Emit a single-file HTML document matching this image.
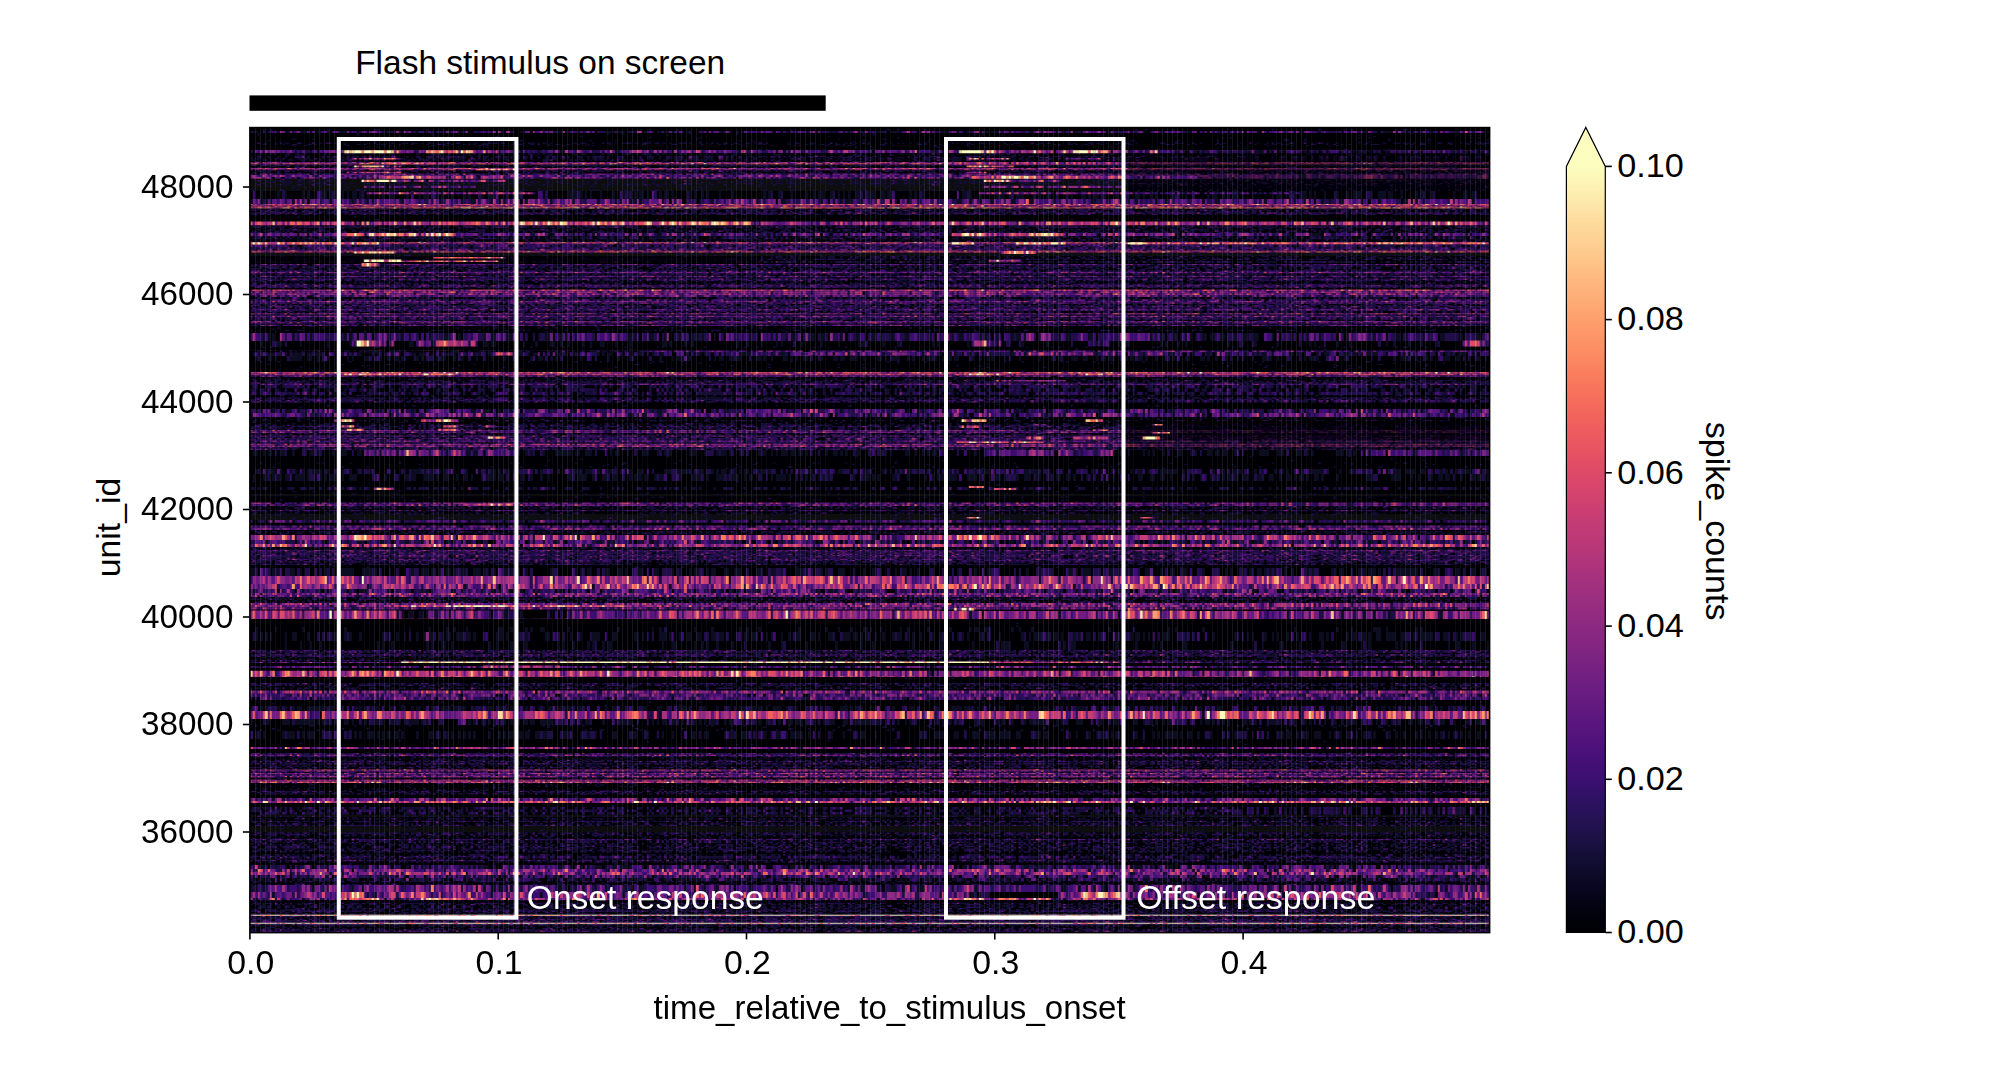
<!DOCTYPE html>
<html lang="en"><head><meta charset="utf-8"><title>Flash stimulus spike counts</title>
<style>html,body{margin:0;padding:0;background:#fff}body{width:1999px;height:1066px;overflow:hidden}svg{display:block}text{font-family:'Liberation Sans', sans-serif;font-size:33px;fill:#000}</style></head><body>
<svg width="1999" height="1066" viewBox="0 0 1999 1066">
<rect width="1999" height="1066" fill="#fff"/>
<text x="355.2" y="74.4" textLength="370" lengthAdjust="spacingAndGlyphs">Flash stimulus on screen</text>
<rect x="249.5" y="95.4" width="576.2" height="15.4" fill="#000"/>
<style>.q0{stroke:#000004}.q2{stroke:#0b0924}.q3{stroke:#140e36}.q4{stroke:#20114b}.q5{stroke:#2c115f}.q6{stroke:#3b0f70}.q7{stroke:#491078}.q8{stroke:#57157e}.q10{stroke:#721f81}.q11{stroke:#7e2482}.q12{stroke:#8c2981}.q14{stroke:#a8327d}.q15{stroke:#b73779}.q16{stroke:#c43c75}.q17{stroke:#d2426f}.q18{stroke:#de4968}.q19{stroke:#e95462}.q20{stroke:#f1605d}.q21{stroke:#f7705c}.q22{stroke:#fa7f5e}.q23{stroke:#fc9065}.q24{stroke:#fe9f6d}.q25{stroke:#feb078}.q26{stroke:#febf84}.q27{stroke:#fecf92}.q28{stroke:#fddea0}.q29{stroke:#fceeb0}.q30{stroke:#fcfdbf}</style>
<defs><g fill="none"><g id="r0_0"></g><g id="r0_1"></g><g id="r0_2"><path class="q3" d="M9 0h1"/></g><g id="r0_3"></g><g id="r0_4"></g><g id="r0_5"></g><g id="r1_0"><path class="q3" d="M20 0h1"/></g><g id="r1_1"></g><g id="r1_2"><path class="q3" d="M79 0h1"/></g><g id="r1_3"></g><g id="r1_4"><path class="q3" d="M20 0h1m52 0h1"/></g><g id="r1_5"></g><g id="r2_0"><path class="q3" d="M2 0h1m93 0h1"/></g><g id="r2_1"><path class="q3" d="M1 0h1"/></g><g id="r2_2"></g><g id="r2_3"></g><g id="r2_4"><path class="q3" d="M19 0h1m22 0h1"/></g><g id="r2_5"></g><g id="r3_0"><path class="q3" d="M53 0h1"/></g><g id="r3_1"></g><g id="r3_2"><path class="q3" d="M33 0h1"/></g><g id="r3_3"></g><g id="r3_4"><path class="q3" d="M60 0h1"/></g><g id="r3_5"><path class="q3" d="M60 0h1m38 0h1"/></g><g id="r4_0"><path class="q3" d="M44 0h1m5 0h1m26 0h1m18 0h1"/></g><g id="r4_1"><path class="q3" d="M9 0h1m30 0h1m57 0h1"/></g><g id="r4_2"><path class="q3" d="M3 0h1m39 0h1m29 0h1"/></g><g id="r4_3"><path class="q3" d="M68 0h1"/></g><g id="r4_4"><path class="q3" d="M61 0h1m19 0h1"/></g><g id="r4_5"><path class="q3" d="M47 0h1m3 0h1m40 0h1m2 0h1"/></g><g id="r5_0"><path class="q3" d="M17 0h2m6 0h1m33 0h1m15 0h1m23 0h1"/></g><g id="r5_1"><path class="q3" d="M80 0h1"/></g><g id="r5_2"><path class="q3" d="M20 0h1"/></g><g id="r5_3"><path class="q3" d="M7 0h1m29 0h1m17 0h2m17 0h1m15 0h1"/></g><g id="r5_4"><path class="q3" d="M37 0h1m9 0h1m49 0h1"/><path class="q4" d="M9 0h1"/></g><g id="r5_5"><path class="q3" d="M2 0h1m44 0h1"/></g><g id="r6_0"><path class="q3" d="M18 0h1m38 0h1m3 0h1m10 0h1"/></g><g id="r6_1"><path class="q3" d="M5 0h1m2 0h1m22 0h1m18 0h2m19 0h1"/></g><g id="r6_2"><path class="q3" d="M12 0h1m22 0h1m5 0h2m14 0h1m1 0h1m28 0h1"/><path class="q4" d="M94 0h1"/></g><g id="r6_3"><path class="q3" d="M4 0h1m6 0h1m15 0h1m1 0h1m10 0h1m19 0h1"/></g><g id="r6_4"><path class="q3" d="M12 0h1m28 0h1m2 0h1m17 0h1m2 0h2m7 0h1"/><path class="q4" d="M31 0h1"/></g><g id="r6_5"><path class="q3" d="M13 0h1m9 0h1m2 0h1m10 0h1m13 0h1m12 0h1m1 0h1m16 0h1m12 0h1m2 0h1"/></g><g id="r7_0"><path class="q3" d="M45 0h1m1 0h1m36 0h1"/></g><g id="r7_1"><path class="q3" d="M51 0h1m9 0h1m5 0h1m15 0h1m6 0h1"/><path class="q4" d="M1 0h1"/></g><g id="r7_2"><path class="q3" d="M1 0h1m17 0h1m16 0h1m6 0h1m16 0h1m6 0h1m6 0h1m11 0h1m8 0h1"/></g><g id="r7_3"><path class="q3" d="M10 0h1m61 0h1"/><path class="q4" d="M46 0h1"/></g><g id="r7_4"><path class="q3" d="M85 0h1"/><path class="q4" d="M94 0h1"/></g><g id="r7_5"><path class="q3" d="M10 0h1m27 0h1m4 0h1m30 0h1m17 0h2"/><path class="q4" d="M16 0h1"/></g><g id="r8_0"><path class="q3" d="M22 0h1m33 0h1m16 0h2m4 0h1m12 0h2m1 0h1"/><path class="q4" d="M17 0h1m21 0h1"/></g><g id="r8_1"><path class="q3" d="M1 0h1m16 0h1m1 0h1m8 0h1m4 0h1m49 0h1m1 0h1m7 0h1m4 0h1"/><path class="q4" d="M54 0h1"/></g><g id="r8_2"><path class="q3" d="M2 0h1m7 0h1m9 0h1m5 0h1m8 0h1m2 0h1m59 0h1"/></g><g id="r8_3"><path class="q3" d="M2 0h1m21 0h2m16 0h1m21 0h1m29 0h1"/><path class="q4" d="M98 0h1"/></g><g id="r8_4"><path class="q3" d="M0 0h1m32 0h1m19 0h1m6 0h1m12 0h2m3 0h1m5 0h1m11 0h1"/><path class="q4" d="M2 0h1m78 0h1"/></g><g id="r8_5"><path class="q3" d="M0 0h1m9 0h1m8 0h1m12 0h1m3 0h1m2 0h1m1 0h2m12 0h1m3 0h1m19 0h1"/><path class="q4" d="M21 0h1m67 0h1"/><path class="q5" d="M76 0h1"/></g><g id="r9_0"><path class="q3" d="M21 0h1m7 0h1m23 0h1m17 0h1m11 0h1m14 0h2"/><path class="q4" d="M11 0h1m48 0h1"/></g><g id="r9_1"><path class="q3" d="M2 0h1m2 0h1m10 0h1m23 0h1m8 0h1m1 0h1m1 0h2m36 0h1m3 0h1m2 0h1"/><path class="q4" d="M6 0h1m16 0h1m42 0h1m3 0h1"/><path class="q5" d="M19 0h1"/></g><g id="r9_2"><path class="q3" d="M7 0h1m12 0h2m10 0h1m4 0h2m4 0h1m2 0h1m7 0h1m9 0h2m6 0h1m10 0h1"/></g><g id="r9_3"><path class="q3" d="M6 0h1m7 0h1m2 0h1m10 0h1m13 0h1m20 0h1m13 0h1m8 0h1m11 0h1"/><path class="q4" d="M8 0h1m27 0h1"/></g><g id="r9_4"><path class="q3" d="M7 0h1m3 0h1m5 0h2m24 0h1m3 0h1m4 0h1m2 0h1m4 0h1m4 0h1m4 0h1m4 0h1m8 0h2m1 0h1"/><path class="q4" d="M5 0h1m51 0h1"/></g><g id="r9_5"><path class="q3" d="M0 0h1m7 0h1m19 0h1m30 0h1m2 0h1m30 0h1"/><path class="q4" d="M5 0h1m60 0h1m16 0h1"/></g><g id="r10_0"><path class="q3" d="M2 0h1m5 0h1m1 0h1m2 0h1m2 0h1m1 0h1m2 0h1m15 0h1m1 0h2m10 0h1m2 0h1m1 0h1m5 0h1m5 0h1m10 0h2m1 0h1m1 0h1m5 0h1"/><path class="q4" d="M30 0h1m32 0h2"/></g><g id="r10_1"><path class="q3" d="M0 0h1m4 0h1m11 0h1m10 0h1m2 0h1m6 0h1m5 0h2m2 0h1m5 0h1m4 0h1m7 0h1m1 0h3m1 0h1m24 0h2"/><path class="q4" d="M12 0h2m32 0h1m36 0h1m11 0h1"/><path class="q5" d="M43 0h1m14 0h1m21 0h1"/></g><g id="r10_2"><path class="q3" d="M2 0h2m3 0h1m4 0h1m8 0h1m5 0h1m10 0h1m5 0h1m1 0h1m12 0h1m1 0h1m3 0h1m4 0h1m1 0h2m9 0h1m2 0h2m1 0h1"/><path class="q4" d="M8 0h1m1 0h1m29 0h1m22 0h1m24 0h1"/></g><g id="r10_3"><path class="q3" d="M13 0h1m4 0h2m7 0h1m4 0h1m12 0h1m2 0h1m9 0h1m2 0h2m1 0h1m1 0h1m12 0h1m3 0h1m6 0h1"/><path class="q4" d="M7 0h1m64 0h1m2 0h1m11 0h1m9 0h1"/></g><g id="r10_4"><path class="q3" d="M3 0h1m10 0h2m4 0h2m18 0h1m16 0h1m15 0h2m1 0h2m8 0h1"/><path class="q4" d="M0 0h1m18 0h1m68 0h1m3 0h1"/></g><g id="r10_5"><path class="q3" d="M0 0h1m14 0h1m4 0h1m10 0h1m9 0h1m17 0h1m4 0h1m16 0h1m1 0h1m1 0h1m3 0h2m3 0h2"/><path class="q4" d="M8 0h1m12 0h1m39 0h1"/><path class="q7" d="M13 0h1"/></g><g id="r11_0"><path class="q3" d="M4 0h1m4 0h4m2 0h1m9 0h1m6 0h1m2 0h1m5 0h2m14 0h1m7 0h1m1 0h1m5 0h1m17 0h1m3 0h1m3 0h1"/><path class="q4" d="M7 0h1m16 0h1m11 0h1m6 0h1m20 0h1m1 0h1m17 0h1m4 0h1"/><path class="q5" d="M1 0h1m67 0h1"/></g><g id="r11_1"><path class="q3" d="M5 0h1m3 0h1m2 0h2m4 0h1m10 0h1m4 0h1m5 0h1m2 0h1m5 0h1m2 0h4m10 0h1m1 0h1m3 0h1m18 0h1m3 0h1m1 0h1"/><path class="q4" d="M16 0h1m56 0h1m10 0h1"/><path class="q5" d="M28 0h1m8 0h1"/></g><g id="r11_2"><path class="q3" d="M5 0h2m3 0h1m2 0h1m3 0h1m5 0h2m1 0h1m11 0h1m4 0h2m6 0h1m1 0h2m16 0h1m3 0h1m1 0h1m8 0h1m3 0h1m2 0h3"/><path class="q4" d="M18 0h1m27 0h1m13 0h1m4 0h1m15 0h1m6 0h1"/><path class="q5" d="M78 0h1"/><path class="q7" d="M76 0h1"/></g><g id="r11_3"><path class="q3" d="M5 0h1m11 0h1m6 0h1m1 0h1m3 0h2m4 0h2m1 0h1m3 0h1m5 0h1m4 0h1m14 0h1m2 0h1m5 0h1m2 0h1m7 0h1m1 0h1"/><path class="q4" d="M7 0h1m25 0h1m21 0h1"/><path class="q5" d="M70 0h1"/></g><g id="r11_4"><path class="q3" d="M6 0h3m5 0h1m5 0h1m2 0h2m3 0h1m3 0h1m3 0h1m8 0h1m12 0h2m10 0h1m14 0h1m11 0h1"/><path class="q4" d="M9 0h1m3 0h1m2 0h1m65 0h1m6 0h1m1 0h1m2 0h1"/><path class="q5" d="M71 0h1"/></g><g id="r11_5"><path class="q3" d="M2 0h1m10 0h2m8 0h1m1 0h1m7 0h1m3 0h1m6 0h1m2 0h1m3 0h1m14 0h1m1 0h1m2 0h1m5 0h1m2 0h1m2 0h1m7 0h1"/><path class="q4" d="M7 0h1m3 0h1m8 0h1m3 0h1m10 0h1m5 0h1"/><path class="q7" d="M45 0h1"/></g><g id="r12_0"><path class="q3" d="M6 0h1m3 0h1m2 0h2m1 0h1m2 0h1m1 0h1m8 0h2m1 0h3m2 0h1m6 0h1m1 0h1m2 0h2m3 0h2m1 0h1m1 0h2m1 0h1m2 0h2m1 0h1m4 0h1m6 0h1m2 0h1m3 0h1m3 0h1m2 0h2"/><path class="q4" d="M1 0h2m9 0h1m5 0h1m23 0h1m1 0h1m8 0h1m19 0h1m3 0h1m8 0h1"/><path class="q5" d="M52 0h1m11 0h1m10 0h1m15 0h1"/><path class="q7" d="M59 0h1"/></g><g id="r12_1"><path class="q3" d="M1 0h2m4 0h1m6 0h1m4 0h2m5 0h1m9 0h1m7 0h1m3 0h1m2 0h1m1 0h1m1 0h1m2 0h1m3 0h2m3 0h1m17 0h1"/><path class="q4" d="M5 0h1m19 0h1m8 0h1m11 0h1m24 0h1m8 0h1m15 0h1"/><path class="q5" d="M11 0h1m27 0h1m37 0h1m21 0h1"/><path class="q10" d="M75 0h1"/></g><g id="r12_2"><path class="q3" d="M2 0h1m10 0h1m1 0h1m3 0h1m1 0h1m3 0h2m8 0h1m2 0h1m1 0h2m4 0h1m1 0h1m4 0h2m4 0h1m14 0h1m1 0h1m2 0h1m3 0h1m6 0h1"/><path class="q4" d="M5 0h1m21 0h1m1 0h1m17 0h1m2 0h1m1 0h1m7 0h1m10 0h1m1 0h1m1 0h1m10 0h1"/><path class="q5" d="M30 0h1m5 0h1m51 0h1"/></g><g id="r12_3"><path class="q3" d="M6 0h1m3 0h1m3 0h2m12 0h1m1 0h1m3 0h1m3 0h1m8 0h1m13 0h2m3 0h2m1 0h1m3 0h1m1 0h1m4 0h1m7 0h1m1 0h2m2 0h2m1 0h1"/><path class="q4" d="M32 0h1m17 0h1m6 0h1m5 0h1m1 0h1m6 0h1m11 0h1m11 0h1m1 0h1"/><path class="q5" d="M12 0h1m6 0h2m58 0h1m3 0h1m15 0h1"/><path class="q7" d="M3 0h1m27 0h1"/><path class="q8" d="M25 0h1"/></g><g id="r12_4"><path class="q3" d="M1 0h1m1 0h1m13 0h1m3 0h1m5 0h1m8 0h1m3 0h1m3 0h1m13 0h1m2 0h1m1 0h1m2 0h1m2 0h1m15 0h1m1 0h1m2 0h1m3 0h1m3 0h2"/><path class="q4" d="M0 0h1m5 0h1m1 0h1m11 0h1m5 0h1m15 0h1m6 0h1m6 0h1m15 0h1m10 0h1m5 0h1m5 0h1"/><path class="q7" d="M5 0h1m28 0h1m12 0h1"/></g><g id="r12_5"><path class="q3" d="M8 0h1m1 0h1m7 0h2m1 0h1m10 0h1m5 0h1m2 0h2m2 0h1m3 0h2m1 0h1m1 0h1m2 0h1m16 0h3m6 0h1m8 0h2m5 0h1"/><path class="q4" d="M4 0h1m4 0h1m12 0h1m7 0h1m22 0h1m14 0h1m4 0h1m6 0h1"/><path class="q5" d="M39 0h1m27 0h1m22 0h1"/><path class="q7" d="M15 0h1"/></g><g id="r13_0"><path class="q3" d="M0 0h2m1 0h1m1 0h1m6 0h1m2 0h3m2 0h1m1 0h1m2 0h1m5 0h1m10 0h1m1 0h1m5 0h1m12 0h1m5 0h2m3 0h2m1 0h3m5 0h1m3 0h2m4 0h2"/><path class="q4" d="M6 0h1m17 0h1m3 0h1m8 0h1m1 0h1m1 0h1m5 0h1m6 0h1m9 0h1m1 0h1m1 0h1m13 0h1m8 0h1m2 0h1"/><path class="q5" d="M21 0h1m10 0h1m13 0h1m4 0h1m1 0h1m3 0h1m13 0h1"/><path class="q7" d="M34 0h1"/><path class="q8" d="M40 0h1"/><path class="q11" d="M88 0h1"/></g><g id="r13_1"><path class="q3" d="M1 0h2m2 0h2m10 0h1m1 0h1m1 0h2m3 0h2m1 0h2m3 0h2m1 0h2m2 0h1m2 0h1m2 0h2m2 0h3m11 0h1m4 0h1m3 0h1m1 0h1m3 0h1m3 0h1m3 0h1m10 0h1"/><path class="q4" d="M7 0h1m2 0h2m1 0h1m11 0h1m16 0h1m25 0h1m3 0h1m18 0h4"/><path class="q5" d="M15 0h1m15 0h1m13 0h1m29 0h1m1 0h1m11 0h2m6 0h1"/><path class="q10" d="M28 0h1"/></g><g id="r13_2"><path class="q3" d="M3 0h2m3 0h1m2 0h1m10 0h1m1 0h2m2 0h2m2 0h1m3 0h1m2 0h1m1 0h1m24 0h2m2 0h1m4 0h1m3 0h1m5 0h1m1 0h1m1 0h1m3 0h1m1 0h1m3 0h1"/><path class="q4" d="M5 0h1m1 0h1m7 0h1m1 0h1m16 0h1m8 0h2m9 0h1m10 0h1m22 0h1"/><path class="q5" d="M14 0h1m22 0h1m2 0h1m10 0h1m7 0h1m16 0h1"/><path class="q7" d="M55 0h1m4 0h1m12 0h1m12 0h1m11 0h1"/><path class="q8" d="M26 0h1m55 0h1"/></g><g id="r13_3"><path class="q3" d="M0 0h1m3 0h1m2 0h1m3 0h1m2 0h1m5 0h1m2 0h1m9 0h1m3 0h1m3 0h3m1 0h1m4 0h2m1 0h3m7 0h1m4 0h1m2 0h1m4 0h2m3 0h2m1 0h3m7 0h2"/><path class="q4" d="M3 0h1m27 0h1m35 0h1m5 0h1m1 0h1m3 0h1m3 0h1m5 0h1m2 0h1m6 0h1"/><path class="q5" d="M18 0h2m9 0h1m4 0h1m4 0h1m6 0h1m25 0h1m7 0h1"/><path class="q7" d="M57 0h2"/><path class="q8" d="M48 0h1"/><path class="q10" d="M21 0h1"/></g><g id="r13_4"><path class="q3" d="M7 0h3m4 0h2m4 0h1m6 0h2m6 0h2m4 0h1m4 0h1m3 0h1m10 0h1m1 0h1m1 0h1m3 0h1m5 0h1m2 0h2m1 0h1m5 0h1m4 0h2m5 0h1"/><path class="q4" d="M12 0h1m6 0h1m9 0h1m4 0h1m13 0h1m7 0h2m4 0h1m8 0h2m21 0h1"/><path class="q5" d="M3 0h1m18 0h1m37 0h1m6 0h1m23 0h1"/><path class="q7" d="M17 0h1"/><path class="q8" d="M18 0h1"/></g><g id="r13_5"><path class="q3" d="M2 0h2m1 0h1m2 0h1m2 0h1m4 0h1m2 0h2m2 0h1m4 0h1m3 0h2m2 0h1m1 0h1m1 0h1m1 0h1m1 0h1m4 0h1m4 0h1m5 0h3m2 0h1m3 0h1m1 0h2m1 0h1m3 0h2m3 0h4"/><path class="q4" d="M0 0h1m38 0h1m1 0h1m6 0h1m1 0h1m6 0h1m15 0h1m6 0h1m11 0h1m1 0h1"/><path class="q5" d="M10 0h1m2 0h1m8 0h1m45 0h1m28 0h1"/><path class="q7" d="M26 0h1m63 0h1"/><path class="q10" d="M77 0h1m11 0h1"/></g><g id="r14_0"><path class="q3" d="M8 0h1m2 0h1m5 0h1m4 0h2m5 0h1m1 0h1m2 0h1m6 0h1m8 0h1m2 0h1m8 0h3m7 0h1m9 0h1m1 0h2m9 0h1"/><path class="q4" d="M10 0h1m3 0h1m1 0h1m1 0h1m5 0h2m11 0h3m3 0h1m10 0h1m1 0h1m11 0h1m19 0h1m1 0h1m7 0h1"/><path class="q5" d="M4 0h1m1 0h2m1 0h1m18 0h1m4 0h1m10 0h1m21 0h1m2 0h2m3 0h1m2 0h1m3 0h1m7 0h1"/><path class="q7" d="M13 0h1m7 0h1m26 0h1m16 0h1m25 0h1m7 0h1"/><path class="q8" d="M94 0h1"/></g><g id="r14_1"><path class="q3" d="M2 0h1m2 0h3m4 0h1m6 0h1m1 0h2m2 0h1m5 0h1m1 0h4m3 0h1m5 0h1m11 0h1m3 0h7m1 0h1m3 0h1m1 0h1m2 0h1m5 0h1m4 0h1m1 0h1"/><path class="q4" d="M1 0h1m6 0h1m5 0h1m8 0h1m4 0h2m11 0h3m1 0h1m2 0h1m7 0h1m4 0h1m11 0h1m6 0h1m6 0h1m7 0h5"/><path class="q5" d="M3 0h1m12 0h1m32 0h2m2 0h2m14 0h1m2 0h1m5 0h1m12 0h1"/><path class="q7" d="M24 0h1m12 0h1m17 0h1m37 0h2"/><path class="q8" d="M10 0h1"/></g><g id="r14_2"><path class="q3" d="M2 0h1m1 0h1m2 0h1m1 0h1m2 0h1m4 0h1m2 0h1m2 0h1m4 0h1m3 0h1m4 0h1m14 0h1m2 0h2m3 0h2m1 0h1m8 0h1m3 0h1m6 0h1m1 0h1m3 0h1m2 0h3m3 0h1"/><path class="q4" d="M0 0h2m1 0h1m7 0h1m2 0h1m10 0h1m5 0h1m2 0h1m1 0h1m8 0h2m2 0h2m3 0h1m13 0h1m1 0h1m3 0h1m5 0h1m3 0h1m2 0h1"/><path class="q5" d="M10 0h1m36 0h2m4 0h1m11 0h1"/><path class="q7" d="M8 0h1m7 0h1m9 0h1m8 0h1m8 0h1m19 0h1m8 0h1"/><path class="q8" d="M38 0h1"/></g><g id="r14_3"><path class="q3" d="M10 0h1m2 0h1m3 0h1m1 0h1m7 0h1m2 0h1m6 0h1m1 0h1m8 0h1m23 0h1m13 0h3m9 0h1"/><path class="q4" d="M3 0h2m16 0h1m2 0h1m4 0h1m4 0h3m1 0h1m11 0h1m1 0h1m2 0h1m5 0h1m6 0h1m1 0h1m4 0h2m2 0h1m4 0h1m4 0h1m3 0h1"/><path class="q5" d="M2 0h1m3 0h1m2 0h1m18 0h1m2 0h1m1 0h1m9 0h1m5 0h1m4 0h1m11 0h1m16 0h1m12 0h1"/><path class="q7" d="M15 0h1m25 0h1m31 0h1m7 0h1"/><path class="q8" d="M64 0h1m27 0h1"/><path class="q10" d="M85 0h1"/></g><g id="r14_4"><path class="q3" d="M0 0h1m1 0h1m7 0h2m9 0h1m1 0h1m1 0h1m5 0h1m6 0h1m5 0h2m2 0h2m6 0h2m7 0h2m8 0h2m1 0h1m3 0h2m9 0h2m2 0h1"/><path class="q4" d="M1 0h1m2 0h2m8 0h1m27 0h1m17 0h1m1 0h1m4 0h1m11 0h1m8 0h1m9 0h1"/><path class="q5" d="M22 0h1m3 0h1m7 0h1m5 0h2m8 0h1m19 0h1m15 0h1m5 0h1"/><path class="q7" d="M7 0h1m10 0h1m27 0h1"/></g><g id="r14_5"><path class="q3" d="M6 0h1m1 0h1m4 0h1m4 0h1m1 0h1m6 0h1m3 0h4m4 0h1m1 0h2m6 0h1m1 0h1m10 0h1m6 0h1m1 0h1m1 0h1m11 0h2m7 0h1m3 0h1"/><path class="q4" d="M1 0h1m7 0h1m4 0h4m11 0h2m14 0h1m6 0h2m2 0h1m4 0h1m1 0h1m1 0h1m2 0h1m8 0h1m4 0h1m14 0h1"/><path class="q5" d="M2 0h1m4 0h1m2 0h1m10 0h1m1 0h1m4 0h1m38 0h1m6 0h1m3 0h2m12 0h1m3 0h1m2 0h1"/><path class="q7" d="M19 0h1m30 0h1m29 0h1m8 0h1"/><path class="q8" d="M72 0h1"/></g><g id="r15_0"><path class="q3" d="M0 0h2m4 0h3m1 0h3m8 0h1m16 0h3m6 0h1m4 0h2m2 0h1m4 0h1m4 0h1m5 0h2m1 0h1m2 0h3m2 0h2m5 0h1m1 0h1m4 0h1"/><path class="q4" d="M13 0h1m8 0h2m2 0h1m2 0h2m6 0h1m3 0h3m2 0h1m1 0h2m15 0h1m2 0h1m1 0h1m3 0h1m11 0h1m1 0h1m2 0h1m1 0h1m1 0h1"/><path class="q5" d="M2 0h1m6 0h1m9 0h2m3 0h2m2 0h1m2 0h2m3 0h1m7 0h1m13 0h2m16 0h1m21 0h1"/><path class="q7" d="M17 0h1m15 0h1m1 0h1m53 0h1m4 0h1m4 0h1"/><path class="q8" d="M3 0h1m23 0h1m59 0h1"/></g><g id="r15_1"><path class="q3" d="M2 0h1m1 0h1m3 0h1m6 0h1m1 0h2m4 0h1m12 0h3m6 0h1m1 0h1m1 0h1m1 0h1m1 0h1m1 0h1m2 0h1m3 0h1m1 0h1m10 0h1m1 0h2m2 0h1m4 0h1m2 0h1m1 0h2m1 0h1"/><path class="q4" d="M0 0h1m11 0h1m1 0h1m1 0h1m9 0h1m8 0h1m12 0h1m1 0h1m3 0h1m2 0h1m1 0h1m6 0h1m12 0h2m3 0h1"/><path class="q5" d="M7 0h1m2 0h1m2 0h1m14 0h2m22 0h1m14 0h1m2 0h1m12 0h1m15 0h1"/><path class="q7" d="M1 0h1m3 0h2m4 0h1m9 0h1m3 0h1m14 0h1m20 0h1m7 0h1m1 0h1m10 0h1m7 0h1"/><path class="q8" d="M19 0h1m12 0h1"/><path class="q11" d="M22 0h1"/></g><g id="r15_2"><path class="q3" d="M3 0h1m5 0h2m2 0h1m7 0h3m1 0h1m5 0h1m6 0h1m1 0h1m1 0h1m1 0h1m2 0h1m2 0h1m1 0h1m2 0h1m7 0h3m7 0h2m4 0h1m3 0h1m3 0h1m4 0h1m2 0h1m3 0h1"/><path class="q4" d="M0 0h3m1 0h2m10 0h4m6 0h2m5 0h1m9 0h1m1 0h1m8 0h1m6 0h1m16 0h1m3 0h1m2 0h1m5 0h1m2 0h1m3 0h1"/><path class="q5" d="M7 0h1m3 0h1m16 0h1m19 0h1m17 0h1m2 0h2m10 0h1m6 0h1"/><path class="q7" d="M36 0h1m2 0h1m6 0h1m10 0h1m2 0h1m10 0h2m2 0h1m8 0h1m5 0h1m2 0h1"/><path class="q8" d="M8 0h1m5 0h1m14 0h1m37 0h1m18 0h1"/></g><g id="r15_3"><path class="q3" d="M1 0h2m5 0h1m4 0h1m1 0h1m4 0h1m1 0h1m2 0h1m2 0h1m5 0h1m5 0h1m2 0h1m3 0h2m1 0h2m4 0h2m6 0h1m7 0h1m2 0h2m6 0h1m1 0h1m1 0h1m3 0h1"/><path class="q4" d="M4 0h1m5 0h1m5 0h1m1 0h2m6 0h1m4 0h1m5 0h1m4 0h1m1 0h2m7 0h1m6 0h1m2 0h1m1 0h1m1 0h2m9 0h1m1 0h3m6 0h1m3 0h1m1 0h2m1 0h2"/><path class="q5" d="M0 0h1m6 0h1m6 0h1m21 0h1m1 0h1m2 0h1m10 0h1m1 0h1m14 0h2m19 0h1m3 0h1"/><path class="q7" d="M39 0h1m33 0h1"/><path class="q8" d="M17 0h1m5 0h1"/><path class="q10" d="M5 0h1m6 0h1m49 0h1"/></g><g id="r15_4"><path class="q3" d="M6 0h1m1 0h1m3 0h1m2 0h1m11 0h1m1 0h1m2 0h2m2 0h2m6 0h1m11 0h1m1 0h1m5 0h1m5 0h1m2 0h1m2 0h1m4 0h10m1 0h1m1 0h1m4 0h1"/><path class="q4" d="M7 0h1m2 0h2m4 0h2m1 0h1m2 0h1m3 0h1m8 0h1m2 0h2m3 0h1m1 0h1m3 0h1m1 0h1m3 0h1m5 0h1m3 0h1m3 0h1m7 0h1m15 0h1"/><path class="q5" d="M2 0h1m18 0h1m2 0h1m21 0h1m5 0h1m27 0h1m17 0h1"/><path class="q7" d="M0 0h2m1 0h1m10 0h1m3 0h1m6 0h1m15 0h2m5 0h1m11 0h1m6 0h1m4 0h1m18 0h1m5 0h1"/><path class="q8" d="M28 0h1m24 0h1m20 0h1m21 0h1"/><path class="q10" d="M9 0h1"/><path class="q11" d="M47 0h1"/></g><g id="r15_5"><path class="q3" d="M11 0h1m11 0h1m3 0h1m3 0h1m7 0h1m2 0h1m7 0h1m1 0h1m1 0h1m5 0h1m1 0h1m3 0h1m8 0h1m1 0h1m3 0h2m5 0h1m2 0h1m1 0h2m2 0h1"/><path class="q4" d="M4 0h1m3 0h2m6 0h1m2 0h1m1 0h1m3 0h1m7 0h1m1 0h3m5 0h3m1 0h1m1 0h1m6 0h2m1 0h1m3 0h1m1 0h1m1 0h1m2 0h2m2 0h1m5 0h1m3 0h1m11 0h1m1 0h1"/><path class="q5" d="M2 0h1m4 0h1m2 0h1m1 0h1m2 0h1m2 0h1m9 0h1m3 0h1m5 0h1m1 0h2m4 0h1m1 0h1m2 0h1m1 0h1m31 0h1m13 0h1"/><path class="q7" d="M3 0h1m9 0h1m8 0h1m11 0h1m43 0h2"/><path class="q8" d="M58 0h1m9 0h1m14 0h1m8 0h1"/></g><g id="r16_0"><path class="q3" d="M5 0h1m1 0h2m21 0h3m3 0h2m7 0h1m2 0h2m7 0h2m1 0h1m19 0h2m3 0h1m2 0h1m9 0h1"/><path class="q4" d="M1 0h1m8 0h1m4 0h1m1 0h2m2 0h2m2 0h1m9 0h1m2 0h1m5 0h1m2 0h1m2 0h2m1 0h1m5 0h1m2 0h1m1 0h2m3 0h1m2 0h3m7 0h1m4 0h1m2 0h1m4 0h1"/><path class="q5" d="M12 0h2m13 0h2m4 0h1m8 0h1m3 0h1m9 0h1m6 0h1m2 0h1m10 0h1m1 0h1m3 0h1m2 0h1m4 0h2m6 0h1"/><path class="q7" d="M3 0h2m4 0h1m1 0h1m2 0h1m8 0h2m1 0h1m12 0h2m11 0h1m1 0h2m14 0h1m23 0h1"/><path class="q8" d="M2 0h1m26 0h1m37 0h1m7 0h1m20 0h1"/><path class="q10" d="M34 0h1"/><path class="q11" d="M0 0h1"/><path class="q12" d="M6 0h1"/><path class="q14" d="M93 0h1"/></g><g id="r16_1"><path class="q3" d="M2 0h1m3 0h1m3 0h1m2 0h1m1 0h1m1 0h1m21 0h2m5 0h1m5 0h1m1 0h1m4 0h1m1 0h2m1 0h1m7 0h1m3 0h1m1 0h2m1 0h1m4 0h1m7 0h1m3 0h1"/><path class="q4" d="M4 0h1m6 0h1m2 0h1m4 0h1m1 0h1m5 0h1m4 0h2m2 0h1m5 0h1m6 0h1m27 0h1m2 0h1m1 0h1m7 0h1m5 0h1m2 0h1"/><path class="q5" d="M0 0h1m2 0h1m1 0h1m2 0h1m9 0h1m5 0h2m4 0h1m3 0h1m8 0h2m2 0h1m5 0h1m3 0h1m13 0h1m13 0h1m11 0h1"/><path class="q7" d="M22 0h2m11 0h1m5 0h1m9 0h1m11 0h1m1 0h1m8 0h1m12 0h1m1 0h1m3 0h1"/><path class="q8" d="M16 0h1m9 0h1m10 0h1m12 0h1m5 0h1m1 0h1m14 0h1m9 0h1"/><path class="q10" d="M1 0h1m10 0h1m47 0h1m30 0h1"/><path class="q11" d="M68 0h1m23 0h1"/></g><g id="r16_2"><path class="q3" d="M6 0h2m16 0h1m1 0h1m1 0h1m7 0h1m12 0h1m2 0h1m2 0h1m7 0h1m11 0h1m2 0h1m1 0h2m10 0h1"/><path class="q4" d="M2 0h1m7 0h1m3 0h3m6 0h1m1 0h1m3 0h1m15 0h1m1 0h2m1 0h1m2 0h1m2 0h1m3 0h1m1 0h1m1 0h1m6 0h1m1 0h1m9 0h1m6 0h2m4 0h4"/><path class="q5" d="M8 0h1m3 0h1m8 0h2m14 0h1m1 0h1m17 0h1m10 0h1m3 0h1m9 0h1m3 0h1m1 0h2"/><path class="q7" d="M0 0h1m4 0h1m14 0h1m11 0h1m8 0h1m9 0h1m9 0h1m3 0h1m4 0h1m5 0h2m1 0h1m4 0h1"/><path class="q8" d="M3 0h1m14 0h1m12 0h1m6 0h1m5 0h1m13 0h1m7 0h1m26 0h1"/><path class="q10" d="M9 0h1m7 0h1m16 0h1m5 0h1m1 0h1m31 0h1"/><path class="q12" d="M85 0h1"/></g><g id="r16_3"><path class="q3" d="M2 0h1m1 0h1m1 0h1m14 0h1m7 0h1m3 0h1m4 0h1m3 0h1m1 0h2m9 0h2m2 0h1m8 0h1m9 0h1m1 0h1m5 0h1m3 0h1"/><path class="q4" d="M7 0h2m1 0h1m16 0h1m4 0h1m2 0h1m4 0h2m6 0h2m4 0h1m6 0h1m4 0h2m3 0h1m4 0h2m1 0h1m1 0h2m6 0h1m3 0h1m4 0h1"/><path class="q5" d="M3 0h1m1 0h1m6 0h1m5 0h1m7 0h1m4 0h1m4 0h1m13 0h1m1 0h2m6 0h1m4 0h1m3 0h1m3 0h2m9 0h1"/><path class="q7" d="M11 0h1m2 0h1m5 0h1m3 0h1m14 0h1m30 0h1m12 0h1m8 0h1"/><path class="q8" d="M1 0h1m45 0h1m14 0h2m8 0h1m2 0h1m11 0h2m5 0h2"/><path class="q10" d="M57 0h1"/></g><g id="r16_4"><path class="q3" d="M11 0h1m13 0h1m9 0h1m2 0h2m16 0h1m1 0h1m2 0h1m5 0h1m10 0h1m4 0h1m2 0h1m2 0h1m4 0h1"/><path class="q4" d="M5 0h1m7 0h1m3 0h1m4 0h1m6 0h1m2 0h2m3 0h1m2 0h1m7 0h1m2 0h2m6 0h1m12 0h1m1 0h1m2 0h1m9 0h1m2 0h3m5 0h1"/><path class="q5" d="M7 0h2m1 0h1m1 0h1m1 0h2m3 0h2m2 0h1m3 0h1m2 0h1m10 0h1m3 0h1m7 0h1m3 0h1m5 0h2m4 0h2m2 0h1m1 0h1m3 0h1m1 0h1m11 0h1m2 0h1m2 0h1"/><path class="q7" d="M0 0h1m1 0h1m23 0h1m1 0h1m7 0h1m5 0h1m12 0h1m4 0h1m7 0h1m11 0h1m7 0h1m8 0h1"/><path class="q8" d="M1 0h1m14 0h1m49 0h1"/><path class="q10" d="M3 0h1m14 0h1m31 0h1"/><path class="q11" d="M43 0h1"/><path class="q12" d="M82 0h1"/></g><g id="r16_5"><path class="q3" d="M2 0h1m7 0h1m3 0h1m1 0h1m4 0h1m4 0h1m2 0h1m7 0h3m1 0h1m13 0h3m2 0h1m3 0h1m1 0h1m9 0h1m10 0h2m3 0h1m5 0h1"/><path class="q4" d="M0 0h2m5 0h2m14 0h2m9 0h2m11 0h1m6 0h1m4 0h1m1 0h1m6 0h1m1 0h2m8 0h1m3 0h1m1 0h1m3 0h1m2 0h1m2 0h2"/><path class="q5" d="M6 0h1m2 0h1m2 0h1m6 0h1m12 0h1m7 0h1m3 0h2m3 0h1m2 0h1m5 0h1m8 0h1m6 0h2m1 0h1m1 0h1m2 0h1m16 0h1"/><path class="q7" d="M11 0h1m5 0h1m7 0h1m2 0h1m1 0h1m11 0h2m29 0h1m11 0h1"/><path class="q8" d="M4 0h1m31 0h1m11 0h1m45 0h1"/><path class="q10" d="M33 0h1m44 0h1"/><path class="q11" d="M15 0h1"/><path class="q12" d="M27 0h1"/></g><g id="r17_0"><path class="q3" d="M9 0h1m2 0h3m10 0h1m19 0h1m6 0h1m4 0h3m6 0h1m1 0h1m3 0h1m4 0h1m1 0h1m4 0h1m9 0h1"/><path class="q4" d="M3 0h1m3 0h2m1 0h1m5 0h1m6 0h2m2 0h1m5 0h1m4 0h2m2 0h1m3 0h1m2 0h1m1 0h1m4 0h1m5 0h2m1 0h1m3 0h1m1 0h1m3 0h1m17 0h1m4 0h1"/><path class="q5" d="M0 0h2m2 0h1m14 0h1m1 0h1m6 0h4m11 0h1m3 0h1m22 0h1m5 0h1m4 0h2m3 0h1m8 0h3"/><path class="q7" d="M6 0h1m13 0h1m1 0h1m17 0h1m3 0h1m5 0h1m27 0h1m4 0h1m3 0h2m3 0h1m6 0h1"/><path class="q8" d="M5 0h1m9 0h1m10 0h1m5 0h1m2 0h2m16 0h1m26 0h1m8 0h1"/><path class="q10" d="M61 0h1m5 0h1m6 0h1"/><path class="q11" d="M18 0h1m15 0h1m25 0h1m3 0h1m8 0h1"/><path class="q12" d="M54 0h1m35 0h1"/><path class="q15" d="M17 0h1"/></g><g id="r17_1"><path class="q3" d="M2 0h1m6 0h1m24 0h2m3 0h1m2 0h2m5 0h1m7 0h2m4 0h1m18 0h1m8 0h1m2 0h1m2 0h1"/><path class="q4" d="M4 0h1m15 0h2m5 0h1m4 0h1m19 0h2m7 0h1m2 0h2m3 0h1m2 0h2m2 0h1m4 0h1m1 0h1m2 0h1"/><path class="q5" d="M3 0h1m2 0h1m4 0h2m3 0h2m20 0h1m8 0h1m8 0h1m2 0h1m2 0h1m3 0h1m12 0h1m10 0h1m5 0h1m1 0h1"/><path class="q7" d="M0 0h2m5 0h2m1 0h1m14 0h2m10 0h1m12 0h1m9 0h1m13 0h1m9 0h2m7 0h1m5 0h1"/><path class="q8" d="M5 0h1m18 0h1m19 0h1m6 0h1m23 0h1m1 0h2m8 0h1m7 0h1"/><path class="q10" d="M14 0h1m4 0h1m3 0h1m16 0h1m5 0h1m21 0h1"/><path class="q11" d="M33 0h1m21 0h1m32 0h1m3 0h1"/><path class="q12" d="M41 0h1"/><path class="q15" d="M45 0h1m21 0h1"/></g><g id="r17_2"><path class="q3" d="M16 0h3m3 0h1m2 0h1m1 0h2m7 0h1m5 0h1m34 0h1m3 0h1m2 0h1m4 0h2m6 0h1m1 0h1"/><path class="q4" d="M2 0h1m1 0h1m8 0h2m6 0h1m8 0h1m2 0h1m4 0h1m5 0h2m3 0h1m7 0h1m1 0h1m2 0h2m7 0h2m12 0h1m1 0h2m3 0h1"/><path class="q5" d="M0 0h2m7 0h1m1 0h2m2 0h1m4 0h1m2 0h1m8 0h1m1 0h1m5 0h1m2 0h1m3 0h1m5 0h1m14 0h1m5 0h1m19 0h1m1 0h1m1 0h1"/><path class="q7" d="M6 0h1m3 0h1m30 0h1m4 0h1m11 0h1m2 0h1m3 0h1m1 0h1m2 0h1m8 0h1m6 0h1m6 0h1"/><path class="q8" d="M7 0h2m17 0h1m2 0h1m20 0h1m1 0h1m1 0h2m17 0h1m1 0h2m18 0h1"/><path class="q10" d="M5 0h1m29 0h1m30 0h1"/><path class="q11" d="M39 0h1m38 0h1"/><path class="q12" d="M37 0h1m22 0h1m3 0h1m4 0h1"/><path class="q14" d="M83 0h1m7 0h1"/></g><g id="r17_3"><path class="q3" d="M1 0h1m12 0h1m1 0h1m2 0h4m2 0h1m1 0h1m14 0h1m5 0h1m12 0h1m1 0h1m1 0h1m1 0h2m2 0h2m8 0h2m8 0h1"/><path class="q4" d="M3 0h2m1 0h1m6 0h1m18 0h1m1 0h1m4 0h1m7 0h1m3 0h1m6 0h1m1 0h1m1 0h1m7 0h1m3 0h1m3 0h1m5 0h1m3 0h1m1 0h1m1 0h2m1 0h1m1 0h1"/><path class="q5" d="M0 0h1m7 0h2m16 0h1m4 0h1m1 0h1m1 0h2m1 0h1m5 0h3m3 0h1m1 0h1m2 0h1m1 0h1m11 0h1m3 0h1m5 0h1m5 0h3m10 0h1"/><path class="q7" d="M2 0h1m7 0h1m17 0h1m14 0h1m9 0h1m2 0h1m9 0h1m9 0h1m6 0h1m5 0h1m6 0h1"/><path class="q8" d="M11 0h2m2 0h1m2 0h1m4 0h1m25 0h1"/><path class="q10" d="M5 0h1m18 0h1m29 0h1m4 0h1"/><path class="q11" d="M17 0h1m46 0h1m10 0h1m18 0h1"/><path class="q12" d="M41 0h1"/></g><g id="r17_4"><path class="q3" d="M3 0h1m18 0h3m3 0h1m8 0h1m12 0h1m2 0h1m10 0h2m18 0h1m6 0h1m4 0h1"/><path class="q4" d="M4 0h1m10 0h1m2 0h1m2 0h1m8 0h2m1 0h1m13 0h1m6 0h1m5 0h1m1 0h1m3 0h1m3 0h1m6 0h1m2 0h2m1 0h1m6 0h1m1 0h1m2 0h1m1 0h3"/><path class="q5" d="M5 0h1m1 0h1m6 0h1m11 0h1m8 0h2m5 0h1m3 0h1m1 0h1m3 0h1m4 0h1m5 0h1m5 0h1m17 0h1m1 0h1"/><path class="q7" d="M0 0h1m18 0h2m4 0h1m3 0h1m4 0h1m10 0h1m5 0h1m7 0h1m7 0h2m6 0h2m1 0h1m6 0h2m6 0h2"/><path class="q8" d="M12 0h1m26 0h1m4 0h1m4 0h1m5 0h1m15 0h4m4 0h1"/><path class="q10" d="M11 0h1m26 0h1m1 0h1m15 0h1m1 0h1"/><path class="q11" d="M10 0h1m2 0h1m2 0h1m10 0h1m4 0h1"/><path class="q12" d="M8 0h1"/><path class="q14" d="M82 0h1"/></g><g id="r17_5"><path class="q3" d="M5 0h1m14 0h1m1 0h1m2 0h1m5 0h2m6 0h1m13 0h1m4 0h1m6 0h1m10 0h1m11 0h1"/><path class="q4" d="M0 0h2m2 0h1m1 0h2m4 0h2m2 0h1m2 0h1m3 0h2m2 0h1m7 0h2m6 0h1m1 0h2m1 0h1m8 0h1m1 0h1m7 0h1m12 0h2m7 0h1m3 0h3m1 0h1"/><path class="q5" d="M14 0h2m1 0h2m2 0h1m15 0h1m3 0h1m14 0h1m7 0h1m5 0h3m17 0h1m1 0h1m3 0h1m1 0h2"/><path class="q7" d="M3 0h1m22 0h1m6 0h2m5 0h1m3 0h1m2 0h1m1 0h1m19 0h1m4 0h1m7 0h2m1 0h2"/><path class="q8" d="M28 0h1m1 0h1m7 0h1"/><path class="q10" d="M11 0h1m30 0h1m8 0h2m1 0h1m5 0h2m11 0h1m5 0h1m7 0h1m3 0h1"/><path class="q11" d="M8 0h1m20 0h1m45 0h1"/><path class="q12" d="M84 0h1"/></g><g id="r18_0"><path class="q3" d="M0 0h1m10 0h1m13 0h1m27 0h1m15 0h2m9 0h1"/><path class="q4" d="M14 0h1m5 0h1m11 0h1m7 0h2m5 0h1m6 0h1m6 0h1m11 0h1m7 0h1m2 0h1m6 0h1m3 0h1m1 0h1"/><path class="q5" d="M15 0h1m2 0h1m9 0h2m3 0h1m2 0h3m5 0h1m6 0h2m3 0h1m14 0h1m6 0h1m3 0h1m16 0h1"/><path class="q7" d="M2 0h1m1 0h1m3 0h1m8 0h1m12 0h1m35 0h1m1 0h1m3 0h1m1 0h2m9 0h1m1 0h3m6 0h1m1 0h1"/><path class="q8" d="M12 0h2m12 0h1m4 0h1m2 0h2m3 0h1m6 0h1m8 0h1m7 0h1m1 0h1m17 0h1m2 0h1m3 0h1m2 0h1"/><path class="q10" d="M10 0h1m10 0h1m21 0h1m5 0h2m9 0h1m16 0h1m14 0h1m1 0h1"/><path class="q11" d="M5 0h2m2 0h1m6 0h1m5 0h1m19 0h1m2 0h1m2 0h1m8 0h2m5 0h1m2 0h1m8 0h1m2 0h1"/><path class="q12" d="M59 0h1"/><path class="q14" d="M19 0h1m7 0h1m34 0h1"/></g><g id="r18_1"><path class="q3" d="M16 0h1m2 0h1m28 0h1m13 0h1m5 0h1m2 0h1m12 0h1"/><path class="q4" d="M3 0h1m11 0h1m5 0h1m3 0h1m4 0h1m1 0h1m12 0h1m5 0h1m1 0h1m18 0h1m2 0h1m4 0h1"/><path class="q5" d="M1 0h1m5 0h1m1 0h3m2 0h1m8 0h1m14 0h1m2 0h1m7 0h1m7 0h1m6 0h1m11 0h1m6 0h1m3 0h1m9 0h1"/><path class="q7" d="M5 0h1m2 0h1m13 0h1m4 0h2m4 0h1m10 0h1m9 0h1m1 0h1m6 0h1m13 0h1m8 0h1m5 0h1"/><path class="q8" d="M2 0h1m1 0h1m7 0h2m4 0h1m7 0h1m9 0h1m5 0h1m3 0h1m12 0h1m1 0h1m3 0h1m1 0h1m2 0h1m2 0h1m5 0h1m8 0h1m1 0h2"/><path class="q10" d="M17 0h1m11 0h1m5 0h1m1 0h1m2 0h1m6 0h1m4 0h1m2 0h1m2 0h1m1 0h1m5 0h1m11 0h1m2 0h1m11 0h1m1 0h1m2 0h1"/><path class="q11" d="M0 0h1m5 0h1m24 0h1m7 0h1m3 0h1m25 0h1m4 0h1m19 0h1m1 0h1"/><path class="q12" d="M20 0h1m29 0h1m31 0h1m6 0h1"/><path class="q15" d="M24 0h1"/></g><g id="r18_2"><path class="q3" d="M13 0h1m13 0h2m24 0h1m16 0h1m14 0h1m9 0h1"/><path class="q4" d="M2 0h1m4 0h1m2 0h1m7 0h1m6 0h1m7 0h2m14 0h1m13 0h1m2 0h1m7 0h1m3 0h1m5 0h1m2 0h1m5 0h2m2 0h1"/><path class="q5" d="M0 0h1m8 0h1m1 0h2m1 0h2m5 0h2m7 0h3m14 0h1m3 0h2m2 0h1m11 0h1m4 0h1m7 0h1m9 0h3m3 0h1"/><path class="q7" d="M16 0h2m11 0h1m9 0h1m4 0h1m1 0h1m1 0h1m7 0h2m6 0h1m4 0h1m1 0h1m10 0h1m5 0h1m10 0h1"/><path class="q8" d="M4 0h1m14 0h2m14 0h2m1 0h1m4 0h1m1 0h1m22 0h1m8 0h1"/><path class="q10" d="M5 0h1m2 0h1m14 0h1m2 0h1m13 0h1m1 0h1m11 0h1m4 0h3m3 0h1m7 0h1m2 0h1m4 0h1m7 0h1"/><path class="q11" d="M41 0h1m8 0h1m28 0h1"/><path class="q12" d="M6 0h1m30 0h1m45 0h1"/><path class="q14" d="M58 0h1"/><path class="q15" d="M62 0h1m23 0h1"/></g><g id="r18_3"><path class="q3" d="M11 0h1m1 0h1m4 0h1m24 0h1m11 0h1m2 0h1m21 0h1m5 0h1"/><path class="q4" d="M6 0h1m12 0h1m1 0h2m7 0h1m8 0h2m6 0h1m5 0h1m2 0h1m17 0h1m6 0h1m5 0h1m1 0h1"/><path class="q5" d="M12 0h1m1 0h2m1 0h1m13 0h1m5 0h1m11 0h1m7 0h1m6 0h1m8 0h1m8 0h1m8 0h1m4 0h1m2 0h1"/><path class="q7" d="M0 0h1m1 0h2m1 0h1m3 0h1m15 0h1m3 0h1m8 0h1m5 0h1m14 0h3m1 0h1m3 0h2m21 0h1m4 0h1"/><path class="q8" d="M1 0h1m2 0h1m15 0h1m3 0h1m3 0h1m4 0h3m10 0h1m7 0h1m11 0h1m8 0h1m9 0h1m2 0h1m5 0h1m3 0h1"/><path class="q10" d="M32 0h1m12 0h1m4 0h2m13 0h1m3 0h2m5 0h2m15 0h1"/><path class="q11" d="M23 0h1m3 0h1m14 0h1m19 0h1m16 0h1m3 0h1"/><path class="q12" d="M10 0h1m15 0h1m9 0h1m11 0h1m22 0h1m6 0h1m5 0h1m12 0h1"/><path class="q14" d="M8 0h1m7 0h1m35 0h1"/><path class="q16" d="M72 0h1"/></g><g id="r18_4"><path class="q3" d="M16 0h1m6 0h3m16 0h1m3 0h1m16 0h2m8 0h1m3 0h1m14 0h1m2 0h1"/><path class="q4" d="M6 0h1m4 0h1m5 0h1m11 0h2m4 0h1m9 0h1m3 0h1m6 0h2m3 0h1m5 0h1"/><path class="q5" d="M0 0h3m5 0h1m4 0h1m4 0h2m2 0h1m20 0h1m3 0h1m11 0h1m14 0h2m6 0h1m2 0h1m2 0h1m10 0h1"/><path class="q7" d="M3 0h1m3 0h1m4 0h1m2 0h1m4 0h2m6 0h1m4 0h1m2 0h1m2 0h1m4 0h1m3 0h1m2 0h1m8 0h1m5 0h1m4 0h2m3 0h1m2 0h1m3 0h1"/><path class="q8" d="M4 0h2m25 0h1m6 0h1m2 0h1m12 0h1m3 0h1m3 0h1m5 0h2m8 0h1m7 0h1m4 0h1m2 0h1"/><path class="q10" d="M9 0h2m21 0h1m1 0h1m2 0h1m14 0h2m27 0h1m7 0h1m7 0h1"/><path class="q11" d="M27 0h1m52 0h1m6 0h1m5 0h1"/><path class="q12" d="M40 0h1m9 0h1m33 0h1m5 0h1"/><path class="q14" d="M26 0h1m28 0h1m42 0h1"/><path class="q15" d="M14 0h1m55 0h1"/></g><g id="r18_5"><path class="q3" d="M6 0h1m18 0h1m1 0h1m23 0h1m26 0h1m17 0h1"/><path class="q4" d="M1 0h1m28 0h2m3 0h1m4 0h1m2 0h1m1 0h1m4 0h1m1 0h1m1 0h1m2 0h4m14 0h1m1 0h1m15 0h1"/><path class="q5" d="M0 0h1m1 0h1m7 0h1m2 0h1m1 0h1m18 0h1m20 0h1m6 0h1m5 0h1m10 0h1m2 0h2m7 0h1m2 0h1"/><path class="q7" d="M4 0h1m6 0h1m4 0h2m1 0h1m2 0h1m1 0h1m1 0h1m2 0h1m2 0h1m3 0h1m1 0h1m2 0h2m13 0h1m6 0h1m1 0h1m3 0h1m14 0h1m2 0h1m4 0h1m2 0h1m1 0h3"/><path class="q8" d="M9 0h1m4 0h1m8 0h1m15 0h1m8 0h2m11 0h1m5 0h1m3 0h1m1 0h2m6 0h1m3 0h1m4 0h1"/><path class="q10" d="M7 0h1m45 0h1m10 0h1m7 0h1m15 0h2"/><path class="q11" d="M18 0h1m18 0h1m38 0h1m9 0h1"/><path class="q12" d="M5 0h1m2 0h1m19 0h1m17 0h1m19 0h1m13 0h1"/><path class="q14" d="M20 0h1"/></g><g id="r19_0"><path class="q3" d="M26 0h1m7 0h1m6 0h1m26 0h1m16 0h1m9 0h1"/><path class="q4" d="M27 0h1m18 0h1m1 0h1m11 0h1m3 0h1m12 0h1m14 0h1"/><path class="q5" d="M3 0h2m10 0h1m7 0h1m1 0h1m11 0h1m4 0h2m1 0h1m8 0h1m6 0h1m8 0h1m2 0h1m2 0h1m4 0h1m1 0h1m2 0h1"/><path class="q7" d="M8 0h1m2 0h1m2 0h1m1 0h1m5 0h1m6 0h1m6 0h1m12 0h1m1 0h1m3 0h1m2 0h1m8 0h1m1 0h1m2 0h1m1 0h2m2 0h1m5 0h1m9 0h1m1 0h1"/><path class="q8" d="M7 0h1m10 0h2m1 0h1m8 0h4m1 0h1m3 0h2m15 0h1m5 0h1m8 0h1m8 0h1m12 0h1"/><path class="q10" d="M0 0h1m1 0h1m6 0h1m10 0h1m23 0h1m7 0h1m6 0h1m3 0h1m15 0h1m10 0h1m6 0h2"/><path class="q11" d="M38 0h1m8 0h1m18 0h1m20 0h2m10 0h1"/><path class="q12" d="M6 0h1m6 0h1m14 0h1m24 0h1m3 0h1"/><path class="q14" d="M1 0h1m8 0h1m13 0h1m57 0h1"/><path class="q15" d="M17 0h1m71 0h1"/><path class="q16" d="M5 0h1m6 0h1m37 0h1m14 0h1"/></g><g id="r19_1"><path class="q3" d="M30 0h1m14 0h1m37 0h1"/><path class="q4" d="M10 0h1m4 0h3m8 0h1m16 0h1m13 0h1m9 0h1m2 0h1m5 0h1m1 0h2m1 0h1m6 0h1"/><path class="q5" d="M0 0h1m1 0h1m9 0h1m5 0h1m25 0h1m3 0h1m5 0h1m7 0h1m9 0h1m16 0h1m3 0h2m4 0h1"/><path class="q7" d="M3 0h2m9 0h1m5 0h1m3 0h1m9 0h1m2 0h1m2 0h1m1 0h1m23 0h1m2 0h1m21 0h2"/><path class="q8" d="M5 0h2m4 0h1m7 0h1m5 0h1m7 0h1m15 0h1m1 0h3m5 0h1m1 0h1m2 0h1m20 0h1m12 0h1"/><path class="q10" d="M1 0h1m7 0h1m3 0h1m7 0h1m14 0h1m2 0h1m1 0h1m5 0h1m2 0h1m4 0h2m1 0h1m12 0h1m1 0h1m8 0h1m7 0h1m4 0h1"/><path class="q11" d="M8 0h1m19 0h1m2 0h1m3 0h1m38 0h2m8 0h1m12 0h1"/><path class="q12" d="M38 0h1m7 0h1m30 0h1m8 0h2"/><path class="q14" d="M22 0h2m5 0h1m2 0h1m27 0h1"/><path class="q15" d="M63 0h1m16 0h1"/><path class="q16" d="M27 0h1"/><path class="q18" d="M65 0h1"/><path class="q20" d="M68 0h1"/></g><g id="r19_2"><path class="q3" d="M28 0h1m10 0h1m3 0h1m33 0h1m3 0h1"/><path class="q4" d="M12 0h1m4 0h1m15 0h1m11 0h1m6 0h1m2 0h1m17 0h1"/><path class="q5" d="M15 0h1m4 0h1m5 0h1m5 0h1m1 0h1m11 0h1m2 0h1m1 0h1m17 0h1m20 0h1m2 0h1m1 0h1m2 0h1"/><path class="q7" d="M8 0h1m1 0h1m3 0h1m1 0h1m6 0h1m7 0h1m9 0h1m19 0h3m2 0h1m5 0h1m2 0h1m11 0h2m2 0h2"/><path class="q8" d="M5 0h1m5 0h1m6 0h1m2 0h1m5 0h1m9 0h2m5 0h1m8 0h2m4 0h1m4 0h2m31 0h1"/><path class="q10" d="M0 0h1m5 0h1m15 0h1m13 0h1m11 0h1m7 0h2m9 0h2m1 0h2m4 0h1m22 0h1"/><path class="q11" d="M4 0h1m24 0h2m4 0h1m4 0h1m1 0h1m4 0h1m31 0h1m3 0h2m1 0h1m2 0h1"/><path class="q12" d="M1 0h2m21 0h2m34 0h1m17 0h1m1 0h1m1 0h1"/><path class="q14" d="M7 0h1m77 0h1m8 0h1m1 0h1"/><path class="q15" d="M3 0h1m46 0h1"/><path class="q16" d="M74 0h1"/><path class="q19" d="M58 0h1"/></g><g id="r19_3"><path class="q3" d="M1 0h1m1 0h1m38 0h1m36 0h1m7 0h1"/><path class="q4" d="M18 0h1m6 0h1m19 0h1m14 0h1m4 0h1m2 0h1"/><path class="q5" d="M7 0h2m1 0h1m28 0h1m8 0h1m21 0h1m4 0h1m4 0h1m7 0h1"/><path class="q7" d="M4 0h1m1 0h1m7 0h1m2 0h1m9 0h1m33 0h2m11 0h1m7 0h2m7 0h1m6 0h1"/><path class="q8" d="M2 0h1m9 0h2m2 0h1m5 0h1m7 0h1m5 0h1m4 0h1m1 0h1m2 0h1m9 0h1m14 0h2m16 0h1m4 0h2m1 0h1m1 0h1"/><path class="q10" d="M5 0h1m15 0h1m2 0h1m3 0h1m5 0h2m2 0h1m5 0h1m8 0h3m2 0h2m3 0h1m2 0h1m6 0h1m2 0h1m1 0h1m7 0h1m6 0h1"/><path class="q11" d="M11 0h1m8 0h1m2 0h1m2 0h1m2 0h1m2 0h2m3 0h1m9 0h1m1 0h1m1 0h2m4 0h1m6 0h1m2 0h1m13 0h1m2 0h1m5 0h1"/><path class="q12" d="M0 0h1m18 0h1m20 0h1m28 0h1m7 0h1m18 0h1"/><path class="q14" d="M50 0h1m41 0h1"/><path class="q16" d="M15 0h1"/><path class="q18" d="M9 0h1"/><path class="q19" d="M31 0h1"/></g><g id="r19_4"><path class="q3" d="M43 0h2"/><path class="q4" d="M10 0h1m13 0h2m9 0h1m6 0h1m23 0h1"/><path class="q5" d="M3 0h1m2 0h1m8 0h1m1 0h2m2 0h3m5 0h2m18 0h1m2 0h1m2 0h1m3 0h1m8 0h1m1 0h1m4 0h2"/><path class="q7" d="M5 0h1m8 0h1m13 0h1m7 0h1m2 0h1m5 0h2m3 0h1m14 0h1m1 0h1m6 0h1m4 0h2m7 0h2m4 0h1m2 0h1m1 0h1"/><path class="q8" d="M1 0h1m5 0h3m10 0h1m6 0h1m12 0h1m6 0h1m3 0h1m4 0h1m7 0h1m6 0h1m10 0h1m4 0h1m2 0h1m1 0h2m2 0h1"/><path class="q10" d="M12 0h1m20 0h1m3 0h1m3 0h1m16 0h1m4 0h1m9 0h1m9 0h1m11 0h1"/><path class="q11" d="M11 0h1m1 0h1m17 0h2m5 0h1m38 0h2m6 0h1m5 0h1"/><path class="q12" d="M0 0h1m3 0h1m29 0h1m13 0h1m4 0h2m5 0h1m1 0h1m21 0h1m1 0h1m11 0h1"/><path class="q14" d="M69 0h1m2 0h1"/><path class="q15" d="M2 0h1m23 0h1"/><path class="q16" d="M16 0h1"/><path class="q18" d="M19 0h1m41 0h1m19 0h1"/></g><g id="r19_5"><path class="q3" d="M23 0h1m1 0h1m6 0h1m11 0h1m18 0h1m3 0h1"/><path class="q4" d="M9 0h1m14 0h1m5 0h1m8 0h1m30 0h1m4 0h1m2 0h1m13 0h1m1 0h1"/><path class="q5" d="M12 0h1m7 0h1m7 0h1m4 0h1m4 0h1m16 0h1m3 0h1m13 0h1m8 0h1m3 0h1m1 0h1m1 0h2m4 0h1"/><path class="q7" d="M0 0h1m15 0h3m2 0h1m7 0h1m13 0h1m2 0h1m1 0h1m9 0h1m1 0h1m5 0h1m26 0h1m5 0h1"/><path class="q8" d="M1 0h1m8 0h1m26 0h1m3 0h1m15 0h1m11 0h1m2 0h1m1 0h1m2 0h1m2 0h2m1 0h1m1 0h1m1 0h1"/><path class="q10" d="M2 0h1m1 0h1m2 0h2m6 0h1m6 0h1m3 0h1m4 0h1m3 0h2m3 0h1m1 0h1m10 0h2m6 0h1m9 0h1m4 0h1m7 0h1m4 0h1"/><path class="q11" d="M3 0h1m7 0h1m1 0h2m4 0h1m14 0h1m12 0h1m20 0h1m10 0h1"/><path class="q12" d="M5 0h2m20 0h1m17 0h1m18 0h1m30 0h1"/><path class="q14" d="M49 0h1m12 0h1m35 0h1"/><path class="q15" d="M50 0h2"/><path class="q16" d="M56 0h1m40 0h1"/><path class="q18" d="M52 0h1"/></g><g id="r20_0"><path class="q3" d="M26 0h1m14 0h1m12 0h1m11 0h1m9 0h1"/><path class="q4" d="M10 0h1m37 0h1m28 0h1"/><path class="q5" d="M3 0h1m79 0h1m1 0h1"/><path class="q7" d="M14 0h1m7 0h1m2 0h1m11 0h1m11 0h1m25 0h1m2 0h1m8 0h1m4 0h1m3 0h1"/><path class="q8" d="M0 0h1m1 0h1m3 0h1m5 0h1m11 0h1m2 0h1m6 0h1m8 0h1m7 0h1m6 0h1m11 0h1m11 0h1"/><path class="q10" d="M4 0h1m3 0h1m2 0h1m7 0h2m7 0h2m23 0h1m3 0h1m4 0h1m2 0h1m13 0h1m6 0h1m3 0h1"/><path class="q11" d="M1 0h1m15 0h1m13 0h1m7 0h1m12 0h1m3 0h1m2 0h3m1 0h1m5 0h1m10 0h2m9 0h1m3 0h1"/><path class="q12" d="M5 0h1m1 0h1m5 0h1m7 0h1m8 0h1m1 0h1m2 0h2m1 0h1m1 0h1m9 0h1m13 0h1m3 0h1m2 0h1m2 0h1m9 0h1m13 0h1"/><path class="q14" d="M15 0h2m1 0h1m4 0h1m9 0h1m8 0h1m2 0h1m21 0h1m4 0h2m19 0h2m4 0h1"/><path class="q15" d="M89 0h1"/><path class="q16" d="M9 0h1m34 0h1m1 0h1"/><path class="q18" d="M88 0h1m8 0h1"/><path class="q19" d="M55 0h1"/></g><g id="r20_1"><path class="q3" d="M41 0h1"/><path class="q4" d="M11 0h1m28 0h1m10 0h1"/><path class="q5" d="M10 0h1m33 0h1m27 0h1m15 0h2m6 0h1"/><path class="q7" d="M2 0h1m9 0h2m4 0h1m1 0h1m1 0h1m8 0h1m22 0h1m4 0h1m1 0h1m4 0h1m8 0h1m10 0h1m6 0h1"/><path class="q8" d="M4 0h1m12 0h1m8 0h1m21 0h1m11 0h1m4 0h1m3 0h1m1 0h1"/><path class="q10" d="M5 0h1m2 0h2m15 0h1m12 0h2m2 0h1m2 0h1m3 0h1m7 0h2m8 0h2m7 0h2m7 0h1m8 0h1"/><path class="q11" d="M1 0h1m4 0h1m14 0h1m1 0h1m3 0h2m5 0h2m17 0h1m8 0h1m10 0h2m4 0h1m1 0h3m6 0h1m4 0h1m1 0h2"/><path class="q12" d="M7 0h1m21 0h2m2 0h1m12 0h1m3 0h1m5 0h1m7 0h1m19 0h1m6 0h1"/><path class="q14" d="M0 0h1m15 0h1m2 0h1m16 0h1m6 0h1m48 0h1"/><path class="q15" d="M3 0h1m20 0h1m12 0h1m17 0h1m7 0h1m14 0h1m8 0h1m11 0h1"/><path class="q16" d="M32 0h1m14 0h1m4 0h1m27 0h1"/><path class="q18" d="M14 0h1m55 0h1"/></g><g id="r20_2"><path class="q3" d="M0 0h1m45 0h1"/><path class="q4" d="M6 0h1m3 0h1m14 0h1m21 0h1m26 0h1"/><path class="q5" d="M1 0h1m15 0h1m12 0h1m35 0h1m17 0h1"/><path class="q7" d="M8 0h1m20 0h1m4 0h1m1 0h2m3 0h1m17 0h1m2 0h1m5 0h1m4 0h1m3 0h1m16 0h1m2 0h1"/><path class="q8" d="M27 0h1m3 0h1m11 0h1m1 0h1m4 0h1m10 0h1m10 0h1m5 0h1m1 0h1"/><path class="q10" d="M2 0h1m18 0h1m2 0h1m1 0h1m55 0h1m3 0h1m2 0h1m2 0h1m2 0h2"/><path class="q11" d="M3 0h2m4 0h1m3 0h2m24 0h2m1 0h1m5 0h1m16 0h1m9 0h2m11 0h1m1 0h1m7 0h1"/><path class="q12" d="M11 0h2m5 0h2m29 0h1m1 0h1m1 0h1m1 0h1m1 0h1m2 0h1m6 0h1m2 0h2m7 0h1m3 0h1m1 0h1"/><path class="q14" d="M5 0h1m9 0h2m3 0h1m14 0h1m16 0h1m5 0h1m5 0h1m4 0h1m11 0h1"/><path class="q15" d="M23 0h1m4 0h1m3 0h2m53 0h1m3 0h1m7 0h1"/><path class="q16" d="M38 0h1m5 0h1"/><path class="q18" d="M54 0h1m1 0h1m6 0h1m29 0h1"/><path class="q19" d="M22 0h1"/><path class="q20" d="M7 0h1"/></g><g id="r20_3"><path class="q3" d="M83 0h1m12 0h1"/><path class="q4" d="M1 0h1m15 0h1m22 0h1m2 0h1m22 0h1"/><path class="q5" d="M47 0h1"/><path class="q7" d="M15 0h1m4 0h1m3 0h1m3 0h1m1 0h1m5 0h1m9 0h1m6 0h1m13 0h1m3 0h1m1 0h1"/><path class="q8" d="M6 0h1m1 0h1m2 0h4m3 0h1m3 0h1m8 0h2m35 0h1m6 0h1m8 0h1m1 0h1m1 0h1m1 0h1m2 0h2"/><path class="q10" d="M37 0h1m1 0h1m12 0h1m4 0h1m3 0h1m12 0h1m23 0h1"/><path class="q11" d="M0 0h1m6 0h1m13 0h1m23 0h1m5 0h1m10 0h1m13 0h1m2 0h1m5 0h1m1 0h1m4 0h1"/><path class="q12" d="M2 0h2m12 0h1m2 0h1m3 0h1m1 0h2m2 0h1m3 0h1m1 0h1m8 0h1m13 0h2m3 0h1m1 0h1m3 0h1m21 0h1"/><path class="q14" d="M5 0h1m4 0h1m16 0h1m6 0h1m3 0h1m2 0h2m7 0h1m3 0h2m22 0h1m20 0h1"/><path class="q15" d="M77 0h1m11 0h1m5 0h1m1 0h1"/><path class="q16" d="M9 0h1m54 0h1m5 0h1m1 0h1m7 0h1"/><path class="q18" d="M48 0h1m7 0h1m25 0h1"/><path class="q19" d="M60 0h1"/><path class="q22" d="M49 0h1m31 0h1"/></g><g id="r20_4"><path class="q3" d="M32 0h1"/><path class="q4" d="M33 0h1m6 0h1m1 0h1m8 0h1m15 0h1m17 0h1"/><path class="q5" d="M6 0h1m17 0h2m11 0h1m3 0h1m20 0h1m7 0h1m8 0h1m3 0h1"/><path class="q7" d="M13 0h2m4 0h1m6 0h2m1 0h1m1 0h1m25 0h1m23 0h1m8 0h1m5 0h1m1 0h1"/><path class="q8" d="M1 0h1m14 0h2m18 0h1m10 0h1m5 0h1m20 0h1m2 0h1m2 0h1m7 0h1m5 0h2m3 0h1"/><path class="q10" d="M0 0h1m3 0h2m5 0h1m3 0h1m12 0h1m1 0h1m8 0h1m20 0h1m4 0h1m6 0h1m2 0h1m2 0h1m14 0h1"/><path class="q11" d="M7 0h2m1 0h1m9 0h1m1 0h2m22 0h1m1 0h1m3 0h1m13 0h1m6 0h1m10 0h1m4 0h1"/><path class="q12" d="M3 0h1m5 0h1m8 0h1m15 0h1m8 0h1m5 0h1m4 0h1m9 0h1m3 0h1m7 0h1m5 0h1m4 0h1m3 0h2m4 0h1"/><path class="q14" d="M21 0h1m22 0h1m10 0h1m7 0h1"/><path class="q15" d="M12 0h1m22 0h1m2 0h1m11 0h1m5 0h1m4 0h1m9 0h1"/><path class="q16" d="M58 0h1m10 0h1"/><path class="q18" d="M2 0h1m42 0h1m13 0h1m26 0h1"/></g><g id="r20_5"><path class="q3" d="M11 0h1m32 0h1m15 0h1"/><path class="q4" d="M29 0h1m1 0h1m22 0h1"/><path class="q5" d="M8 0h1m71 0h1m4 0h1"/><path class="q7" d="M2 0h1m9 0h1m8 0h1m34 0h1m7 0h1m10 0h1m15 0h1m4 0h1"/><path class="q8" d="M7 0h1m17 0h1m1 0h1m9 0h1m2 0h1m6 0h1m3 0h1m9 0h2m5 0h1m12 0h1m12 0h2"/><path class="q10" d="M1 0h1m4 0h1m2 0h1m13 0h1m15 0h1m5 0h1m19 0h1m4 0h1m6 0h1m5 0h1m4 0h2m2 0h1m4 0h1"/><path class="q11" d="M3 0h1m29 0h1m9 0h1m4 0h1m3 0h2m5 0h1m3 0h1m3 0h1m18 0h1m6 0h1m4 0h1"/><path class="q12" d="M5 0h1m7 0h1m4 0h2m2 0h1m7 0h1m3 0h1m6 0h1m4 0h1m8 0h1m2 0h1m14 0h1m2 0h1m1 0h1m8 0h1m2 0h1"/><path class="q14" d="M14 0h2m19 0h1m13 0h1m16 0h1"/><path class="q15" d="M10 0h1m6 0h1m14 0h1m3 0h1m13 0h1m6 0h1m14 0h1m9 0h1"/><path class="q16" d="M0 0h1m15 0h1m9 0h1m15 0h1m56 0h1"/><path class="q18" d="M4 0h1m19 0h1m3 0h1m9 0h1m30 0h1m4 0h1m9 0h1"/><path class="q19" d="M20 0h1m50 0h1"/><path class="q20" d="M79 0h1"/></g><g id="r21_0"><path class="q4" d="M84 0h1"/><path class="q5" d="M8 0h1m24 0h1m52 0h1"/><path class="q7" d="M0 0h1m5 0h1m36 0h1m33 0h1m3 0h1"/><path class="q8" d="M20 0h1m21 0h1m10 0h1"/><path class="q10" d="M16 0h1m1 0h2m3 0h1m6 0h1m28 0h1m14 0h2m3 0h1m7 0h1"/><path class="q11" d="M21 0h1m2 0h2m1 0h3m14 0h1m4 0h1m2 0h1m2 0h2m14 0h1m11 0h1m4 0h1m10 0h1"/><path class="q12" d="M5 0h1m4 0h1m11 0h1m3 0h1m12 0h2m17 0h1m2 0h1m2 0h1m4 0h1m8 0h1m1 0h1m1 0h1m2 0h1"/><path class="q14" d="M3 0h1m9 0h2m19 0h1m3 0h1m6 0h1m8 0h1m10 0h2m3 0h1m1 0h1m18 0h1m2 0h2"/><path class="q15" d="M4 0h1m2 0h1m24 0h1m3 0h1m14 0h1m11 0h1m4 0h1m4 0h1m19 0h1m2 0h1"/><path class="q16" d="M2 0h1m8 0h1m3 0h1m15 0h1m9 0h1m6 0h1m11 0h1m6 0h1m8 0h1m15 0h1m4 0h1"/><path class="q18" d="M1 0h1m7 0h1m2 0h1m4 0h1m29 0h1m9 0h1m31 0h2m7 0h1"/><path class="q19" d="M35 0h1m26 0h1"/><path class="q22" d="M50 0h1"/><path class="q23" d="M37 0h1m8 0h1"/></g><g id="r21_1"><path class="q4" d="M30 0h1m46 0h1"/><path class="q5" d="M34 0h1m46 0h1"/><path class="q7" d="M7 0h1m1 0h1m16 0h2m3 0h1m17 0h1m34 0h1m9 0h1"/><path class="q8" d="M4 0h2m6 0h1m5 0h1m14 0h1m8 0h1m7 0h1m3 0h1m4 0h1m30 0h1"/><path class="q10" d="M6 0h1m28 0h2m32 0h1"/><path class="q11" d="M0 0h2m1 0h1m15 0h1m2 0h1m2 0h1m6 0h1m6 0h1m13 0h1m2 0h1m4 0h1m14 0h1m1 0h1m8 0h1"/><path class="q12" d="M8 0h1m2 0h1m2 0h1m6 0h1m6 0h1m8 0h1m3 0h1m30 0h1m6 0h2m4 0h1m2 0h1m3 0h1"/><path class="q14" d="M2 0h1m12 0h2m27 0h1m1 0h1m4 0h1m10 0h1m1 0h1m18 0h1"/><path class="q15" d="M20 0h1m2 0h1m14 0h1m6 0h1m25 0h1m2 0h1m11 0h1m2 0h1m3 0h1m1 0h1m1 0h1"/><path class="q16" d="M13 0h1m3 0h1m40 0h1m1 0h1m4 0h1m2 0h1m6 0h1m6 0h1m13 0h1m1 0h1"/><path class="q18" d="M10 0h1m18 0h1m17 0h1m7 0h1m1 0h1"/><path class="q19" d="M24 0h1m23 0h1m17 0h1m24 0h1"/><path class="q20" d="M52 0h1m10 0h1m3 0h1m2 0h1"/><path class="q22" d="M43 0h1m55 0h1"/><path class="q23" d="M40 0h1m32 0h1"/></g><g id="r21_2"><path class="q5" d="M66 0h1"/><path class="q7" d="M16 0h1m19 0h1m10 0h1m13 0h1"/><path class="q8" d="M2 0h2m9 0h1m11 0h1m26 0h1m6 0h1m7 0h1m1 0h1m2 0h1m7 0h1m5 0h1m2 0h1"/><path class="q10" d="M5 0h1m1 0h1m6 0h2m11 0h1m7 0h1m3 0h1m35 0h1m6 0h1m1 0h1"/><path class="q11" d="M11 0h2m9 0h1m5 0h1m4 0h1m9 0h2m33 0h1m2 0h1"/><path class="q12" d="M0 0h2m7 0h2m8 0h1m1 0h1m16 0h1m15 0h2m4 0h1m9 0h2m2 0h1m1 0h2m7 0h1m1 0h2"/><path class="q14" d="M17 0h1m2 0h1m11 0h1m4 0h1m4 0h1m5 0h1m1 0h1m2 0h1m19 0h1m5 0h1m11 0h1m7 0h1"/><path class="q15" d="M4 0h1m18 0h1m16 0h1m8 0h1m6 0h1m1 0h1m9 0h1m24 0h1m1 0h1"/><path class="q16" d="M26 0h1m36 0h2m25 0h1m1 0h1m5 0h1"/><path class="q18" d="M8 0h1m20 0h1m1 0h1m51 0h1m10 0h1m2 0h1"/><path class="q19" d="M6 0h1m11 0h1m5 0h1m5 0h1m3 0h1m11 0h1m18 0h1m30 0h1"/><path class="q20" d="M45 0h1m11 0h1"/><path class="q22" d="M41 0h1"/><path class="q23" d="M51 0h1"/><path class="q25" d="M62 0h1"/></g><g id="r21_3"><path class="q4" d="M80 0h1"/><path class="q5" d="M52 0h1m37 0h1m7 0h1"/><path class="q7" d="M2 0h1m19 0h1m60 0h1m5 0h1m4 0h1m4 0h1"/><path class="q8" d="M20 0h1m11 0h1m30 0h1m17 0h1m10 0h1"/><path class="q10" d="M19 0h1m1 0h1m3 0h1m1 0h1m6 0h1m2 0h1m5 0h1m2 0h1m3 0h1m9 0h1m4 0h1m6 0h1m3 0h2m4 0h1"/><path class="q11" d="M5 0h1m1 0h1m1 0h1m19 0h1m6 0h1m18 0h1m14 0h1m4 0h1m11 0h1"/><path class="q12" d="M0 0h1m3 0h1m6 0h1m1 0h1m9 0h1m18 0h1m5 0h1m15 0h1m2 0h2m22 0h1"/><path class="q14" d="M1 0h1m4 0h1m3 0h1m7 0h1m12 0h1m7 0h1m1 0h1m2 0h2m5 0h1m6 0h1m3 0h1m3 0h1m11 0h1m14 0h1"/><path class="q15" d="M8 0h1m5 0h2m14 0h1m2 0h1m15 0h1m6 0h1m2 0h1m9 0h1m16 0h1"/><path class="q16" d="M12 0h1m11 0h1m1 0h1m8 0h1m17 0h1m7 0h1m17 0h1m4 0h1"/><path class="q18" d="M38 0h1m1 0h1m6 0h1m6 0h1m18 0h1m22 0h2"/><path class="q19" d="M74 0h1m10 0h1m9 0h1"/><path class="q20" d="M3 0h1m12 0h1m11 0h1m28 0h1"/><path class="q22" d="M71 0h1m16 0h1"/><path class="q23" d="M17 0h1"/></g><g id="r21_4"><path class="q4" d="M19 0h1m37 0h1"/><path class="q7" d="M26 0h1m13 0h1m14 0h1m36 0h1m3 0h1"/><path class="q8" d="M34 0h1m3 0h1m2 0h1m2 0h1m23 0h2m11 0h1"/><path class="q10" d="M8 0h1m5 0h1m14 0h1m2 0h1m23 0h1m40 0h1"/><path class="q11" d="M1 0h1m3 0h1m3 0h1m7 0h1m27 0h1m8 0h1m6 0h1m16 0h1m11 0h2"/><path class="q12" d="M2 0h1m8 0h3m7 0h1m2 0h1m2 0h1m3 0h1m1 0h1m3 0h1m15 0h1m6 0h1m1 0h2m7 0h1m3 0h1m4 0h1m18 0h1"/><path class="q14" d="M0 0h1m6 0h1m10 0h1m16 0h2m2 0h1m6 0h1m2 0h2m7 0h1m5 0h1m2 0h1m4 0h2m3 0h1m1 0h1m9 0h1m8 0h1"/><path class="q15" d="M3 0h1m18 0h1m2 0h1m2 0h1m1 0h1m11 0h2m3 0h2m2 0h2m13 0h1m7 0h1m19 0h1"/><path class="q16" d="M4 0h1m15 0h1m2 0h1m52 0h1m7 0h1m1 0h2m5 0h1"/><path class="q18" d="M6 0h1m9 0h1m42 0h1m25 0h1"/><path class="q19" d="M10 0h1m54 0h1m16 0h2"/><path class="q22" d="M15 0h1m54 0h1"/><path class="q23" d="M88 0h1"/><path class="q26" d="M95 0h1"/></g><g id="r21_5"><path class="q4" d="M12 0h1m16 0h1m30 0h1"/><path class="q5" d="M87 0h1"/><path class="q7" d="M3 0h2m12 0h1m8 0h1m19 0h1m14 0h1m30 0h1"/><path class="q8" d="M1 0h2m2 0h1m4 0h1m25 0h1m31 0h1m26 0h2"/><path class="q10" d="M27 0h1m7 0h1m2 0h1m19 0h1m4 0h1m11 0h1"/><path class="q11" d="M16 0h1m15 0h1m1 0h1m5 0h1m4 0h1m8 0h2m23 0h1m6 0h1"/><path class="q12" d="M7 0h2m6 0h1m15 0h1m1 0h1m3 0h1m4 0h1m9 0h1m24 0h1m7 0h1m3 0h1m7 0h1"/><path class="q14" d="M0 0h1m5 0h1m2 0h1m12 0h1m7 0h1m10 0h1m29 0h1m1 0h1m2 0h1m14 0h1m7 0h1"/><path class="q15" d="M13 0h1m9 0h1m1 0h1m13 0h1m16 0h1m12 0h1m2 0h1m1 0h1m15 0h1m2 0h2m3 0h1"/><path class="q16" d="M11 0h1m7 0h2m22 0h1m4 0h1m1 0h1m8 0h1m2 0h1m3 0h2m10 0h1m1 0h1m1 0h2"/><path class="q18" d="M14 0h1m3 0h1m5 0h1m19 0h1m12 0h1m7 0h1m4 0h1m10 0h1"/><path class="q19" d="M21 0h1m27 0h1m1 0h1m32 0h1"/><path class="q20" d="M47 0h1m5 0h1m10 0h1"/><path class="q22" d="M28 0h1"/><path class="q25" d="M88 0h1"/></g><g id="r22_0"><path class="q4" d="M64 0h1"/><path class="q5" d="M6 0h1"/><path class="q7" d="M38 0h1m31 0h1"/><path class="q8" d="M7 0h1m18 0h1m30 0h1m1 0h2m31 0h1"/><path class="q10" d="M9 0h1m71 0h1"/><path class="q11" d="M20 0h1m27 0h1m16 0h1m31 0h1m1 0h1"/><path class="q12" d="M0 0h1m3 0h1m16 0h1m3 0h1m16 0h1m33 0h1m10 0h1m2 0h2m3 0h1"/><path class="q14" d="M19 0h1m7 0h1m2 0h1m2 0h1m1 0h1m4 0h1m15 0h1m15 0h1m9 0h1"/><path class="q15" d="M8 0h1m19 0h1m3 0h1m4 0h1m6 0h1m16 0h2m5 0h1m4 0h1m4 0h1m17 0h1"/><path class="q16" d="M2 0h1m2 0h1m9 0h2m1 0h1m3 0h2m21 0h1m4 0h1m1 0h4m11 0h1m7 0h1m4 0h1m3 0h3m1 0h1"/><path class="q18" d="M17 0h1m6 0h1m4 0h1m21 0h1m41 0h1m4 0h1"/><path class="q19" d="M3 0h1m6 0h1m1 0h2m17 0h1m9 0h1m1 0h1m3 0h1m21 0h1m1 0h1m7 0h1"/><path class="q20" d="M11 0h1m37 0h1m13 0h1"/><path class="q22" d="M1 0h1m32 0h1m23 0h1m24 0h1m10 0h1"/><path class="q23" d="M36 0h1m2 0h1m6 0h1m30 0h1m11 0h1"/><path class="q25" d="M14 0h1m51 0h1"/><path class="q27" d="M74 0h1"/></g><g id="r22_1"><path class="q7" d="M50 0h1"/><path class="q8" d="M12 0h1m56 0h1"/><path class="q10" d="M28 0h2m14 0h1m3 0h1m22 0h1"/><path class="q11" d="M2 0h1m59 0h1m16 0h1m10 0h1"/><path class="q12" d="M11 0h1m28 0h1m23 0h1m12 0h1m4 0h1m1 0h1m2 0h1m6 0h2"/><path class="q14" d="M0 0h2m11 0h1m1 0h1m4 0h1m2 0h1m8 0h1m10 0h1m5 0h1m1 0h1m1 0h1m16 0h1m2 0h1m2 0h1m3 0h1m10 0h1"/><path class="q15" d="M14 0h1m1 0h1m1 0h1m20 0h1m14 0h1m26 0h1m3 0h1m7 0h1m5 0h1"/><path class="q16" d="M3 0h1m15 0h1m13 0h1m3 0h1m18 0h1m9 0h2m4 0h1"/><path class="q18" d="M8 0h1m1 0h1m10 0h1m2 0h1m2 0h1m7 0h1m22 0h2m3 0h1m22 0h1m5 0h1m3 0h3"/><path class="q19" d="M4 0h2m30 0h1m1 0h1m3 0h1m3 0h1m13 0h1m4 0h1m23 0h1"/><path class="q20" d="M7 0h1m1 0h1m7 0h1m7 0h1m4 0h1m10 0h1m10 0h1m22 0h1"/><path class="q22" d="M31 0h1m29 0h1m26 0h1"/><path class="q23" d="M22 0h1m32 0h1m12 0h1"/><path class="q25" d="M26 0h1m18 0h1m11 0h1m16 0h1"/><path class="q26" d="M34 0h1m12 0h1"/><path class="q29" d="M6 0h1m71 0h1"/><path class="q30" d="M83 0h1"/></g><g id="r22_2"><path class="q5" d="M63 0h1"/><path class="q7" d="M3 0h1m77 0h1"/><path class="q8" d="M4 0h1"/><path class="q10" d="M1 0h1m48 0h1m22 0h1m6 0h1m11 0h1m5 0h1"/><path class="q11" d="M5 0h1m4 0h1m6 0h1m12 0h1m3 0h1m5 0h1m6 0h3m2 0h2m35 0h1m4 0h1"/><path class="q12" d="M2 0h1m25 0h1m6 0h1m2 0h2m6 0h1m15 0h1m9 0h1m6 0h1m2 0h1"/><path class="q14" d="M6 0h1m6 0h1m1 0h1m4 0h1m12 0h1m11 0h1m23 0h1m1 0h1m3 0h2m6 0h1"/><path class="q15" d="M11 0h1m25 0h1m3 0h1m12 0h1m3 0h1m2 0h1m16 0h1m11 0h2m1 0h1"/><path class="q16" d="M7 0h2m5 0h1m4 0h1m2 0h2m3 0h1m27 0h1m9 0h2m7 0h1m9 0h2m9 0h2m2 0h1"/><path class="q18" d="M0 0h1m11 0h1m18 0h1m10 0h2m12 0h1m2 0h2m3 0h1m12 0h1m8 0h1m10 0h1"/><path class="q19" d="M9 0h1m6 0h1m15 0h1m24 0h1m29 0h2"/><path class="q20" d="M44 0h1m22 0h1"/><path class="q22" d="M24 0h1m4 0h1m6 0h1m14 0h1"/><path class="q23" d="M18 0h1m7 0h1"/><path class="q26" d="M21 0h1m3 0h1m44 0h1"/><path class="q29" d="M68 0h1"/></g><g id="r22_3"><path class="q7" d="M4 0h1m7 0h1"/><path class="q8" d="M43 0h1m53 0h1"/><path class="q10" d="M3 0h1m30 0h1m6 0h1m11 0h1m10 0h1m9 0h1m9 0h1m10 0h1"/><path class="q11" d="M5 0h1m33 0h1"/><path class="q12" d="M7 0h1m1 0h1m26 0h1m3 0h1m1 0h1m18 0h1m28 0h1m7 0h1"/><path class="q14" d="M20 0h2m2 0h2m3 0h2m6 0h1m31 0h1m13 0h1m3 0h1"/><path class="q15" d="M6 0h1m4 0h1m6 0h1m8 0h1m4 0h1m17 0h1m11 0h2m4 0h1m1 0h1m18 0h1m9 0h1"/><path class="q16" d="M14 0h2m12 0h1m4 0h1m4 0h1m10 0h1m2 0h1m24 0h1m7 0h2m4 0h1"/><path class="q18" d="M1 0h1m6 0h1m10 0h1m2 0h2m7 0h1m14 0h1m8 0h1m4 0h1m6 0h1m8 0h1m1 0h2m13 0h1m2 0h1"/><path class="q19" d="M0 0h1m12 0h1m21 0h1m20 0h1m8 0h1m6 0h2m7 0h2"/><path class="q20" d="M10 0h1m37 0h1m5 0h1m16 0h1m3 0h1m12 0h1"/><path class="q22" d="M16 0h2m26 0h1m6 0h1m6 0h1m33 0h1m1 0h1"/><path class="q23" d="M2 0h1m54 0h1m22 0h1"/><path class="q25" d="M66 0h1"/><path class="q26" d="M26 0h1m18 0h1m1 0h1m11 0h1"/></g><g id="r22_4"><path class="q4" d="M45 0h1m8 0h1"/><path class="q5" d="M16 0h1m55 0h1m25 0h1"/><path class="q7" d="M2 0h1"/><path class="q8" d="M18 0h1m34 0h1m30 0h1m3 0h1"/><path class="q10" d="M36 0h1"/><path class="q11" d="M1 0h1m10 0h1m35 0h1m1 0h1m6 0h1m3 0h1m3 0h1m12 0h1m3 0h1m13 0h1"/><path class="q12" d="M3 0h1m3 0h1m3 0h1m12 0h1m30 0h1m19 0h1m1 0h1m7 0h1"/><path class="q14" d="M15 0h1m27 0h1m2 0h1m11 0h1m3 0h2m3 0h1m19 0h1"/><path class="q15" d="M14 0h1m7 0h1m5 0h1m3 0h1m4 0h2m17 0h1m11 0h2m3 0h1m2 0h1m4 0h1m1 0h1"/><path class="q16" d="M0 0h1m16 0h1m3 0h1m4 0h1m2 0h1m1 0h1m3 0h1m28 0h1m5 0h1m3 0h1m11 0h1m4 0h1m2 0h1m4 0h1"/><path class="q18" d="M13 0h1m9 0h1m1 0h1m8 0h1m24 0h1m6 0h1m4 0h1m17 0h2"/><path class="q19" d="M5 0h1m2 0h1m10 0h2m9 0h1m8 0h1m39 0h2m12 0h1"/><path class="q20" d="M6 0h1m3 0h1m29 0h2m5 0h1m12 0h1m31 0h1m2 0h1"/><path class="q22" d="M27 0h1m5 0h1m8 0h1m54 0h1"/><path class="q23" d="M4 0h1m4 0h1m34 0h1m7 0h1"/><path class="q25" d="M51 0h1"/><path class="q29" d="M49 0h1"/></g><g id="r22_5"><path class="q5" d="M23 0h1"/><path class="q7" d="M31 0h1m25 0h1"/><path class="q8" d="M17 0h2m66 0h1m11 0h1"/><path class="q10" d="M27 0h1m10 0h1m10 0h1m6 0h1m2 0h1m15 0h1"/><path class="q11" d="M33 0h1m21 0h1m9 0h1m13 0h1"/><path class="q12" d="M19 0h1m17 0h1m16 0h1m6 0h1m2 0h1m15 0h1m6 0h1m11 0h1"/><path class="q14" d="M15 0h1m35 0h1m8 0h1m10 0h1m5 0h1m12 0h1m7 0h1"/><path class="q15" d="M1 0h1m6 0h1m11 0h1m4 0h2m8 0h1m8 0h1m21 0h1m3 0h1m12 0h1m7 0h1"/><path class="q16" d="M5 0h2m2 0h1m4 0h1m13 0h1m7 0h1m15 0h1m5 0h1m15 0h1m9 0h1m8 0h1"/><path class="q18" d="M0 0h1m2 0h1m3 0h1m3 0h1m18 0h1m11 0h1m2 0h1m1 0h1m5 0h1m14 0h1m3 0h1m3 0h1m5 0h1m3 0h1"/><path class="q19" d="M2 0h1m10 0h1m8 0h1m9 0h1m6 0h2m5 0h1m26 0h1m15 0h1"/><path class="q20" d="M10 0h1m5 0h1m24 0h1m1 0h1m6 0h1m11 0h1m25 0h1m6 0h1"/><path class="q22" d="M29 0h1m33 0h1m3 0h1m13 0h1m10 0h1"/><path class="q23" d="M21 0h1m26 0h1m47 0h1"/><path class="q25" d="M4 0h1m19 0h1m9 0h1m34 0h1"/><path class="q26" d="M12 0h1"/><path class="q27" d="M78 0h1"/><path class="q30" d="M94 0h1"/></g><g id="r23_0"><path class="q10" d="M26 0h1m7 0h1m19 0h1"/><path class="q11" d="M63 0h1"/><path class="q12" d="M10 0h2m5 0h1m34 0h1m6 0h1m1 0h1"/><path class="q14" d="M16 0h1m22 0h1m11 0h1m12 0h1m19 0h1"/><path class="q15" d="M41 0h2m32 0h1m19 0h1"/><path class="q16" d="M1 0h1m3 0h2m2 0h1m10 0h2m43 0h1m3 0h1m12 0h1"/><path class="q18" d="M2 0h1m9 0h1m11 0h1m18 0h1m11 0h1m14 0h1m5 0h2"/><path class="q19" d="M19 0h1m7 0h1m3 0h1m8 0h1m6 0h1m2 0h1m9 0h1m12 0h1m4 0h1m11 0h1"/><path class="q20" d="M0 0h1m7 0h1m20 0h1m3 0h1m2 0h1m7 0h1m11 0h2m13 0h2m24 0h1"/><path class="q22" d="M23 0h1m24 0h1m17 0h1m1 0h1m12 0h1m1 0h1m12 0h1m1 0h2"/><path class="q23" d="M13 0h1m4 0h1m3 0h1m9 0h1m20 0h1m8 0h1m4 0h1m21 0h1m1 0h1"/><path class="q25" d="M3 0h2m10 0h1m9 0h1m2 0h1m16 0h2m27 0h1m5 0h1m5 0h1"/><path class="q26" d="M37 0h1m11 0h1m44 0h1"/><path class="q27" d="M7 0h1m6 0h1m15 0h1m4 0h1"/><path class="q29" d="M38 0h1m19 0h1m20 0h1m5 0h1m2 0h1m3 0h1"/><path class="q30" d="M87 0h1m5 0h1"/></g><g id="r23_1"><path class="q8" d="M57 0h1"/><path class="q12" d="M51 0h1"/><path class="q14" d="M18 0h1m1 0h1m15 0h1m23 0h1m28 0h1m6 0h1"/><path class="q15" d="M2 0h1m2 0h1m8 0h1m24 0h2m7 0h1m23 0h1m12 0h2m1 0h1"/><path class="q16" d="M1 0h1m8 0h1m44 0h1m7 0h1m9 0h1m10 0h1"/><path class="q18" d="M21 0h1m7 0h1m1 0h1m1 0h1m3 0h1m6 0h1m8 0h1m11 0h1"/><path class="q19" d="M0 0h1m8 0h1m15 0h1m15 0h2m2 0h1m1 0h1m16 0h1m10 0h1m5 0h1"/><path class="q20" d="M8 0h1m40 0h2m1 0h1m8 0h1m5 0h1m1 0h1m1 0h1m2 0h1m1 0h3"/><path class="q22" d="M11 0h1m1 0h1m1 0h1m8 0h1m1 0h1m1 0h1m37 0h1m13 0h1m6 0h1m2 0h5"/><path class="q23" d="M27 0h1m10 0h1m15 0h1m4 0h1"/><path class="q25" d="M6 0h1m9 0h1m17 0h1m44 0h1m18 0h1"/><path class="q26" d="M12 0h1m33 0h1m11 0h1m9 0h1m1 0h1m24 0h1"/><path class="q27" d="M3 0h1m18 0h2m11 0h1m20 0h1m5 0h1m19 0h1m16 0h1"/><path class="q29" d="M4 0h1m2 0h1m11 0h1m10 0h1m12 0h1"/><path class="q30" d="M17 0h1m14 0h1m50 0h1m13 0h1"/></g><g id="r23_2"><path class="q8" d="M35 0h1m38 0h1"/><path class="q10" d="M39 0h1"/><path class="q12" d="M33 0h1m28 0h2m35 0h1"/><path class="q14" d="M12 0h1m32 0h1m52 0h1"/><path class="q15" d="M34 0h1m6 0h1m4 0h2m1 0h1m7 0h2m5 0h1m1 0h1m18 0h1m1 0h1m2 0h1m6 0h1"/><path class="q16" d="M6 0h1m15 0h1m13 0h1m13 0h1m10 0h1m21 0h1"/><path class="q18" d="M17 0h1m3 0h1m2 0h1m44 0h1m8 0h1m1 0h1m7 0h2"/><path class="q19" d="M0 0h2m6 0h1m2 0h1m6 0h1m1 0h1m8 0h1m18 0h1m3 0h1m28 0h1m9 0h1"/><path class="q20" d="M7 0h1m1 0h1m4 0h1m11 0h1m24 0h1m4 0h1m8 0h1m16 0h1"/><path class="q22" d="M23 0h1m6 0h1m11 0h1m16 0h2m10 0h1m5 0h1"/><path class="q23" d="M3 0h1m12 0h1m8 0h1m12 0h1m15 0h2m17 0h1m1 0h1m10 0h1"/><path class="q25" d="M4 0h1m22 0h1m16 0h1m8 0h1m16 0h1m13 0h1m8 0h1m2 0h1"/><path class="q26" d="M2 0h1m34 0h1m2 0h1m2 0h1m28 0h1m19 0h1m2 0h1"/><path class="q27" d="M15 0h1m12 0h1m65 0h1"/><path class="q29" d="M10 0h1m21 0h1m34 0h2"/><path class="q30" d="M5 0h1m7 0h1m5 0h1m11 0h1m44 0h1m2 0h1"/></g><g id="r23_3"><path class="q5" d="M56 0h1"/><path class="q10" d="M8 0h1m2 0h1"/><path class="q12" d="M12 0h1m63 0h1"/><path class="q14" d="M9 0h1m29 0h1m54 0h1"/><path class="q15" d="M3 0h1m15 0h1m21 0h1m4 0h1m18 0h1m12 0h1m7 0h1"/><path class="q16" d="M13 0h1m4 0h1m12 0h1m10 0h2m8 0h1"/><path class="q18" d="M10 0h1m13 0h1m7 0h1m15 0h1m9 0h1m3 0h1m3 0h1m4 0h1m10 0h1m10 0h1"/><path class="q19" d="M1 0h1m5 0h1m18 0h1m2 0h2m4 0h2m27 0h1m18 0h1m4 0h1"/><path class="q20" d="M2 0h1m13 0h2m7 0h1m1 0h1m9 0h1m13 0h1m11 0h1m5 0h1m2 0h1m12 0h1m9 0h1m2 0h1"/><path class="q22" d="M0 0h1m3 0h2m9 0h1m12 0h1m4 0h1m6 0h1m3 0h2m7 0h2m19 0h1m5 0h2m7 0h1"/><path class="q23" d="M22 0h1m15 0h1m8 0h1m19 0h1m9 0h1m9 0h1m2 0h1m1 0h1m6 0h1"/><path class="q25" d="M68 0h1m1 0h1m4 0h1m21 0h1"/><path class="q26" d="M20 0h1m2 0h1m10 0h1m22 0h1m1 0h1m36 0h1"/><path class="q27" d="M6 0h1m14 0h1m33 0h1"/><path class="q29" d="M49 0h1m10 0h1m12 0h1m5 0h1"/><path class="q30" d="M14 0h1m35 0h1m10 0h1m22 0h1m6 0h1"/></g><g id="r23_4"><path class="q10" d="M53 0h1"/><path class="q11" d="M68 0h1m24 0h1"/><path class="q12" d="M24 0h1m6 0h1m66 0h1"/><path class="q14" d="M29 0h1m8 0h1m2 0h2m3 0h1"/><path class="q15" d="M27 0h1m7 0h1m24 0h1m4 0h1"/><path class="q16" d="M0 0h1m3 0h1m16 0h1m42 0h1m19 0h1m12 0h1m1 0h1"/><path class="q18" d="M1 0h1m16 0h1m15 0h1m5 0h1m4 0h1m6 0h1m13 0h1m9 0h2m7 0h1"/><path class="q19" d="M17 0h1m10 0h1m3 0h2m21 0h1m14 0h1m8 0h1"/><path class="q20" d="M5 0h2m4 0h2m36 0h1m12 0h1m4 0h1m1 0h1m12 0h1m3 0h1m4 0h1"/><path class="q22" d="M9 0h2m2 0h2m1 0h1m8 0h2m20 0h1m9 0h1m14 0h1m2 0h1m4 0h1m6 0h1m2 0h1m1 0h1m1 0h1m1 0h1"/><path class="q23" d="M3 0h1m3 0h1m14 0h1m25 0h1m1 0h1m5 0h1m21 0h1m16 0h1"/><path class="q25" d="M2 0h1m5 0h1m6 0h1m20 0h1m2 0h1m19 0h1m29 0h1"/><path class="q26" d="M37 0h1m5 0h1m10 0h1m3 0h1m14 0h2"/><path class="q27" d="M20 0h1m2 0h1m20 0h1m26 0h1"/><path class="q29" d="M61 0h1m1 0h1m17 0h1m6 0h1"/><path class="q30" d="M19 0h1m10 0h1m20 0h1m31 0h1"/></g><g id="r23_5"><path class="q10" d="M58 0h1m28 0h1"/><path class="q12" d="M8 0h1"/><path class="q14" d="M15 0h1"/><path class="q15" d="M11 0h1m26 0h1m3 0h1m24 0h1m14 0h1m6 0h1m6 0h1m1 0h1"/><path class="q16" d="M5 0h1m1 0h1m10 0h1m1 0h1m14 0h1m11 0h1"/><path class="q18" d="M9 0h1m2 0h1m14 0h1m6 0h1m22 0h1m16 0h1m24 0h1"/><path class="q19" d="M2 0h1m11 0h1m1 0h2m15 0h1m2 0h2m3 0h1m1 0h1m1 0h1m3 0h1m13 0h1m5 0h1m7 0h2m1 0h1m14 0h1m1 0h1"/><path class="q20" d="M0 0h1m22 0h1m1 0h1m6 0h1m20 0h1m2 0h1m4 0h1m11 0h1m7 0h1"/><path class="q22" d="M1 0h1m1 0h2m35 0h1m11 0h1m1 0h1m7 0h1m5 0h1m1 0h1m12 0h1m6 0h2m2 0h1"/><path class="q23" d="M6 0h1m3 0h1m20 0h1m19 0h1m7 0h2m3 0h2m5 0h1m4 0h1m8 0h1m2 0h1m4 0h1"/><path class="q25" d="M22 0h1m69 0h1"/><path class="q26" d="M13 0h1m14 0h2m9 0h1m4 0h1m1 0h1m28 0h1m3 0h1"/><path class="q27" d="M21 0h1m2 0h1m30 0h1m10 0h1"/><path class="q29" d="M19 0h1m30 0h1m21 0h1m13 0h1"/><path class="q30" d="M26 0h1m3 0h1m17 0h1m35 0h1"/></g></g>
<filter id="vb" filterUnits="userSpaceOnUse" x="247.9" y="123.6" width="1243.7" height="813.0"><feGaussianBlur stdDeviation="0 0.45"/></filter>
<clipPath id="pc"><rect x="249.9" y="127.6" width="1239.7" height="805.0"/></clipPath></defs>
<rect x="249.9" y="127.6" width="1239.7" height="805.0" fill="#000004"/>
<g clip-path="url(#pc)"><g filter="url(#vb)">
<rect x="249.9" y="178.8" width="1239.7" height="12.2" fill="#0a0910"/>
<rect x="249.9" y="252.5" width="1239.7" height="3.5" fill="#0a0910"/>
<rect x="249.9" y="440.6" width="1239.7" height="3.2" fill="#0a0910"/>
<rect x="249.9" y="493.5" width="1239.7" height="3.0" fill="#0a0910"/>
<rect x="249.9" y="513.8" width="1239.7" height="6.2" fill="#0a0910"/>
<rect x="249.9" y="814.4" width="1239.7" height="2.6" fill="#0a0910"/>
<rect x="249.9" y="826.0" width="1239.7" height="6.5" fill="#0a0910"/>
<g fill="none" transform="translate(249.90,0) scale(2.47940,1)">
<g stroke-width="2.25"><use href="#r6_1" x="0" y="129.5"/><use href="#r6_0" x="100" y="129.5"/><use href="#r6_0" x="200" y="129.5"/><use href="#r6_0" x="300" y="129.5"/><use href="#r6_4" x="400" y="129.5"/></g>
<g stroke-width="1.39"><use href="#r4_2" x="0" y="133.77"/><use href="#r4_0" x="100" y="133.77"/><use href="#r4_5" x="200" y="133.77"/><use href="#r4_5" x="300" y="133.77"/><use href="#r4_3" x="400" y="133.77"/><use href="#r4_2" x="0" y="135.11"/><use href="#r4_3" x="100" y="135.11"/><use href="#r4_5" x="200" y="135.11"/><use href="#r4_2" x="300" y="135.11"/><use href="#r4_5" x="400" y="135.11"/><use href="#r3_5" x="0" y="136.46"/><use href="#r3_2" x="100" y="136.46"/><use href="#r3_2" x="200" y="136.46"/><use href="#r3_3" x="300" y="136.46"/><use href="#r3_0" x="400" y="136.46"/><use href="#r4_5" x="0" y="137.8"/><use href="#r4_4" x="100" y="137.8"/><use href="#r4_4" x="200" y="137.8"/><use href="#r4_5" x="300" y="137.8"/><use href="#r4_5" x="400" y="137.8"/><use href="#r5_0" x="0" y="139.14"/><use href="#r5_1" x="100" y="139.14"/><use href="#r5_3" x="200" y="139.14"/><use href="#r5_2" x="300" y="139.14"/><use href="#r5_0" x="400" y="139.14"/><use href="#r5_3" x="0" y="140.49"/><use href="#r5_4" x="100" y="140.49"/><use href="#r5_5" x="200" y="140.49"/><use href="#r5_3" x="300" y="140.49"/><use href="#r5_0" x="400" y="140.49"/><use href="#r4_0" x="0" y="141.83"/><use href="#r4_4" x="100" y="141.83"/><use href="#r4_2" x="200" y="141.83"/><use href="#r4_2" x="300" y="141.83"/><use href="#r4_5" x="400" y="141.83"/></g>
<g stroke-width="1.3"><use href="#r12_3" x="0" y="143.12"/><use href="#r12_0" x="100" y="143.12"/><use href="#r12_4" x="200" y="143.12"/><use href="#r12_5" x="300" y="143.12"/><use href="#r12_3" x="400" y="143.12"/><use href="#r11_2" x="0" y="144.38"/><use href="#r11_4" x="100" y="144.38"/><use href="#r11_3" x="200" y="144.38"/><use href="#r11_3" x="300" y="144.38"/><use href="#r11_1" x="400" y="144.38"/></g>
<g stroke-width="1.38"><use href="#r8_0" x="0" y="145.66"/><use href="#r8_2" x="100" y="145.66"/><use href="#r8_5" x="200" y="145.66"/><use href="#r8_2" x="300" y="145.66"/><use href="#r8_2" x="400" y="145.66"/><use href="#r4_5" x="0" y="146.99"/><use href="#r4_3" x="100" y="146.99"/><use href="#r4_0" x="200" y="146.99"/><use href="#r4_5" x="300" y="146.99"/><use href="#r4_3" x="400" y="146.99"/><use href="#r2_3" x="0" y="148.31"/><use href="#r2_2" x="100" y="148.31"/><use href="#r2_2" x="200" y="148.31"/><use href="#r2_5" x="300" y="148.31"/><use href="#r2_1" x="400" y="148.31"/><use href="#r6_0" x="0" y="149.64"/><use href="#r6_0" x="100" y="149.64"/><use href="#r6_1" x="200" y="149.64"/><use href="#r6_4" x="300" y="149.64"/><use href="#r6_2" x="400" y="149.64"/></g>
<g stroke-width="1.31"><use href="#r12_5" x="0" y="153.83"/><use href="#r12_0" x="100" y="153.83"/><use href="#r12_1" x="200" y="153.83"/><use href="#r12_4" x="300" y="153.83"/><use href="#r12_4" x="400" y="153.83"/><use href="#r10_4" x="0" y="155.09"/><use href="#r10_5" x="100" y="155.09"/><use href="#r10_1" x="200" y="155.09"/><use href="#r10_2" x="300" y="155.09"/><use href="#r10_1" x="400" y="155.09"/><use href="#r13_3" x="0" y="156.34"/><use href="#r13_5" x="100" y="156.34"/><use href="#r13_1" x="200" y="156.34"/><use href="#r13_2" x="300" y="156.34"/><use href="#r13_0" x="400" y="156.34"/><use href="#r13_3" x="0" y="157.6"/><use href="#r13_5" x="100" y="157.6"/><use href="#r13_5" x="200" y="157.6"/><use href="#r13_3" x="300" y="157.6"/><use href="#r13_0" x="400" y="157.6"/><use href="#r13_5" x="0" y="158.86"/><use href="#r13_5" x="100" y="158.86"/><use href="#r13_3" x="200" y="158.86"/><use href="#r13_5" x="300" y="158.86"/><use href="#r13_0" x="400" y="158.86"/><use href="#r13_0" x="0" y="160.11"/><use href="#r13_3" x="100" y="160.11"/><use href="#r13_5" x="200" y="160.11"/><use href="#r13_3" x="300" y="160.11"/><use href="#r13_0" x="400" y="160.11"/><use href="#r10_2" x="0" y="161.37"/><use href="#r10_3" x="100" y="161.37"/><use href="#r10_1" x="200" y="161.37"/><use href="#r10_5" x="300" y="161.37"/><use href="#r10_3" x="400" y="161.37"/></g>
<g stroke-width="1.25"><use href="#r20_3" x="0" y="162.6"/><use href="#r20_3" x="100" y="162.6"/><use href="#r20_2" x="200" y="162.6"/><use href="#r20_4" x="300" y="162.6"/><use href="#r20_5" x="400" y="162.6"/><use href="#r22_3" x="0" y="163.8"/><use href="#r22_1" x="100" y="163.8"/><use href="#r22_5" x="200" y="163.8"/><use href="#r22_4" x="300" y="163.8"/><use href="#r22_4" x="400" y="163.8"/></g>
<g stroke-width="1.25"><use href="#r15_1" x="0" y="165"/><use href="#r15_0" x="100" y="165"/><use href="#r15_2" x="200" y="165"/><use href="#r15_5" x="300" y="165"/><use href="#r15_5" x="400" y="165"/><use href="#r12_5" x="0" y="166.2"/><use href="#r12_5" x="100" y="166.2"/><use href="#r12_4" x="200" y="166.2"/><use href="#r12_2" x="300" y="166.2"/><use href="#r12_0" x="400" y="166.2"/><use href="#r13_3" x="0" y="167.4"/><use href="#r13_2" x="100" y="167.4"/><use href="#r13_4" x="200" y="167.4"/><use href="#r13_3" x="300" y="167.4"/><use href="#r13_3" x="400" y="167.4"/></g>
<g stroke-width="1.2"><use href="#r21_4" x="0" y="168.57"/><use href="#r21_4" x="100" y="168.57"/><use href="#r21_1" x="200" y="168.57"/><use href="#r21_5" x="300" y="168.57"/><use href="#r21_0" x="400" y="168.57"/><use href="#r20_3" x="0" y="169.73"/><use href="#r20_4" x="100" y="169.73"/><use href="#r20_0" x="200" y="169.73"/><use href="#r20_2" x="300" y="169.73"/><use href="#r20_3" x="400" y="169.73"/></g>
<g stroke-width="1.62"><use href="#r13_2" x="0" y="171.08"/><use href="#r13_5" x="100" y="171.08"/><use href="#r13_4" x="200" y="171.08"/><use href="#r13_4" x="300" y="171.08"/><use href="#r13_2" x="400" y="171.08"/><use href="#r12_1" x="0" y="172.65"/><use href="#r12_3" x="100" y="172.65"/><use href="#r12_2" x="200" y="172.65"/><use href="#r12_0" x="300" y="172.65"/><use href="#r12_3" x="400" y="172.65"/><use href="#r18_2" x="0" y="174.22"/><use href="#r18_2" x="100" y="174.22"/><use href="#r18_1" x="200" y="174.22"/><use href="#r18_1" x="300" y="174.22"/><use href="#r18_4" x="400" y="174.22"/></g>
<g stroke-width="1.95"><use href="#r19_0" x="0" y="175.95"/><use href="#r19_0" x="100" y="175.95"/><use href="#r19_0" x="200" y="175.95"/><use href="#r19_2" x="300" y="175.95"/><use href="#r19_5" x="400" y="175.95"/><use href="#r19_2" x="0" y="177.85"/><use href="#r19_1" x="100" y="177.85"/><use href="#r19_1" x="200" y="177.85"/><use href="#r19_1" x="300" y="177.85"/><use href="#r19_5" x="400" y="177.85"/></g>
<g stroke-width="1.41"><use href="#r10_5" x="0" y="179.48"/><use href="#r10_2" x="100" y="179.48"/><use href="#r10_0" x="200" y="179.48"/><use href="#r10_1" x="300" y="179.48"/><use href="#r10_2" x="400" y="179.48"/><use href="#r12_3" x="0" y="180.83"/><use href="#r12_1" x="100" y="180.83"/><use href="#r12_0" x="200" y="180.83"/><use href="#r12_4" x="300" y="180.83"/><use href="#r12_0" x="400" y="180.83"/><use href="#r11_4" x="0" y="182.19"/><use href="#r11_4" x="100" y="182.19"/><use href="#r11_2" x="200" y="182.19"/><use href="#r11_5" x="300" y="182.19"/><use href="#r11_4" x="400" y="182.19"/><use href="#r12_2" x="0" y="183.54"/><use href="#r12_1" x="100" y="183.54"/><use href="#r12_0" x="200" y="183.54"/><use href="#r12_0" x="300" y="183.54"/><use href="#r12_5" x="400" y="183.54"/><use href="#r12_3" x="0" y="184.9"/><use href="#r12_0" x="100" y="184.9"/><use href="#r12_1" x="200" y="184.9"/><use href="#r12_1" x="300" y="184.9"/><use href="#r12_2" x="400" y="184.9"/><use href="#r9_3" x="0" y="186.26"/><use href="#r9_2" x="100" y="186.26"/><use href="#r9_4" x="200" y="186.26"/><use href="#r9_5" x="300" y="186.26"/><use href="#r9_0" x="400" y="186.26"/><use href="#r8_0" x="0" y="187.61"/><use href="#r8_4" x="100" y="187.61"/><use href="#r8_0" x="200" y="187.61"/><use href="#r8_2" x="300" y="187.61"/><use href="#r8_2" x="400" y="187.61"/><use href="#r7_2" x="0" y="188.97"/><use href="#r7_5" x="100" y="188.97"/><use href="#r7_0" x="200" y="188.97"/><use href="#r7_4" x="300" y="188.97"/><use href="#r7_2" x="400" y="188.97"/><use href="#r10_1" x="0" y="190.32"/><use href="#r10_0" x="100" y="190.32"/><use href="#r10_3" x="200" y="190.32"/><use href="#r10_3" x="300" y="190.32"/><use href="#r10_3" x="400" y="190.32"/></g>
<g stroke-width="1.2"><use href="#r22_2" x="0" y="204.57"/><use href="#r22_0" x="100" y="204.57"/><use href="#r22_1" x="200" y="204.57"/><use href="#r22_5" x="300" y="204.57"/><use href="#r22_1" x="400" y="204.57"/><use href="#r21_0" x="0" y="205.73"/><use href="#r21_3" x="100" y="205.73"/><use href="#r21_4" x="200" y="205.73"/><use href="#r21_2" x="300" y="205.73"/><use href="#r21_1" x="400" y="205.73"/></g>
<g stroke-width="1.15"><use href="#r21_4" x="0" y="206.85"/><use href="#r21_2" x="100" y="206.85"/><use href="#r21_4" x="200" y="206.85"/><use href="#r21_1" x="300" y="206.85"/><use href="#r21_5" x="400" y="206.85"/><use href="#r23_0" x="0" y="207.95"/><use href="#r23_2" x="100" y="207.95"/><use href="#r23_3" x="200" y="207.95"/><use href="#r23_3" x="300" y="207.95"/><use href="#r23_4" x="400" y="207.95"/></g>
<g stroke-width="1.35"><use href="#r14_2" x="0" y="209.15"/><use href="#r14_5" x="100" y="209.15"/><use href="#r14_4" x="200" y="209.15"/><use href="#r14_2" x="300" y="209.15"/><use href="#r14_3" x="400" y="209.15"/><use href="#r14_4" x="0" y="210.45"/><use href="#r14_4" x="100" y="210.45"/><use href="#r14_2" x="200" y="210.45"/><use href="#r14_3" x="300" y="210.45"/><use href="#r14_4" x="400" y="210.45"/><use href="#r14_0" x="0" y="211.75"/><use href="#r14_4" x="100" y="211.75"/><use href="#r14_4" x="200" y="211.75"/><use href="#r14_1" x="300" y="211.75"/><use href="#r14_4" x="400" y="211.75"/><use href="#r17_3" x="0" y="213.05"/><use href="#r17_3" x="100" y="213.05"/><use href="#r17_1" x="200" y="213.05"/><use href="#r17_4" x="300" y="213.05"/><use href="#r17_4" x="400" y="213.05"/><use href="#r14_4" x="0" y="214.35"/><use href="#r14_0" x="100" y="214.35"/><use href="#r14_0" x="200" y="214.35"/><use href="#r14_2" x="300" y="214.35"/><use href="#r14_5" x="400" y="214.35"/></g>
<g stroke-width="1.35"><use href="#r2_0" x="0" y="215.65"/><use href="#r2_5" x="100" y="215.65"/><use href="#r2_5" x="200" y="215.65"/><use href="#r2_2" x="300" y="215.65"/><use href="#r2_4" x="400" y="215.65"/><use href="#r2_4" x="0" y="216.95"/><use href="#r2_2" x="100" y="216.95"/><use href="#r2_4" x="200" y="216.95"/><use href="#r2_2" x="300" y="216.95"/><use href="#r2_4" x="400" y="216.95"/><use href="#r3_0" x="0" y="218.25"/><use href="#r3_2" x="100" y="218.25"/><use href="#r3_3" x="200" y="218.25"/><use href="#r3_1" x="300" y="218.25"/><use href="#r3_5" x="400" y="218.25"/><use href="#r6_1" x="0" y="219.55"/><use href="#r6_5" x="100" y="219.55"/><use href="#r6_4" x="200" y="219.55"/><use href="#r6_4" x="300" y="219.55"/><use href="#r6_0" x="400" y="219.55"/><use href="#r1_0" x="0" y="220.85"/><use href="#r1_0" x="100" y="220.85"/><use href="#r1_5" x="200" y="220.85"/><use href="#r1_0" x="300" y="220.85"/><use href="#r1_0" x="400" y="220.85"/></g>
<g stroke-width="1.35"><use href="#r14_4" x="0" y="225.85"/><use href="#r14_2" x="100" y="225.85"/><use href="#r14_0" x="200" y="225.85"/><use href="#r14_5" x="300" y="225.85"/><use href="#r14_4" x="400" y="225.85"/><use href="#r15_0" x="0" y="227.15"/><use href="#r15_4" x="100" y="227.15"/><use href="#r15_3" x="200" y="227.15"/><use href="#r15_0" x="300" y="227.15"/><use href="#r15_0" x="400" y="227.15"/><use href="#r11_1" x="0" y="228.45"/><use href="#r11_3" x="100" y="228.45"/><use href="#r11_4" x="200" y="228.45"/><use href="#r11_2" x="300" y="228.45"/><use href="#r11_0" x="400" y="228.45"/><use href="#r13_4" x="0" y="229.75"/><use href="#r13_4" x="100" y="229.75"/><use href="#r13_0" x="200" y="229.75"/><use href="#r13_3" x="300" y="229.75"/><use href="#r13_2" x="400" y="229.75"/><use href="#r13_1" x="0" y="231.05"/><use href="#r13_5" x="100" y="231.05"/><use href="#r13_2" x="200" y="231.05"/><use href="#r13_5" x="300" y="231.05"/><use href="#r13_3" x="400" y="231.05"/><use href="#r14_2" x="0" y="232.35"/><use href="#r14_4" x="100" y="232.35"/><use href="#r14_5" x="200" y="232.35"/><use href="#r14_1" x="300" y="232.35"/><use href="#r14_4" x="400" y="232.35"/></g>
<g stroke-width="1.55"><use href="#r14_3" x="0" y="237.05"/><use href="#r14_1" x="100" y="237.05"/><use href="#r14_1" x="200" y="237.05"/><use href="#r14_0" x="300" y="237.05"/><use href="#r14_3" x="400" y="237.05"/><use href="#r14_1" x="0" y="238.55"/><use href="#r14_1" x="100" y="238.55"/><use href="#r14_2" x="200" y="238.55"/><use href="#r14_4" x="300" y="238.55"/><use href="#r14_3" x="400" y="238.55"/><use href="#r12_2" x="0" y="240.05"/><use href="#r12_1" x="100" y="240.05"/><use href="#r12_1" x="200" y="240.05"/><use href="#r12_2" x="300" y="240.05"/><use href="#r12_4" x="400" y="240.05"/><use href="#r13_5" x="0" y="241.55"/><use href="#r13_0" x="100" y="241.55"/><use href="#r13_5" x="200" y="241.55"/><use href="#r13_1" x="300" y="241.55"/><use href="#r13_5" x="400" y="241.55"/></g>
<g stroke-width="1.1"><use href="#r22_2" x="0" y="242.83"/><use href="#r22_1" x="100" y="242.83"/><use href="#r22_2" x="200" y="242.83"/><use href="#r22_4" x="300" y="242.83"/><use href="#r22_3" x="400" y="242.83"/><use href="#r20_4" x="0" y="243.88"/><use href="#r20_0" x="100" y="243.88"/><use href="#r20_3" x="200" y="243.88"/><use href="#r20_0" x="300" y="243.88"/><use href="#r20_1" x="400" y="243.88"/></g>
<g stroke-width="1.55"><use href="#r16_0" x="0" y="245.15"/><use href="#r16_4" x="100" y="245.15"/><use href="#r16_3" x="200" y="245.15"/><use href="#r16_2" x="300" y="245.15"/><use href="#r16_5" x="400" y="245.15"/><use href="#r16_0" x="0" y="246.65"/><use href="#r16_4" x="100" y="246.65"/><use href="#r16_2" x="200" y="246.65"/><use href="#r16_4" x="300" y="246.65"/><use href="#r16_5" x="400" y="246.65"/><use href="#r16_5" x="0" y="248.15"/><use href="#r16_0" x="100" y="248.15"/><use href="#r16_4" x="200" y="248.15"/><use href="#r16_1" x="300" y="248.15"/><use href="#r16_4" x="400" y="248.15"/><use href="#r17_5" x="0" y="249.65"/><use href="#r17_0" x="100" y="249.65"/><use href="#r17_4" x="200" y="249.65"/><use href="#r17_3" x="300" y="249.65"/><use href="#r17_0" x="400" y="249.65"/></g>
<g stroke-width="1.1"><use href="#r21_3" x="0" y="250.93"/><use href="#r21_2" x="100" y="250.93"/><use href="#r21_5" x="200" y="250.93"/><use href="#r21_5" x="300" y="250.93"/><use href="#r21_1" x="400" y="250.93"/><use href="#r22_0" x="0" y="251.97"/><use href="#r22_5" x="100" y="251.97"/><use href="#r22_3" x="200" y="251.97"/><use href="#r22_2" x="300" y="251.97"/><use href="#r22_1" x="400" y="251.97"/></g>
<g stroke-width="1.22"><use href="#r11_1" x="0" y="253.08"/><use href="#r11_1" x="100" y="253.08"/><use href="#r11_5" x="200" y="253.08"/><use href="#r11_4" x="300" y="253.08"/><use href="#r11_1" x="400" y="253.08"/><use href="#r8_4" x="0" y="254.25"/><use href="#r8_4" x="100" y="254.25"/><use href="#r8_2" x="200" y="254.25"/><use href="#r8_1" x="300" y="254.25"/><use href="#r8_5" x="400" y="254.25"/><use href="#r10_0" x="0" y="255.42"/><use href="#r10_3" x="100" y="255.42"/><use href="#r10_0" x="200" y="255.42"/><use href="#r10_1" x="300" y="255.42"/><use href="#r10_2" x="400" y="255.42"/></g>
<g stroke-width="1.38"><use href="#r12_0" x="0" y="256.67"/><use href="#r12_1" x="100" y="256.67"/><use href="#r12_0" x="200" y="256.67"/><use href="#r12_1" x="300" y="256.67"/><use href="#r12_5" x="400" y="256.67"/><use href="#r12_1" x="0" y="258"/><use href="#r12_4" x="100" y="258"/><use href="#r12_0" x="200" y="258"/><use href="#r12_2" x="300" y="258"/><use href="#r12_0" x="400" y="258"/><use href="#r14_4" x="0" y="259.33"/><use href="#r14_1" x="100" y="259.33"/><use href="#r14_3" x="200" y="259.33"/><use href="#r14_0" x="300" y="259.33"/><use href="#r14_5" x="400" y="259.33"/><use href="#r9_3" x="0" y="260.67"/><use href="#r9_4" x="100" y="260.67"/><use href="#r9_1" x="200" y="260.67"/><use href="#r9_5" x="300" y="260.67"/><use href="#r9_3" x="400" y="260.67"/><use href="#r15_5" x="0" y="262"/><use href="#r15_4" x="100" y="262"/><use href="#r15_3" x="200" y="262"/><use href="#r15_2" x="300" y="262"/><use href="#r15_0" x="400" y="262"/><use href="#r7_2" x="0" y="263.33"/><use href="#r7_4" x="100" y="263.33"/><use href="#r7_0" x="200" y="263.33"/><use href="#r7_0" x="300" y="263.33"/><use href="#r7_3" x="400" y="263.33"/></g>
<g stroke-width="1.37"><use href="#r18_0" x="0" y="264.66"/><use href="#r18_4" x="100" y="264.66"/><use href="#r18_1" x="200" y="264.66"/><use href="#r18_4" x="300" y="264.66"/><use href="#r18_2" x="400" y="264.66"/><use href="#r15_2" x="0" y="265.98"/><use href="#r15_2" x="100" y="265.98"/><use href="#r15_0" x="200" y="265.98"/><use href="#r15_0" x="300" y="265.98"/><use href="#r15_0" x="400" y="265.98"/><use href="#r14_0" x="0" y="267.3"/><use href="#r14_0" x="100" y="267.3"/><use href="#r14_3" x="200" y="267.3"/><use href="#r14_0" x="300" y="267.3"/><use href="#r14_3" x="400" y="267.3"/><use href="#r14_2" x="0" y="268.62"/><use href="#r14_3" x="100" y="268.62"/><use href="#r14_4" x="200" y="268.62"/><use href="#r14_5" x="300" y="268.62"/><use href="#r14_3" x="400" y="268.62"/><use href="#r13_0" x="0" y="269.95"/><use href="#r13_0" x="100" y="269.95"/><use href="#r13_2" x="200" y="269.95"/><use href="#r13_2" x="300" y="269.95"/><use href="#r13_1" x="400" y="269.95"/><use href="#r16_4" x="0" y="271.27"/><use href="#r16_0" x="100" y="271.27"/><use href="#r16_0" x="200" y="271.27"/><use href="#r16_0" x="300" y="271.27"/><use href="#r16_0" x="400" y="271.27"/><use href="#r19_4" x="0" y="272.59"/><use href="#r19_3" x="100" y="272.59"/><use href="#r19_3" x="200" y="272.59"/><use href="#r19_1" x="300" y="272.59"/><use href="#r19_3" x="400" y="272.59"/><use href="#r16_1" x="0" y="273.91"/><use href="#r16_3" x="100" y="273.91"/><use href="#r16_5" x="200" y="273.91"/><use href="#r16_1" x="300" y="273.91"/><use href="#r16_3" x="400" y="273.91"/><use href="#r12_1" x="0" y="275.23"/><use href="#r12_0" x="100" y="275.23"/><use href="#r12_4" x="200" y="275.23"/><use href="#r12_3" x="300" y="275.23"/><use href="#r12_2" x="400" y="275.23"/><use href="#r18_2" x="0" y="276.55"/><use href="#r18_2" x="100" y="276.55"/><use href="#r18_5" x="200" y="276.55"/><use href="#r18_4" x="300" y="276.55"/><use href="#r18_5" x="400" y="276.55"/><use href="#r14_1" x="0" y="277.88"/><use href="#r14_3" x="100" y="277.88"/><use href="#r14_5" x="200" y="277.88"/><use href="#r14_1" x="300" y="277.88"/><use href="#r14_0" x="400" y="277.88"/><use href="#r17_0" x="0" y="279.2"/><use href="#r17_0" x="100" y="279.2"/><use href="#r17_4" x="200" y="279.2"/><use href="#r17_5" x="300" y="279.2"/><use href="#r17_0" x="400" y="279.2"/><use href="#r15_2" x="0" y="280.52"/><use href="#r15_2" x="100" y="280.52"/><use href="#r15_1" x="200" y="280.52"/><use href="#r15_2" x="300" y="280.52"/><use href="#r15_5" x="400" y="280.52"/><use href="#r12_4" x="0" y="281.84"/><use href="#r12_5" x="100" y="281.84"/><use href="#r12_3" x="200" y="281.84"/><use href="#r12_3" x="300" y="281.84"/><use href="#r12_4" x="400" y="281.84"/></g>
<g stroke-width="1.43"><use href="#r12_0" x="0" y="283.19"/><use href="#r12_4" x="100" y="283.19"/><use href="#r12_0" x="200" y="283.19"/><use href="#r12_2" x="300" y="283.19"/><use href="#r12_1" x="400" y="283.19"/><use href="#r15_1" x="0" y="284.56"/><use href="#r15_0" x="100" y="284.56"/><use href="#r15_2" x="200" y="284.56"/><use href="#r15_5" x="300" y="284.56"/><use href="#r15_0" x="400" y="284.56"/><use href="#r18_4" x="0" y="285.94"/><use href="#r18_1" x="100" y="285.94"/><use href="#r18_4" x="200" y="285.94"/><use href="#r18_1" x="300" y="285.94"/><use href="#r18_4" x="400" y="285.94"/><use href="#r15_5" x="0" y="287.31"/><use href="#r15_3" x="100" y="287.31"/><use href="#r15_0" x="200" y="287.31"/><use href="#r15_3" x="300" y="287.31"/><use href="#r15_1" x="400" y="287.31"/></g>
<g stroke-width="1.45"><use href="#r6_5" x="0" y="288.7"/><use href="#r6_1" x="100" y="288.7"/><use href="#r6_1" x="200" y="288.7"/><use href="#r6_2" x="300" y="288.7"/><use href="#r6_5" x="400" y="288.7"/></g>
<g stroke-width="1.95"><use href="#r21_0" x="0" y="290.35"/><use href="#r21_2" x="100" y="290.35"/><use href="#r21_4" x="200" y="290.35"/><use href="#r21_3" x="300" y="290.35"/><use href="#r21_1" x="400" y="290.35"/><use href="#r20_3" x="0" y="292.25"/><use href="#r20_1" x="100" y="292.25"/><use href="#r20_0" x="200" y="292.25"/><use href="#r20_4" x="300" y="292.25"/><use href="#r20_1" x="400" y="292.25"/><use href="#r20_0" x="0" y="294.15"/><use href="#r20_2" x="100" y="294.15"/><use href="#r20_0" x="200" y="294.15"/><use href="#r20_3" x="300" y="294.15"/><use href="#r20_4" x="400" y="294.15"/><use href="#r18_0" x="0" y="296.05"/><use href="#r18_3" x="100" y="296.05"/><use href="#r18_1" x="200" y="296.05"/><use href="#r18_2" x="300" y="296.05"/><use href="#r18_5" x="400" y="296.05"/></g>
<g stroke-width="2.45"><use href="#r13_4" x="0" y="298.2"/><use href="#r13_1" x="100" y="298.2"/><use href="#r13_1" x="200" y="298.2"/><use href="#r13_0" x="300" y="298.2"/><use href="#r13_3" x="400" y="298.2"/></g>
<g stroke-width="1.6"><use href="#r17_3" x="0" y="300.17"/><use href="#r17_0" x="100" y="300.17"/><use href="#r17_5" x="200" y="300.17"/><use href="#r17_0" x="300" y="300.17"/><use href="#r17_5" x="400" y="300.17"/><use href="#r19_3" x="0" y="301.73"/><use href="#r19_3" x="100" y="301.73"/><use href="#r19_2" x="200" y="301.73"/><use href="#r19_0" x="300" y="301.73"/><use href="#r19_2" x="400" y="301.73"/></g>
<g stroke-width="1.3"><use href="#r18_1" x="0" y="303.12"/><use href="#r18_0" x="100" y="303.12"/><use href="#r18_0" x="200" y="303.12"/><use href="#r18_3" x="300" y="303.12"/><use href="#r18_1" x="400" y="303.12"/><use href="#r14_1" x="0" y="304.38"/><use href="#r14_0" x="100" y="304.38"/><use href="#r14_2" x="200" y="304.38"/><use href="#r14_4" x="300" y="304.38"/><use href="#r14_5" x="400" y="304.38"/><use href="#r15_4" x="0" y="305.62"/><use href="#r15_2" x="100" y="305.62"/><use href="#r15_0" x="200" y="305.62"/><use href="#r15_2" x="300" y="305.62"/><use href="#r15_1" x="400" y="305.62"/><use href="#r17_4" x="0" y="306.88"/><use href="#r17_5" x="100" y="306.88"/><use href="#r17_5" x="200" y="306.88"/><use href="#r17_2" x="300" y="306.88"/><use href="#r17_1" x="400" y="306.88"/></g>
<g stroke-width="1.6"><use href="#r16_3" x="0" y="308.27"/><use href="#r16_5" x="100" y="308.27"/><use href="#r16_1" x="200" y="308.27"/><use href="#r16_4" x="300" y="308.27"/><use href="#r16_4" x="400" y="308.27"/><use href="#r18_4" x="0" y="309.83"/><use href="#r18_5" x="100" y="309.83"/><use href="#r18_5" x="200" y="309.83"/><use href="#r18_1" x="300" y="309.83"/><use href="#r18_3" x="400" y="309.83"/></g>
<g stroke-width="1.35"><use href="#r14_2" x="0" y="311.25"/><use href="#r14_0" x="100" y="311.25"/><use href="#r14_2" x="200" y="311.25"/><use href="#r14_4" x="300" y="311.25"/><use href="#r14_0" x="400" y="311.25"/><use href="#r14_3" x="0" y="312.55"/><use href="#r14_3" x="100" y="312.55"/><use href="#r14_1" x="200" y="312.55"/><use href="#r14_4" x="300" y="312.55"/><use href="#r14_0" x="400" y="312.55"/><use href="#r20_1" x="0" y="313.85"/><use href="#r20_1" x="100" y="313.85"/><use href="#r20_0" x="200" y="313.85"/><use href="#r20_3" x="300" y="313.85"/><use href="#r20_2" x="400" y="313.85"/><use href="#r15_5" x="0" y="315.15"/><use href="#r15_4" x="100" y="315.15"/><use href="#r15_5" x="200" y="315.15"/><use href="#r15_4" x="300" y="315.15"/><use href="#r15_4" x="400" y="315.15"/><use href="#r19_3" x="0" y="316.45"/><use href="#r19_4" x="100" y="316.45"/><use href="#r19_1" x="200" y="316.45"/><use href="#r19_1" x="300" y="316.45"/><use href="#r19_0" x="400" y="316.45"/><use href="#r16_2" x="0" y="317.75"/><use href="#r16_4" x="100" y="317.75"/><use href="#r16_0" x="200" y="317.75"/><use href="#r16_3" x="300" y="317.75"/><use href="#r16_1" x="400" y="317.75"/><use href="#r16_2" x="0" y="319.05"/><use href="#r16_5" x="100" y="319.05"/><use href="#r16_3" x="200" y="319.05"/><use href="#r16_2" x="300" y="319.05"/><use href="#r16_1" x="400" y="319.05"/><use href="#r14_1" x="0" y="320.35"/><use href="#r14_0" x="100" y="320.35"/><use href="#r14_2" x="200" y="320.35"/><use href="#r14_2" x="300" y="320.35"/><use href="#r14_5" x="400" y="320.35"/></g>
<g stroke-width="1.3"><use href="#r19_2" x="0" y="321.62"/><use href="#r19_3" x="100" y="321.62"/><use href="#r19_3" x="200" y="321.62"/><use href="#r19_1" x="300" y="321.62"/><use href="#r19_3" x="400" y="321.62"/><use href="#r19_4" x="0" y="322.88"/><use href="#r19_4" x="100" y="322.88"/><use href="#r19_5" x="200" y="322.88"/><use href="#r19_0" x="300" y="322.88"/><use href="#r19_4" x="400" y="322.88"/><use href="#r14_3" x="0" y="324.12"/><use href="#r14_0" x="100" y="324.12"/><use href="#r14_1" x="200" y="324.12"/><use href="#r14_4" x="300" y="324.12"/><use href="#r14_3" x="400" y="324.12"/><use href="#r18_5" x="0" y="325.38"/><use href="#r18_0" x="100" y="325.38"/><use href="#r18_2" x="200" y="325.38"/><use href="#r18_5" x="300" y="325.38"/><use href="#r18_2" x="400" y="325.38"/></g>
<g stroke-width="1.35"><use href="#r8_3" x="0" y="326.65"/><use href="#r8_0" x="100" y="326.65"/><use href="#r8_3" x="200" y="326.65"/><use href="#r8_3" x="300" y="326.65"/><use href="#r8_5" x="400" y="326.65"/><use href="#r9_0" x="0" y="327.95"/><use href="#r9_1" x="100" y="327.95"/><use href="#r9_1" x="200" y="327.95"/><use href="#r9_5" x="300" y="327.95"/><use href="#r9_0" x="400" y="327.95"/><use href="#r4_1" x="0" y="329.25"/><use href="#r4_1" x="100" y="329.25"/><use href="#r4_4" x="200" y="329.25"/><use href="#r4_4" x="300" y="329.25"/><use href="#r4_0" x="400" y="329.25"/><use href="#r10_4" x="0" y="330.55"/><use href="#r10_2" x="100" y="330.55"/><use href="#r10_4" x="200" y="330.55"/><use href="#r10_1" x="300" y="330.55"/><use href="#r10_4" x="400" y="330.55"/><use href="#r7_3" x="0" y="331.85"/><use href="#r7_2" x="100" y="331.85"/><use href="#r7_5" x="200" y="331.85"/><use href="#r7_3" x="300" y="331.85"/><use href="#r7_0" x="400" y="331.85"/></g>
<g stroke-width="1.42"><use href="#r6_1" x="0" y="347.18"/><use href="#r6_5" x="100" y="347.18"/><use href="#r6_3" x="200" y="347.18"/><use href="#r6_5" x="300" y="347.18"/><use href="#r6_4" x="400" y="347.18"/><use href="#r3_1" x="0" y="348.55"/><use href="#r3_0" x="100" y="348.55"/><use href="#r3_2" x="200" y="348.55"/><use href="#r3_2" x="300" y="348.55"/><use href="#r3_2" x="400" y="348.55"/><use href="#r3_1" x="0" y="349.92"/><use href="#r3_0" x="100" y="349.92"/><use href="#r3_5" x="200" y="349.92"/><use href="#r3_2" x="300" y="349.92"/><use href="#r3_2" x="400" y="349.92"/></g>
<g stroke-width="1.65"><use href="#r18_3" x="0" y="351.4"/><use href="#r18_5" x="100" y="351.4"/><use href="#r18_0" x="200" y="351.4"/><use href="#r18_3" x="300" y="351.4"/><use href="#r18_5" x="400" y="351.4"/></g>
<g stroke-width="1.43"><use href="#r6_3" x="0" y="361.69"/><use href="#r6_4" x="100" y="361.69"/><use href="#r6_0" x="200" y="361.69"/><use href="#r6_3" x="300" y="361.69"/><use href="#r6_1" x="400" y="361.69"/><use href="#r4_3" x="0" y="363.06"/><use href="#r4_4" x="100" y="363.06"/><use href="#r4_4" x="200" y="363.06"/><use href="#r4_5" x="300" y="363.06"/><use href="#r4_4" x="400" y="363.06"/><use href="#r5_3" x="0" y="364.44"/><use href="#r5_3" x="100" y="364.44"/><use href="#r5_4" x="200" y="364.44"/><use href="#r5_1" x="300" y="364.44"/><use href="#r5_3" x="400" y="364.44"/><use href="#r7_0" x="0" y="365.81"/><use href="#r7_4" x="100" y="365.81"/><use href="#r7_4" x="200" y="365.81"/><use href="#r7_4" x="300" y="365.81"/><use href="#r7_5" x="400" y="365.81"/><use href="#r5_2" x="0" y="367.19"/><use href="#r5_5" x="100" y="367.19"/><use href="#r5_4" x="200" y="367.19"/><use href="#r5_2" x="300" y="367.19"/><use href="#r5_4" x="400" y="367.19"/><use href="#r4_4" x="0" y="368.56"/><use href="#r4_3" x="100" y="368.56"/><use href="#r4_5" x="200" y="368.56"/><use href="#r4_4" x="300" y="368.56"/><use href="#r4_2" x="400" y="368.56"/><use href="#r2_4" x="0" y="369.94"/><use href="#r2_1" x="100" y="369.94"/><use href="#r2_5" x="200" y="369.94"/><use href="#r2_1" x="300" y="369.94"/><use href="#r2_4" x="400" y="369.94"/><use href="#r6_3" x="0" y="371.31"/><use href="#r6_2" x="100" y="371.31"/><use href="#r6_3" x="200" y="371.31"/><use href="#r6_3" x="300" y="371.31"/><use href="#r6_2" x="400" y="371.31"/></g>
<g stroke-width="1.85"><use href="#r22_1" x="0" y="372.9"/><use href="#r22_2" x="100" y="372.9"/><use href="#r22_5" x="200" y="372.9"/><use href="#r22_1" x="300" y="372.9"/><use href="#r22_1" x="400" y="372.9"/></g>
<g stroke-width="1.65"><use href="#r21_1" x="0" y="374.6"/><use href="#r21_3" x="100" y="374.6"/><use href="#r21_3" x="200" y="374.6"/><use href="#r21_0" x="300" y="374.6"/><use href="#r21_5" x="400" y="374.6"/><use href="#r18_5" x="0" y="376.2"/><use href="#r18_0" x="100" y="376.2"/><use href="#r18_1" x="200" y="376.2"/><use href="#r18_0" x="300" y="376.2"/><use href="#r18_0" x="400" y="376.2"/></g>
<g stroke-width="1.55"><use href="#r9_0" x="0" y="377.75"/><use href="#r9_1" x="100" y="377.75"/><use href="#r9_4" x="200" y="377.75"/><use href="#r9_0" x="300" y="377.75"/><use href="#r9_1" x="400" y="377.75"/><use href="#r11_0" x="0" y="379.25"/><use href="#r11_5" x="100" y="379.25"/><use href="#r11_0" x="200" y="379.25"/><use href="#r11_0" x="300" y="379.25"/><use href="#r11_1" x="400" y="379.25"/></g>
<g stroke-width="1.3"><use href="#r13_1" x="0" y="380.62"/><use href="#r13_5" x="100" y="380.62"/><use href="#r13_0" x="200" y="380.62"/><use href="#r13_5" x="300" y="380.62"/><use href="#r13_3" x="400" y="380.62"/><use href="#r14_5" x="0" y="381.88"/><use href="#r14_3" x="100" y="381.88"/><use href="#r14_5" x="200" y="381.88"/><use href="#r14_4" x="300" y="381.88"/><use href="#r14_1" x="400" y="381.88"/><use href="#r16_4" x="0" y="383.12"/><use href="#r16_4" x="100" y="383.12"/><use href="#r16_4" x="200" y="383.12"/><use href="#r16_0" x="300" y="383.12"/><use href="#r16_5" x="400" y="383.12"/><use href="#r18_5" x="0" y="384.38"/><use href="#r18_0" x="100" y="384.38"/><use href="#r18_3" x="200" y="384.38"/><use href="#r18_1" x="300" y="384.38"/><use href="#r18_2" x="400" y="384.38"/></g>
<g stroke-width="3.38"><use href="#r14_5" x="0" y="386.67"/><use href="#r14_5" x="100" y="386.67"/><use href="#r14_3" x="200" y="386.67"/><use href="#r14_5" x="300" y="386.67"/><use href="#r14_2" x="400" y="386.67"/><use href="#r14_4" x="0" y="390"/><use href="#r14_3" x="100" y="390"/><use href="#r14_4" x="200" y="390"/><use href="#r14_0" x="300" y="390"/><use href="#r14_4" x="400" y="390"/><use href="#r15_1" x="0" y="393.33"/><use href="#r15_4" x="100" y="393.33"/><use href="#r15_3" x="200" y="393.33"/><use href="#r15_0" x="300" y="393.33"/><use href="#r15_5" x="400" y="393.33"/></g>
<g stroke-width="1.3"><use href="#r10_1" x="0" y="395.62"/><use href="#r10_3" x="100" y="395.62"/><use href="#r10_3" x="200" y="395.62"/><use href="#r10_0" x="300" y="395.62"/><use href="#r10_0" x="400" y="395.62"/><use href="#r8_0" x="0" y="396.88"/><use href="#r8_1" x="100" y="396.88"/><use href="#r8_2" x="200" y="396.88"/><use href="#r8_5" x="300" y="396.88"/><use href="#r8_4" x="400" y="396.88"/></g>
<g stroke-width="1.3"><use href="#r15_5" x="0" y="398.12"/><use href="#r15_4" x="100" y="398.12"/><use href="#r15_5" x="200" y="398.12"/><use href="#r15_3" x="300" y="398.12"/><use href="#r15_5" x="400" y="398.12"/><use href="#r15_0" x="0" y="399.38"/><use href="#r15_4" x="100" y="399.38"/><use href="#r15_0" x="200" y="399.38"/><use href="#r15_0" x="300" y="399.38"/><use href="#r15_2" x="400" y="399.38"/><use href="#r16_5" x="0" y="400.62"/><use href="#r16_4" x="100" y="400.62"/><use href="#r16_3" x="200" y="400.62"/><use href="#r16_5" x="300" y="400.62"/><use href="#r16_2" x="400" y="400.62"/><use href="#r16_4" x="0" y="401.88"/><use href="#r16_5" x="100" y="401.88"/><use href="#r16_1" x="200" y="401.88"/><use href="#r16_5" x="300" y="401.88"/><use href="#r16_2" x="400" y="401.88"/></g>
<g stroke-width="1.39"><use href="#r3_3" x="0" y="403.17"/><use href="#r3_0" x="100" y="403.17"/><use href="#r3_3" x="200" y="403.17"/><use href="#r3_1" x="300" y="403.17"/><use href="#r3_2" x="400" y="403.17"/><use href="#r2_3" x="0" y="404.51"/><use href="#r2_2" x="100" y="404.51"/><use href="#r2_0" x="200" y="404.51"/><use href="#r2_1" x="300" y="404.51"/><use href="#r2_5" x="400" y="404.51"/><use href="#r6_4" x="0" y="405.85"/><use href="#r6_1" x="100" y="405.85"/><use href="#r6_2" x="200" y="405.85"/><use href="#r6_4" x="300" y="405.85"/><use href="#r6_2" x="400" y="405.85"/><use href="#r1_4" x="0" y="407.19"/><use href="#r1_1" x="100" y="407.19"/><use href="#r1_2" x="200" y="407.19"/><use href="#r1_4" x="300" y="407.19"/><use href="#r1_3" x="400" y="407.19"/><use href="#r0_2" x="0" y="408.53"/><use href="#r0_2" x="100" y="408.53"/><use href="#r0_1" x="200" y="408.53"/><use href="#r0_2" x="300" y="408.53"/><use href="#r0_3" x="400" y="408.53"/></g>
<g stroke-width="1.55"><use href="#r10_4" x="0" y="417.75"/><use href="#r10_2" x="100" y="417.75"/><use href="#r10_3" x="200" y="417.75"/><use href="#r10_5" x="300" y="417.75"/><use href="#r10_2" x="400" y="417.75"/><use href="#r9_1" x="0" y="419.25"/><use href="#r9_4" x="100" y="419.25"/><use href="#r9_0" x="200" y="419.25"/><use href="#r9_5" x="300" y="419.25"/><use href="#r9_0" x="400" y="419.25"/><use href="#r12_1" x="0" y="420.75"/><use href="#r12_3" x="100" y="420.75"/><use href="#r12_1" x="200" y="420.75"/><use href="#r12_5" x="300" y="420.75"/><use href="#r12_5" x="400" y="420.75"/><use href="#r7_1" x="0" y="422.25"/><use href="#r7_4" x="100" y="422.25"/><use href="#r7_5" x="200" y="422.25"/><use href="#r7_3" x="300" y="422.25"/><use href="#r7_2" x="400" y="422.25"/></g>
<g stroke-width="1.55"><use href="#r11_3" x="0" y="423.75"/><use href="#r11_2" x="100" y="423.75"/><use href="#r11_4" x="200" y="423.75"/><use href="#r11_1" x="300" y="423.75"/><use href="#r11_0" x="400" y="423.75"/><use href="#r14_3" x="0" y="425.25"/><use href="#r14_0" x="100" y="425.25"/><use href="#r14_5" x="200" y="425.25"/><use href="#r14_5" x="300" y="425.25"/><use href="#r14_4" x="400" y="425.25"/></g>
<g stroke-width="1.38"><use href="#r15_0" x="0" y="426.67"/><use href="#r15_2" x="100" y="426.67"/><use href="#r15_4" x="200" y="426.67"/><use href="#r15_1" x="300" y="426.67"/><use href="#r15_3" x="400" y="426.67"/><use href="#r14_2" x="0" y="428"/><use href="#r14_3" x="100" y="428"/><use href="#r14_0" x="200" y="428"/><use href="#r14_2" x="300" y="428"/><use href="#r14_0" x="400" y="428"/><use href="#r14_3" x="0" y="429.33"/><use href="#r14_0" x="100" y="429.33"/><use href="#r14_0" x="200" y="429.33"/><use href="#r14_1" x="300" y="429.33"/><use href="#r14_0" x="400" y="429.33"/></g>
<g stroke-width="1.55"><use href="#r19_3" x="0" y="430.75"/><use href="#r19_1" x="100" y="430.75"/><use href="#r19_4" x="200" y="430.75"/><use href="#r19_2" x="300" y="430.75"/><use href="#r19_2" x="400" y="430.75"/><use href="#r19_0" x="0" y="432.25"/><use href="#r19_1" x="100" y="432.25"/><use href="#r19_3" x="200" y="432.25"/><use href="#r19_1" x="300" y="432.25"/><use href="#r19_4" x="400" y="432.25"/></g>
<g stroke-width="1.32"><use href="#r13_5" x="0" y="433.63"/><use href="#r13_4" x="100" y="433.63"/><use href="#r13_5" x="200" y="433.63"/><use href="#r13_4" x="300" y="433.63"/><use href="#r13_0" x="400" y="433.63"/><use href="#r14_2" x="0" y="434.9"/><use href="#r14_3" x="100" y="434.9"/><use href="#r14_2" x="200" y="434.9"/><use href="#r14_2" x="300" y="434.9"/><use href="#r14_4" x="400" y="434.9"/><use href="#r18_1" x="0" y="436.17"/><use href="#r18_4" x="100" y="436.17"/><use href="#r18_1" x="200" y="436.17"/><use href="#r18_2" x="300" y="436.17"/><use href="#r18_0" x="400" y="436.17"/><use href="#r15_0" x="0" y="437.43"/><use href="#r15_5" x="100" y="437.43"/><use href="#r15_4" x="200" y="437.43"/><use href="#r15_0" x="300" y="437.43"/><use href="#r15_0" x="400" y="437.43"/><use href="#r17_5" x="0" y="438.7"/><use href="#r17_3" x="100" y="438.7"/><use href="#r17_1" x="200" y="438.7"/><use href="#r17_1" x="300" y="438.7"/><use href="#r17_3" x="400" y="438.7"/><use href="#r17_1" x="0" y="439.97"/><use href="#r17_3" x="100" y="439.97"/><use href="#r17_1" x="200" y="439.97"/><use href="#r17_3" x="300" y="439.97"/><use href="#r17_4" x="400" y="439.97"/></g>
<g stroke-width="1.65"><use href="#r18_0" x="0" y="441.4"/><use href="#r18_1" x="100" y="441.4"/><use href="#r18_5" x="200" y="441.4"/><use href="#r18_3" x="300" y="441.4"/><use href="#r18_0" x="400" y="441.4"/><use href="#r15_1" x="0" y="443"/><use href="#r15_4" x="100" y="443"/><use href="#r15_1" x="200" y="443"/><use href="#r15_4" x="300" y="443"/><use href="#r15_5" x="400" y="443"/></g>
<g stroke-width="1.65"><use href="#r20_1" x="0" y="444.6"/><use href="#r20_5" x="100" y="444.6"/><use href="#r20_0" x="200" y="444.6"/><use href="#r20_2" x="300" y="444.6"/><use href="#r20_5" x="400" y="444.6"/><use href="#r20_0" x="0" y="446.2"/><use href="#r20_3" x="100" y="446.2"/><use href="#r20_2" x="200" y="446.2"/><use href="#r20_2" x="300" y="446.2"/><use href="#r20_2" x="400" y="446.2"/></g>
<g stroke-width="1.55"><use href="#r15_2" x="0" y="447.75"/><use href="#r15_2" x="100" y="447.75"/><use href="#r15_4" x="200" y="447.75"/><use href="#r15_0" x="300" y="447.75"/><use href="#r15_3" x="400" y="447.75"/><use href="#r16_0" x="0" y="449.25"/><use href="#r16_4" x="100" y="449.25"/><use href="#r16_1" x="200" y="449.25"/><use href="#r16_5" x="300" y="449.25"/><use href="#r16_1" x="400" y="449.25"/></g>
<g stroke-width="1.35"><use href="#r4_3" x="0" y="456.65"/><use href="#r4_3" x="100" y="456.65"/><use href="#r4_0" x="200" y="456.65"/><use href="#r4_2" x="300" y="456.65"/><use href="#r4_2" x="400" y="456.65"/><use href="#r2_3" x="0" y="457.95"/><use href="#r2_2" x="100" y="457.95"/><use href="#r2_2" x="200" y="457.95"/><use href="#r2_5" x="300" y="457.95"/><use href="#r2_2" x="400" y="457.95"/><use href="#r3_1" x="0" y="459.25"/><use href="#r3_2" x="100" y="459.25"/><use href="#r3_1" x="200" y="459.25"/><use href="#r3_2" x="300" y="459.25"/><use href="#r3_5" x="400" y="459.25"/><use href="#r1_3" x="0" y="460.55"/><use href="#r1_4" x="100" y="460.55"/><use href="#r1_2" x="200" y="460.55"/><use href="#r1_3" x="300" y="460.55"/><use href="#r1_4" x="400" y="460.55"/><use href="#r3_4" x="0" y="461.85"/><use href="#r3_1" x="100" y="461.85"/><use href="#r3_4" x="200" y="461.85"/><use href="#r3_3" x="300" y="461.85"/><use href="#r3_1" x="400" y="461.85"/><use href="#r6_3" x="0" y="463.15"/><use href="#r6_1" x="100" y="463.15"/><use href="#r6_3" x="200" y="463.15"/><use href="#r6_1" x="300" y="463.15"/><use href="#r6_4" x="400" y="463.15"/><use href="#r4_3" x="0" y="464.45"/><use href="#r4_0" x="100" y="464.45"/><use href="#r4_2" x="200" y="464.45"/><use href="#r4_0" x="300" y="464.45"/><use href="#r4_0" x="400" y="464.45"/><use href="#r2_3" x="0" y="465.75"/><use href="#r2_4" x="100" y="465.75"/><use href="#r2_3" x="200" y="465.75"/><use href="#r2_3" x="300" y="465.75"/><use href="#r2_5" x="400" y="465.75"/><use href="#r5_4" x="0" y="467.05"/><use href="#r5_4" x="100" y="467.05"/><use href="#r5_0" x="200" y="467.05"/><use href="#r5_4" x="300" y="467.05"/><use href="#r5_3" x="400" y="467.05"/><use href="#r4_3" x="0" y="468.35"/><use href="#r4_5" x="100" y="468.35"/><use href="#r4_5" x="200" y="468.35"/><use href="#r4_3" x="300" y="468.35"/><use href="#r4_4" x="400" y="468.35"/></g>
<g stroke-width="1.55"><use href="#r2_1" x="0" y="481.75"/><use href="#r2_0" x="100" y="481.75"/><use href="#r2_3" x="200" y="481.75"/><use href="#r2_2" x="300" y="481.75"/><use href="#r2_5" x="400" y="481.75"/><use href="#r0_1" x="0" y="483.25"/><use href="#r0_2" x="100" y="483.25"/><use href="#r0_5" x="200" y="483.25"/><use href="#r0_4" x="300" y="483.25"/><use href="#r0_3" x="400" y="483.25"/><use href="#r2_3" x="0" y="484.75"/><use href="#r2_3" x="100" y="484.75"/><use href="#r2_5" x="200" y="484.75"/><use href="#r2_1" x="300" y="484.75"/><use href="#r2_2" x="400" y="484.75"/><use href="#r3_2" x="0" y="486.25"/><use href="#r3_3" x="100" y="486.25"/><use href="#r3_4" x="200" y="486.25"/><use href="#r3_2" x="300" y="486.25"/><use href="#r3_2" x="400" y="486.25"/></g>
<g stroke-width="3.05"><use href="#r13_0" x="0" y="488.5"/><use href="#r13_4" x="100" y="488.5"/><use href="#r13_2" x="200" y="488.5"/><use href="#r13_4" x="300" y="488.5"/><use href="#r13_3" x="400" y="488.5"/></g>
<g stroke-width="1.22"><use href="#r3_5" x="0" y="490.58"/><use href="#r3_2" x="100" y="490.58"/><use href="#r3_2" x="200" y="490.58"/><use href="#r3_2" x="300" y="490.58"/><use href="#r3_2" x="400" y="490.58"/><use href="#r5_0" x="0" y="491.75"/><use href="#r5_5" x="100" y="491.75"/><use href="#r5_5" x="200" y="491.75"/><use href="#r5_0" x="300" y="491.75"/><use href="#r5_1" x="400" y="491.75"/><use href="#r3_2" x="0" y="492.92"/><use href="#r3_5" x="100" y="492.92"/><use href="#r3_2" x="200" y="492.92"/><use href="#r3_5" x="300" y="492.92"/><use href="#r3_2" x="400" y="492.92"/></g>
<g stroke-width="1.55"><use href="#r6_2" x="0" y="494.25"/><use href="#r6_2" x="100" y="494.25"/><use href="#r6_5" x="200" y="494.25"/><use href="#r6_1" x="300" y="494.25"/><use href="#r6_3" x="400" y="494.25"/><use href="#r5_5" x="0" y="495.75"/><use href="#r5_5" x="100" y="495.75"/><use href="#r5_2" x="200" y="495.75"/><use href="#r5_2" x="300" y="495.75"/><use href="#r5_2" x="400" y="495.75"/></g>
<g stroke-width="1.55"><use href="#r6_0" x="0" y="497.25"/><use href="#r6_4" x="100" y="497.25"/><use href="#r6_0" x="200" y="497.25"/><use href="#r6_3" x="300" y="497.25"/><use href="#r6_5" x="400" y="497.25"/><use href="#r5_5" x="0" y="498.75"/><use href="#r5_3" x="100" y="498.75"/><use href="#r5_4" x="200" y="498.75"/><use href="#r5_2" x="300" y="498.75"/><use href="#r5_4" x="400" y="498.75"/><use href="#r6_4" x="0" y="500.25"/><use href="#r6_3" x="100" y="500.25"/><use href="#r6_3" x="200" y="500.25"/><use href="#r6_3" x="300" y="500.25"/><use href="#r6_0" x="400" y="500.25"/><use href="#r3_3" x="0" y="501.75"/><use href="#r3_0" x="100" y="501.75"/><use href="#r3_0" x="200" y="501.75"/><use href="#r3_2" x="300" y="501.75"/><use href="#r3_0" x="400" y="501.75"/></g>
<g stroke-width="1.8"><use href="#r19_2" x="0" y="503.38"/><use href="#r19_5" x="100" y="503.38"/><use href="#r19_0" x="200" y="503.38"/><use href="#r19_3" x="300" y="503.38"/><use href="#r19_4" x="400" y="503.38"/><use href="#r19_1" x="0" y="505.12"/><use href="#r19_3" x="100" y="505.12"/><use href="#r19_1" x="200" y="505.12"/><use href="#r19_0" x="300" y="505.12"/><use href="#r19_4" x="400" y="505.12"/></g>
<g stroke-width="1.38"><use href="#r13_0" x="0" y="506.67"/><use href="#r13_5" x="100" y="506.67"/><use href="#r13_3" x="200" y="506.67"/><use href="#r13_3" x="300" y="506.67"/><use href="#r13_3" x="400" y="506.67"/><use href="#r13_3" x="0" y="508"/><use href="#r13_4" x="100" y="508"/><use href="#r13_2" x="200" y="508"/><use href="#r13_1" x="300" y="508"/><use href="#r13_5" x="400" y="508"/><use href="#r10_4" x="0" y="509.33"/><use href="#r10_3" x="100" y="509.33"/><use href="#r10_4" x="200" y="509.33"/><use href="#r10_2" x="300" y="509.33"/><use href="#r10_3" x="400" y="509.33"/></g>
<g stroke-width="1.32"><use href="#r16_1" x="0" y="510.63"/><use href="#r16_0" x="100" y="510.63"/><use href="#r16_0" x="200" y="510.63"/><use href="#r16_1" x="300" y="510.63"/><use href="#r16_2" x="400" y="510.63"/><use href="#r9_1" x="0" y="511.9"/><use href="#r9_5" x="100" y="511.9"/><use href="#r9_0" x="200" y="511.9"/><use href="#r9_3" x="300" y="511.9"/><use href="#r9_0" x="400" y="511.9"/><use href="#r12_0" x="0" y="513.17"/><use href="#r12_3" x="100" y="513.17"/><use href="#r12_3" x="200" y="513.17"/><use href="#r12_3" x="300" y="513.17"/><use href="#r12_5" x="400" y="513.17"/></g>
<g stroke-width="1.29"><use href="#r11_0" x="0" y="514.42"/><use href="#r11_4" x="100" y="514.42"/><use href="#r11_2" x="200" y="514.42"/><use href="#r11_1" x="300" y="514.42"/><use href="#r11_1" x="400" y="514.42"/><use href="#r9_0" x="0" y="515.66"/><use href="#r9_5" x="100" y="515.66"/><use href="#r9_0" x="200" y="515.66"/><use href="#r9_2" x="300" y="515.66"/><use href="#r9_3" x="400" y="515.66"/><use href="#r9_3" x="0" y="516.9"/><use href="#r9_4" x="100" y="516.9"/><use href="#r9_5" x="200" y="516.9"/><use href="#r9_5" x="300" y="516.9"/><use href="#r9_1" x="400" y="516.9"/><use href="#r11_2" x="0" y="518.14"/><use href="#r11_5" x="100" y="518.14"/><use href="#r11_2" x="200" y="518.14"/><use href="#r11_2" x="300" y="518.14"/><use href="#r11_4" x="400" y="518.14"/><use href="#r8_0" x="0" y="519.38"/><use href="#r8_1" x="100" y="519.38"/><use href="#r8_5" x="200" y="519.38"/><use href="#r8_3" x="300" y="519.38"/><use href="#r8_4" x="400" y="519.38"/></g>
<g stroke-width="2.85"><use href="#r17_4" x="0" y="521.4"/><use href="#r17_0" x="100" y="521.4"/><use href="#r17_4" x="200" y="521.4"/><use href="#r17_0" x="300" y="521.4"/><use href="#r17_3" x="400" y="521.4"/></g>
<g stroke-width="1.45"><use href="#r1_3" x="0" y="523.5"/><use href="#r1_0" x="100" y="523.5"/><use href="#r1_4" x="200" y="523.5"/><use href="#r1_0" x="300" y="523.5"/><use href="#r1_3" x="400" y="523.5"/><use href="#r5_3" x="0" y="524.9"/><use href="#r5_4" x="100" y="524.9"/><use href="#r5_3" x="200" y="524.9"/><use href="#r5_5" x="300" y="524.9"/><use href="#r5_1" x="400" y="524.9"/></g>
<g stroke-width="2.25"><use href="#r18_1" x="0" y="526.7"/><use href="#r18_5" x="100" y="526.7"/><use href="#r18_2" x="200" y="526.7"/><use href="#r18_2" x="300" y="526.7"/><use href="#r18_0" x="400" y="526.7"/><use href="#r19_5" x="0" y="528.9"/><use href="#r19_1" x="100" y="528.9"/><use href="#r19_2" x="200" y="528.9"/><use href="#r19_0" x="300" y="528.9"/><use href="#r19_1" x="400" y="528.9"/></g>
<g stroke-width="1.3"><use href="#r8_4" x="0" y="530.62"/><use href="#r8_2" x="100" y="530.62"/><use href="#r8_4" x="200" y="530.62"/><use href="#r8_1" x="300" y="530.62"/><use href="#r8_3" x="400" y="530.62"/><use href="#r14_3" x="0" y="531.88"/><use href="#r14_0" x="100" y="531.88"/><use href="#r14_5" x="200" y="531.88"/><use href="#r14_0" x="300" y="531.88"/><use href="#r14_1" x="400" y="531.88"/><use href="#r12_3" x="0" y="533.12"/><use href="#r12_0" x="100" y="533.12"/><use href="#r12_0" x="200" y="533.12"/><use href="#r12_3" x="300" y="533.12"/><use href="#r12_0" x="400" y="533.12"/><use href="#r10_1" x="0" y="534.38"/><use href="#r10_5" x="100" y="534.38"/><use href="#r10_5" x="200" y="534.38"/><use href="#r10_4" x="300" y="534.38"/><use href="#r10_1" x="400" y="534.38"/></g>
<g stroke-width="1.55"><use href="#r12_4" x="0" y="547.75"/><use href="#r12_0" x="100" y="547.75"/><use href="#r12_1" x="200" y="547.75"/><use href="#r12_2" x="300" y="547.75"/><use href="#r12_1" x="400" y="547.75"/><use href="#r12_0" x="0" y="549.25"/><use href="#r12_5" x="100" y="549.25"/><use href="#r12_4" x="200" y="549.25"/><use href="#r12_2" x="300" y="549.25"/><use href="#r12_3" x="400" y="549.25"/></g>
<g stroke-width="1.31"><use href="#r18_4" x="0" y="550.63"/><use href="#r18_5" x="100" y="550.63"/><use href="#r18_5" x="200" y="550.63"/><use href="#r18_0" x="300" y="550.63"/><use href="#r18_3" x="400" y="550.63"/><use href="#r17_1" x="0" y="551.89"/><use href="#r17_3" x="100" y="551.89"/><use href="#r17_4" x="200" y="551.89"/><use href="#r17_2" x="300" y="551.89"/><use href="#r17_5" x="400" y="551.89"/><use href="#r17_0" x="0" y="553.14"/><use href="#r17_5" x="100" y="553.14"/><use href="#r17_2" x="200" y="553.14"/><use href="#r17_0" x="300" y="553.14"/><use href="#r17_0" x="400" y="553.14"/><use href="#r16_2" x="0" y="554.4"/><use href="#r16_4" x="100" y="554.4"/><use href="#r16_2" x="200" y="554.4"/><use href="#r16_5" x="300" y="554.4"/><use href="#r16_4" x="400" y="554.4"/><use href="#r17_2" x="0" y="555.66"/><use href="#r17_3" x="100" y="555.66"/><use href="#r17_2" x="200" y="555.66"/><use href="#r17_1" x="300" y="555.66"/><use href="#r17_1" x="400" y="555.66"/><use href="#r17_2" x="0" y="556.91"/><use href="#r17_2" x="100" y="556.91"/><use href="#r17_5" x="200" y="556.91"/><use href="#r17_1" x="300" y="556.91"/><use href="#r17_3" x="400" y="556.91"/><use href="#r16_5" x="0" y="558.17"/><use href="#r16_1" x="100" y="558.17"/><use href="#r16_1" x="200" y="558.17"/><use href="#r16_1" x="300" y="558.17"/><use href="#r16_0" x="400" y="558.17"/></g>
<g stroke-width="1.29"><use href="#r17_0" x="0" y="559.42"/><use href="#r17_3" x="100" y="559.42"/><use href="#r17_4" x="200" y="559.42"/><use href="#r17_0" x="300" y="559.42"/><use href="#r17_1" x="400" y="559.42"/><use href="#r16_3" x="0" y="560.66"/><use href="#r16_5" x="100" y="560.66"/><use href="#r16_4" x="200" y="560.66"/><use href="#r16_0" x="300" y="560.66"/><use href="#r16_3" x="400" y="560.66"/><use href="#r16_1" x="0" y="561.9"/><use href="#r16_5" x="100" y="561.9"/><use href="#r16_3" x="200" y="561.9"/><use href="#r16_5" x="300" y="561.9"/><use href="#r16_4" x="400" y="561.9"/><use href="#r13_5" x="0" y="563.14"/><use href="#r13_1" x="100" y="563.14"/><use href="#r13_2" x="200" y="563.14"/><use href="#r13_2" x="300" y="563.14"/><use href="#r13_2" x="400" y="563.14"/><use href="#r15_1" x="0" y="564.38"/><use href="#r15_0" x="100" y="564.38"/><use href="#r15_3" x="200" y="564.38"/><use href="#r15_0" x="300" y="564.38"/><use href="#r15_1" x="400" y="564.38"/></g>
<g stroke-width="1.55"><use href="#r3_2" x="0" y="565.75"/><use href="#r3_1" x="100" y="565.75"/><use href="#r3_0" x="200" y="565.75"/><use href="#r3_0" x="300" y="565.75"/><use href="#r3_0" x="400" y="565.75"/><use href="#r5_5" x="0" y="567.25"/><use href="#r5_3" x="100" y="567.25"/><use href="#r5_2" x="200" y="567.25"/><use href="#r5_0" x="300" y="567.25"/><use href="#r5_0" x="400" y="567.25"/></g>
<g stroke-width="2.05"><use href="#r20_3" x="0" y="594"/><use href="#r20_1" x="100" y="594"/><use href="#r20_5" x="200" y="594"/><use href="#r20_0" x="300" y="594"/><use href="#r20_3" x="400" y="594"/><use href="#r19_4" x="0" y="596"/><use href="#r19_1" x="100" y="596"/><use href="#r19_5" x="200" y="596"/><use href="#r19_0" x="300" y="596"/><use href="#r19_1" x="400" y="596"/></g>
<g stroke-width="1.55"><use href="#r13_1" x="0" y="597.75"/><use href="#r13_3" x="100" y="597.75"/><use href="#r13_0" x="200" y="597.75"/><use href="#r13_0" x="300" y="597.75"/><use href="#r13_4" x="400" y="597.75"/><use href="#r14_2" x="0" y="599.25"/><use href="#r14_2" x="100" y="599.25"/><use href="#r14_3" x="200" y="599.25"/><use href="#r14_5" x="300" y="599.25"/><use href="#r14_4" x="400" y="599.25"/></g>
<g stroke-width="1.55"><use href="#r11_2" x="0" y="600.75"/><use href="#r11_5" x="100" y="600.75"/><use href="#r11_1" x="200" y="600.75"/><use href="#r11_3" x="300" y="600.75"/><use href="#r11_5" x="400" y="600.75"/><use href="#r14_3" x="0" y="602.25"/><use href="#r14_0" x="100" y="602.25"/><use href="#r14_2" x="200" y="602.25"/><use href="#r14_2" x="300" y="602.25"/><use href="#r14_5" x="400" y="602.25"/></g>
<g stroke-width="2.18"><use href="#r20_5" x="0" y="604.07"/><use href="#r20_4" x="100" y="604.07"/><use href="#r20_3" x="200" y="604.07"/><use href="#r20_2" x="300" y="604.07"/><use href="#r20_5" x="400" y="604.07"/><use href="#r20_4" x="0" y="606.2"/><use href="#r20_1" x="100" y="606.2"/><use href="#r20_0" x="200" y="606.2"/><use href="#r20_0" x="300" y="606.2"/><use href="#r20_5" x="400" y="606.2"/><use href="#r19_0" x="0" y="608.33"/><use href="#r19_0" x="100" y="608.33"/><use href="#r19_3" x="200" y="608.33"/><use href="#r19_1" x="300" y="608.33"/><use href="#r19_0" x="400" y="608.33"/></g>
<g stroke-width="1.25"><use href="#r5_0" x="0" y="610"/><use href="#r5_5" x="100" y="610"/><use href="#r5_2" x="200" y="610"/><use href="#r5_2" x="300" y="610"/><use href="#r5_4" x="400" y="610"/></g>
<g stroke-width="1.42"><use href="#r0_3" x="0" y="619.48"/><use href="#r0_1" x="100" y="619.48"/><use href="#r0_3" x="200" y="619.48"/><use href="#r0_4" x="300" y="619.48"/><use href="#r0_0" x="400" y="619.48"/><use href="#r1_3" x="0" y="620.85"/><use href="#r1_1" x="100" y="620.85"/><use href="#r1_4" x="200" y="620.85"/><use href="#r1_5" x="300" y="620.85"/><use href="#r1_1" x="400" y="620.85"/><use href="#r0_5" x="0" y="622.22"/><use href="#r0_2" x="100" y="622.22"/><use href="#r0_2" x="200" y="622.22"/><use href="#r0_5" x="300" y="622.22"/><use href="#r0_4" x="400" y="622.22"/><use href="#r0_3" x="0" y="623.58"/><use href="#r0_5" x="100" y="623.58"/><use href="#r0_3" x="200" y="623.58"/><use href="#r0_2" x="300" y="623.58"/><use href="#r0_4" x="400" y="623.58"/><use href="#r0_3" x="0" y="624.95"/><use href="#r0_0" x="100" y="624.95"/><use href="#r0_5" x="200" y="624.95"/><use href="#r0_1" x="300" y="624.95"/><use href="#r0_5" x="400" y="624.95"/><use href="#r0_1" x="0" y="626.32"/><use href="#r0_5" x="100" y="626.32"/><use href="#r0_1" x="200" y="626.32"/><use href="#r0_2" x="300" y="626.32"/><use href="#r0_0" x="400" y="626.32"/></g>
<g stroke-width="1.45"><use href="#r16_1" x="0" y="650.7"/><use href="#r16_3" x="100" y="650.7"/><use href="#r16_2" x="200" y="650.7"/><use href="#r16_1" x="300" y="650.7"/><use href="#r16_2" x="400" y="650.7"/><use href="#r16_2" x="0" y="652.1"/><use href="#r16_1" x="100" y="652.1"/><use href="#r16_3" x="200" y="652.1"/><use href="#r16_3" x="300" y="652.1"/><use href="#r16_3" x="400" y="652.1"/><use href="#r13_2" x="0" y="653.5"/><use href="#r13_3" x="100" y="653.5"/><use href="#r13_2" x="200" y="653.5"/><use href="#r13_5" x="300" y="653.5"/><use href="#r13_1" x="400" y="653.5"/><use href="#r17_3" x="0" y="654.9"/><use href="#r17_4" x="100" y="654.9"/><use href="#r17_4" x="200" y="654.9"/><use href="#r17_1" x="300" y="654.9"/><use href="#r17_0" x="400" y="654.9"/><use href="#r15_0" x="0" y="656.3"/><use href="#r15_5" x="100" y="656.3"/><use href="#r15_2" x="200" y="656.3"/><use href="#r15_0" x="300" y="656.3"/><use href="#r15_0" x="400" y="656.3"/></g>
<g stroke-width="1.55"><use href="#r11_1" x="0" y="657.75"/><use href="#r11_1" x="100" y="657.75"/><use href="#r11_2" x="200" y="657.75"/><use href="#r11_3" x="300" y="657.75"/><use href="#r11_4" x="400" y="657.75"/><use href="#r11_5" x="0" y="659.25"/><use href="#r11_5" x="100" y="659.25"/><use href="#r11_5" x="200" y="659.25"/><use href="#r11_1" x="300" y="659.25"/><use href="#r11_1" x="400" y="659.25"/><use href="#r15_3" x="0" y="660.75"/><use href="#r15_1" x="100" y="660.75"/><use href="#r15_1" x="200" y="660.75"/><use href="#r15_3" x="300" y="660.75"/><use href="#r15_2" x="400" y="660.75"/></g>
<g stroke-width="2.55"><use href="#r4_0" x="0" y="664.35"/><use href="#r4_2" x="100" y="664.35"/><use href="#r4_2" x="200" y="664.35"/><use href="#r4_5" x="300" y="664.35"/><use href="#r4_2" x="400" y="664.35"/></g>
<g stroke-width="1.45"><use href="#r5_1" x="0" y="668.7"/><use href="#r5_1" x="100" y="668.7"/><use href="#r5_1" x="200" y="668.7"/><use href="#r5_1" x="300" y="668.7"/><use href="#r5_1" x="400" y="668.7"/><use href="#r2_4" x="0" y="670.1"/><use href="#r2_1" x="100" y="670.1"/><use href="#r2_5" x="200" y="670.1"/><use href="#r2_3" x="300" y="670.1"/><use href="#r2_2" x="400" y="670.1"/></g>
<g stroke-width="1.35"><use href="#r2_5" x="0" y="677.15"/><use href="#r2_3" x="100" y="677.15"/><use href="#r2_1" x="200" y="677.15"/><use href="#r2_3" x="300" y="677.15"/><use href="#r2_1" x="400" y="677.15"/><use href="#r6_1" x="0" y="678.45"/><use href="#r6_3" x="100" y="678.45"/><use href="#r6_5" x="200" y="678.45"/><use href="#r6_2" x="300" y="678.45"/><use href="#r6_3" x="400" y="678.45"/><use href="#r1_5" x="0" y="679.75"/><use href="#r1_5" x="100" y="679.75"/><use href="#r1_1" x="200" y="679.75"/><use href="#r1_3" x="300" y="679.75"/><use href="#r1_4" x="400" y="679.75"/><use href="#r2_3" x="0" y="681.05"/><use href="#r2_0" x="100" y="681.05"/><use href="#r2_5" x="200" y="681.05"/><use href="#r2_2" x="300" y="681.05"/><use href="#r2_1" x="400" y="681.05"/><use href="#r0_5" x="0" y="682.35"/><use href="#r0_2" x="100" y="682.35"/><use href="#r0_1" x="200" y="682.35"/><use href="#r0_1" x="300" y="682.35"/><use href="#r0_2" x="400" y="682.35"/></g>
<g stroke-width="1.55"><use href="#r15_1" x="0" y="683.75"/><use href="#r15_2" x="100" y="683.75"/><use href="#r15_4" x="200" y="683.75"/><use href="#r15_2" x="300" y="683.75"/><use href="#r15_3" x="400" y="683.75"/><use href="#r14_2" x="0" y="685.25"/><use href="#r14_2" x="100" y="685.25"/><use href="#r14_5" x="200" y="685.25"/><use href="#r14_5" x="300" y="685.25"/><use href="#r14_0" x="400" y="685.25"/><use href="#r11_3" x="0" y="686.75"/><use href="#r11_1" x="100" y="686.75"/><use href="#r11_1" x="200" y="686.75"/><use href="#r11_5" x="300" y="686.75"/><use href="#r11_2" x="400" y="686.75"/></g>
<g stroke-width="1.6"><use href="#r13_5" x="0" y="688.27"/><use href="#r13_1" x="100" y="688.27"/><use href="#r13_0" x="200" y="688.27"/><use href="#r13_4" x="300" y="688.27"/><use href="#r13_5" x="400" y="688.27"/><use href="#r8_5" x="0" y="689.83"/><use href="#r8_4" x="100" y="689.83"/><use href="#r8_2" x="200" y="689.83"/><use href="#r8_3" x="300" y="689.83"/><use href="#r8_4" x="400" y="689.83"/></g>
<g stroke-width="3.18"><use href="#r20_5" x="0" y="692.17"/><use href="#r20_1" x="100" y="692.17"/><use href="#r20_1" x="200" y="692.17"/><use href="#r20_0" x="300" y="692.17"/><use href="#r20_0" x="400" y="692.17"/><use href="#r18_1" x="0" y="695.3"/><use href="#r18_0" x="100" y="695.3"/><use href="#r18_0" x="200" y="695.3"/><use href="#r18_1" x="300" y="695.3"/><use href="#r18_4" x="400" y="695.3"/><use href="#r18_2" x="0" y="698.43"/><use href="#r18_5" x="100" y="698.43"/><use href="#r18_4" x="200" y="698.43"/><use href="#r18_2" x="300" y="698.43"/><use href="#r18_5" x="400" y="698.43"/></g>
<g stroke-width="1.55"><use href="#r1_5" x="0" y="700.75"/><use href="#r1_4" x="100" y="700.75"/><use href="#r1_4" x="200" y="700.75"/><use href="#r1_4" x="300" y="700.75"/><use href="#r1_3" x="400" y="700.75"/><use href="#r4_0" x="0" y="702.25"/><use href="#r4_4" x="100" y="702.25"/><use href="#r4_5" x="200" y="702.25"/><use href="#r4_2" x="300" y="702.25"/><use href="#r4_0" x="400" y="702.25"/><use href="#r0_2" x="0" y="703.75"/><use href="#r0_4" x="100" y="703.75"/><use href="#r0_1" x="200" y="703.75"/><use href="#r0_0" x="300" y="703.75"/><use href="#r0_5" x="400" y="703.75"/><use href="#r4_4" x="0" y="705.25"/><use href="#r4_2" x="100" y="705.25"/><use href="#r4_1" x="200" y="705.25"/><use href="#r4_1" x="300" y="705.25"/><use href="#r4_0" x="400" y="705.25"/></g>
<g stroke-width="1.55"><use href="#r8_3" x="0" y="725.75"/><use href="#r8_1" x="100" y="725.75"/><use href="#r8_0" x="200" y="725.75"/><use href="#r8_3" x="300" y="725.75"/><use href="#r8_5" x="400" y="725.75"/><use href="#r5_2" x="0" y="727.25"/><use href="#r5_2" x="100" y="727.25"/><use href="#r5_3" x="200" y="727.25"/><use href="#r5_2" x="300" y="727.25"/><use href="#r5_3" x="400" y="727.25"/><use href="#r5_4" x="0" y="728.75"/><use href="#r5_3" x="100" y="728.75"/><use href="#r5_0" x="200" y="728.75"/><use href="#r5_2" x="300" y="728.75"/><use href="#r5_5" x="400" y="728.75"/><use href="#r6_3" x="0" y="730.25"/><use href="#r6_2" x="100" y="730.25"/><use href="#r6_2" x="200" y="730.25"/><use href="#r6_3" x="300" y="730.25"/><use href="#r6_0" x="400" y="730.25"/></g>
<g stroke-width="1.33"><use href="#r3_0" x="0" y="739.44"/><use href="#r3_3" x="100" y="739.44"/><use href="#r3_5" x="200" y="739.44"/><use href="#r3_4" x="300" y="739.44"/><use href="#r3_1" x="400" y="739.44"/><use href="#r3_4" x="0" y="740.72"/><use href="#r3_3" x="100" y="740.72"/><use href="#r3_2" x="200" y="740.72"/><use href="#r3_1" x="300" y="740.72"/><use href="#r3_3" x="400" y="740.72"/><use href="#r3_2" x="0" y="742.01"/><use href="#r3_4" x="100" y="742.01"/><use href="#r3_4" x="200" y="742.01"/><use href="#r3_5" x="300" y="742.01"/><use href="#r3_2" x="400" y="742.01"/><use href="#r1_4" x="0" y="743.29"/><use href="#r1_5" x="100" y="743.29"/><use href="#r1_1" x="200" y="743.29"/><use href="#r1_3" x="300" y="743.29"/><use href="#r1_2" x="400" y="743.29"/><use href="#r2_5" x="0" y="744.58"/><use href="#r2_0" x="100" y="744.58"/><use href="#r2_0" x="200" y="744.58"/><use href="#r2_1" x="300" y="744.58"/><use href="#r2_1" x="400" y="744.58"/><use href="#r3_0" x="0" y="745.86"/><use href="#r3_2" x="100" y="745.86"/><use href="#r3_0" x="200" y="745.86"/><use href="#r3_1" x="300" y="745.86"/><use href="#r3_0" x="400" y="745.86"/></g>
<g stroke-width="1.25"><use href="#r0_5" x="0" y="750"/><use href="#r0_5" x="100" y="750"/><use href="#r0_2" x="200" y="750"/><use href="#r0_1" x="300" y="750"/><use href="#r0_5" x="400" y="750"/><use href="#r0_4" x="0" y="751.2"/><use href="#r0_3" x="100" y="751.2"/><use href="#r0_1" x="200" y="751.2"/><use href="#r0_0" x="300" y="751.2"/><use href="#r0_0" x="400" y="751.2"/><use href="#r4_5" x="0" y="752.4"/><use href="#r4_4" x="100" y="752.4"/><use href="#r4_5" x="200" y="752.4"/><use href="#r4_3" x="300" y="752.4"/><use href="#r4_2" x="400" y="752.4"/></g>
<g stroke-width="1.55"><use href="#r16_4" x="0" y="753.75"/><use href="#r16_2" x="100" y="753.75"/><use href="#r16_4" x="200" y="753.75"/><use href="#r16_1" x="300" y="753.75"/><use href="#r16_4" x="400" y="753.75"/><use href="#r19_4" x="0" y="755.25"/><use href="#r19_1" x="100" y="755.25"/><use href="#r19_1" x="200" y="755.25"/><use href="#r19_3" x="300" y="755.25"/><use href="#r19_0" x="400" y="755.25"/></g>
<g stroke-width="1.3"><use href="#r15_0" x="0" y="756.62"/><use href="#r15_3" x="100" y="756.62"/><use href="#r15_4" x="200" y="756.62"/><use href="#r15_2" x="300" y="756.62"/><use href="#r15_0" x="400" y="756.62"/><use href="#r9_1" x="0" y="757.88"/><use href="#r9_1" x="100" y="757.88"/><use href="#r9_2" x="200" y="757.88"/><use href="#r9_4" x="300" y="757.88"/><use href="#r9_3" x="400" y="757.88"/><use href="#r11_2" x="0" y="759.12"/><use href="#r11_3" x="100" y="759.12"/><use href="#r11_1" x="200" y="759.12"/><use href="#r11_4" x="300" y="759.12"/><use href="#r11_5" x="400" y="759.12"/><use href="#r13_1" x="0" y="760.38"/><use href="#r13_1" x="100" y="760.38"/><use href="#r13_0" x="200" y="760.38"/><use href="#r13_5" x="300" y="760.38"/><use href="#r13_4" x="400" y="760.38"/></g>
<g stroke-width="1.18"><use href="#r16_5" x="0" y="761.57"/><use href="#r16_3" x="100" y="761.57"/><use href="#r16_2" x="200" y="761.57"/><use href="#r16_4" x="300" y="761.57"/><use href="#r16_5" x="400" y="761.57"/><use href="#r12_0" x="0" y="762.7"/><use href="#r12_3" x="100" y="762.7"/><use href="#r12_2" x="200" y="762.7"/><use href="#r12_0" x="300" y="762.7"/><use href="#r12_0" x="400" y="762.7"/><use href="#r16_2" x="0" y="763.83"/><use href="#r16_4" x="100" y="763.83"/><use href="#r16_5" x="200" y="763.83"/><use href="#r16_4" x="300" y="763.83"/><use href="#r16_2" x="400" y="763.83"/></g>
<g stroke-width="1.3"><use href="#r11_4" x="0" y="765.02"/><use href="#r11_3" x="100" y="765.02"/><use href="#r11_5" x="200" y="765.02"/><use href="#r11_4" x="300" y="765.02"/><use href="#r11_4" x="400" y="765.02"/><use href="#r12_5" x="0" y="766.27"/><use href="#r12_2" x="100" y="766.27"/><use href="#r12_3" x="200" y="766.27"/><use href="#r12_5" x="300" y="766.27"/><use href="#r12_1" x="400" y="766.27"/><use href="#r14_2" x="0" y="767.52"/><use href="#r14_0" x="100" y="767.52"/><use href="#r14_5" x="200" y="767.52"/><use href="#r14_5" x="300" y="767.52"/><use href="#r14_4" x="400" y="767.52"/><use href="#r11_2" x="0" y="768.77"/><use href="#r11_1" x="100" y="768.77"/><use href="#r11_4" x="200" y="768.77"/><use href="#r11_3" x="300" y="768.77"/><use href="#r11_5" x="400" y="768.77"/></g>
<g stroke-width="1.25"><use href="#r21_2" x="0" y="770"/><use href="#r21_4" x="100" y="770"/><use href="#r21_5" x="200" y="770"/><use href="#r21_3" x="300" y="770"/><use href="#r21_3" x="400" y="770"/><use href="#r19_1" x="0" y="771.2"/><use href="#r19_2" x="100" y="771.2"/><use href="#r19_3" x="200" y="771.2"/><use href="#r19_4" x="300" y="771.2"/><use href="#r19_2" x="400" y="771.2"/><use href="#r16_3" x="0" y="772.4"/><use href="#r16_0" x="100" y="772.4"/><use href="#r16_4" x="200" y="772.4"/><use href="#r16_2" x="300" y="772.4"/><use href="#r16_5" x="400" y="772.4"/></g>
<g stroke-width="1.55"><use href="#r20_4" x="0" y="773.75"/><use href="#r20_5" x="100" y="773.75"/><use href="#r20_5" x="200" y="773.75"/><use href="#r20_2" x="300" y="773.75"/><use href="#r20_3" x="400" y="773.75"/><use href="#r18_1" x="0" y="775.25"/><use href="#r18_3" x="100" y="775.25"/><use href="#r18_1" x="200" y="775.25"/><use href="#r18_1" x="300" y="775.25"/><use href="#r18_4" x="400" y="775.25"/><use href="#r20_1" x="0" y="776.75"/><use href="#r20_4" x="100" y="776.75"/><use href="#r20_2" x="200" y="776.75"/><use href="#r20_0" x="300" y="776.75"/><use href="#r20_1" x="400" y="776.75"/></g>
<g stroke-width="1.95"><use href="#r11_5" x="0" y="778.45"/><use href="#r11_3" x="100" y="778.45"/><use href="#r11_1" x="200" y="778.45"/><use href="#r11_5" x="300" y="778.45"/><use href="#r11_4" x="400" y="778.45"/></g>
<g stroke-width="1.25"><use href="#r20_1" x="0" y="780"/><use href="#r20_0" x="100" y="780"/><use href="#r20_5" x="200" y="780"/><use href="#r20_2" x="300" y="780"/><use href="#r20_4" x="400" y="780"/><use href="#r21_4" x="0" y="781.2"/><use href="#r21_4" x="100" y="781.2"/><use href="#r21_5" x="200" y="781.2"/><use href="#r21_0" x="300" y="781.2"/><use href="#r21_1" x="400" y="781.2"/><use href="#r22_4" x="0" y="782.4"/><use href="#r22_2" x="100" y="782.4"/><use href="#r22_0" x="200" y="782.4"/><use href="#r22_2" x="300" y="782.4"/><use href="#r22_2" x="400" y="782.4"/></g>
<g stroke-width="1.38"><use href="#r11_2" x="0" y="783.67"/><use href="#r11_1" x="100" y="783.67"/><use href="#r11_3" x="200" y="783.67"/><use href="#r11_3" x="300" y="783.67"/><use href="#r11_0" x="400" y="783.67"/><use href="#r8_3" x="0" y="785"/><use href="#r8_5" x="100" y="785"/><use href="#r8_3" x="200" y="785"/><use href="#r8_0" x="300" y="785"/><use href="#r8_4" x="400" y="785"/><use href="#r9_3" x="0" y="786.33"/><use href="#r9_1" x="100" y="786.33"/><use href="#r9_0" x="200" y="786.33"/><use href="#r9_3" x="300" y="786.33"/><use href="#r9_1" x="400" y="786.33"/><use href="#r8_3" x="0" y="787.67"/><use href="#r8_4" x="100" y="787.67"/><use href="#r8_0" x="200" y="787.67"/><use href="#r8_3" x="300" y="787.67"/><use href="#r8_0" x="400" y="787.67"/><use href="#r9_1" x="0" y="789"/><use href="#r9_5" x="100" y="789"/><use href="#r9_2" x="200" y="789"/><use href="#r9_5" x="300" y="789"/><use href="#r9_0" x="400" y="789"/><use href="#r11_2" x="0" y="790.33"/><use href="#r11_2" x="100" y="790.33"/><use href="#r11_2" x="200" y="790.33"/><use href="#r11_5" x="300" y="790.33"/><use href="#r11_5" x="400" y="790.33"/></g>
<g stroke-width="1.18"><use href="#r15_1" x="0" y="791.57"/><use href="#r15_4" x="100" y="791.57"/><use href="#r15_5" x="200" y="791.57"/><use href="#r15_3" x="300" y="791.57"/><use href="#r15_2" x="400" y="791.57"/><use href="#r13_4" x="0" y="792.7"/><use href="#r13_0" x="100" y="792.7"/><use href="#r13_4" x="200" y="792.7"/><use href="#r13_3" x="300" y="792.7"/><use href="#r13_5" x="400" y="792.7"/><use href="#r14_0" x="0" y="793.83"/><use href="#r14_3" x="100" y="793.83"/><use href="#r14_1" x="200" y="793.83"/><use href="#r14_2" x="300" y="793.83"/><use href="#r14_1" x="400" y="793.83"/></g>
<g stroke-width="1.18"><use href="#r0_0" x="0" y="794.97"/><use href="#r0_0" x="100" y="794.97"/><use href="#r0_5" x="200" y="794.97"/><use href="#r0_0" x="300" y="794.97"/><use href="#r0_4" x="400" y="794.97"/><use href="#r0_5" x="0" y="796.1"/><use href="#r0_5" x="100" y="796.1"/><use href="#r0_4" x="200" y="796.1"/><use href="#r0_0" x="300" y="796.1"/><use href="#r0_1" x="400" y="796.1"/><use href="#r6_1" x="0" y="797.23"/><use href="#r6_4" x="100" y="797.23"/><use href="#r6_0" x="200" y="797.23"/><use href="#r6_2" x="300" y="797.23"/><use href="#r6_0" x="400" y="797.23"/></g>
<g stroke-width="1.38"><use href="#r2_1" x="0" y="803.67"/><use href="#r2_0" x="100" y="803.67"/><use href="#r2_5" x="200" y="803.67"/><use href="#r2_3" x="300" y="803.67"/><use href="#r2_0" x="400" y="803.67"/><use href="#r1_1" x="0" y="805"/><use href="#r1_5" x="100" y="805"/><use href="#r1_2" x="200" y="805"/><use href="#r1_2" x="300" y="805"/><use href="#r1_2" x="400" y="805"/><use href="#r7_3" x="0" y="806.33"/><use href="#r7_3" x="100" y="806.33"/><use href="#r7_3" x="200" y="806.33"/><use href="#r7_2" x="300" y="806.33"/><use href="#r7_0" x="400" y="806.33"/></g>
<g stroke-width="2.52"><use href="#r14_1" x="0" y="808.23"/><use href="#r14_4" x="100" y="808.23"/><use href="#r14_2" x="200" y="808.23"/><use href="#r14_3" x="300" y="808.23"/><use href="#r14_3" x="400" y="808.23"/><use href="#r14_2" x="0" y="810.7"/><use href="#r14_3" x="100" y="810.7"/><use href="#r14_4" x="200" y="810.7"/><use href="#r14_1" x="300" y="810.7"/><use href="#r14_3" x="400" y="810.7"/><use href="#r14_0" x="0" y="813.17"/><use href="#r14_4" x="100" y="813.17"/><use href="#r14_2" x="200" y="813.17"/><use href="#r14_5" x="300" y="813.17"/><use href="#r14_3" x="400" y="813.17"/></g>
<g stroke-width="1.35"><use href="#r9_5" x="0" y="815.05"/><use href="#r9_4" x="100" y="815.05"/><use href="#r9_4" x="200" y="815.05"/><use href="#r9_4" x="300" y="815.05"/><use href="#r9_3" x="400" y="815.05"/><use href="#r12_3" x="0" y="816.35"/><use href="#r12_4" x="100" y="816.35"/><use href="#r12_3" x="200" y="816.35"/><use href="#r12_3" x="300" y="816.35"/><use href="#r12_3" x="400" y="816.35"/></g>
<g stroke-width="1.3"><use href="#r8_5" x="0" y="817.62"/><use href="#r8_1" x="100" y="817.62"/><use href="#r8_5" x="200" y="817.62"/><use href="#r8_5" x="300" y="817.62"/><use href="#r8_1" x="400" y="817.62"/><use href="#r13_3" x="0" y="818.88"/><use href="#r13_5" x="100" y="818.88"/><use href="#r13_1" x="200" y="818.88"/><use href="#r13_4" x="300" y="818.88"/><use href="#r13_0" x="400" y="818.88"/><use href="#r9_5" x="0" y="820.12"/><use href="#r9_0" x="100" y="820.12"/><use href="#r9_4" x="200" y="820.12"/><use href="#r9_2" x="300" y="820.12"/><use href="#r9_1" x="400" y="820.12"/><use href="#r15_2" x="0" y="821.38"/><use href="#r15_5" x="100" y="821.38"/><use href="#r15_4" x="200" y="821.38"/><use href="#r15_5" x="300" y="821.38"/><use href="#r15_3" x="400" y="821.38"/></g>
<g stroke-width="1.38"><use href="#r12_1" x="0" y="822.67"/><use href="#r12_2" x="100" y="822.67"/><use href="#r12_4" x="200" y="822.67"/><use href="#r12_0" x="300" y="822.67"/><use href="#r12_1" x="400" y="822.67"/><use href="#r13_4" x="0" y="824"/><use href="#r13_2" x="100" y="824"/><use href="#r13_5" x="200" y="824"/><use href="#r13_0" x="300" y="824"/><use href="#r13_0" x="400" y="824"/><use href="#r15_5" x="0" y="825.33"/><use href="#r15_1" x="100" y="825.33"/><use href="#r15_2" x="200" y="825.33"/><use href="#r15_2" x="300" y="825.33"/><use href="#r15_4" x="400" y="825.33"/></g>
<g stroke-width="1.35"><use href="#r7_3" x="0" y="826.65"/><use href="#r7_4" x="100" y="826.65"/><use href="#r7_3" x="200" y="826.65"/><use href="#r7_0" x="300" y="826.65"/><use href="#r7_1" x="400" y="826.65"/><use href="#r6_5" x="0" y="827.95"/><use href="#r6_1" x="100" y="827.95"/><use href="#r6_5" x="200" y="827.95"/><use href="#r6_0" x="300" y="827.95"/><use href="#r6_4" x="400" y="827.95"/><use href="#r6_4" x="0" y="829.25"/><use href="#r6_0" x="100" y="829.25"/><use href="#r6_1" x="200" y="829.25"/><use href="#r6_4" x="300" y="829.25"/><use href="#r6_5" x="400" y="829.25"/><use href="#r8_3" x="0" y="830.55"/><use href="#r8_0" x="100" y="830.55"/><use href="#r8_5" x="200" y="830.55"/><use href="#r8_4" x="300" y="830.55"/><use href="#r8_5" x="400" y="830.55"/><use href="#r7_4" x="0" y="831.85"/><use href="#r7_2" x="100" y="831.85"/><use href="#r7_0" x="200" y="831.85"/><use href="#r7_1" x="300" y="831.85"/><use href="#r7_2" x="400" y="831.85"/></g>
<g stroke-width="1.35"><use href="#r15_5" x="0" y="833.15"/><use href="#r15_2" x="100" y="833.15"/><use href="#r15_2" x="200" y="833.15"/><use href="#r15_1" x="300" y="833.15"/><use href="#r15_5" x="400" y="833.15"/><use href="#r14_5" x="0" y="834.45"/><use href="#r14_4" x="100" y="834.45"/><use href="#r14_5" x="200" y="834.45"/><use href="#r14_0" x="300" y="834.45"/><use href="#r14_4" x="400" y="834.45"/><use href="#r12_5" x="0" y="835.75"/><use href="#r12_5" x="100" y="835.75"/><use href="#r12_1" x="200" y="835.75"/><use href="#r12_1" x="300" y="835.75"/><use href="#r12_1" x="400" y="835.75"/><use href="#r10_3" x="0" y="837.05"/><use href="#r10_5" x="100" y="837.05"/><use href="#r10_4" x="200" y="837.05"/><use href="#r10_5" x="300" y="837.05"/><use href="#r10_3" x="400" y="837.05"/><use href="#r11_0" x="0" y="838.35"/><use href="#r11_4" x="100" y="838.35"/><use href="#r11_2" x="200" y="838.35"/><use href="#r11_2" x="300" y="838.35"/><use href="#r11_4" x="400" y="838.35"/></g>
<g stroke-width="1.38"><use href="#r17_3" x="0" y="839.67"/><use href="#r17_5" x="100" y="839.67"/><use href="#r17_3" x="200" y="839.67"/><use href="#r17_0" x="300" y="839.67"/><use href="#r17_4" x="400" y="839.67"/><use href="#r14_2" x="0" y="841"/><use href="#r14_3" x="100" y="841"/><use href="#r14_4" x="200" y="841"/><use href="#r14_4" x="300" y="841"/><use href="#r14_3" x="400" y="841"/><use href="#r14_3" x="0" y="842.33"/><use href="#r14_3" x="100" y="842.33"/><use href="#r14_3" x="200" y="842.33"/><use href="#r14_2" x="300" y="842.33"/><use href="#r14_0" x="400" y="842.33"/></g>
<g stroke-width="1.41"><use href="#r12_4" x="0" y="843.68"/><use href="#r12_1" x="100" y="843.68"/><use href="#r12_3" x="200" y="843.68"/><use href="#r12_3" x="300" y="843.68"/><use href="#r12_4" x="400" y="843.68"/><use href="#r13_4" x="0" y="845.04"/><use href="#r13_1" x="100" y="845.04"/><use href="#r13_2" x="200" y="845.04"/><use href="#r13_1" x="300" y="845.04"/><use href="#r13_5" x="400" y="845.04"/><use href="#r14_5" x="0" y="846.39"/><use href="#r14_2" x="100" y="846.39"/><use href="#r14_0" x="200" y="846.39"/><use href="#r14_4" x="300" y="846.39"/><use href="#r14_4" x="400" y="846.39"/><use href="#r14_5" x="0" y="847.75"/><use href="#r14_5" x="100" y="847.75"/><use href="#r14_2" x="200" y="847.75"/><use href="#r14_1" x="300" y="847.75"/><use href="#r14_0" x="400" y="847.75"/><use href="#r13_2" x="0" y="849.11"/><use href="#r13_1" x="100" y="849.11"/><use href="#r13_1" x="200" y="849.11"/><use href="#r13_2" x="300" y="849.11"/><use href="#r13_3" x="400" y="849.11"/><use href="#r14_1" x="0" y="850.46"/><use href="#r14_1" x="100" y="850.46"/><use href="#r14_0" x="200" y="850.46"/><use href="#r14_4" x="300" y="850.46"/><use href="#r14_4" x="400" y="850.46"/><use href="#r12_0" x="0" y="851.82"/><use href="#r12_0" x="100" y="851.82"/><use href="#r12_5" x="200" y="851.82"/><use href="#r12_0" x="300" y="851.82"/><use href="#r12_4" x="400" y="851.82"/></g>
<g stroke-width="1.95"><use href="#r4_5" x="0" y="853.45"/><use href="#r4_3" x="100" y="853.45"/><use href="#r4_3" x="200" y="853.45"/><use href="#r4_0" x="300" y="853.45"/><use href="#r4_3" x="400" y="853.45"/></g>
<g stroke-width="1.4"><use href="#r13_1" x="0" y="855.07"/><use href="#r13_4" x="100" y="855.07"/><use href="#r13_1" x="200" y="855.07"/><use href="#r13_3" x="300" y="855.07"/><use href="#r13_2" x="400" y="855.07"/><use href="#r15_2" x="0" y="856.42"/><use href="#r15_4" x="100" y="856.42"/><use href="#r15_0" x="200" y="856.42"/><use href="#r15_1" x="300" y="856.42"/><use href="#r15_0" x="400" y="856.42"/><use href="#r15_3" x="0" y="857.77"/><use href="#r15_4" x="100" y="857.77"/><use href="#r15_0" x="200" y="857.77"/><use href="#r15_1" x="300" y="857.77"/><use href="#r15_5" x="400" y="857.77"/><use href="#r12_1" x="0" y="859.12"/><use href="#r12_1" x="100" y="859.12"/><use href="#r12_0" x="200" y="859.12"/><use href="#r12_3" x="300" y="859.12"/><use href="#r12_0" x="400" y="859.12"/><use href="#r16_2" x="0" y="860.48"/><use href="#r16_1" x="100" y="860.48"/><use href="#r16_3" x="200" y="860.48"/><use href="#r16_4" x="300" y="860.48"/><use href="#r16_3" x="400" y="860.48"/><use href="#r13_4" x="0" y="861.83"/><use href="#r13_0" x="100" y="861.83"/><use href="#r13_4" x="200" y="861.83"/><use href="#r13_1" x="300" y="861.83"/><use href="#r13_3" x="400" y="861.83"/></g>
<g stroke-width="2.55"><use href="#r4_1" x="0" y="863.75"/><use href="#r4_5" x="100" y="863.75"/><use href="#r4_3" x="200" y="863.75"/><use href="#r4_2" x="300" y="863.75"/><use href="#r4_1" x="400" y="863.75"/></g>
<g stroke-width="1.38"><use href="#r14_1" x="0" y="881.67"/><use href="#r14_2" x="100" y="881.67"/><use href="#r14_5" x="200" y="881.67"/><use href="#r14_4" x="300" y="881.67"/><use href="#r14_0" x="400" y="881.67"/><use href="#r8_1" x="0" y="883"/><use href="#r8_3" x="100" y="883"/><use href="#r8_5" x="200" y="883"/><use href="#r8_4" x="300" y="883"/><use href="#r8_3" x="400" y="883"/><use href="#r13_3" x="0" y="884.33"/><use href="#r13_2" x="100" y="884.33"/><use href="#r13_4" x="200" y="884.33"/><use href="#r13_0" x="300" y="884.33"/><use href="#r13_3" x="400" y="884.33"/></g>
<g stroke-width="1.38"><use href="#r11_0" x="0" y="900.66"/><use href="#r11_0" x="100" y="900.66"/><use href="#r11_1" x="200" y="900.66"/><use href="#r11_3" x="300" y="900.66"/><use href="#r11_2" x="400" y="900.66"/><use href="#r5_5" x="0" y="901.99"/><use href="#r5_1" x="100" y="901.99"/><use href="#r5_4" x="200" y="901.99"/><use href="#r5_0" x="300" y="901.99"/><use href="#r5_1" x="400" y="901.99"/><use href="#r14_1" x="0" y="903.32"/><use href="#r14_5" x="100" y="903.32"/><use href="#r14_3" x="200" y="903.32"/><use href="#r14_4" x="300" y="903.32"/><use href="#r14_0" x="400" y="903.32"/><use href="#r13_5" x="0" y="904.65"/><use href="#r13_1" x="100" y="904.65"/><use href="#r13_1" x="200" y="904.65"/><use href="#r13_1" x="300" y="904.65"/><use href="#r13_5" x="400" y="904.65"/><use href="#r13_2" x="0" y="905.97"/><use href="#r13_3" x="100" y="905.97"/><use href="#r13_3" x="200" y="905.97"/><use href="#r13_2" x="300" y="905.97"/><use href="#r13_1" x="400" y="905.97"/><use href="#r13_2" x="0" y="907.3"/><use href="#r13_0" x="100" y="907.3"/><use href="#r13_1" x="200" y="907.3"/><use href="#r13_1" x="300" y="907.3"/><use href="#r13_2" x="400" y="907.3"/><use href="#r13_3" x="0" y="908.63"/><use href="#r13_1" x="100" y="908.63"/><use href="#r13_2" x="200" y="908.63"/><use href="#r13_0" x="300" y="908.63"/><use href="#r13_2" x="400" y="908.63"/><use href="#r14_5" x="0" y="909.95"/><use href="#r14_2" x="100" y="909.95"/><use href="#r14_5" x="200" y="909.95"/><use href="#r14_3" x="300" y="909.95"/><use href="#r14_5" x="400" y="909.95"/><use href="#r15_0" x="0" y="911.28"/><use href="#r15_5" x="100" y="911.28"/><use href="#r15_3" x="200" y="911.28"/><use href="#r15_0" x="300" y="911.28"/><use href="#r15_1" x="400" y="911.28"/><use href="#r12_3" x="0" y="912.61"/><use href="#r12_3" x="100" y="912.61"/><use href="#r12_2" x="200" y="912.61"/><use href="#r12_0" x="300" y="912.61"/><use href="#r12_2" x="400" y="912.61"/><use href="#r14_4" x="0" y="913.94"/><use href="#r14_3" x="100" y="913.94"/><use href="#r14_5" x="200" y="913.94"/><use href="#r14_1" x="300" y="913.94"/><use href="#r14_1" x="400" y="913.94"/></g>
<g stroke-width="1.39"><use href="#r15_3" x="0" y="916.67"/><use href="#r15_0" x="100" y="916.67"/><use href="#r15_5" x="200" y="916.67"/><use href="#r15_3" x="300" y="916.67"/><use href="#r15_1" x="400" y="916.67"/><use href="#r14_2" x="0" y="918.01"/><use href="#r14_2" x="100" y="918.01"/><use href="#r14_2" x="200" y="918.01"/><use href="#r14_3" x="300" y="918.01"/><use href="#r14_0" x="400" y="918.01"/><use href="#r16_3" x="0" y="919.35"/><use href="#r16_2" x="100" y="919.35"/><use href="#r16_5" x="200" y="919.35"/><use href="#r16_0" x="300" y="919.35"/><use href="#r16_5" x="400" y="919.35"/><use href="#r15_1" x="0" y="920.69"/><use href="#r15_2" x="100" y="920.69"/><use href="#r15_5" x="200" y="920.69"/><use href="#r15_0" x="300" y="920.69"/><use href="#r15_0" x="400" y="920.69"/><use href="#r17_2" x="0" y="922.03"/><use href="#r17_4" x="100" y="922.03"/><use href="#r17_3" x="200" y="922.03"/><use href="#r17_1" x="300" y="922.03"/><use href="#r17_1" x="400" y="922.03"/></g>
<g stroke-width="1.37"><use href="#r15_0" x="0" y="924.76"/><use href="#r15_3" x="100" y="924.76"/><use href="#r15_5" x="200" y="924.76"/><use href="#r15_0" x="300" y="924.76"/><use href="#r15_2" x="400" y="924.76"/><use href="#r13_5" x="0" y="926.08"/><use href="#r13_5" x="100" y="926.08"/><use href="#r13_5" x="200" y="926.08"/><use href="#r13_3" x="300" y="926.08"/><use href="#r13_2" x="400" y="926.08"/><use href="#r11_4" x="0" y="927.39"/><use href="#r11_5" x="100" y="927.39"/><use href="#r11_0" x="200" y="927.39"/><use href="#r11_5" x="300" y="927.39"/><use href="#r11_2" x="400" y="927.39"/><use href="#r13_1" x="0" y="928.71"/><use href="#r13_3" x="100" y="928.71"/><use href="#r13_2" x="200" y="928.71"/><use href="#r13_1" x="300" y="928.71"/><use href="#r13_3" x="400" y="928.71"/><use href="#r15_3" x="0" y="930.02"/><use href="#r15_1" x="100" y="930.02"/><use href="#r15_3" x="200" y="930.02"/><use href="#r15_3" x="300" y="930.02"/><use href="#r15_4" x="400" y="930.02"/><use href="#r17_2" x="0" y="931.34"/><use href="#r17_0" x="100" y="931.34"/><use href="#r17_1" x="200" y="931.34"/><use href="#r17_1" x="300" y="931.34"/><use href="#r17_1" x="400" y="931.34"/></g>
<rect x="0" y="256" width="206" height="8" fill="#000004" fill-opacity="0.65"/>
<rect x="353" y="421" width="147" height="19.6" fill="#000004" fill-opacity="0.65"/>
<rect x="354" y="153.2" width="146" height="38.8" fill="#000004" fill-opacity="0.4"/>
<rect x="353" y="440.6" width="147" height="9.4" fill="#000004" fill-opacity="0.4"/>
<rect x="0" y="914.6" width="500" height="1.4" fill="#b3aba2"/>
<rect x="0" y="922.7" width="500" height="1.4" fill="#b3aba2"/>
<g shape-rendering="crispEdges">
<g stroke-width="1.4">
<path class="q14" d="M22 915.3h1m76 0h1m54 0h1m36 0h1m7 0h2m28 0h1m15 0h1m93 0h1m23 0h1m19 0h1m20 0h1m8 0h1m47 0h1M24 923.4h1m18 0h1m8 0h2m29 0h1m21 0h1m7 0h1m18 0h1m22 0h1m85 0h1m14 0h1m10 0h1m22 0h1m6 0h1m50 0h1m49 0h1m47 0h1m8 0h1m22 0h1"/>
<path class="q15" d="M0 915.3h1m46 0h1m41 0h1m47 0h1m23 0h1m4 0h1m23 0h1m66 0h1m11 0h1m51 0h1m6 0h1m53 0h1m7 0h1m5 0h1m40 0h1m15 0h1m36 0h1M18 923.4h1m2 0h1m48 0h2m29 0h1m7 0h1m29 0h1m28 0h1m6 0h1m57 0h1m5 0h1m82 0h1m9 0h2m106 0h1m2 0h1m13 0h1m3 0h1m2 0h1m24 0h1"/>
<path class="q16" d="M74 915.3h1m9 0h1m26 0h1m28 0h1m12 0h1m15 0h1m27 0h1m19 0h1m10 0h1m27 0h1m8 0h1m24 0h1m36 0h1m30 0h1m19 0h1m44 0h1m6 0h1m67 0h1M11 923.4h1m23 0h1m10 0h1m52 0h1m77 0h1m10 0h1m35 0h1m48 0h1m30 0h1m35 0h1m8 0h1m13 0h1m4 0h1m8 0h1m35 0h1m63 0h1"/>
<path class="q17" d="M44 915.3h1m68 0h1m11 0h1m30 0h1m6 0h1m22 0h1m29 0h1m27 0h1m23 0h1m57 0h1m20 0h1m18 0h1m52 0h1m36 0h1m6 0h2M13 923.4h1m68 0h1m12 0h1m64 0h1m52 0h1m29 0h1m121 0h1m21 0h1m4 0h1m6 0h1m2 0h1m13 0h1m3 0h1m9 0h1m2 0h1m29 0h1"/>
<path class="q18" d="M12 915.3h1m11 0h1m65 0h1m14 0h1m38 0h1m130 0h1m10 0h1m18 0h1m28 0h1m5 0h1m51 0h1m10 0h1m31 0h1m19 0h1M123 923.4h1m1 0h1m47 0h1m15 0h1m11 0h1m46 0h1m2 0h1m7 0h1m14 0h1m8 0h1m1 0h1m31 0h1m18 0h2m31 0h1m53 0h1m5 0h1m54 0h1"/>
<path class="q19" d="M28 915.3h1m1 0h1m5 0h1m27 0h1m10 0h1m25 0h1m80 0h1m81 0h1m174 0h1m35 0h1m19 0h1M2 923.4h1m60 0h1m38 0h1m17 0h1m26 0h1m1 0h1m44 0h1m9 0h1m25 0h1m31 0h2m28 0h1m9 0h1m9 0h1m22 0h1m15 0h1m37 0h1m24 0h1m11 0h1m5 0h1m18 0h1m10 0h1m2 0h1m33 0h1"/>
<path class="q20" d="M16 915.3h1m3 0h1m13 0h1m37 0h1m13 0h1m54 0h1m15 0h1m27 0h1m2 0h1m5 0h1m29 0h1m78 0h1m51 0h1m30 0h1m25 0h1m15 0h1m22 0h1M41 923.4h1m14 0h1m21 0h1m8 0h1m47 0h1m16 0h1m14 0h1m34 0h1m76 0h1m96 0h1m17 0h1m14 0h1m1 0h1m33 0h1m29 0h1"/>
<path class="q21" d="M4 915.3h1m2 0h1m30 0h1m14 0h1m17 0h1m126 0h1m43 0h1m23 0h1m32 0h1m32 0h1m81 0h1m18 0h1m4 0h1m7 0h1m21 0h1M7 923.4h1m17 0h1m39 0h1m32 0h1m52 0h1m40 0h1m12 0h1m58 0h1m130 0h1m60 0h1m2 0h1m13 0h1"/>
<path class="q22" d="M6 915.3h1m19 0h1m29 0h1m10 0h1m2 0h1m9 0h1m4 0h1m23 0h1m4 0h1m3 0h1m2 0h1m10 0h1m71 0h1m14 0h1m18 0h1m45 0h1m4 0h1m27 0h1m23 0h1m15 0h1m82 0h1m39 0h1m2 0h1M51 923.4h1m12 0h1m1 0h1m6 0h1m17 0h1m22 0h1m23 0h1m2 0h1m68 0h1m7 0h1m2 0h1m24 0h1m13 0h1m77 0h1m6 0h1m1 0h1m4 0h1m2 0h1m26 0h1m24 0h1m71 0h1m6 0h1"/>
<path class="q23" d="M42 915.3h1m57 0h1m14 0h1m8 0h1m1 0h2m92 0h1m10 0h1m42 0h1m17 0h1m23 0h1m14 0h1m21 0h1m17 0h1m30 0h1m18 0h1m19 0h1m18 0h1M28 923.4h1m15 0h2m4 0h1m130 0h1m17 0h1m14 0h1m72 0h1m51 0h1m88 0h1m18 0h1m5 0h1m14 0h1m13 0h1m5 0h1"/>
<path class="q24" d="M13 915.3h1m13 0h1m3 0h1m47 0h1m28 0h1m11 0h1m149 0h1m140 0h1m13 0h1m22 0h1m17 0h1m5 0h1m14 0h1M31 923.4h1m54 0h1m5 0h1m38 0h1m24 0h1m127 0h1m88 0h1m63 0h1"/>
</g>
<g stroke-width="1.6">
<path class="q2" d="M5 662.3h1m2 0h1m1 0h1m28 0h1m12 0h1m16 0h1m13 0h1m11 0h1m9 0h1m4 0h1m3 0h2m8 0h1m16 0h1m1 0h1m5 0h3m1 0h1m4 0h1m28 0h1m2 0h1m34 0h1m4 0h1m20 0h1m14 0h1m27 0h1m12 0h1m4 0h1m16 0h1m1 0h1m31 0h1m4 0h1m11 0h2m11 0h1m10 0h1m4 0h1m9 0h3m33 0h1m33 0h1m9 0h1"/>
<path class="q4" d="M1 662.3h1m16 0h1m1 0h1m14 0h2m8 0h1m4 0h1m22 0h1m2 0h1m1 0h1m27 0h1m1 0h2m8 0h3m1 0h1m3 0h1m2 0h1m1 0h5m1 0h1m6 0h3m1 0h1m3 0h1m9 0h1m4 0h1m8 0h1m2 0h1m3 0h1m8 0h2m5 0h1m2 0h1m4 0h2m1 0h1m1 0h1m1 0h1m2 0h1m6 0h1m7 0h2m15 0h2m1 0h1m3 0h1m21 0h1m4 0h1m3 0h1m5 0h1m2 0h2m21 0h1m3 0h2m11 0h1m11 0h1m12 0h1m4 0h1m2 0h1m3 0h1m1 0h1m3 0h1m3 0h1m13 0h1m13 0h1m16 0h1m10 0h1m3 0h1m8 0h2m9 0h1m3 0h1m7 0h1m2 0h1m5 0h2"/>
<path class="q6" d="M0 662.3h1m1 0h2m3 0h1m3 0h1m3 0h1m1 0h1m8 0h3m1 0h1m6 0h1m4 0h1m12 0h1m1 0h1m2 0h1m5 0h1m10 0h1m1 0h2m1 0h1m1 0h1m2 0h1m15 0h2m2 0h1m3 0h1m5 0h1m5 0h1m6 0h1m7 0h1m1 0h1m6 0h1m9 0h1m1 0h1m3 0h1m2 0h1m1 0h1m1 0h1m1 0h1m2 0h1m1 0h1m10 0h1m2 0h1m3 0h2m3 0h1m5 0h1m6 0h1m2 0h1m5 0h2m2 0h1m2 0h1m5 0h2m2 0h2m12 0h2m2 0h1m1 0h1m4 0h1m2 0h1m2 0h1m5 0h1m4 0h1m6 0h2m1 0h2m2 0h1m2 0h1m2 0h1m20 0h1m4 0h1m9 0h2m1 0h1m9 0h1m1 0h1m4 0h2m1 0h1m6 0h1m2 0h1m15 0h2m4 0h1m2 0h2m5 0h2m3 0h1m4 0h2m1 0h1m15 0h1m5 0h2m1 0h1m5 0h1m1 0h2m4 0h1m1 0h1m2 0h1m10 0h1m6 0h1m9 0h2m1 0h1m2 0h2m1 0h1"/>
<path class="q8" d="M21 662.3h2m2 0h1m6 0h2m14 0h2m3 0h1m2 0h1m1 0h1m2 0h1m1 0h1m7 0h1m20 0h1m1 0h1m1 0h1m1 0h3m12 0h1m2 0h1m10 0h2m25 0h1m6 0h1m2 0h1m4 0h1m12 0h1m2 0h2m14 0h1m2 0h1m4 0h1m5 0h1m3 0h1m1 0h1m5 0h1m3 0h1m2 0h1m11 0h2m10 0h1m6 0h1m6 0h1m2 0h1m3 0h1m19 0h1m4 0h2m3 0h1m20 0h1m1 0h1m8 0h1m1 0h1m1 0h1m1 0h1m3 0h1m1 0h2m1 0h1m2 0h1m16 0h1m1 0h1m6 0h1m2 0h3m7 0h1m1 0h2m4 0h1m11 0h1m4 0h1m2 0h2m2 0h1m1 0h2m7 0h2m2 0h1m11 0h1m3 0h2m6 0h1m1 0h3m5 0h2m1 0h1m8 0h1"/>
<path class="q10" d="M9 662.3h1m2 0h2m5 0h1m3 0h1m7 0h1m6 0h1m2 0h1m1 0h1m2 0h2m6 0h1m7 0h1m1 0h1m3 0h1m1 0h1m3 0h1m6 0h1m3 0h1m3 0h2m2 0h1m3 0h1m3 0h2m18 0h1m3 0h1m10 0h1m2 0h1m16 0h1m3 0h1m4 0h1m5 0h1m1 0h1m10 0h1m9 0h1m3 0h1m4 0h1m1 0h1m5 0h1m6 0h1m9 0h1m8 0h1m3 0h1m3 0h1m2 0h1m6 0h1m6 0h1m6 0h1m7 0h1m8 0h1m3 0h1m9 0h1m1 0h2m4 0h1m6 0h1m1 0h1m2 0h2m3 0h1m7 0h3m3 0h1m2 0h1m1 0h1m10 0h1m6 0h1m21 0h1m14 0h1m5 0h1m10 0h2m4 0h1m6 0h1m5 0h1m8 0h1m2 0h1m10 0h1m1 0h1m4 0h1m2 0h1m7 0h1m6 0h1m2 0h1m5 0h1"/>
<path class="q12" d="M4 662.3h1m35 0h1m3 0h1m14 0h1m5 0h1m1 0h1m20 0h1m2 0h1m50 0h1m31 0h1m3 0h1m1 0h2m15 0h1m65 0h1m4 0h1m2 0h1m2 0h1m5 0h1m3 0h1m25 0h2m1 0h2m1 0h1m1 0h1m7 0h1m19 0h1m30 0h1m16 0h1m13 0h1m16 0h1m24 0h2m29 0h1m13 0h1m1 0h1"/>
<path class="q14" d="M14 662.3h1m36 0h1m20 0h1m2 0h1m36 0h1m76 0h1m30 0h1m17 0h1m3 0h2m16 0h2m23 0h1m78 0h1m17 0h1m8 0h1m18 0h1m3 0h1m19 0h1m1 0h1"/>
<path class="q16" d="M29 662.3h1m4 0h1m51 0h1m157 0h1m28 0h1m54 0h1m145 0h1m23 0h1"/>
<path class="q18" d="M155 662.3h1"/>
<path class="q20" d="M24 662.3h1m346 0h1"/>
<path class="q22" d="M282 662.3h1"/>
</g>
<g stroke-width="2">
<path class="q2" d="M2 899h1m7 0h1m2 0h1m40 0h1m4 0h2m67 0h1m32 0h1m37 0h1m33 0h1m12 0h1m23 0h1m11 0h1m18 0h1m22 0h1m3 0h1m37 0h1m31 0h1m10 0h1m17 0h1m28 0h1m15 0h2m7 0h1m11 0h1"/>
<path class="q4" d="M1 899h1m3 0h2m9 0h1m11 0h2m1 0h1m10 0h1m20 0h1m11 0h1m45 0h1m1 0h1m11 0h1m1 0h1m20 0h1m48 0h1m19 0h1m11 0h1m3 0h1m5 0h1m11 0h1m6 0h2m37 0h2m8 0h1m4 0h1m3 0h1m18 0h1m10 0h2m2 0h1m6 0h1m47 0h1m19 0h1m6 0h2m23 0h1m27 0h1"/>
<path class="q6" d="M4 899h1m9 0h1m2 0h3m2 0h2m8 0h1m1 0h1m3 0h1m10 0h1m8 0h1m2 0h1m3 0h1m7 0h1m9 0h1m36 0h1m1 0h1m10 0h2m4 0h1m6 0h1m26 0h1m2 0h1m8 0h1m5 0h1m4 0h1m5 0h2m1 0h1m5 0h1m12 0h2m4 0h2m12 0h1m11 0h1m5 0h1m1 0h1m1 0h1m9 0h1m10 0h1m6 0h1m4 0h1m4 0h1m5 0h1m1 0h3m8 0h1m1 0h1m3 0h1m5 0h1m34 0h1m30 0h1m16 0h1m6 0h1m4 0h1m1 0h1m3 0h1m7 0h1m4 0h1m11 0h1m1 0h1m20 0h2m3 0h1"/>
<path class="q8" d="M3 899h1m3 0h1m4 0h1m13 0h1m13 0h1m2 0h1m1 0h1m10 0h1m5 0h1m4 0h1m8 0h1m15 0h1m1 0h2m2 0h1m1 0h1m5 0h1m2 0h1m4 0h1m4 0h1m4 0h1m2 0h1m1 0h1m2 0h1m3 0h1m3 0h1m3 0h1m3 0h1m1 0h1m17 0h1m11 0h1m3 0h1m4 0h1m7 0h1m11 0h2m7 0h1m10 0h1m4 0h1m1 0h1m1 0h1m6 0h1m4 0h1m1 0h1m1 0h1m10 0h1m11 0h1m8 0h1m2 0h1m2 0h2m4 0h1m3 0h1m2 0h2m9 0h1m1 0h1m1 0h1m9 0h1m22 0h1m1 0h1m2 0h1m5 0h2m3 0h1m2 0h1m3 0h2m1 0h1m1 0h1m3 0h1m9 0h1m7 0h1m1 0h1m1 0h2m5 0h1m5 0h1m7 0h1m2 0h1m2 0h1m5 0h1m4 0h1m4 0h1m3 0h2m8 0h2m3 0h1m4 0h2m3 0h1m7 0h1m4 0h1m1 0h1"/>
<path class="q10" d="M15 899h1m4 0h1m9 0h1m2 0h1m1 0h1m1 0h1m3 0h1m6 0h1m3 0h1m11 0h1m3 0h2m2 0h1m1 0h1m5 0h1m12 0h1m11 0h1m1 0h2m2 0h1m1 0h1m11 0h1m21 0h1m1 0h1m2 0h1m11 0h1m5 0h3m8 0h2m4 0h2m3 0h2m6 0h2m4 0h1m1 0h1m4 0h2m1 0h2m1 0h1m21 0h1m9 0h1m6 0h1m4 0h1m3 0h1m4 0h1m1 0h1m3 0h1m1 0h2m8 0h1m4 0h3m13 0h1m7 0h1m11 0h1m9 0h1m1 0h2m1 0h1m1 0h1m10 0h1m8 0h1m2 0h1m8 0h1m18 0h1m2 0h1m3 0h1m5 0h1m4 0h1m1 0h1m3 0h1m27 0h3m14 0h1m2 0h1m11 0h1m7 0h1m4 0h1"/>
<path class="q12" d="M25 899h1m13 0h1m6 0h1m4 0h1m1 0h1m1 0h1m10 0h1m11 0h1m3 0h1m8 0h1m5 0h1m1 0h1m10 0h1m15 0h1m11 0h1m6 0h1m16 0h2m2 0h1m7 0h1m3 0h1m15 0h1m17 0h1m10 0h1m2 0h1m1 0h1m3 0h1m2 0h1m4 0h1m1 0h1m5 0h1m8 0h1m1 0h2m12 0h1m11 0h1m2 0h1m2 0h1m8 0h1m26 0h1m5 0h1m8 0h1m4 0h1m1 0h1m12 0h1m10 0h1m1 0h1m11 0h1m2 0h1m31 0h1m18 0h1m6 0h1m9 0h2m26 0h1m1 0h1m8 0h2"/>
<path class="q14" d="M0 899h1m23 0h1m2 0h1m19 0h1m2 0h1m19 0h1m6 0h1m23 0h1m14 0h3m12 0h1m19 0h1m8 0h1m14 0h1m1 0h1m5 0h1m36 0h1m16 0h1m17 0h1m23 0h1m41 0h1m12 0h1m3 0h2m14 0h1m6 0h1m16 0h1m4 0h1m4 0h2m1 0h1m1 0h2m1 0h1m3 0h1m23 0h1m4 0h1m8 0h2m17 0h1m2 0h1m1 0h1m3 0h1m9 0h1m5 0h1"/>
<path class="q16" d="M11 899h1m45 0h1m13 0h1m14 0h1m3 0h1m5 0h1m46 0h1m12 0h1m8 0h1m1 0h1m36 0h1m10 0h1m5 0h2m24 0h1m23 0h1m11 0h1m19 0h1m5 0h1m22 0h1m18 0h1m30 0h1m3 0h1m5 0h1m4 0h1m15 0h1m56 0h1m19 0h1m8 0h1"/>
<path class="q18" d="M8 899h1m35 0h1m39 0h2m18 0h1m10 0h1m25 0h1m11 0h1m5 0h1m9 0h1m25 0h1m2 0h1m85 0h1m30 0h1m36 0h1m10 0h1m10 0h1m9 0h1m25 0h1m5 0h1m4 0h1m15 0h1m8 0h1m30 0h2m1 0h1"/>
<path class="q20" d="M36 899h1m50 0h2m23 0h1m41 0h1m24 0h1m6 0h1m3 0h1m84 0h1m64 0h1m9 0h1m75 0h1m20 0h1"/>
<path class="q22" d="M9 899h1m69 0h1m22 0h1m27 0h1m26 0h1m178 0h2m73 0h1m21 0h1"/>
<path class="q24" d="M89 899h1m52 0h1m12 0h1"/>
</g>
<g stroke-width="2.4">
<path class="q2" d="M4 666.8h1m29 0h1m2 0h1m7 0h1m30 0h1m3 0h1m4 0h1m5 0h1m10 0h1m1 0h1m2 0h1m6 0h1m3 0h1m4 0h1m8 0h1m1 0h1m5 0h1m2 0h1m12 0h1m5 0h1m7 0h1m5 0h1m3 0h1m4 0h1m7 0h1m3 0h1m4 0h1m1 0h1m5 0h1m4 0h1m5 0h1m3 0h1m4 0h2m6 0h2m2 0h2m5 0h1m5 0h1m2 0h1m13 0h1m2 0h1m6 0h1m2 0h1m12 0h1m1 0h1m21 0h2m2 0h2m1 0h1m4 0h1m8 0h1m8 0h1m17 0h2m3 0h1m2 0h1m5 0h1m5 0h1m1 0h1m10 0h1m3 0h3m8 0h1m7 0h1m5 0h2m11 0h1m1 0h1m7 0h1m5 0h2m6 0h1m3 0h2m2 0h1m19 0h1m1 0h1M137 801.8h1"/>
<path class="q4" d="M1 666.8h3m2 0h3m4 0h1m24 0h2m10 0h3m1 0h1m2 0h4m2 0h1m1 0h1m23 0h1m2 0h1m8 0h1m8 0h1m6 0h1m1 0h3m15 0h1m6 0h2m5 0h1m5 0h1m5 0h2m4 0h1m3 0h1m1 0h1m11 0h1m10 0h1m1 0h2m1 0h1m4 0h1m9 0h1m7 0h3m3 0h1m13 0h2m3 0h1m2 0h1m1 0h1m6 0h1m12 0h1m2 0h1m1 0h1m1 0h1m3 0h3m1 0h1m2 0h3m2 0h1m7 0h1m4 0h2m2 0h2m2 0h1m4 0h1m7 0h1m2 0h1m4 0h2m13 0h2m2 0h1m32 0h2m7 0h1m3 0h1m5 0h1m6 0h1m1 0h1m2 0h1m6 0h1m2 0h1m2 0h2m3 0h1m1 0h1m4 0h1m21 0h1m6 0h2m11 0h1m1 0h2M151 801.8h1m90 0h1m66 0h1m47 0h1m118 0h1"/>
<path class="q6" d="M0 666.8h1m4 0h1m3 0h2m3 0h1m3 0h2m5 0h1m5 0h1m1 0h1m10 0h1m8 0h1m12 0h2m5 0h1m4 0h1m2 0h2m3 0h1m9 0h1m6 0h1m1 0h1m6 0h1m9 0h1m6 0h2m5 0h1m17 0h1m3 0h2m5 0h3m4 0h1m10 0h2m1 0h1m1 0h3m3 0h1m1 0h1m8 0h1m5 0h1m1 0h2m4 0h2m8 0h1m5 0h2m3 0h1m3 0h1m3 0h1m15 0h1m6 0h1m6 0h1m5 0h1m17 0h1m7 0h1m4 0h1m2 0h2m1 0h1m6 0h1m6 0h1m2 0h3m3 0h2m17 0h1m2 0h1m16 0h1m3 0h3m1 0h1m3 0h1m2 0h4m2 0h1m9 0h1m5 0h1m2 0h1m6 0h1m4 0h2m2 0h1m3 0h1m4 0h1m2 0h1m4 0h1m2 0h2m2 0h2m10 0h2m3 0h1m1 0h1m1 0h2m4 0h1m7 0h1M89 801.8h1m57 0h1m14 0h1m85 0h1m67 0h1m14 0h1m43 0h1m10 0h1m27 0h1"/>
<path class="q8" d="M15 666.8h1m4 0h1m1 0h3m3 0h3m1 0h1m13 0h1m2 0h1m11 0h1m10 0h1m2 0h1m1 0h1m1 0h1m3 0h2m2 0h1m5 0h1m1 0h1m4 0h1m5 0h1m2 0h1m3 0h1m1 0h1m8 0h5m6 0h1m6 0h1m3 0h1m2 0h2m9 0h1m7 0h1m9 0h1m2 0h1m10 0h1m2 0h1m11 0h1m1 0h1m2 0h1m9 0h1m18 0h1m8 0h1m1 0h1m8 0h2m3 0h1m6 0h1m3 0h1m8 0h1m5 0h2m10 0h1m1 0h1m7 0h1m15 0h1m1 0h1m15 0h2m1 0h1m1 0h1m1 0h1m2 0h2m2 0h1m2 0h1m1 0h3m3 0h1m2 0h1m5 0h1m13 0h1m13 0h1m2 0h1m3 0h1m4 0h1m2 0h1m1 0h1m13 0h1m4 0h1m5 0h3m3 0h1m6 0h1m1 0h1m19 0h1m1 0h1m5 0h2M10 801.8h1m48 0h1m9 0h1m25 0h2m63 0h1m6 0h1m7 0h1m9 0h1m16 0h1m16 0h1m7 0h1m65 0h1m6 0h1m51 0h1m12 0h2m3 0h2m30 0h1m72 0h1m4 0h1"/>
<path class="q10" d="M11 666.8h1m5 0h1m3 0h1m4 0h2m8 0h1m5 0h1m12 0h1m15 0h1m25 0h3m16 0h1m16 0h1m5 0h1m37 0h1m1 0h1m2 0h1m8 0h1m24 0h1m6 0h1m10 0h1m25 0h1m6 0h4m26 0h1m49 0h1m13 0h1m2 0h1m7 0h1m1 0h1m2 0h1m2 0h1m4 0h1m11 0h1m7 0h1m5 0h1m3 0h1m13 0h1m36 0h1m5 0h1M4 801.8h1m3 0h2m16 0h1m2 0h1m12 0h1m21 0h2m18 0h1m5 0h1m44 0h1m2 0h3m4 0h1m3 0h1m3 0h1m16 0h1m11 0h2m32 0h1m5 0h2m2 0h1m2 0h1m13 0h1m6 0h1m14 0h1m12 0h1m26 0h1m1 0h1m26 0h1m14 0h1m6 0h1m5 0h1m4 0h1m4 0h1m1 0h1m2 0h2m4 0h2m13 0h1m39 0h1m4 0h1m1 0h1m4 0h1m9 0h1m3 0h1m2 0h1m9 0h1m4 0h2m3 0h1"/>
<path class="q12" d="M35 666.8h1m5 0h1m5 0h1m14 0h1m1 0h1m23 0h1m1 0h1m40 0h1m6 0h1m8 0h1m97 0h1m7 0h1m11 0h1m14 0h1m24 0h1m2 0h1m2 0h1m38 0h1m3 0h1m26 0h1m34 0h1m23 0h1m16 0h1m10 0h1m12 0h1m4 0h1m5 0h1M0 801.8h1m2 0h1m17 0h1m12 0h1m4 0h1m6 0h1m6 0h1m7 0h1m8 0h1m21 0h1m14 0h1m2 0h1m7 0h1m1 0h1m7 0h1m52 0h1m6 0h1m4 0h1m9 0h1m1 0h1m1 0h1m4 0h1m22 0h1m1 0h1m3 0h1m4 0h1m14 0h1m1 0h1m10 0h1m11 0h1m2 0h1m45 0h1m10 0h1m3 0h1m3 0h1m3 0h1m2 0h1m7 0h1m6 0h1m2 0h1m7 0h1m4 0h1m28 0h1m31 0h1m4 0h1m2 0h2m16 0h1"/>
<path class="q14" d="M12 666.8h1m43 0h1m13 0h1m77 0h1m6 0h1m43 0h1m6 0h1m50 0h1m1 0h1m30 0h1m10 0h1m7 0h1m69 0h1m70 0h1M7 801.8h1m5 0h1m3 0h1m1 0h1m13 0h1m10 0h2m3 0h2m23 0h1m1 0h1m2 0h1m8 0h1m4 0h1m4 0h2m4 0h1m3 0h1m5 0h1m16 0h1m4 0h1m4 0h1m4 0h1m1 0h1m1 0h1m3 0h1m9 0h1m1 0h1m1 0h2m3 0h1m15 0h1m1 0h1m23 0h1m16 0h1m7 0h1m3 0h2m7 0h2m9 0h1m1 0h1m1 0h2m9 0h1m5 0h1m6 0h1m1 0h1m2 0h2m2 0h1m10 0h1m13 0h2m5 0h1m4 0h1m4 0h2m6 0h1m21 0h1m6 0h1m4 0h1m4 0h1m3 0h1m22 0h1m5 0h1m6 0h1m20 0h1m2 0h1m2 0h1m14 0h1m19 0h1"/>
<path class="q16" d="M331 666.8h1m14 0h1M2 801.8h1m9 0h1m2 0h2m7 0h2m2 0h1m9 0h1m1 0h1m10 0h1m3 0h1m1 0h2m1 0h1m2 0h1m8 0h1m7 0h1m4 0h1m11 0h1m2 0h1m8 0h1m5 0h1m1 0h1m3 0h1m2 0h1m4 0h1m4 0h1m22 0h2m2 0h1m10 0h1m3 0h1m1 0h1m1 0h1m3 0h1m2 0h1m2 0h1m4 0h1m2 0h2m1 0h1m2 0h1m3 0h2m8 0h1m12 0h1m4 0h1m1 0h1m10 0h1m10 0h1m6 0h1m5 0h1m7 0h1m1 0h1m6 0h1m4 0h1m6 0h1m10 0h1m4 0h1m28 0h2m15 0h1m24 0h1m3 0h1m1 0h1m7 0h2m3 0h1m1 0h1m4 0h1m3 0h1m4 0h1m1 0h2m5 0h2m21 0h1m2 0h1m3 0h1m1 0h1m5 0h1m6 0h1m2 0h1m8 0h1"/>
<path class="q18" d="M324 666.8h1M11 801.8h1m20 0h1m8 0h1m5 0h1m14 0h1m18 0h1m19 0h1m9 0h2m14 0h1m24 0h1m6 0h1m5 0h1m5 0h1m7 0h1m16 0h1m3 0h1m12 0h1m16 0h1m2 0h1m5 0h1m30 0h1m4 0h1m15 0h1m18 0h1m3 0h1m21 0h1m3 0h1m4 0h1m13 0h1m3 0h1m32 0h1m2 0h1m1 0h1m4 0h1m6 0h1m8 0h1m2 0h1m5 0h1m3 0h1m4 0h1m7 0h2m5 0h1m10 0h1m2 0h1m3 0h1m12 0h1m1 0h2m4 0h1"/>
<path class="q20" d="M303 666.8h1M1 801.8h1m16 0h1m4 0h1m44 0h1m4 0h1m1 0h1m7 0h1m2 0h2m14 0h2m2 0h1m6 0h1m18 0h2m8 0h1m1 0h1m47 0h1m1 0h1m2 0h1m13 0h1m22 0h1m16 0h1m4 0h1m1 0h2m11 0h1m8 0h1m1 0h1m1 0h1m14 0h1m3 0h1m2 0h1m4 0h1m11 0h1m1 0h1m2 0h1m3 0h1m6 0h1m13 0h1m14 0h1m19 0h1m11 0h1m17 0h1m22 0h1m4 0h2m4 0h1m21 0h1m10 0h1"/>
<path class="q22" d="M20 801.8h1m10 0h1m4 0h2m16 0h1m16 0h1m5 0h2m3 0h1m22 0h1m10 0h1m2 0h1m5 0h2m16 0h1m30 0h1m11 0h1m27 0h1m2 0h1m6 0h1m22 0h1m4 0h1m2 0h1m6 0h1m25 0h1m26 0h1m3 0h1m1 0h1m15 0h1m4 0h1m39 0h1m8 0h1m5 0h1m7 0h1m5 0h1m8 0h1m63 0h1m6 0h1m4 0h1m1 0h1"/>
<path class="q24" d="M48 801.8h1m7 0h1m9 0h2m23 0h1m2 0h1m35 0h1m46 0h1m28 0h1m3 0h1m85 0h1m7 0h1m3 0h1m20 0h1m79 0h1m18 0h1m8 0h1m1 0h1m30 0h1"/>
<path class="q26" d="M14 801.8h1m15 0h1m4 0h1m86 0h1m97 0h2m3 0h1m50 0h1m40 0h1m4 0h1m106 0h1m38 0h1m28 0h1m1 0h1"/>
<path class="q28" d="M6 801.8h1m45 0h1m103 0h1m100 0h1m14 0h1m4 0h1m9 0h1m32 0h1m95 0h1m19 0h1m7 0h1m48 0h1m1 0h1"/>
<path class="q30" d="M5 801.8h1m16 0h1m4 0h1m15 0h1m79 0h1m31 0h1m7 0h1m64 0h1m95 0h1m5 0h1m10 0h1m13 0h1m4 0h1m20 0h1m25 0h1m4 0h1m19 0h1m9 0h1"/>
</g>
<g stroke-width="2.5">
<path class="q2" d="M1 131.85h2m8 0h1m2 0h2m5 0h2m4 0h1m8 0h3m8 0h1m6 0h1m1 0h1m1 0h1m2 0h1m5 0h1m2 0h1m7 0h1m1 0h1m3 0h2m20 0h1m2 0h2m13 0h2m1 0h2m3 0h1m10 0h4m1 0h3m1 0h1m2 0h1m3 0h1m4 0h2m1 0h2m1 0h1m1 0h1m3 0h1m7 0h1m5 0h1m5 0h1m1 0h1m17 0h2m6 0h1m3 0h1m5 0h1m1 0h1m2 0h1m1 0h1m3 0h1m1 0h1m2 0h1m1 0h3m3 0h2m1 0h2m16 0h3m7 0h1m4 0h1m1 0h2m1 0h3m4 0h1m7 0h2m9 0h1m2 0h1m3 0h2m1 0h1m10 0h1m8 0h1m4 0h1m7 0h1m9 0h2m11 0h1m2 0h1m11 0h1m14 0h1m1 0h2m6 0h1m8 0h1m8 0h1m4 0h1m2 0h4m1 0h1m8 0h1m4 0h1m9 0h1m12 0h1"/>
<path class="q4" d="M0 131.85h1m6 0h2m8 0h1m2 0h1m7 0h1m2 0h1m8 0h1m3 0h1m8 0h1m1 0h1m1 0h1m2 0h1m4 0h2m4 0h1m1 0h1m1 0h3m8 0h1m3 0h3m2 0h1m1 0h1m3 0h1m3 0h1m12 0h1m3 0h2m10 0h1m2 0h1m2 0h3m10 0h2m5 0h1m1 0h1m11 0h1m2 0h1m4 0h1m3 0h1m2 0h1m1 0h1m1 0h1m7 0h1m2 0h2m13 0h2m4 0h1m4 0h4m1 0h1m6 0h1m3 0h1m2 0h1m5 0h2m3 0h1m5 0h1m3 0h1m3 0h1m1 0h3m8 0h1m2 0h2m11 0h1m4 0h1m2 0h2m6 0h1m7 0h1m2 0h1m3 0h1m13 0h5m4 0h1m5 0h1m3 0h1m8 0h2m6 0h1m3 0h1m1 0h1m6 0h1m1 0h1m17 0h1m12 0h1m3 0h5m4 0h1m3 0h1m5 0h1m11 0h1m1 0h1m1 0h1m2 0h1m4 0h1m3 0h1m2 0h2m1 0h1m1 0h1m3 0h1m3 0h1"/>
<path class="q6" d="M5 131.85h1m3 0h2m7 0h1m10 0h1m3 0h1m7 0h2m8 0h2m10 0h1m4 0h2m2 0h1m8 0h1m11 0h2m1 0h1m18 0h2m3 0h1m8 0h3m3 0h1m11 0h1m18 0h1m4 0h1m9 0h1m18 0h1m1 0h2m3 0h1m2 0h1m2 0h1m1 0h1m6 0h2m13 0h1m2 0h1m10 0h1m11 0h1m3 0h2m13 0h1m3 0h1m22 0h2m2 0h1m10 0h1m4 0h1m9 0h2m2 0h1m9 0h1m2 0h1m9 0h1m3 0h2m1 0h1m1 0h1m7 0h1m8 0h1m2 0h1m7 0h2m4 0h1m1 0h2m1 0h1m3 0h1m9 0h2m2 0h1m6 0h1m2 0h1m3 0h1m5 0h1m3 0h1m7 0h1m5 0h1m3 0h2m2 0h1m4 0h1m7 0h1m2 0h1"/>
<path class="q8" d="M23 131.85h1m1 0h1m4 0h1m3 0h2m9 0h2m1 0h1m33 0h1m28 0h1m7 0h1m13 0h1m4 0h1m22 0h1m7 0h1m3 0h1m9 0h1m3 0h2m10 0h1m8 0h2m2 0h1m5 0h1m2 0h1m4 0h1m11 0h1m4 0h1m20 0h1m7 0h1m2 0h1m8 0h1m10 0h1m6 0h1m1 0h2m1 0h1m8 0h1m1 0h1m2 0h1m4 0h1m9 0h1m1 0h1m2 0h1m2 0h1m13 0h1m5 0h1m4 0h1m2 0h1m1 0h1m5 0h1m4 0h1m3 0h1m3 0h1m2 0h1m1 0h1m6 0h1m7 0h1m2 0h1m3 0h1m4 0h1m1 0h1m5 0h1m7 0h1m2 0h1m3 0h1m33 0h1m5 0h1m3 0h1"/>
<path class="q10" d="M13 131.85h1m2 0h1m2 0h1m19 0h1m10 0h1m13 0h1m14 0h1m3 0h1m28 0h1m8 0h1m14 0h1m48 0h1m6 0h1m13 0h1m22 0h1m18 0h1m34 0h1m8 0h1m29 0h2m23 0h1m6 0h1m4 0h1m5 0h1m15 0h1m5 0h1m14 0h1m12 0h1m3 0h1m2 0h1m3 0h1m18 0h1m5 0h1m21 0h1m6 0h1m14 0h2"/>
<path class="q12" d="M12 131.85h1m36 0h1m9 0h1m2 0h1m24 0h1m10 0h1m1 0h1m2 0h1m10 0h1m2 0h1m38 0h1m70 0h1m16 0h1m28 0h1m43 0h1m19 0h1m4 0h1m57 0h1m60 0h1m1 0h1"/>
<path class="q14" d="M104 131.85h1m21 0h1m30 0h1m107 0h1m5 0h1m21 0h1m26 0h1m10 0h1m76 0h1"/>
<path class="q16" d="M490 131.85h1"/>
</g>
<g stroke-width="2.6">
<path class="q2" d="M45 545.7h1m88 0h1m2 0h1m6 0h1m19 0h1m3 0h1"/>
<path class="q4" d="M25 545.7h1m14 0h1m89 0h1m5 0h1m9 0h1m4 0h1m8 0h1m9 0h1m56 0h1m15 0h1m56 0h1m12 0h2m14 0h1m71 0h1m36 0h1m12 0h1m29 0h1"/>
<path class="q6" d="M1 545.7h1m6 0h1m20 0h1m48 0h1m2 0h1m2 0h1m10 0h1m25 0h1m4 0h1m1 0h1m2 0h1m6 0h1m24 0h1m21 0h1m43 0h1m3 0h1m67 0h1m7 0h1m9 0h1m28 0h1m26 0h1m8 0h1m3 0h1m14 0h1m7 0h1m4 0h1m14 0h1m4 0h1m21 0h1m27 0h2m2 0h1"/>
<path class="q8" d="M0 545.7h1m16 0h1m5 0h1m3 0h1m3 0h1m16 0h1m2 0h1m5 0h1m1 0h2m21 0h1m19 0h1m9 0h1m41 0h2m13 0h1m14 0h1m12 0h1m16 0h1m13 0h1m6 0h1m10 0h1m16 0h1m3 0h1m6 0h1m7 0h1m4 0h2m2 0h1m2 0h1m10 0h2m9 0h1m24 0h1m1 0h1m2 0h1m5 0h1m18 0h1m5 0h1m22 0h1m29 0h1m12 0h1m5 0h1m39 0h1"/>
<path class="q10" d="M6 545.7h1m3 0h1m9 0h1m3 0h1m19 0h1m17 0h1m4 0h1m26 0h1m2 0h1m2 0h1m5 0h1m1 0h1m2 0h1m7 0h1m7 0h1m11 0h2m4 0h1m6 0h1m3 0h1m4 0h1m5 0h1m4 0h1m5 0h1m4 0h1m2 0h1m1 0h1m5 0h3m1 0h1m3 0h1m1 0h1m4 0h2m2 0h1m8 0h1m1 0h1m23 0h1m8 0h1m6 0h1m8 0h1m7 0h1m3 0h1m9 0h1m21 0h2m7 0h2m10 0h1m8 0h1m6 0h1m4 0h1m3 0h1m3 0h4m3 0h1m4 0h1m1 0h1m13 0h1m3 0h1m9 0h1m3 0h1m4 0h1m7 0h2m7 0h1m8 0h1m1 0h1m6 0h1m9 0h1m3 0h1m27 0h1m2 0h1"/>
<path class="q12" d="M16 545.7h1m9 0h1m1 0h1m1 0h1m4 0h1m19 0h1m10 0h1m1 0h1m8 0h1m2 0h1m5 0h2m10 0h1m2 0h1m12 0h1m10 0h1m3 0h1m5 0h1m17 0h1m3 0h2m6 0h1m5 0h1m2 0h1m1 0h2m1 0h1m9 0h1m1 0h1m9 0h1m23 0h2m3 0h1m7 0h1m5 0h1m2 0h1m3 0h1m1 0h2m5 0h1m5 0h1m3 0h1m1 0h1m11 0h1m1 0h1m10 0h1m1 0h1m3 0h1m3 0h1m7 0h1m12 0h1m1 0h1m24 0h2m9 0h1m11 0h1m8 0h1m1 0h2m3 0h1m1 0h1m5 0h1m2 0h1m4 0h1m1 0h1m1 0h1m6 0h2m5 0h1m5 0h1m2 0h1m1 0h1m1 0h1m3 0h1m11 0h1m2 0h1m1 0h1m33 0h1"/>
<path class="q14" d="M3 545.7h2m6 0h1m3 0h1m3 0h1m14 0h1m4 0h1m2 0h1m6 0h1m6 0h1m12 0h2m2 0h1m9 0h1m1 0h1m3 0h1m1 0h2m6 0h1m10 0h1m7 0h1m5 0h1m7 0h2m8 0h2m15 0h1m15 0h1m16 0h2m24 0h1m4 0h1m7 0h1m4 0h1m13 0h1m4 0h1m2 0h1m2 0h1m18 0h1m8 0h2m7 0h1m3 0h1m1 0h1m15 0h1m3 0h1m9 0h2m6 0h1m8 0h1m1 0h1m4 0h1m3 0h1m2 0h1m16 0h1m9 0h1m4 0h1m6 0h1m3 0h1m6 0h1m7 0h3m6 0h1m19 0h1m1 0h1m6 0h1m3 0h1m6 0h1m1 0h1m9 0h1m3 0h1"/>
<path class="q16" d="M41 545.7h1m4 0h1m5 0h1m8 0h1m1 0h3m5 0h1m3 0h1m3 0h1m24 0h2m9 0h1m4 0h1m2 0h1m17 0h1m6 0h2m12 0h1m3 0h1m15 0h1m4 0h1m2 0h1m8 0h1m5 0h1m11 0h1m3 0h1m18 0h3m26 0h1m9 0h1m3 0h1m8 0h1m15 0h1m1 0h1m10 0h1m10 0h2m2 0h1m3 0h1m3 0h1m19 0h1m15 0h1m2 0h1m22 0h1m43 0h1m5 0h1m11 0h1m2 0h1m8 0h1m4 0h1m5 0h1m7 0h1"/>
<path class="q18" d="M7 545.7h1m10 0h1m2 0h1m10 0h1m3 0h1m10 0h1m2 0h1m21 0h1m30 0h1m9 0h1m2 0h1m56 0h1m6 0h2m21 0h1m2 0h3m6 0h1m3 0h2m35 0h1m14 0h1m3 0h1m1 0h2m43 0h1m8 0h1m13 0h1m15 0h1m29 0h1m1 0h1m13 0h1m32 0h1m7 0h1m26 0h1m1 0h1m1 0h1m12 0h1"/>
<path class="q20" d="M2 545.7h1m10 0h1m24 0h1m4 0h1m44 0h1m18 0h1m14 0h1m93 0h1m15 0h1m4 0h1m1 0h1m5 0h1m16 0h1m13 0h1m48 0h1m23 0h1m10 0h1m12 0h1m12 0h1m11 0h1m20 0h1m22 0h1m4 0h1m7 0h1m3 0h1m6 0h1m11 0h1m3 0h2m13 0h1"/>
<path class="q22" d="M14 545.7h1m38 0h1m39 0h1m23 0h1m32 0h1m60 0h2m21 0h1m17 0h1m12 0h1m2 0h1m24 0h1m2 0h1m14 0h1m11 0h1m15 0h1m17 0h1m14 0h1m3 0h1m8 0h1m31 0h1m46 0h1m4 0h2m2 0h1"/>
<path class="q24" d="M5 545.7h1m3 0h1m27 0h1m16 0h1m21 0h1m13 0h1m109 0h1m111 0h1m37 0h1m78 0h1m46 0h1m16 0h1"/>
<path class="q26" d="M12 545.7h1m83 0h1m50 0h1m101 0h1m9 0h1m77 0h1m95 0h1"/>
<path class="q28" d="M33 545.7h1m24 0h1m435 0h1"/>
<path class="q30" d="M22 545.7h1m51 0h1"/>
</g>
<g stroke-width="2.8">
<path class="q2" d="M9 799.2h1m3 0h1m8 0h1m30 0h1m52 0h1m11 0h1m13 0h1m12 0h1m10 0h1m3 0h1m1 0h1m3 0h1m29 0h1m61 0h1m38 0h1m2 0h1m5 0h1m1 0h1m5 0h1m21 0h1m1 0h1m34 0h1m10 0h1m3 0h2m10 0h1m14 0h1m42 0h1m1 0h1m15 0h1m19 0h1"/>
<path class="q4" d="M2 799.2h1m1 0h1m1 0h1m8 0h1m2 0h1m4 0h1m10 0h1m2 0h1m5 0h1m7 0h1m8 0h2m5 0h1m5 0h1m12 0h1m18 0h1m3 0h1m4 0h1m1 0h1m2 0h1m4 0h1m14 0h1m30 0h1m3 0h1m4 0h1m3 0h2m18 0h1m7 0h2m1 0h1m9 0h1m1 0h1m3 0h1m1 0h2m5 0h1m5 0h1m4 0h2m9 0h1m7 0h1m42 0h1m10 0h1m5 0h1m7 0h1m1 0h1m4 0h1m1 0h1m6 0h1m9 0h1m7 0h1m3 0h1m2 0h1m2 0h1m14 0h1m7 0h1m2 0h1m12 0h3m21 0h1m1 0h2m11 0h1m17 0h1m5 0h1m14 0h1"/>
<path class="q6" d="M17 799.2h1m3 0h1m3 0h2m13 0h2m7 0h1m2 0h1m1 0h2m6 0h2m8 0h1m6 0h4m1 0h2m7 0h1m5 0h1m3 0h1m8 0h1m13 0h1m1 0h3m2 0h2m6 0h1m6 0h1m2 0h1m9 0h1m2 0h2m1 0h1m12 0h1m4 0h1m3 0h1m14 0h1m8 0h1m3 0h2m2 0h2m2 0h1m2 0h2m7 0h1m6 0h1m19 0h1m6 0h1m1 0h1m6 0h3m1 0h1m2 0h1m1 0h1m4 0h1m6 0h1m8 0h1m9 0h1m4 0h2m7 0h1m7 0h1m2 0h1m4 0h1m10 0h1m4 0h2m4 0h1m7 0h1m2 0h1m3 0h1m3 0h1m1 0h1m16 0h1m3 0h1m2 0h1m1 0h1m6 0h5m7 0h1m2 0h2m5 0h1m14 0h1m1 0h1m5 0h2m1 0h2m3 0h1m1 0h1m4 0h1m5 0h1m4 0h1"/>
<path class="q8" d="M0 799.2h1m2 0h1m1 0h1m2 0h1m1 0h1m3 0h1m1 0h1m2 0h1m7 0h2m1 0h1m1 0h1m2 0h2m5 0h1m1 0h3m1 0h1m7 0h1m1 0h1m5 0h2m4 0h1m5 0h1m15 0h1m1 0h1m3 0h1m2 0h1m5 0h1m2 0h2m3 0h1m1 0h1m4 0h1m8 0h1m8 0h1m2 0h1m2 0h1m2 0h1m19 0h1m1 0h1m4 0h1m4 0h1m6 0h1m1 0h2m7 0h2m14 0h1m7 0h1m7 0h1m16 0h1m3 0h1m2 0h3m8 0h1m5 0h1m2 0h1m1 0h2m11 0h1m2 0h1m1 0h2m5 0h2m13 0h1m1 0h1m4 0h1m3 0h1m2 0h1m3 0h1m4 0h2m1 0h1m4 0h1m2 0h2m1 0h1m2 0h4m1 0h1m7 0h1m3 0h1m1 0h1m2 0h1m5 0h2m3 0h1m15 0h1m1 0h2m1 0h1m22 0h1m5 0h1m8 0h1m4 0h3m4 0h1m4 0h1m3 0h1m11 0h1m2 0h1m13 0h1"/>
<path class="q10" d="M7 799.2h1m30 0h2m7 0h1m40 0h3m11 0h1m20 0h1m3 0h1m7 0h1m2 0h1m3 0h1m1 0h1m2 0h1m10 0h1m4 0h1m22 0h2m13 0h1m3 0h1m2 0h1m10 0h1m7 0h1m6 0h1m6 0h3m2 0h1m2 0h1m29 0h1m5 0h1m5 0h1m7 0h1m4 0h1m4 0h1m3 0h1m2 0h1m1 0h1m3 0h1m4 0h1m2 0h1m24 0h1m8 0h2m2 0h1m13 0h1m11 0h1m7 0h2m1 0h1m7 0h1m2 0h1m6 0h1m1 0h1m5 0h1m3 0h1m3 0h1m17 0h1m9 0h2m4 0h1m17 0h1m1 0h1"/>
<path class="q12" d="M1 799.2h1m10 0h1m7 0h1m8 0h1m1 0h1m34 0h1m4 0h1m3 0h1m7 0h1m3 0h1m16 0h1m15 0h1m4 0h1m24 0h1m2 0h1m1 0h1m3 0h1m32 0h2m1 0h1m6 0h1m17 0h1m15 0h1m1 0h1m14 0h2m13 0h1m7 0h1m6 0h1m23 0h1m3 0h1m3 0h1m16 0h1m16 0h1m42 0h1m4 0h3m1 0h1m10 0h1m11 0h1m7 0h1m3 0h2m14 0h2m8 0h1m1 0h1m4 0h1m8 0h1m1 0h1m6 0h3m4 0h2"/>
<path class="q14" d="M11 799.2h1m21 0h1m25 0h1m8 0h1m8 0h1m13 0h1m16 0h1m4 0h1m40 0h1m20 0h1m6 0h1m14 0h1m9 0h1m2 0h1m5 0h1m18 0h1m11 0h1m12 0h1m9 0h1m3 0h1m17 0h1m28 0h1m11 0h1m13 0h1m8 0h1m20 0h1m17 0h1m47 0h1m1 0h1m4 0h2m32 0h1"/>
<path class="q16" d="M69 799.2h1m8 0h1m21 0h1m36 0h1m34 0h2m4 0h1m30 0h1m30 0h1m21 0h2m22 0h1m1 0h1m9 0h1m6 0h1m63 0h1m63 0h1"/>
<path class="q18" d="M24 799.2h1m25 0h1m46 0h1m38 0h1m15 0h1m41 0h1m3 0h1m7 0h1m58 0h1"/>
<path class="q20" d="M57 799.2h1m110 0h1m98 0h1m222 0h1"/>
<path class="q22" d="M95 799.2h1m25 0h1m55 0h1"/>
</g>
<g stroke-width="2.9">
<path class="q2" d="M18 151.75h1m5 0h1m2 0h1m27 0h1m3 0h1m27 0h1m3 0h1m5 0h2m7 0h1m2 0h1m6 0h1m8 0h2m20 0h2m21 0h1m26 0h1m14 0h1m2 0h1m60 0h1m2 0h1m6 0h1m5 0h1m3 0h1m5 0h1m14 0h1m6 0h1m39 0h1m19 0h2m13 0h1m11 0h1m30 0h2m7 0h1m21 0h1m5 0h1m7 0h1m5 0h1M13 747.95h1m42 0h1m74 0h1m15 0h1m74 0h1m44 0h1m9 0h1m42 0h1m60 0h1m7 0h1m4 0h1m2 0h1m21 0h1m16 0h2m25 0h1m4 0h1m11 0h1"/>
<path class="q4" d="M0 151.75h1m4 0h1m14 0h1m1 0h2m11 0h1m10 0h2m4 0h3m2 0h1m5 0h1m2 0h2m4 0h1m4 0h1m2 0h2m1 0h1m11 0h1m11 0h1m3 0h1m1 0h1m1 0h1m1 0h1m1 0h1m2 0h1m8 0h1m3 0h1m2 0h3m1 0h1m9 0h1m8 0h1m4 0h1m5 0h1m9 0h1m13 0h1m3 0h2m2 0h1m1 0h3m8 0h1m4 0h2m6 0h3m11 0h1m4 0h1m6 0h1m7 0h1m4 0h1m4 0h2m1 0h1m2 0h2m3 0h1m1 0h1m13 0h1m4 0h1m5 0h2m2 0h1m1 0h1m4 0h1m3 0h1m9 0h1m16 0h2m3 0h1m1 0h1m4 0h1m4 0h1m2 0h1m1 0h1m2 0h2m8 0h1m15 0h1m3 0h1m9 0h2m1 0h1m3 0h1m3 0h1m2 0h2m2 0h1m3 0h1m3 0h1m6 0h1m3 0h1m6 0h1m3 0h1m2 0h1m11 0h1m1 0h1m3 0h1m5 0h1m3 0h2M11 747.95h1m4 0h1m7 0h1m19 0h2m30 0h1m20 0h1m27 0h1m2 0h1m16 0h1m6 0h1m4 0h1m4 0h1m2 0h1m2 0h2m1 0h1m9 0h1m16 0h1m22 0h1m9 0h1m25 0h1m4 0h1m7 0h1m25 0h2m1 0h1m1 0h1m3 0h1m10 0h1m26 0h1m12 0h1m11 0h1m1 0h1m12 0h1m1 0h1m1 0h1m12 0h1m4 0h1m6 0h1m7 0h1m11 0h1m13 0h1m4 0h1m8 0h2m4 0h1m5 0h1m4 0h1m14 0h1m5 0h1"/>
<path class="q6" d="M3 151.75h1m8 0h1m1 0h1m2 0h1m1 0h1m5 0h1m3 0h1m6 0h1m2 0h2m1 0h1m1 0h2m15 0h2m10 0h1m1 0h2m17 0h1m4 0h2m1 0h1m5 0h1m3 0h1m1 0h1m3 0h1m5 0h1m3 0h1m1 0h1m3 0h1m1 0h1m7 0h1m4 0h2m7 0h1m3 0h1m1 0h1m3 0h2m3 0h1m4 0h1m4 0h1m4 0h1m1 0h1m3 0h2m14 0h1m8 0h1m5 0h4m7 0h1m1 0h1m6 0h1m1 0h1m6 0h1m6 0h1m3 0h1m4 0h4m10 0h1m6 0h1m8 0h1m8 0h1m4 0h1m4 0h4m3 0h1m1 0h2m4 0h1m4 0h1m3 0h3m5 0h1m4 0h1m1 0h1m3 0h2m3 0h3m3 0h1m4 0h1m11 0h2m3 0h1m4 0h1m7 0h1m5 0h3m12 0h1m18 0h1m4 0h1m1 0h1m1 0h2m10 0h1m7 0h1m2 0h1m5 0h1m8 0h1m1 0h1M6 747.95h2m18 0h1m21 0h1m1 0h1m2 0h1m3 0h1m2 0h1m2 0h1m1 0h1m3 0h1m2 0h2m6 0h1m19 0h1m7 0h1m6 0h1m14 0h1m2 0h1m8 0h1m1 0h1m5 0h1m3 0h1m17 0h1m9 0h1m8 0h2m1 0h1m5 0h2m7 0h1m3 0h1m1 0h1m1 0h1m17 0h1m10 0h1m5 0h2m4 0h3m2 0h1m4 0h1m10 0h1m9 0h1m3 0h1m15 0h2m10 0h1m19 0h1m8 0h1m3 0h1m8 0h2m2 0h1m3 0h1m2 0h1m2 0h1m8 0h1m1 0h1m1 0h2m1 0h1m5 0h1m3 0h1m12 0h1m9 0h1m7 0h1m4 0h1m17 0h3m4 0h1m4 0h3m1 0h2m11 0h1m6 0h2"/>
<path class="q8" d="M2 151.75h1m4 0h1m2 0h1m2 0h1m1 0h1m5 0h1m4 0h1m1 0h1m2 0h1m2 0h1m8 0h1m5 0h1m1 0h1m18 0h2m21 0h1m7 0h1m3 0h1m4 0h1m9 0h2m7 0h1m11 0h1m4 0h1m4 0h1m23 0h1m3 0h1m4 0h1m1 0h1m2 0h1m2 0h2m9 0h1m1 0h1m3 0h1m6 0h1m12 0h1m5 0h1m10 0h1m1 0h1m1 0h1m1 0h1m4 0h4m1 0h1m4 0h1m10 0h1m10 0h2m3 0h1m2 0h2m5 0h2m9 0h1m9 0h1m6 0h2m2 0h1m1 0h1m1 0h1m1 0h1m7 0h1m14 0h1m4 0h1m10 0h2m3 0h1m7 0h1m6 0h1m2 0h1m1 0h1m5 0h1m4 0h1m3 0h1m6 0h1m2 0h1m6 0h1m7 0h2m6 0h1m5 0h1m3 0h1m1 0h1m11 0h1m2 0h1m1 0h1m1 0h1m5 0h1M2 747.95h1m2 0h1m3 0h1m2 0h1m4 0h1m7 0h1m3 0h2m2 0h2m2 0h1m8 0h1m5 0h1m13 0h1m1 0h1m1 0h1m6 0h1m4 0h1m13 0h1m4 0h1m8 0h1m11 0h1m4 0h1m6 0h1m5 0h1m19 0h1m6 0h1m2 0h1m3 0h1m2 0h1m8 0h1m3 0h1m5 0h1m2 0h1m10 0h1m15 0h1m9 0h1m3 0h1m3 0h1m2 0h1m2 0h2m17 0h1m1 0h1m2 0h3m8 0h1m6 0h1m13 0h1m18 0h1m1 0h2m9 0h1m5 0h1m3 0h1m12 0h1m3 0h1m3 0h1m14 0h1m7 0h1m2 0h1m6 0h1m3 0h1m1 0h1m5 0h1m6 0h1m3 0h1m4 0h1m14 0h1m1 0h1m1 0h2m3 0h1m12 0h1m10 0h2m1 0h1m8 0h2m4 0h1m2 0h1"/>
<path class="q10" d="M4 151.75h1m3 0h1m2 0h1m18 0h1m1 0h1m4 0h1m20 0h1m5 0h2m3 0h1m4 0h1m4 0h1m8 0h3m12 0h2m28 0h1m3 0h1m5 0h1m9 0h1m5 0h1m7 0h1m43 0h1m1 0h1m7 0h1m11 0h1m3 0h1m3 0h2m10 0h1m41 0h1m7 0h1m6 0h2m19 0h1m16 0h1m3 0h1m4 0h1m2 0h1m11 0h1m2 0h1m7 0h1m3 0h1m5 0h1m8 0h1m7 0h1m2 0h1m9 0h2m7 0h1m3 0h1m3 0h1m3 0h1m5 0h1m8 0h1m5 0h1m5 0h1m2 0h1m1 0h1m19 0h1M1 747.95h1m2 0h1m3 0h1m12 0h1m5 0h2m6 0h1m2 0h1m4 0h1m5 0h1m8 0h1m8 0h1m3 0h1m6 0h1m6 0h1m7 0h1m5 0h1m2 0h1m9 0h1m3 0h1m1 0h1m5 0h1m23 0h1m2 0h1m1 0h1m5 0h1m6 0h1m9 0h1m1 0h2m3 0h1m1 0h1m9 0h1m1 0h1m6 0h1m1 0h3m11 0h1m6 0h1m2 0h1m1 0h1m4 0h1m10 0h1m6 0h1m5 0h1m4 0h1m5 0h1m10 0h1m6 0h1m7 0h1m1 0h1m2 0h2m9 0h1m3 0h1m3 0h1m8 0h1m2 0h1m2 0h1m2 0h1m4 0h1m3 0h1m5 0h1m1 0h1m2 0h1m11 0h1m5 0h1m1 0h1m20 0h1m5 0h1m2 0h1m4 0h1m1 0h1m4 0h1m18 0h3m4 0h1m3 0h1m9 0h1m13 0h1m5 0h1m2 0h1"/>
<path class="q12" d="M6 151.75h1m2 0h1m6 0h1m16 0h1m14 0h1m19 0h1m9 0h1m3 0h1m9 0h1m3 0h1m26 0h1m31 0h1m4 0h1m4 0h1m8 0h1m1 0h1m10 0h1m3 0h1m6 0h1m15 0h1m5 0h1m3 0h1m18 0h1m11 0h1m7 0h1m19 0h1m9 0h1m14 0h1m26 0h1m5 0h1m35 0h1m10 0h1m7 0h1m28 0h1m1 0h1m7 0h1m25 0h2m26 0h2M3 747.95h1m14 0h1m23 0h1m4 0h1m6 0h2m3 0h1m19 0h1m1 0h1m2 0h1m2 0h1m2 0h1m4 0h1m2 0h1m12 0h1m1 0h1m3 0h1m2 0h1m15 0h1m2 0h1m1 0h1m4 0h1m11 0h1m2 0h1m2 0h1m10 0h1m4 0h1m3 0h1m3 0h1m13 0h1m2 0h1m5 0h1m7 0h1m3 0h3m2 0h1m4 0h2m3 0h2m3 0h1m5 0h1m23 0h1m4 0h1m3 0h1m1 0h1m2 0h2m26 0h1m1 0h1m5 0h2m1 0h1m5 0h1m2 0h1m3 0h1m2 0h1m9 0h2m4 0h1m16 0h1m6 0h1m15 0h1m10 0h1m1 0h1m1 0h1m4 0h1m34 0h1m11 0h1m18 0h1m4 0h1m5 0h1m1 0h1"/>
<path class="q14" d="M50 151.75h1m76 0h1m4 0h1m21 0h1m2 0h1m5 0h1m7 0h1m5 0h1m3 0h1m3 0h1m16 0h1m15 0h1m20 0h1m26 0h1m15 0h1m24 0h1m22 0h1m16 0h1m1 0h1m3 0h1m38 0h1m10 0h1m14 0h1m49 0h1m6 0h1m16 0h1M10 747.95h1m4 0h1m6 0h2m7 0h2m3 0h1m3 0h2m20 0h1m1 0h1m10 0h1m10 0h1m1 0h1m2 0h1m2 0h1m9 0h1m4 0h1m13 0h1m14 0h1m17 0h1m6 0h1m29 0h1m9 0h1m8 0h1m3 0h1m28 0h1m34 0h2m13 0h1m6 0h1m9 0h2m5 0h1m16 0h1m9 0h1m15 0h1m3 0h1m9 0h1m46 0h2m2 0h1m12 0h1m15 0h1m18 0h1"/>
<path class="q16" d="M60 151.75h1m95 0h1m23 0h1m18 0h1m34 0h1m5 0h1m58 0h1m46 0h1m51 0h1m40 0h1m32 0h1M51 747.95h1m9 0h1m30 0h1m10 0h1m10 0h1m11 0h1m5 0h1m10 0h1m5 0h1m23 0h1m15 0h1m28 0h1m10 0h1m34 0h2m20 0h1m42 0h1m3 0h1m13 0h1m3 0h1m21 0h1m22 0h1m7 0h1m24 0h1m1 0h1"/>
<path class="q18" d="M145 151.75h1M0 747.95h1m38 0h1m49 0h1m15 0h2m14 0h1m33 0h1m31 0h1m26 0h1m76 0h1m15 0h2m21 0h1m28 0h1m19 0h1m48 0h1m9 0h1m5 0h1m43 0h1"/>
<path class="q20" d="M268 151.75h1M20 747.95h1m86 0h1m29 0h1m297 0h1m47 0h1"/>
<path class="q22" d="M19 747.95h1m54 0h1m8 0h1m35 0h1m335 0h1m31 0h1"/>
<path class="q24" d="M135 747.95h1m106 0h1m11 0h1"/>
<path class="q26" d="M14 747.95h1"/>
</g>
<g stroke-width="3">
<path class="q2" d="M1 876.5h1m5 0h1m5 0h1m5 0h1m3 0h1m6 0h2m2 0h2m12 0h1m3 0h1m1 0h1m4 0h1m2 0h1m3 0h1m12 0h1m3 0h1m2 0h1m3 0h1m4 0h1m1 0h2m9 0h2m2 0h1m1 0h1m8 0h1m4 0h2m4 0h1m6 0h1m5 0h1m3 0h1m2 0h1m5 0h1m2 0h1m2 0h1m6 0h1m2 0h1m16 0h1m1 0h1m1 0h1m1 0h1m1 0h2m3 0h1m4 0h1m2 0h1m1 0h1m9 0h1m6 0h1m12 0h1m13 0h1m13 0h1m5 0h1m1 0h1m17 0h1m3 0h1m24 0h2m5 0h1m9 0h1m23 0h1m3 0h1m3 0h1m1 0h1m4 0h2m4 0h1m4 0h1m5 0h2m1 0h1m5 0h1m1 0h1m1 0h1m12 0h1m6 0h1m8 0h2m2 0h1m5 0h3m6 0h2m9 0h1m1 0h3m4 0h1m7 0h4m2 0h2M1 879.5h1m1 0h2m1 0h1m6 0h1m3 0h1m1 0h1m2 0h2m1 0h1m1 0h1m1 0h1m2 0h2m1 0h3m3 0h2m4 0h1m5 0h1m7 0h1m3 0h1m1 0h1m2 0h2m5 0h1m1 0h1m8 0h2m1 0h2m2 0h1m1 0h1m4 0h1m2 0h1m1 0h1m6 0h1m1 0h1m4 0h1m1 0h2m6 0h1m1 0h1m2 0h1m3 0h1m2 0h2m4 0h1m1 0h1m1 0h1m1 0h2m1 0h1m8 0h1m4 0h4m2 0h4m4 0h1m1 0h1m3 0h2m6 0h1m3 0h1m1 0h3m8 0h1m3 0h1m1 0h2m1 0h1m2 0h1m2 0h2m7 0h4m2 0h3m6 0h1m1 0h1m1 0h1m1 0h1m1 0h1m6 0h1m1 0h1m3 0h1m2 0h1m2 0h2m2 0h2m3 0h1m4 0h4m1 0h2m1 0h1m7 0h1m3 0h1m1 0h1m2 0h2m1 0h1m1 0h1m3 0h3m7 0h1m3 0h1m7 0h3m1 0h1m2 0h3m1 0h1m2 0h3m3 0h1m3 0h1m2 0h2m2 0h1m2 0h1m3 0h2m1 0h2m1 0h2m1 0h1m4 0h1m2 0h1m2 0h1m1 0h1m1 0h1m1 0h1m12 0h2m2 0h1m3 0h1m1 0h3m3 0h1m1 0h1m1 0h1m1 0h1m6 0h1m1 0h1m3 0h1m1 0h1m5 0h1m2 0h1m5 0h2m3 0h1m4 0h2"/>
<path class="q4" d="M4 876.5h3m13 0h3m2 0h1m11 0h1m5 0h5m3 0h1m1 0h1m1 0h4m12 0h1m2 0h1m1 0h1m4 0h1m5 0h2m3 0h2m2 0h1m4 0h1m1 0h1m1 0h1m14 0h1m1 0h1m1 0h1m1 0h1m3 0h1m17 0h1m8 0h2m6 0h1m2 0h1m1 0h1m4 0h1m2 0h2m2 0h1m3 0h2m8 0h1m3 0h1m4 0h1m7 0h1m4 0h2m7 0h1m9 0h2m2 0h1m3 0h1m4 0h2m2 0h1m1 0h2m5 0h2m1 0h2m1 0h2m1 0h2m1 0h1m1 0h2m5 0h2m7 0h1m2 0h1m4 0h2m2 0h4m3 0h1m3 0h1m3 0h2m4 0h2m3 0h1m9 0h3m4 0h2m5 0h1m2 0h1m1 0h3m5 0h1m3 0h1m6 0h1m1 0h1m11 0h1m3 0h1m18 0h1m5 0h1m1 0h2m3 0h1m2 0h1m10 0h1m2 0h1m20 0h1m1 0h1m2 0h1m7 0h1m1 0h1m1 0h2m1 0h1m2 0h1M0 879.5h1m6 0h1m6 0h1m5 0h1m5 0h1m3 0h2m7 0h2m2 0h1m7 0h1m2 0h1m3 0h1m1 0h1m5 0h1m1 0h2m4 0h2m6 0h1m4 0h1m5 0h2m1 0h1m12 0h1m3 0h1m1 0h1m4 0h1m7 0h3m3 0h1m6 0h1m4 0h2m4 0h1m4 0h1m1 0h1m8 0h2m7 0h1m4 0h2m1 0h1m5 0h1m2 0h3m5 0h2m5 0h1m2 0h3m12 0h2m2 0h1m7 0h1m5 0h1m4 0h1m1 0h3m2 0h1m8 0h1m2 0h1m2 0h1m1 0h1m3 0h1m6 0h2m4 0h1m1 0h1m13 0h3m10 0h1m5 0h1m1 0h1m7 0h1m2 0h1m3 0h1m2 0h2m1 0h3m4 0h1m8 0h1m4 0h1m11 0h2m5 0h1m11 0h1m1 0h1m3 0h1m2 0h1m3 0h1m5 0h1m4 0h1m6 0h2m17 0h1m3 0h1m7 0h1m6 0h2m2 0h1m2 0h1m2 0h2m3 0h2m1 0h1m2 0h1m4 0h3"/>
<path class="q6" d="M0 876.5h1m9 0h1m1 0h1m1 0h1m2 0h1m6 0h1m15 0h1m8 0h2m21 0h1m2 0h1m1 0h1m2 0h1m3 0h2m8 0h1m4 0h1m7 0h1m5 0h1m1 0h1m1 0h1m3 0h1m9 0h1m1 0h1m1 0h1m2 0h1m4 0h1m1 0h1m3 0h1m5 0h2m4 0h1m2 0h1m2 0h1m1 0h1m4 0h1m2 0h1m2 0h1m10 0h1m12 0h1m2 0h1m2 0h1m1 0h1m2 0h1m1 0h1m2 0h3m2 0h1m2 0h1m1 0h1m4 0h1m3 0h1m3 0h1m5 0h1m2 0h1m6 0h1m5 0h1m2 0h1m2 0h1m4 0h1m2 0h1m7 0h1m3 0h1m7 0h1m9 0h2m8 0h1m2 0h2m4 0h1m5 0h2m3 0h2m4 0h1m10 0h1m8 0h1m3 0h1m1 0h1m1 0h1m14 0h2m4 0h1m4 0h1m1 0h1m5 0h2m3 0h1m4 0h1m1 0h2m2 0h1m3 0h1m2 0h2m20 0h1m4 0h1m7 0h2m4 0h1m3 0h1m3 0h1m1 0h1M28 879.5h1m5 0h1m15 0h1m8 0h1m16 0h1m6 0h2m5 0h1m7 0h1m7 0h1m1 0h1m1 0h3m12 0h1m12 0h1m6 0h1m4 0h1m12 0h2m33 0h2m10 0h1m27 0h1m28 0h2m25 0h1m1 0h1m4 0h1m2 0h1m6 0h1m12 0h1m5 0h1m3 0h1m2 0h2m3 0h1m5 0h1m10 0h1m18 0h1m25 0h1m1 0h1m5 0h1m3 0h1m6 0h1m2 0h1m12 0h1m32 0h1m2 0h1m2 0h2m4 0h1m4 0h1m4 0h1m4 0h1"/>
<path class="q8" d="M2 876.5h1m5 0h1m6 0h1m2 0h1m9 0h1m7 0h1m5 0h1m18 0h1m2 0h2m1 0h3m12 0h1m8 0h1m12 0h1m1 0h1m3 0h2m4 0h1m1 0h1m13 0h1m3 0h1m3 0h1m9 0h1m1 0h1m18 0h1m13 0h1m2 0h1m1 0h1m3 0h1m8 0h1m19 0h1m5 0h1m4 0h1m9 0h1m10 0h1m2 0h1m29 0h3m3 0h1m2 0h1m15 0h1m1 0h1m2 0h1m5 0h2m6 0h1m5 0h1m5 0h1m5 0h2m2 0h1m9 0h1m1 0h2m8 0h1m13 0h1m1 0h1m5 0h1m1 0h1m3 0h1m1 0h1m7 0h1m3 0h1m2 0h1m4 0h1m6 0h1m2 0h1m14 0h1m7 0h1m2 0h1m7 0h1m2 0h1m21 0h1M10 879.5h1m1 0h1m43 0h1m16 0h1m11 0h1m17 0h1m80 0h1m4 0h2m46 0h1m2 0h1m14 0h1m39 0h1m19 0h1m19 0h1m8 0h1m18 0h1m12 0h1m22 0h1m19 0h1m1 0h2m4 0h1m1 0h1m23 0h1m12 0h1"/>
<path class="q10" d="M9 876.5h1m17 0h1m4 0h1m6 0h1m1 0h1m36 0h1m10 0h1m37 0h1m14 0h1m1 0h1m1 0h1m6 0h1m29 0h1m8 0h1m31 0h1m6 0h1m4 0h1m3 0h1m1 0h1m5 0h1m34 0h1m11 0h1m57 0h1m3 0h1m1 0h1m3 0h1m13 0h1m4 0h1m26 0h2m28 0h1m2 0h1m6 0h1m3 0h1m4 0h1m2 0h1m6 0h1m19 0h2m9 0h1M316 879.5h1m41 0h1m59 0h1"/>
<path class="q12" d="M26 876.5h1m33 0h1m98 0h1m12 0h1m8 0h1m65 0h1m13 0h1m52 0h1m60 0h1m64 0h1M63 879.5h1"/>
<path class="q14" d="M29 876.5h1m8 0h1m34 0h1m110 0h1m198 0h1m3 0h1"/>
<path class="q16" d="M139 876.5h1m58 0h1m235 0h1m25 0h1"/>
<path class="q18" d="M352 876.5h1"/>
</g>
<g stroke-width="3.1">
<path class="q2" d="M12 870.35h1m65 0h1m25 0h1m39 0h1m19 0h1m11 0h1m5 0h1m4 0h1m11 0h1m4 0h1m21 0h1m19 0h1m76 0h1m14 0h1m41 0h1m28 0h1m3 0h1m3 0h1m11 0h1m4 0h1m34 0h1m13 0h1M16 873.45h1m15 0h1m4 0h1m42 0h1m6 0h1m16 0h1m243 0h1m6 0h2m11 0h1m41 0h2m74 0h1"/>
<path class="q4" d="M1 870.35h2m8 0h1m4 0h1m14 0h1m4 0h2m8 0h1m2 0h1m20 0h1m3 0h2m8 0h1m14 0h1m20 0h1m22 0h1m11 0h1m11 0h1m7 0h1m7 0h2m6 0h3m6 0h1m2 0h1m7 0h1m39 0h1m14 0h1m8 0h1m38 0h1m2 0h1m13 0h1m8 0h1m6 0h1m2 0h1m16 0h1m4 0h1m9 0h1m6 0h1m12 0h1m8 0h1m2 0h1m4 0h1m22 0h1m18 0h1m3 0h1m12 0h1m10 0h1m1 0h1M17 873.45h1m1 0h1m19 0h1m3 0h1m8 0h1m1 0h1m6 0h1m40 0h1m7 0h1m5 0h2m14 0h1m3 0h1m2 0h1m12 0h1m52 0h1m53 0h1m33 0h1m17 0h1m8 0h1m48 0h1m5 0h1m18 0h1m6 0h1m4 0h1m7 0h1m3 0h1m29 0h1m44 0h1"/>
<path class="q6" d="M5 870.35h1m4 0h1m3 0h1m7 0h2m10 0h1m31 0h4m6 0h2m5 0h1m2 0h2m9 0h1m4 0h1m2 0h1m26 0h2m1 0h2m1 0h2m2 0h1m13 0h2m2 0h1m4 0h1m6 0h1m1 0h1m4 0h1m5 0h1m3 0h2m5 0h1m1 0h1m2 0h1m18 0h1m8 0h1m8 0h2m1 0h1m8 0h1m3 0h2m4 0h1m3 0h2m4 0h3m6 0h1m3 0h1m15 0h1m8 0h1m2 0h1m8 0h3m2 0h1m3 0h1m15 0h1m3 0h1m9 0h2m9 0h1m6 0h1m7 0h1m11 0h1m7 0h1m25 0h1m3 0h1m8 0h1m5 0h1m12 0h1m2 0h1m1 0h1m5 0h1m6 0h1m2 0h3m1 0h1m5 0h1M23 873.45h1m26 0h1m27 0h1m20 0h1m1 0h1m11 0h1m5 0h1m11 0h1m1 0h1m4 0h1m19 0h2m8 0h1m2 0h1m8 0h1m8 0h1m5 0h1m15 0h1m11 0h1m16 0h1m10 0h1m15 0h1m5 0h1m7 0h2m5 0h1m2 0h1m4 0h1m16 0h2m8 0h1m15 0h2m10 0h1m5 0h1m1 0h1m4 0h1m19 0h1m1 0h1m4 0h1m10 0h1m18 0h1m4 0h1m4 0h1m15 0h1m2 0h1m5 0h1m4 0h1m10 0h1m4 0h1m3 0h1m3 0h1"/>
<path class="q8" d="M19 870.35h1m4 0h1m7 0h2m9 0h3m5 0h2m9 0h1m9 0h1m7 0h2m6 0h1m1 0h1m1 0h2m4 0h1m9 0h2m5 0h1m3 0h1m4 0h2m3 0h2m6 0h1m10 0h1m3 0h1m5 0h1m4 0h1m5 0h2m10 0h1m12 0h1m7 0h1m3 0h1m1 0h2m2 0h1m4 0h2m8 0h1m3 0h1m2 0h1m2 0h1m9 0h1m4 0h2m2 0h2m1 0h1m8 0h2m4 0h1m1 0h1m4 0h1m14 0h2m5 0h1m37 0h2m13 0h2m7 0h1m10 0h1m10 0h1m2 0h1m4 0h1m7 0h2m1 0h1m13 0h1m3 0h1m3 0h1m3 0h1m5 0h1m8 0h2m2 0h1m5 0h2m1 0h1m3 0h1m12 0h1m2 0h1m1 0h1m4 0h1m2 0h1m4 0h1M5 873.45h1m1 0h1m6 0h1m6 0h1m11 0h1m4 0h1m16 0h1m3 0h1m17 0h1m5 0h1m6 0h1m7 0h1m8 0h1m4 0h1m2 0h1m4 0h2m1 0h1m10 0h1m6 0h1m14 0h1m3 0h1m11 0h1m1 0h1m9 0h1m3 0h1m9 0h1m3 0h3m1 0h1m2 0h1m17 0h1m2 0h1m5 0h1m8 0h1m2 0h1m1 0h1m7 0h1m4 0h1m5 0h1m9 0h1m9 0h2m6 0h1m1 0h1m1 0h1m4 0h2m14 0h1m2 0h1m8 0h3m13 0h1m3 0h1m10 0h2m11 0h2m8 0h1m1 0h1m5 0h1m2 0h1m7 0h1m1 0h1m7 0h1m5 0h1m1 0h1m11 0h1m11 0h1m14 0h1m4 0h2m2 0h1m20 0h1m2 0h1"/>
<path class="q10" d="M6 870.35h1m1 0h2m7 0h1m8 0h1m13 0h1m6 0h1m2 0h1m2 0h1m1 0h1m9 0h1m7 0h1m5 0h1m2 0h1m6 0h1m1 0h1m2 0h1m1 0h1m4 0h1m11 0h1m2 0h1m4 0h1m1 0h1m4 0h1m12 0h1m4 0h1m6 0h2m4 0h1m18 0h1m7 0h1m8 0h1m14 0h1m2 0h1m5 0h1m5 0h1m14 0h1m2 0h1m5 0h1m11 0h1m1 0h1m9 0h1m4 0h1m5 0h1m22 0h1m7 0h1m3 0h1m10 0h1m2 0h1m3 0h1m1 0h1m6 0h1m1 0h1m2 0h1m1 0h1m7 0h1m1 0h1m4 0h2m5 0h1m2 0h1m9 0h1m2 0h1m8 0h1m6 0h2m3 0h1m3 0h1m1 0h1m11 0h1m10 0h1m10 0h2m2 0h1m13 0h2m4 0h1m2 0h1m13 0h1m5 0h1M1 873.45h2m27 0h2m4 0h1m4 0h2m1 0h4m14 0h1m9 0h1m2 0h1m8 0h1m3 0h1m2 0h1m13 0h1m3 0h1m16 0h3m8 0h1m5 0h1m5 0h1m1 0h1m3 0h1m1 0h1m5 0h1m1 0h1m4 0h1m7 0h1m33 0h1m1 0h1m4 0h1m2 0h1m9 0h1m9 0h1m3 0h1m9 0h1m3 0h2m13 0h2m3 0h1m2 0h1m2 0h1m13 0h1m4 0h1m2 0h1m6 0h1m11 0h1m4 0h2m7 0h1m5 0h1m10 0h1m2 0h1m1 0h1m6 0h1m9 0h1m2 0h1m1 0h1m3 0h1m5 0h1m7 0h2m3 0h1m20 0h1m2 0h1m8 0h1m2 0h1m6 0h2m7 0h1m1 0h1m2 0h1m5 0h1m2 0h1m3 0h3m14 0h2"/>
<path class="q12" d="M0 870.35h1m12 0h1m11 0h1m1 0h3m12 0h1m5 0h1m5 0h1m2 0h2m2 0h1m2 0h1m6 0h1m31 0h1m2 0h1m7 0h1m2 0h1m16 0h1m26 0h1m11 0h1m3 0h1m10 0h1m16 0h1m1 0h1m13 0h1m1 0h1m4 0h1m3 0h2m10 0h1m3 0h1m9 0h1m18 0h1m9 0h2m1 0h1m3 0h2m6 0h1m15 0h1m5 0h1m3 0h1m5 0h1m9 0h1m9 0h1m7 0h1m1 0h1m1 0h1m12 0h1m6 0h1m11 0h1m22 0h2m3 0h1m6 0h1m2 0h1m2 0h1m3 0h1m10 0h2m19 0h1m20 0h2M4 873.45h1m1 0h1m1 0h2m1 0h1m3 0h1m4 0h1m3 0h4m1 0h1m19 0h1m1 0h1m1 0h1m11 0h1m3 0h1m4 0h1m14 0h1m5 0h1m1 0h1m13 0h1m6 0h1m16 0h1m8 0h1m8 0h1m7 0h1m4 0h1m9 0h1m4 0h1m1 0h1m1 0h2m4 0h1m5 0h1m12 0h1m2 0h1m3 0h1m13 0h1m3 0h1m2 0h1m14 0h1m1 0h1m9 0h1m2 0h1m2 0h1m2 0h1m3 0h1m5 0h2m1 0h1m6 0h2m8 0h1m5 0h1m1 0h1m8 0h1m4 0h1m4 0h1m5 0h1m6 0h1m1 0h1m2 0h1m2 0h1m9 0h1m4 0h1m5 0h1m26 0h1m14 0h1m3 0h1m4 0h1m5 0h1m3 0h1m1 0h1m1 0h1m7 0h1m11 0h1m4 0h1m2 0h2m8 0h1m13 0h1"/>
<path class="q14" d="M20 870.35h1m17 0h1m17 0h1m6 0h1m36 0h1m6 0h1m2 0h3m9 0h1m3 0h1m4 0h1m8 0h1m9 0h2m16 0h1m45 0h1m21 0h1m5 0h1m19 0h1m4 0h1m17 0h2m2 0h1m2 0h1m7 0h1m3 0h3m2 0h1m2 0h1m13 0h1m8 0h2m15 0h1m18 0h1m9 0h1m1 0h2m14 0h1m10 0h1m14 0h1m1 0h1m12 0h1m5 0h1m2 0h1m17 0h1m4 0h2m18 0h1m5 0h1M12 873.45h1m5 0h1m3 0h1m17 0h1m16 0h1m8 0h3m12 0h1m10 0h2m9 0h1m21 0h1m3 0h2m9 0h1m1 0h1m7 0h1m3 0h1m20 0h1m6 0h1m4 0h1m2 0h1m1 0h2m2 0h1m3 0h2m14 0h1m9 0h1m12 0h1m1 0h1m2 0h1m4 0h1m16 0h1m5 0h1m4 0h1m24 0h1m13 0h1m1 0h1m5 0h1m35 0h1m16 0h1m9 0h1m4 0h1m5 0h1m14 0h1m6 0h1m1 0h1m19 0h1m2 0h1m7 0h1m1 0h1m3 0h1m8 0h1m13 0h3m6 0h2m6 0h1"/>
<path class="q16" d="M15 870.35h1m2 0h1m20 0h1m20 0h1m24 0h1m9 0h1m49 0h1m1 0h1m14 0h1m8 0h1m8 0h1m41 0h1m12 0h1m9 0h1m52 0h1m11 0h1m2 0h1m13 0h1m4 0h1m25 0h1m14 0h2m19 0h1M0 873.45h1m72 0h1m20 0h1m5 0h1m44 0h1m1 0h1m25 0h1m25 0h1m18 0h1m2 0h1m11 0h2m22 0h1m6 0h1m27 0h1m10 0h1m5 0h1m7 0h1m10 0h1m13 0h1m10 0h1m17 0h2m1 0h1m1 0h1m16 0h1m18 0h1m27 0h1m2 0h1m10 0h1m20 0h1m11 0h2m9 0h1"/>
<path class="q18" d="M4 870.35h1m25 0h1m4 0h1m23 0h1m58 0h1m97 0h1m7 0h1m5 0h1m112 0h1m49 0h1m2 0h1m4 0h1m13 0h1m7 0h1m13 0h1M3 873.45h1m9 0h1m21 0h1m12 0h1m9 0h1m1 0h1m3 0h1m5 0h2m4 0h1m2 0h1m2 0h1m2 0h1m28 0h1m7 0h1m39 0h1m1 0h1m2 0h1m9 0h1m1 0h1m14 0h1m25 0h1m8 0h1m22 0h1m1 0h1m7 0h1m7 0h1m58 0h2m12 0h1m1 0h1m36 0h1m33 0h1m10 0h1m11 0h1"/>
<path class="q20" d="M7 870.35h1m13 0h1m260 0h1m8 0h1m1 0h1m7 0h1m157 0h1m2 0h1M10 873.45h1m23 0h1m61 0h1m11 0h1m37 0h1m1 0h1m20 0h1m37 0h2m16 0h1m21 0h1m90 0h1m94 0h1m1 0h1"/>
<path class="q22" d="M3 870.35h1m123 0h1m38 0h1m48 0h1m139 0h1m36 0h1M56 873.45h1m6 0h1m22 0h1m37 0h1m99 0h1m3 0h1m69 0h1m98 0h1"/>
<path class="q24" d="M28 873.45h1m77 0h1m108 0h1m21 0h1m81 0h1m137 0h1"/>
<path class="q26" d="M405 873.45h1"/>
<path class="q30" d="M243 873.45h1m184 0h1"/>
</g>
<g stroke-width="3.3">
<path class="q2" d="M37 234.65h1m13 0h1m19 0h1m6 0h1m14 0h1m20 0h1m5 0h1m1 0h1m7 0h1m7 0h1m1 0h1m12 0h1m4 0h1m5 0h2m35 0h1m4 0h1m1 0h2m1 0h1m5 0h1m21 0h1m15 0h1m25 0h2m4 0h1m33 0h2m5 0h1m16 0h1m27 0h2m17 0h1m4 0h1m7 0h1m4 0h1m8 0h1m8 0h4m4 0h2m9 0h1m4 0h1m6 0h1m1 0h2m1 0h1m1 0h1m8 0h2m13 0h1"/>
<path class="q4" d="M6 234.65h1m1 0h1m1 0h1m1 0h1m5 0h1m2 0h3m1 0h2m1 0h1m13 0h1m1 0h1m1 0h1m6 0h1m4 0h1m11 0h1m1 0h1m3 0h1m15 0h1m12 0h1m7 0h1m12 0h1m1 0h1m3 0h1m1 0h1m1 0h1m7 0h1m1 0h1m3 0h1m8 0h1m3 0h1m5 0h1m2 0h2m1 0h2m1 0h1m1 0h1m5 0h2m2 0h1m1 0h1m2 0h1m3 0h1m2 0h2m1 0h1m7 0h1m6 0h1m12 0h1m3 0h1m24 0h1m3 0h2m1 0h1m8 0h2m12 0h1m14 0h2m4 0h1m1 0h1m1 0h1m2 0h1m5 0h1m8 0h1m5 0h1m6 0h1m2 0h2m9 0h1m14 0h1m9 0h1m8 0h1m10 0h1m4 0h2m2 0h3m2 0h1m5 0h1m13 0h1m1 0h1m11 0h1m1 0h2m14 0h1m3 0h1m2 0h1m3 0h1"/>
<path class="q6" d="M0 234.65h2m7 0h1m1 0h1m1 0h1m2 0h1m17 0h1m3 0h1m4 0h1m5 0h2m4 0h1m8 0h1m1 0h1m1 0h1m8 0h1m5 0h2m1 0h1m7 0h5m4 0h1m6 0h1m8 0h1m9 0h1m17 0h3m10 0h1m5 0h2m9 0h1m3 0h1m6 0h1m11 0h1m6 0h1m2 0h1m1 0h1m5 0h1m2 0h1m4 0h1m5 0h1m2 0h2m5 0h1m1 0h1m1 0h1m6 0h1m5 0h1m1 0h1m11 0h1m2 0h1m3 0h1m8 0h1m6 0h2m2 0h1m1 0h1m3 0h1m4 0h1m13 0h1m7 0h2m2 0h1m22 0h1m3 0h1m3 0h1m14 0h1m5 0h3m1 0h1m4 0h1m10 0h1m4 0h1m23 0h3m1 0h1m6 0h1m4 0h1m1 0h1m8 0h1m3 0h1m1 0h1m2 0h1m4 0h1m8 0h1m4 0h4m2 0h1"/>
<path class="q8" d="M3 234.65h1m1 0h1m9 0h1m15 0h1m1 0h1m2 0h1m8 0h1m13 0h1m9 0h1m5 0h1m4 0h3m4 0h3m9 0h1m4 0h1m1 0h1m1 0h2m5 0h1m8 0h1m2 0h1m3 0h1m1 0h1m3 0h1m3 0h2m2 0h1m8 0h2m6 0h1m19 0h1m13 0h3m17 0h1m7 0h2m12 0h1m6 0h1m4 0h1m1 0h1m3 0h1m11 0h1m1 0h1m1 0h1m1 0h1m2 0h1m5 0h1m1 0h2m11 0h1m4 0h1m5 0h1m6 0h1m1 0h1m5 0h1m2 0h1m11 0h2m2 0h1m9 0h1m3 0h2m10 0h1m8 0h1m1 0h1m1 0h1m1 0h2m8 0h2m7 0h2m1 0h1m17 0h1m9 0h2m8 0h1m3 0h1m37 0h2m10 0h1"/>
<path class="q10" d="M7 234.65h1m6 0h1m5 0h1m8 0h1m11 0h1m6 0h1m3 0h1m1 0h1m6 0h3m1 0h1m1 0h1m17 0h1m4 0h2m9 0h2m20 0h1m1 0h1m26 0h1m36 0h1m1 0h1m1 0h2m20 0h1m6 0h1m17 0h1m7 0h1m2 0h1m2 0h1m2 0h1m2 0h1m10 0h1m19 0h1m7 0h1m10 0h1m3 0h1m4 0h1m10 0h1m7 0h1m11 0h1m8 0h1m3 0h1m22 0h1m1 0h1m19 0h1m2 0h1m10 0h2m1 0h1m19 0h1m14 0h1m6 0h2m1 0h1m11 0h2m1 0h1m3 0h1m1 0h1"/>
<path class="q12" d="M4 234.65h1m25 0h1m1 0h1m2 0h1m11 0h1m8 0h1m3 0h1m18 0h1m31 0h2m4 0h1m21 0h1m3 0h1m7 0h1m9 0h1m9 0h1m2 0h1m4 0h1m4 0h2m18 0h1m18 0h1m4 0h1m2 0h1m11 0h1m5 0h1m8 0h1m5 0h1m10 0h1m8 0h1m9 0h2m8 0h1m7 0h1m18 0h2m11 0h1m9 0h2m9 0h3m2 0h2m4 0h1m4 0h1m17 0h1m2 0h1m50 0h1m9 0h1m8 0h1m5 0h1m18 0h1"/>
<path class="q14" d="M17 234.65h1m9 0h1m11 0h1m17 0h1m16 0h1m25 0h1m56 0h1m10 0h1m1 0h1m48 0h1m43 0h1m1 0h1m27 0h1m42 0h1m10 0h1m13 0h1m17 0h1m20 0h2m24 0h1m6 0h1m12 0h1m34 0h1"/>
<path class="q16" d="M116 234.65h1m1 0h1m169 0h1m12 0h1m44 0h1m9 0h1m15 0h1m42 0h1"/>
<path class="q18" d="M19 234.65h1m53 0h1m33 0h1m75 0h1m45 0h1m17 0h1m42 0h1m58 0h1"/>
</g>
<g stroke-width="3.4">
<path class="q2" d="M1 353.9h1m1 0h1m3 0h3m2 0h1m1 0h1m2 0h4m2 0h2m1 0h3m8 0h1m1 0h1m1 0h1m1 0h2m6 0h1m2 0h1m2 0h1m2 0h1m4 0h2m1 0h3m2 0h1m5 0h2m1 0h1m4 0h1m2 0h1m1 0h1m3 0h1m4 0h1m4 0h1m1 0h2m2 0h1m1 0h2m3 0h1m3 0h3m1 0h1m2 0h1m1 0h1m2 0h1m4 0h1m1 0h1m1 0h2m7 0h1m2 0h2m4 0h1m2 0h2m12 0h1m1 0h1m1 0h1m7 0h1m5 0h5m5 0h2m1 0h3m1 0h1m1 0h2m10 0h1m25 0h2m1 0h1m1 0h1m2 0h1m1 0h2m2 0h1m3 0h1m2 0h1m2 0h1m3 0h1m1 0h1m5 0h1m1 0h1m2 0h1m2 0h1m3 0h1m3 0h2m4 0h1m2 0h1m1 0h1m1 0h4m1 0h1m10 0h1m3 0h2m1 0h2m2 0h1m2 0h2m1 0h1m7 0h1m6 0h1m2 0h1m1 0h1m7 0h1m5 0h1m2 0h1m4 0h1m3 0h1m2 0h1m2 0h1m1 0h1m1 0h2m2 0h1m6 0h2m1 0h1m2 0h1m4 0h1m2 0h2m6 0h2m2 0h1m4 0h2m1 0h2m10 0h1m1 0h1m6 0h1m7 0h1m1 0h1m2 0h3m3 0h1"/>
<path class="q4" d="M4 353.9h1m1 0h1m4 0h1m4 0h1m4 0h1m3 0h1m3 0h1m6 0h1m3 0h1m8 0h1m2 0h1m9 0h1m1 0h1m12 0h2m2 0h1m2 0h1m1 0h1m4 0h1m2 0h1m2 0h1m7 0h1m1 0h1m3 0h1m14 0h1m4 0h1m6 0h2m9 0h1m8 0h1m1 0h1m2 0h1m4 0h1m7 0h1m1 0h1m1 0h1m3 0h2m1 0h1m4 0h2m1 0h1m7 0h1m1 0h1m9 0h1m16 0h1m6 0h3m1 0h4m1 0h2m2 0h2m7 0h1m11 0h2m2 0h1m2 0h2m3 0h2m2 0h1m6 0h1m2 0h3m1 0h3m2 0h1m1 0h1m2 0h2m1 0h1m8 0h2m1 0h1m8 0h1m3 0h1m5 0h1m7 0h2m1 0h2m1 0h1m2 0h1m3 0h1m2 0h1m2 0h1m10 0h1m1 0h1m3 0h1m1 0h1m1 0h1m6 0h1m2 0h1m1 0h1m8 0h1m6 0h1m11 0h1m3 0h2m2 0h2m2 0h1m4 0h1m4 0h1m11 0h2m5 0h2m2 0h1m2 0h1m1 0h1m10 0h1m1 0h1"/>
<path class="q6" d="M2 353.9h1m7 0h1m22 0h1m1 0h1m6 0h1m12 0h1m2 0h1m4 0h1m7 0h1m3 0h1m12 0h1m4 0h1m4 0h1m5 0h1m5 0h1m7 0h1m1 0h1m8 0h1m3 0h1m3 0h1m13 0h2m2 0h1m8 0h1m2 0h1m1 0h1m3 0h1m14 0h1m1 0h1m3 0h1m7 0h1m15 0h1m3 0h1m7 0h2m1 0h2m1 0h3m11 0h2m24 0h1m14 0h1m2 0h1m32 0h1m1 0h2m3 0h1m9 0h2m5 0h1m11 0h1m1 0h2m2 0h1m8 0h1m2 0h3m12 0h2m1 0h2m10 0h1m5 0h1m13 0h1m4 0h1m18 0h2m3 0h1m1 0h1m1 0h1m7 0h2m17 0h2m1 0h1m2 0h1m1 0h1"/>
<path class="q8" d="M5 353.9h1m7 0h1m18 0h1m5 0h1m17 0h1m42 0h1m34 0h1m1 0h1m11 0h1m23 0h1m1 0h1m21 0h1m7 0h1m8 0h1m5 0h2m4 0h1m3 0h1m5 0h1m11 0h1m8 0h1m10 0h1m1 0h2m17 0h1m34 0h1m12 0h1m36 0h1m1 0h1m27 0h1m6 0h1m2 0h1m1 0h1m2 0h1m7 0h2m9 0h1m21 0h1m1 0h1m6 0h1m2 0h1m7 0h1"/>
<path class="q10" d="M59 353.9h1m25 0h1m3 0h1m26 0h1m5 0h1m86 0h1m11 0h1m1 0h1m34 0h1m1 0h1m22 0h1m25 0h1m1 0h1m6 0h1m29 0h1m5 0h1m2 0h1m34 0h1m21 0h1m34 0h1m16 0h1"/>
<path class="q12" d="M224 353.9h1m72 0h1"/>
<path class="q14" d="M390 353.9h1"/>
</g>
<g stroke-width="3.7">
<path class="q2" d="M37 223.35h1m37 0h1m404 0h1"/>
<path class="q4" d="M0 223.35h1m11 0h1m7 0h1m35 0h1m38 0h1m4 0h1m207 0h1m10 0h1m38 0h1m20 0h1m34 0h1m15 0h1m4 0h1m1 0h1m39 0h1"/>
<path class="q6" d="M7 223.35h1m1 0h1m5 0h1m8 0h1m1 0h1m14 0h1m24 0h1m18 0h1m4 0h1m2 0h1m7 0h1m31 0h1m3 0h1m34 0h1m2 0h1m35 0h1m8 0h1m27 0h1m9 0h1m37 0h1m8 0h1m19 0h1m40 0h1m10 0h1m8 0h1m2 0h1m22 0h1m19 0h1m1 0h1m10 0h1m29 0h1"/>
<path class="q8" d="M19 223.35h1m13 0h1m1 0h1m19 0h1m13 0h1m3 0h1m14 0h2m1 0h1m7 0h1m2 0h1m8 0h1m1 0h1m3 0h2m4 0h1m25 0h1m14 0h1m5 0h1m8 0h1m6 0h1m47 0h1m3 0h1m6 0h1m20 0h3m3 0h1m2 0h1m4 0h1m13 0h1m5 0h1m6 0h1m31 0h1m27 0h1m7 0h1m5 0h1m1 0h1m43 0h1m19 0h1m2 0h1m2 0h1m1 0h1m6 0h2m6 0h1m7 0h1"/>
<path class="q10" d="M1 223.35h1m4 0h1m11 0h1m9 0h1m9 0h1m6 0h1m4 0h1m17 0h1m9 0h2m7 0h1m33 0h1m8 0h1m14 0h2m1 0h1m3 0h1m1 0h1m21 0h1m7 0h1m10 0h1m3 0h1m27 0h1m1 0h1m1 0h1m1 0h1m3 0h1m3 0h1m4 0h1m5 0h1m1 0h1m15 0h2m1 0h1m17 0h1m34 0h1m10 0h1m7 0h1m8 0h3m2 0h1m3 0h1m5 0h1m10 0h1m7 0h1m8 0h1m2 0h1m3 0h1m10 0h1m5 0h2m8 0h1m7 0h1m4 0h1m19 0h2m10 0h1m2 0h1m15 0h1"/>
<path class="q12" d="M5 223.35h1m15 0h1m5 0h1m2 0h1m1 0h1m34 0h1m8 0h1m5 0h1m3 0h1m5 0h1m1 0h1m10 0h1m6 0h1m1 0h3m9 0h2m10 0h2m20 0h1m1 0h1m2 0h1m7 0h2m3 0h1m43 0h1m1 0h1m3 0h1m7 0h1m3 0h1m3 0h1m12 0h1m19 0h1m4 0h1m4 0h1m9 0h3m3 0h1m6 0h1m10 0h1m7 0h2m3 0h1m3 0h1m2 0h1m5 0h1m24 0h1m9 0h1m7 0h1m1 0h3m6 0h2m3 0h1m17 0h1m4 0h1m3 0h1m7 0h1m14 0h1m1 0h1m1 0h2m6 0h1m5 0h1m6 0h1m1 0h1m2 0h1m5 0h1"/>
<path class="q14" d="M2 223.35h3m3 0h1m2 0h1m1 0h1m2 0h1m14 0h1m2 0h1m7 0h1m6 0h1m3 0h1m27 0h1m21 0h2m14 0h2m7 0h1m6 0h2m5 0h3m2 0h1m2 0h1m2 0h1m1 0h1m10 0h2m9 0h1m2 0h1m6 0h1m9 0h2m11 0h1m1 0h1m6 0h1m12 0h1m17 0h1m4 0h1m3 0h2m4 0h1m12 0h1m2 0h1m6 0h1m20 0h1m3 0h1m1 0h2m1 0h1m5 0h1m6 0h1m3 0h1m12 0h1m4 0h1m6 0h1m13 0h1m10 0h1m24 0h1m2 0h1m29 0h1m10 0h1m2 0h1m1 0h1m6 0h1m6 0h1m10 0h1m2 0h1m1 0h1"/>
<path class="q16" d="M14 223.35h1m21 0h1m17 0h1m7 0h1m8 0h1m2 0h1m2 0h1m5 0h1m24 0h1m23 0h1m23 0h1m2 0h1m8 0h2m12 0h1m8 0h1m8 0h2m15 0h1m5 0h1m2 0h1m16 0h1m3 0h1m15 0h2m4 0h1m14 0h1m17 0h1m1 0h1m7 0h1m9 0h1m9 0h1m3 0h1m3 0h1m9 0h1m13 0h2m18 0h1m2 0h1m3 0h1m3 0h1m3 0h1m3 0h1m14 0h1m6 0h1m25 0h1m33 0h1m7 0h1m5 0h1"/>
<path class="q18" d="M22 223.35h2m1 0h1m17 0h1m13 0h1m5 0h1m32 0h1m1 0h1m7 0h2m2 0h1m23 0h1m22 0h1m23 0h1m6 0h1m3 0h1m13 0h1m6 0h2m3 0h1m11 0h1m18 0h1m11 0h1m21 0h1m8 0h1m21 0h1m2 0h1m5 0h1m4 0h1m4 0h1m8 0h1m6 0h1m2 0h1m17 0h1m2 0h1m2 0h1m19 0h1m1 0h1m12 0h1m7 0h1m6 0h1m19 0h1m35 0h1m14 0h2"/>
<path class="q20" d="M17 223.35h1m26 0h1m2 0h1m4 0h1m7 0h1m19 0h1m28 0h1m21 0h1m19 0h1m11 0h1m7 0h1m13 0h1m18 0h1m4 0h1m5 0h1m5 0h1m17 0h1m2 0h1m10 0h1m31 0h2m24 0h1m50 0h1m8 0h1m6 0h1m49 0h1m19 0h1m3 0h1m16 0h1m1 0h2m15 0h1m1 0h1"/>
<path class="q22" d="M39 223.35h1m6 0h1m18 0h1m6 0h1m24 0h1m26 0h1m15 0h1m17 0h1m44 0h1m1 0h1m1 0h2m26 0h1m20 0h1m22 0h1m15 0h1m10 0h1m39 0h1m4 0h1m5 0h1m3 0h1m43 0h1m10 0h2m2 0h1m75 0h1"/>
<path class="q24" d="M29 223.35h1m10 0h1m10 0h1m9 0h1m2 0h1m5 0h1m13 0h1m37 0h1m18 0h1m48 0h1m2 0h1m22 0h1m34 0h1m10 0h1m11 0h1m26 0h1m42 0h1m23 0h1m40 0h1m32 0h1m6 0h1m17 0h1"/>
<path class="q26" d="M10 223.35h1m47 0h1m66 0h1m57 0h1m5 0h1m6 0h1m5 0h1m73 0h1m12 0h1m30 0h1m6 0h1m15 0h1m63 0h1m30 0h1m52 0h1m2 0h1"/>
<path class="q28" d="M48 223.35h1m80 0h1m31 0h1m32 0h1m98 0h1m114 0h1m14 0h1m12 0h1m3 0h1"/>
<path class="q30" d="M59 223.35h1m230 0h1"/>
</g>
<g stroke-width="3.8">
<path class="q2" d="M2 411.1h1m1 0h1m3 0h2m4 0h3m2 0h1m2 0h1m2 0h1m8 0h2m9 0h2m4 0h2m3 0h1m8 0h1m16 0h1m6 0h2m3 0h3m3 0h1m4 0h1m9 0h1m4 0h1m9 0h2m13 0h1m1 0h1m14 0h1m1 0h2m7 0h1m14 0h1m2 0h2m21 0h1m1 0h1m2 0h1m18 0h1m11 0h1m8 0h1m5 0h1m3 0h1m1 0h1m4 0h1m2 0h1m12 0h1m1 0h1m8 0h2m3 0h2m1 0h1m1 0h1m8 0h2m5 0h1m3 0h1m2 0h2m4 0h1m1 0h1m4 0h1m4 0h1m5 0h1m1 0h1m3 0h1m4 0h2m3 0h1m6 0h1m7 0h1m1 0h1m9 0h1m1 0h1m4 0h1m1 0h1m8 0h1m3 0h1m9 0h1m2 0h1m2 0h1m3 0h1m1 0h1m4 0h1m2 0h1m4 0h1m3 0h1m1 0h1m3 0h1m1 0h1m13 0h1m9 0h1M4 866.9h2m4 0h1m3 0h1m4 0h1m6 0h1m4 0h1m12 0h4m3 0h1m11 0h1m2 0h1m2 0h1m18 0h1m1 0h1m1 0h1m1 0h2m5 0h1m2 0h1m2 0h1m1 0h1m14 0h2m3 0h1m3 0h1m2 0h1m2 0h3m1 0h1m2 0h2m1 0h3m1 0h1m4 0h1m1 0h1m4 0h1m1 0h1m5 0h1m3 0h1m6 0h1m6 0h1m3 0h1m3 0h1m5 0h1m12 0h2m1 0h1m1 0h1m1 0h1m6 0h1m10 0h1m2 0h1m2 0h1m2 0h1m2 0h1m13 0h1m1 0h2m7 0h1m6 0h2m10 0h1m7 0h2m3 0h2m3 0h1m1 0h2m6 0h1m2 0h1m10 0h1m3 0h1m3 0h2m4 0h1m1 0h3m3 0h1m5 0h3m1 0h1m4 0h2m6 0h1m2 0h1m8 0h1m2 0h1m1 0h1m15 0h1m6 0h1m8 0h1m2 0h1m4 0h2m14 0h1m9 0h1m3 0h3m8 0h1m1 0h1m11 0h1"/>
<path class="q4" d="M0 411.1h1m9 0h1m9 0h2m5 0h1m1 0h1m1 0h1m5 0h2m3 0h1m7 0h1m8 0h1m3 0h2m1 0h1m4 0h1m8 0h1m4 0h1m6 0h1m9 0h3m6 0h3m7 0h3m5 0h1m3 0h1m1 0h1m5 0h3m7 0h2m6 0h1m1 0h1m1 0h1m2 0h2m11 0h2m5 0h1m6 0h5m12 0h1m6 0h2m10 0h3m4 0h1m2 0h1m1 0h3m2 0h1m8 0h1m1 0h2m1 0h1m9 0h1m1 0h1m8 0h2m10 0h1m3 0h2m3 0h1m7 0h1m4 0h2m1 0h2m8 0h1m1 0h1m3 0h1m3 0h1m1 0h2m1 0h1m1 0h1m5 0h1m1 0h1m14 0h1m1 0h1m8 0h1m4 0h1m9 0h1m4 0h4m3 0h3m2 0h1m2 0h1m1 0h2m2 0h1m2 0h1m2 0h1m1 0h1m20 0h1m1 0h1m10 0h1m2 0h1m2 0h1m4 0h2m5 0h1m1 0h1m6 0h2m1 0h2M1 866.9h1m1 0h1m2 0h1m1 0h2m1 0h2m3 0h1m3 0h2m2 0h1m3 0h3m4 0h2m4 0h1m8 0h1m5 0h1m2 0h2m6 0h1m2 0h2m2 0h2m1 0h3m4 0h3m6 0h1m4 0h1m7 0h1m1 0h1m2 0h2m1 0h1m1 0h1m2 0h1m6 0h1m4 0h1m6 0h1m5 0h1m17 0h2m4 0h2m2 0h1m1 0h1m4 0h2m4 0h1m2 0h1m1 0h1m2 0h1m2 0h1m6 0h1m10 0h3m10 0h2m4 0h2m3 0h2m2 0h1m2 0h1m5 0h1m1 0h2m1 0h2m3 0h3m10 0h1m1 0h1m8 0h1m6 0h1m4 0h2m12 0h1m2 0h3m1 0h1m2 0h1m1 0h1m1 0h2m6 0h1m1 0h2m1 0h1m3 0h1m4 0h1m3 0h3m2 0h1m4 0h1m2 0h1m1 0h1m28 0h1m4 0h1m6 0h2m2 0h1m1 0h1m20 0h1m1 0h1m9 0h1m4 0h1m5 0h1m8 0h1m1 0h1m1 0h3m3 0h3m1 0h1m2 0h1m4 0h2m1 0h1m1 0h1m1 0h1m3 0h1"/>
<path class="q6" d="M1 411.1h1m1 0h1m2 0h1m4 0h1m1 0h1m3 0h1m5 0h1m9 0h1m2 0h1m2 0h1m1 0h1m1 0h2m8 0h1m3 0h1m10 0h1m3 0h1m5 0h1m4 0h1m3 0h2m2 0h1m6 0h1m7 0h1m7 0h1m4 0h1m14 0h1m2 0h2m1 0h1m7 0h2m3 0h1m1 0h1m1 0h1m2 0h1m11 0h1m3 0h1m4 0h1m5 0h1m2 0h1m7 0h1m3 0h2m1 0h2m5 0h1m7 0h2m3 0h1m1 0h1m4 0h1m4 0h1m2 0h1m4 0h1m7 0h2m6 0h1m11 0h3m1 0h1m9 0h1m2 0h2m7 0h2m13 0h1m2 0h1m6 0h1m2 0h1m4 0h1m6 0h1m7 0h2m3 0h1m3 0h1m7 0h2m1 0h1m5 0h3m2 0h1m1 0h1m1 0h1m2 0h1m1 0h1m4 0h1m4 0h1m15 0h1m4 0h1m5 0h1m2 0h1m3 0h4m1 0h2m4 0h1m11 0h1m4 0h1m3 0h1m3 0h1m13 0h1m3 0h1m8 0h2M0 866.9h1m12 0h1m4 0h1m14 0h1m3 0h1m1 0h2m1 0h2m5 0h1m3 0h1m1 0h1m2 0h1m14 0h1m6 0h1m1 0h2m3 0h1m1 0h1m1 0h1m13 0h1m15 0h1m1 0h1m4 0h1m8 0h1m7 0h1m8 0h3m9 0h1m14 0h1m5 0h1m1 0h1m7 0h2m12 0h1m14 0h1m8 0h2m3 0h2m2 0h1m2 0h1m12 0h1m3 0h1m3 0h1m8 0h3m1 0h1m9 0h1m1 0h2m11 0h1m3 0h1m11 0h1m6 0h1m1 0h1m2 0h1m2 0h1m1 0h1m3 0h1m2 0h1m1 0h1m18 0h1m7 0h1m7 0h1m1 0h1m1 0h2m1 0h1m1 0h3m1 0h2m7 0h1m4 0h1m1 0h1m1 0h1m5 0h1m3 0h2m2 0h2m22 0h1m5 0h1m2 0h1m1 0h1m1 0h1m1 0h1m11 0h1m16 0h1"/>
<path class="q8" d="M18 411.1h1m7 0h1m1 0h1m26 0h1m2 0h1m10 0h1m3 0h1m3 0h1m1 0h1m4 0h1m1 0h1m20 0h1m2 0h1m14 0h1m18 0h1m9 0h1m15 0h1m4 0h1m1 0h1m11 0h1m10 0h1m3 0h1m2 0h2m2 0h1m3 0h1m8 0h1m8 0h1m13 0h1m3 0h2m3 0h1m6 0h1m3 0h1m12 0h1m3 0h1m1 0h1m2 0h1m11 0h1m3 0h1m1 0h1m18 0h1m4 0h1m3 0h1m10 0h1m10 0h1m5 0h1m13 0h1m11 0h2m13 0h1m35 0h1m9 0h1m2 0h1m2 0h1m4 0h1m7 0h1m1 0h1m3 0h1m1 0h3m7 0h1M27 866.9h1m4 0h1m5 0h1m13 0h1m12 0h1m2 0h1m7 0h1m26 0h1m6 0h1m4 0h1m1 0h2m1 0h1m1 0h1m12 0h1m12 0h1m8 0h1m6 0h1m5 0h2m10 0h1m3 0h1m20 0h1m4 0h2m6 0h1m1 0h1m7 0h1m27 0h1m6 0h1m1 0h1m5 0h1m15 0h1m10 0h1m1 0h1m6 0h1m18 0h1m3 0h1m7 0h1m3 0h1m15 0h1m1 0h1m19 0h1m8 0h1m12 0h1m1 0h1m9 0h1m13 0h2m8 0h2m5 0h1m1 0h1m3 0h1m6 0h1m21 0h1m2 0h1m1 0h1m2 0h1m6 0h1"/>
<path class="q10" d="M5 411.1h1m1 0h1m32 0h1m7 0h1m13 0h1m11 0h1m1 0h1m39 0h1m7 0h1m2 0h1m28 0h1m11 0h1m32 0h1m7 0h1m25 0h1m8 0h1m3 0h1m13 0h1m15 0h1m4 0h1m12 0h1m23 0h1m4 0h1m29 0h1m3 0h1m21 0h1m33 0h1m3 0h1m19 0h1m3 0h1m2 0h1m29 0h1m7 0h1m3 0h1m8 0h1m1 0h1M22 866.9h1m25 0h1m32 0h1m20 0h1m10 0h1m13 0h1m47 0h2m1 0h1m22 0h2m3 0h1m30 0h1m10 0h1m33 0h1m12 0h1m5 0h1m1 0h3m70 0h2m3 0h1m2 0h1m14 0h1m17 0h1m3 0h3m3 0h1m4 0h1m6 0h1m2 0h1m7 0h1m41 0h1"/>
<path class="q12" d="M24 411.1h1m7 0h1m14 0h1m12 0h1m14 0h1m17 0h1m14 0h1m8 0h2m17 0h1m9 0h1m3 0h1m18 0h1m1 0h1m11 0h1m29 0h1m9 0h1m25 0h1m18 0h1m89 0h1m2 0h1m26 0h1m40 0h1m28 0h1m39 0h1M23 866.9h1m30 0h1m77 0h1m28 0h1m21 0h1m10 0h1m9 0h1m70 0h1m20 0h1m71 0h1m11 0h1m37 0h1m37 0h1"/>
<path class="q14" d="M30 411.1h1m97 0h1m3 0h1m45 0h1m55 0h1M34 866.9h1m235 0h1m12 0h1m70 0h1"/>
<path class="q16" d="M228 411.1h1m56 0h1M2 866.9h1"/>
<path class="q18" d="M158 411.1h1m67 0h1m221 0h1"/>
</g>
<g stroke-width="4">
<path class="q2" d="M0 415h1m21 0h1m3 0h1m20 0h1m51 0h1m28 0h1m6 0h1m17 0h2m1 0h1m1 0h2m5 0h1m2 0h1m27 0h1m7 0h1m5 0h1m15 0h1m9 0h1m12 0h2m1 0h1m4 0h1m11 0h1m3 0h1m8 0h1m5 0h1m18 0h1m13 0h1m1 0h1m4 0h1m13 0h1m14 0h1m2 0h1m5 0h1m5 0h1m9 0h1m1 0h1m6 0h1m8 0h1m23 0h1m22 0h1m27 0h1m8 0h2m5 0h1"/>
<path class="q4" d="M13 415h2m6 0h1m2 0h2m1 0h2m1 0h1m11 0h2m13 0h1m1 0h1m5 0h1m2 0h2m15 0h1m4 0h1m2 0h2m8 0h1m5 0h2m18 0h1m12 0h2m3 0h1m4 0h1m11 0h1m19 0h1m4 0h1m1 0h1m1 0h1m5 0h1m8 0h1m13 0h3m2 0h1m5 0h1m8 0h3m13 0h1m7 0h1m4 0h1m14 0h2m9 0h1m2 0h1m3 0h1m3 0h1m4 0h2m4 0h2m5 0h1m23 0h1m1 0h1m3 0h1m5 0h1m5 0h1m7 0h1m25 0h1m4 0h2m1 0h1m4 0h1m10 0h2m1 0h1m7 0h1m1 0h1m10 0h1m1 0h1m1 0h2m2 0h1m5 0h1m14 0h1m2 0h1m6 0h1m2 0h1m1 0h1"/>
<path class="q6" d="M4 415h3m1 0h1m3 0h1m5 0h1m1 0h1m8 0h1m2 0h1m3 0h1m1 0h1m1 0h2m24 0h1m3 0h1m4 0h1m3 0h1m3 0h1m14 0h1m3 0h1m5 0h1m2 0h1m2 0h1m3 0h4m5 0h1m3 0h1m1 0h1m3 0h1m25 0h1m2 0h1m4 0h1m4 0h1m1 0h2m1 0h1m3 0h1m12 0h1m1 0h1m4 0h2m21 0h2m7 0h3m1 0h1m3 0h1m2 0h1m2 0h1m11 0h1m1 0h1m1 0h2m3 0h1m1 0h1m8 0h1m5 0h1m2 0h2m5 0h1m2 0h2m6 0h2m3 0h1m6 0h1m10 0h3m1 0h1m1 0h1m3 0h1m11 0h1m2 0h2m9 0h1m1 0h1m2 0h1m3 0h1m2 0h1m3 0h1m6 0h1m1 0h1m6 0h1m15 0h1m10 0h1m1 0h1m36 0h2m1 0h1m3 0h1m1 0h1m1 0h1m2 0h1m4 0h3m1 0h1m4 0h1m2 0h1"/>
<path class="q8" d="M3 415h1m3 0h1m1 0h1m1 0h1m3 0h1m3 0h1m11 0h1m12 0h2m2 0h1m1 0h2m1 0h1m6 0h2m2 0h1m9 0h1m2 0h2m2 0h1m18 0h1m3 0h2m6 0h2m3 0h1m6 0h3m3 0h1m1 0h1m3 0h1m8 0h1m5 0h1m3 0h1m13 0h2m3 0h1m2 0h1m5 0h1m3 0h1m2 0h1m1 0h1m2 0h1m6 0h2m5 0h1m3 0h2m4 0h1m1 0h1m9 0h1m14 0h1m8 0h1m3 0h1m4 0h1m5 0h1m24 0h1m5 0h1m4 0h1m5 0h1m3 0h2m9 0h1m25 0h2m6 0h1m1 0h3m1 0h1m2 0h1m2 0h1m3 0h1m10 0h2m3 0h1m3 0h1m1 0h1m3 0h1m8 0h1m5 0h1m2 0h1m1 0h1m7 0h3m4 0h1m1 0h2m9 0h1m4 0h2m3 0h2m3 0h1m5 0h2m3 0h1m2 0h1m12 0h1m2 0h1m2 0h1"/>
<path class="q10" d="M2 415h1m7 0h1m5 0h2m5 0h1m15 0h1m12 0h1m2 0h1m11 0h1m4 0h1m3 0h1m11 0h2m6 0h1m19 0h1m5 0h2m10 0h1m3 0h2m1 0h1m4 0h1m1 0h2m10 0h2m10 0h1m7 0h1m1 0h1m5 0h1m5 0h1m6 0h1m5 0h1m3 0h2m2 0h2m3 0h1m4 0h1m6 0h1m7 0h1m12 0h1m7 0h2m12 0h3m2 0h2m14 0h1m8 0h1m18 0h1m6 0h2m5 0h1m8 0h1m3 0h1m23 0h1m3 0h1m10 0h1m4 0h2m12 0h1m1 0h1m1 0h2m5 0h1m14 0h2m5 0h1m3 0h1m6 0h1m6 0h1m2 0h1m1 0h1m5 0h1m11 0h1"/>
<path class="q12" d="M1 415h1m32 0h1m11 0h1m2 0h1m4 0h1m7 0h2m9 0h1m10 0h1m1 0h1m8 0h1m1 0h1m9 0h1m7 0h1m41 0h1m4 0h1m4 0h1m5 0h1m12 0h1m30 0h1m17 0h1m24 0h1m17 0h2m5 0h1m39 0h1m3 0h1m16 0h1m1 0h2m30 0h1m2 0h1m14 0h1m5 0h2m10 0h1m2 0h1m5 0h1m17 0h1m1 0h1m2 0h2"/>
<path class="q14" d="M37 415h1m20 0h1m21 0h1m1 0h1m8 0h1m9 0h1m42 0h1m5 0h1m46 0h1m32 0h1m25 0h1m27 0h1m33 0h1m11 0h1m5 0h1m7 0h2m76 0h1m11 0h1m9 0h1m52 0h1"/>
<path class="q16" d="M71 415h1m34 0h1m33 0h1m153 0h1m3 0h1"/>
<path class="q18" d="M87 415h1m4 0h1m125 0h1m121 0h1m65 0h1m52 0h1m9 0h1"/>
<path class="q20" d="M175 415h1"/>
</g>
<g stroke-width="4.1">
<path class="q2" d="M6 542.35h1m22 0h1m1 0h1m7 0h1m3 0h2m7 0h2m4 0h1m3 0h2m5 0h1m2 0h1m6 0h1m5 0h1m1 0h2m3 0h1m15 0h1m3 0h1m1 0h1m3 0h1m3 0h2m2 0h1m13 0h2m2 0h1m1 0h1m6 0h1m2 0h1m1 0h1m2 0h1m2 0h1m15 0h2m14 0h1m11 0h1m2 0h1m2 0h1m3 0h1m10 0h2m4 0h1m4 0h1m4 0h2m3 0h2m2 0h1m2 0h1m2 0h1m3 0h1m1 0h1m3 0h1m1 0h2m4 0h2m4 0h1m3 0h1m4 0h2m2 0h2m7 0h2m2 0h1m3 0h1m3 0h2m2 0h1m1 0h1m2 0h1m3 0h1m3 0h1m3 0h1m4 0h1m2 0h1m9 0h1m6 0h2m1 0h2m1 0h1m4 0h1m1 0h1m6 0h1m3 0h2m3 0h1m2 0h3m1 0h1m2 0h1m1 0h1m1 0h1m3 0h1m8 0h1m15 0h1m1 0h1m2 0h1m7 0h1m1 0h2m10 0h1m10 0h2m5 0h1m3 0h1m4 0h1m3 0h1"/>
<path class="q4" d="M0 542.35h2m5 0h1m6 0h4m1 0h1m1 0h1m2 0h1m1 0h1m11 0h1m1 0h1m4 0h1m1 0h2m2 0h1m2 0h1m1 0h1m3 0h2m2 0h1m1 0h3m5 0h1m5 0h1m1 0h1m6 0h1m4 0h2m5 0h1m4 0h1m17 0h1m5 0h1m7 0h2m2 0h1m2 0h1m2 0h1m2 0h1m5 0h1m5 0h1m3 0h1m1 0h1m1 0h1m4 0h1m2 0h1m5 0h4m1 0h1m1 0h2m6 0h1m12 0h1m1 0h1m1 0h1m6 0h1m2 0h1m6 0h1m2 0h1m10 0h1m6 0h1m3 0h1m1 0h1m7 0h1m4 0h1m1 0h1m5 0h1m2 0h1m3 0h1m2 0h1m6 0h2m3 0h1m4 0h1m2 0h1m3 0h1m3 0h1m2 0h1m13 0h1m4 0h2m1 0h1m5 0h1m2 0h1m3 0h1m1 0h1m1 0h2m9 0h2m1 0h1m4 0h2m2 0h2m8 0h1m10 0h1m1 0h1m4 0h1m2 0h1m5 0h3m2 0h2m8 0h1m5 0h1m1 0h1m7 0h2m1 0h3m2 0h1m7 0h1m2 0h1m5 0h1m1 0h1m2 0h1m2 0h2m3 0h1m5 0h2"/>
<path class="q6" d="M4 542.35h1m3 0h1m2 0h2m12 0h1m1 0h2m3 0h1m1 0h1m2 0h1m3 0h2m6 0h2m4 0h1m19 0h1m1 0h1m6 0h1m5 0h1m14 0h1m1 0h1m12 0h1m7 0h2m4 0h2m13 0h2m1 0h1m1 0h1m10 0h1m2 0h1m1 0h1m11 0h1m1 0h1m4 0h1m4 0h1m2 0h1m6 0h2m1 0h1m11 0h1m3 0h1m1 0h2m15 0h1m6 0h1m6 0h1m1 0h1m12 0h1m3 0h1m1 0h1m2 0h1m2 0h1m2 0h2m25 0h1m3 0h1m10 0h1m4 0h2m5 0h1m5 0h1m3 0h1m5 0h1m14 0h2m6 0h1m10 0h2m7 0h1m10 0h1m1 0h1m1 0h1m2 0h1m1 0h1m1 0h1m7 0h3m3 0h1m4 0h1m1 0h1m1 0h1m1 0h1m3 0h1m9 0h1m1 0h1m1 0h1m2 0h1m8 0h2m1 0h1m2 0h1m9 0h1m2 0h1"/>
<path class="q8" d="M2 542.35h2m5 0h2m2 0h1m9 0h1m11 0h1m23 0h1m5 0h1m4 0h1m12 0h1m2 0h1m16 0h2m4 0h1m3 0h1m1 0h3m3 0h1m9 0h2m4 0h1m9 0h1m11 0h1m12 0h1m1 0h1m2 0h1m5 0h1m7 0h1m18 0h1m5 0h1m3 0h1m1 0h1m10 0h1m2 0h1m2 0h1m1 0h1m1 0h1m3 0h1m14 0h1m4 0h1m27 0h1m5 0h1m13 0h1m13 0h1m18 0h2m3 0h1m1 0h1m24 0h1m2 0h1m17 0h1m16 0h1m6 0h2m6 0h1m14 0h1m17 0h1m3 0h1m2 0h1m10 0h1m14 0h1"/>
<path class="q10" d="M20 542.35h1m12 0h1m42 0h1m22 0h2m1 0h1m7 0h1m8 0h1m16 0h1m23 0h1m5 0h1m6 0h1m32 0h1m14 0h1m31 0h1m27 0h1m9 0h1m4 0h1m14 0h1m9 0h1m14 0h1m15 0h1m62 0h1m18 0h1m24 0h1m5 0h1m5 0h1m24 0h1"/>
<path class="q12" d="M5 542.35h1m119 0h1m7 0h1m9 0h1m34 0h1m52 0h2m19 0h1m79 0h1m8 0h1m50 0h1m9 0h1m6 0h1m37 0h1m40 0h1"/>
<path class="q14" d="M71 542.35h1m396 0h1"/>
<path class="q16" d="M22 542.35h1m178 0h1m192 0h1"/>
<path class="q18" d="M73 542.35h1m101 0h1"/>
</g>
<g stroke-width="4.2">
<path class="q2" d="M1 590.9h1m19 0h1m6 0h1m13 0h1m1 0h3m8 0h1m13 0h1m1 0h1m9 0h2m2 0h1m7 0h1m3 0h1m2 0h1m3 0h1m1 0h1m2 0h1m4 0h1m1 0h1m8 0h1m27 0h2m31 0h2m2 0h1m3 0h1m1 0h1m7 0h2m4 0h1m17 0h1m4 0h2m1 0h1m3 0h1m4 0h1m10 0h1m3 0h1m6 0h2m6 0h1m1 0h1m10 0h1m1 0h2m3 0h1m7 0h1m13 0h1m15 0h1m2 0h2m3 0h1m9 0h1m9 0h1m4 0h2m5 0h2m3 0h1m13 0h1m2 0h2m7 0h2m13 0h2m3 0h1m2 0h1m6 0h1m9 0h1m6 0h1m9 0h2m1 0h2m8 0h1"/>
<path class="q4" d="M2 590.9h1m2 0h2m1 0h1m4 0h1m3 0h1m5 0h1m2 0h2m4 0h1m3 0h1m1 0h1m1 0h1m6 0h1m1 0h1m6 0h1m2 0h2m2 0h2m1 0h3m1 0h1m2 0h1m12 0h1m1 0h1m2 0h1m2 0h1m16 0h1m3 0h1m1 0h1m1 0h2m3 0h1m4 0h3m1 0h1m1 0h1m2 0h1m3 0h1m1 0h1m1 0h1m14 0h3m2 0h1m6 0h1m2 0h2m2 0h1m2 0h2m4 0h1m3 0h1m3 0h1m2 0h4m4 0h1m10 0h1m6 0h1m2 0h1m5 0h1m7 0h2m1 0h4m12 0h3m6 0h1m1 0h1m4 0h2m2 0h2m1 0h1m1 0h1m4 0h1m1 0h1m2 0h3m2 0h1m2 0h2m1 0h1m2 0h1m7 0h1m1 0h1m2 0h4m1 0h1m2 0h1m1 0h1m3 0h1m3 0h1m6 0h2m2 0h2m7 0h3m11 0h1m5 0h1m3 0h1m7 0h1m2 0h1m4 0h1m6 0h1m12 0h2m1 0h1m2 0h1m1 0h1m6 0h1m3 0h1m4 0h1m3 0h1m2 0h2m3 0h2m8 0h2m2 0h1m3 0h2m2 0h3m2 0h1m2 0h1m5 0h1m1 0h1m1 0h1"/>
<path class="q6" d="M9 590.9h1m4 0h1m1 0h1m3 0h1m1 0h1m1 0h2m4 0h1m4 0h1m1 0h1m3 0h1m9 0h2m9 0h1m11 0h1m14 0h1m2 0h1m3 0h1m2 0h1m1 0h1m5 0h1m4 0h1m5 0h1m2 0h2m4 0h1m4 0h1m12 0h1m1 0h3m6 0h1m1 0h1m1 0h1m4 0h1m3 0h1m1 0h2m1 0h1m3 0h1m9 0h1m23 0h2m1 0h1m2 0h1m2 0h1m5 0h1m4 0h1m4 0h1m13 0h3m11 0h1m3 0h1m6 0h1m23 0h1m3 0h1m2 0h1m7 0h1m6 0h1m7 0h1m8 0h2m4 0h2m1 0h1m9 0h1m6 0h1m2 0h2m1 0h1m5 0h1m2 0h1m3 0h2m1 0h3m9 0h1m10 0h1m6 0h1m3 0h1m4 0h1m4 0h2m7 0h1m2 0h1m5 0h1m10 0h1m9 0h2m1 0h1m1 0h1m3 0h1m3 0h1m3 0h1m4 0h1m4 0h1"/>
<path class="q8" d="M0 590.9h1m2 0h1m3 0h1m25 0h2m15 0h1m2 0h2m3 0h1m2 0h1m13 0h1m3 0h1m3 0h2m2 0h1m15 0h1m9 0h1m20 0h1m2 0h1m1 0h1m3 0h1m8 0h1m2 0h1m1 0h1m1 0h1m4 0h1m16 0h2m2 0h1m5 0h1m6 0h1m10 0h1m6 0h1m7 0h1m13 0h1m15 0h2m5 0h1m4 0h1m3 0h1m1 0h1m8 0h1m4 0h1m6 0h1m15 0h2m1 0h1m1 0h1m1 0h1m6 0h1m7 0h1m3 0h1m8 0h1m7 0h1m3 0h1m24 0h1m1 0h1m6 0h2m6 0h1m8 0h2m4 0h1m4 0h1m14 0h1m1 0h2m1 0h1m3 0h1m2 0h1m10 0h2m31 0h2"/>
<path class="q10" d="M4 590.9h1m71 0h3m1 0h1m9 0h1m4 0h1m44 0h1m10 0h1m16 0h1m38 0h1m6 0h1m24 0h1m40 0h1m15 0h1m16 0h1m4 0h1m41 0h1m14 0h1m35 0h2m39 0h1m10 0h1m22 0h1m4 0h1"/>
<path class="q12" d="M12 590.9h1m6 0h1m28 0h1m53 0h1m47 0h1m55 0h1m4 0h1m5 0h1m2 0h1m1 0h2m1 0h1m133 0h1m19 0h1m21 0h1m53 0h1"/>
<path class="q14" d="M15 590.9h1m92 0h1m165 0h1m9 0h1m4 0h1m110 0h1m2 0h1"/>
<path class="q16" d="M10 590.9h1m156 0h1"/>
<path class="q18" d="M175 590.9h1m319 0h1"/>
<path class="q20" d="M347 590.9h1"/>
</g>
<g stroke-width="4.5">
<path class="q2" d="M2 629.25h1m7 0h1m10 0h1m16 0h1m25 0h1m7 0h1m6 0h1m2 0h1m4 0h1m12 0h2m3 0h1m5 0h1m1 0h1m3 0h2m9 0h1m19 0h1m13 0h1m2 0h1m13 0h1m6 0h1m10 0h1m2 0h1m4 0h1m15 0h1m10 0h1m4 0h1m4 0h1m4 0h2m1 0h1m3 0h1m7 0h1m2 0h1m7 0h1m8 0h1m7 0h1m1 0h2m2 0h2m9 0h1m2 0h1m4 0h1m30 0h1m23 0h1m2 0h1m10 0h1m36 0h1m16 0h1m5 0h1m8 0h3m2 0h1m11 0h1m1 0h1M0 708.25h1m3 0h1m1 0h1m4 0h1m2 0h1m2 0h1m1 0h2m2 0h8m1 0h2m2 0h1m5 0h3m1 0h1m1 0h1m1 0h2m4 0h2m3 0h2m2 0h1m1 0h2m4 0h1m3 0h4m1 0h2m1 0h2m3 0h1m2 0h1m1 0h3m2 0h2m1 0h1m1 0h1m2 0h1m2 0h1m4 0h1m1 0h1m1 0h2m1 0h3m1 0h3m2 0h2m9 0h1m2 0h2m4 0h1m1 0h1m1 0h1m1 0h2m4 0h2m6 0h4m6 0h2m4 0h1m4 0h1m3 0h3m2 0h2m1 0h2m1 0h1m2 0h3m2 0h1m2 0h2m4 0h1m1 0h1m6 0h1m3 0h3m1 0h1m1 0h1m1 0h1m3 0h1m1 0h1m3 0h1m2 0h1m6 0h2m9 0h1m5 0h4m1 0h3m2 0h1m1 0h1m2 0h1m3 0h3m4 0h1m1 0h1m4 0h1m1 0h1m1 0h2m2 0h1m1 0h1m6 0h4m4 0h1m4 0h3m4 0h1m7 0h2m1 0h1m1 0h1m1 0h2m3 0h1m1 0h2m2 0h1m2 0h2m3 0h1m2 0h2m10 0h1m3 0h1m1 0h1m3 0h1m1 0h1m5 0h1m1 0h1m6 0h1m3 0h1m4 0h1m1 0h1m1 0h2m4 0h1m1 0h1m3 0h1m1 0h2m1 0h1m1 0h1m2 0h2m3 0h1m1 0h1m1 0h1m1 0h2m3 0h1m3 0h1m1 0h1m2 0h2m5 0h1"/>
<path class="q4" d="M167 629.25h1m130 0h1m57 0h1M7 708.25h4m2 0h1m17 0h1m3 0h1m1 0h1m11 0h1m24 0h1m9 0h1m4 0h1m1 0h2m6 0h1m2 0h1m11 0h1m2 0h1m8 0h1m3 0h1m3 0h1m16 0h1m5 0h1m10 0h2m7 0h1m3 0h1m9 0h2m2 0h1m4 0h2m15 0h2m5 0h1m5 0h1m1 0h2m11 0h1m17 0h1m5 0h1m6 0h1m3 0h1m10 0h1m8 0h1m26 0h1m1 0h1m2 0h1m4 0h1m5 0h1m1 0h1m6 0h1m1 0h1m4 0h2m4 0h1m1 0h1m9 0h1m8 0h1m9 0h1m1 0h1m17 0h2m3 0h1m2 0h2m1 0h1m8 0h1m2 0h1m7 0h1m19 0h1m4 0h1m5 0h1m4 0h1m1 0h1m2 0h1m4 0h1"/>
<path class="q6" d="M1 708.25h1m14 0h1m22 0h1m1 0h1m5 0h1m5 0h1m4 0h1m12 0h1m3 0h1m18 0h1m14 0h1m3 0h1m22 0h1m3 0h1m7 0h1m4 0h1m17 0h1m54 0h1m1 0h1m28 0h1m6 0h1m31 0h1m28 0h1m5 0h1m7 0h1m4 0h1m4 0h2m6 0h1m5 0h1m8 0h1m12 0h1m2 0h1m8 0h1m7 0h1m4 0h1m15 0h1m4 0h2m13 0h1m16 0h1m10 0h1m12 0h1m9 0h1"/>
<path class="q8" d="M2 708.25h1m104 0h1m14 0h1m217 0h1m78 0h1m8 0h1m20 0h1"/>
<path class="q10" d="M253 708.25h1m127 0h1m69 0h1"/>
</g>
<g stroke-width="5">
<path class="q2" d="M0 201.5h1m3 0h1m1 0h1m1 0h1m8 0h1m14 0h1m3 0h1m4 0h1m5 0h1m1 0h1m11 0h1m14 0h1m8 0h1m3 0h2m6 0h1m2 0h1m1 0h1m8 0h1m9 0h1m8 0h1m9 0h1m6 0h1m1 0h1m3 0h1m1 0h1m1 0h1m8 0h1m14 0h1m4 0h1m17 0h1m9 0h2m14 0h1m4 0h1m2 0h1m1 0h3m3 0h1m5 0h1m12 0h1m19 0h2m3 0h1m3 0h1m4 0h1m7 0h2m5 0h2m8 0h1m14 0h2m10 0h2m1 0h1m2 0h1m7 0h1m3 0h1m14 0h1m4 0h2m18 0h1m11 0h1m3 0h1m6 0h1m2 0h1m3 0h2m14 0h1m9 0h2m3 0h1m2 0h1m19 0h1M47 586.3h1m38 0h1m51 0h1m30 0h1m162 0h1"/>
<path class="q4" d="M5 201.5h1m8 0h1m6 0h1m6 0h1m6 0h1m4 0h1m1 0h1m1 0h1m1 0h1m11 0h1m1 0h1m7 0h1m1 0h2m1 0h1m3 0h2m2 0h1m1 0h1m2 0h1m1 0h1m3 0h1m3 0h1m22 0h1m13 0h3m9 0h1m8 0h1m3 0h1m1 0h1m10 0h1m5 0h2m3 0h1m2 0h1m2 0h1m2 0h1m2 0h1m6 0h1m3 0h1m1 0h1m8 0h2m1 0h3m2 0h2m1 0h1m1 0h1m7 0h1m7 0h1m3 0h2m3 0h2m4 0h1m5 0h1m2 0h2m4 0h1m1 0h3m3 0h2m13 0h1m5 0h1m21 0h1m2 0h1m1 0h1m4 0h1m4 0h3m1 0h2m12 0h1m1 0h1m1 0h1m6 0h1m1 0h1m5 0h2m6 0h2m8 0h1m1 0h1m2 0h1m3 0h1m1 0h1m5 0h1m2 0h1m2 0h1m7 0h1m5 0h2m1 0h2m24 0h2m19 0h1m1 0h1M11 586.3h1m22 0h1m13 0h1m20 0h1m4 0h1m12 0h1m6 0h1m11 0h1m6 0h1m85 0h1m45 0h1m59 0h2m60 0h1m35 0h2m49 0h1m27 0h1m14 0h1"/>
<path class="q6" d="M2 201.5h1m8 0h1m7 0h1m6 0h1m2 0h1m3 0h1m4 0h1m11 0h1m1 0h2m10 0h1m2 0h1m1 0h1m12 0h1m4 0h1m7 0h1m3 0h1m3 0h1m1 0h1m9 0h1m2 0h1m3 0h1m2 0h2m14 0h2m3 0h1m1 0h1m2 0h1m7 0h1m7 0h1m8 0h1m2 0h1m3 0h2m4 0h1m7 0h1m4 0h1m5 0h1m23 0h1m6 0h1m3 0h2m18 0h1m10 0h1m12 0h1m3 0h1m1 0h1m7 0h2m6 0h1m8 0h4m3 0h1m8 0h1m3 0h1m14 0h1m2 0h1m3 0h1m1 0h1m3 0h1m1 0h1m5 0h1m7 0h1m5 0h1m3 0h1m4 0h1m22 0h1m1 0h1m1 0h1m6 0h1m13 0h2m2 0h2m1 0h2m2 0h1m1 0h2m1 0h1m10 0h1m1 0h2m2 0h2m1 0h2m4 0h1m2 0h1m4 0h4M3 586.3h1m8 0h1m2 0h1m3 0h1m32 0h1m13 0h2m9 0h1m1 0h1m3 0h1m6 0h3m4 0h1m1 0h1m3 0h1m11 0h1m12 0h2m49 0h1m4 0h1m1 0h1m6 0h1m9 0h1m17 0h1m2 0h1m1 0h1m24 0h1m7 0h2m15 0h1m57 0h1m13 0h1m2 0h1m54 0h1m2 0h1m1 0h1m4 0h1m11 0h2m41 0h1m12 0h1m10 0h1"/>
<path class="q8" d="M7 201.5h1m1 0h2m2 0h1m1 0h1m8 0h1m5 0h2m5 0h1m1 0h1m5 0h1m2 0h1m5 0h4m5 0h1m2 0h1m8 0h1m4 0h1m3 0h1m32 0h1m5 0h1m4 0h1m7 0h4m22 0h3m22 0h1m2 0h1m1 0h1m2 0h1m3 0h2m9 0h1m7 0h1m4 0h1m4 0h1m2 0h1m2 0h1m1 0h1m10 0h2m2 0h1m19 0h2m8 0h2m5 0h1m7 0h2m14 0h1m4 0h1m5 0h1m6 0h1m2 0h1m1 0h1m1 0h1m9 0h1m2 0h1m4 0h1m2 0h1m5 0h1m2 0h1m5 0h1m1 0h3m3 0h1m3 0h1m7 0h1m5 0h2m1 0h1m1 0h1m1 0h1m3 0h1m1 0h1m1 0h2m7 0h1m4 0h1m1 0h1m7 0h1m4 0h2m9 0h1m5 0h1m15 0h1m3 0h1m8 0h1m4 0h1m4 0h1M1 586.3h1m3 0h1m7 0h2m1 0h1m1 0h1m6 0h1m2 0h1m8 0h1m35 0h1m21 0h1m5 0h1m16 0h1m21 0h1m10 0h1m12 0h1m1 0h1m7 0h1m1 0h1m3 0h1m1 0h2m6 0h1m11 0h1m5 0h1m9 0h1m6 0h1m5 0h1m8 0h2m5 0h1m4 0h1m1 0h1m1 0h1m10 0h1m6 0h1m11 0h1m2 0h1m3 0h1m15 0h1m12 0h2m4 0h1m7 0h3m3 0h1m33 0h1m2 0h1m17 0h1m1 0h4m5 0h1m37 0h1m5 0h1m4 0h1m2 0h1m12 0h1m19 0h1"/>
<path class="q10" d="M1 201.5h1m10 0h1m3 0h1m5 0h1m2 0h1m1 0h1m6 0h1m8 0h1m15 0h1m2 0h1m2 0h1m6 0h1m20 0h1m14 0h1m1 0h1m2 0h1m17 0h2m11 0h1m5 0h1m5 0h1m4 0h1m6 0h1m4 0h1m32 0h1m2 0h1m1 0h1m1 0h1m12 0h1m35 0h1m1 0h1m2 0h2m4 0h1m6 0h1m8 0h1m5 0h1m4 0h1m5 0h1m20 0h1m16 0h1m35 0h1m2 0h1m7 0h1m2 0h2m15 0h1m5 0h1m29 0h1m9 0h1m19 0h1m10 0h1M2 586.3h1m1 0h1m1 0h1m22 0h1m1 0h1m3 0h2m1 0h1m4 0h2m4 0h1m1 0h1m8 0h1m2 0h1m4 0h1m1 0h1m1 0h1m16 0h1m22 0h1m6 0h2m1 0h1m4 0h1m4 0h1m6 0h1m5 0h1m1 0h1m2 0h1m17 0h1m1 0h1m2 0h1m4 0h1m12 0h1m20 0h1m4 0h1m2 0h1m1 0h1m4 0h1m1 0h1m9 0h1m13 0h1m45 0h1m12 0h1m17 0h1m2 0h1m6 0h1m13 0h1m15 0h1m2 0h1m33 0h1m7 0h1m3 0h1m10 0h1m10 0h2m5 0h1m4 0h1m7 0h1m2 0h1m15 0h1m2 0h1"/>
<path class="q12" d="M3 201.5h1m75 0h1m11 0h1m2 0h1m6 0h1m2 0h1m7 0h1m1 0h1m5 0h1m3 0h1m2 0h1m24 0h1m17 0h1m22 0h1m2 0h1m25 0h1m36 0h1m16 0h1m15 0h1m10 0h1m1 0h1m4 0h2m4 0h1m5 0h1m5 0h1m3 0h1m15 0h1m54 0h1m4 0h1m32 0h2m28 0h1m14 0h1m5 0h1M0 586.3h1m7 0h1m12 0h1m1 0h2m1 0h1m6 0h1m7 0h2m2 0h2m3 0h1m2 0h1m2 0h1m1 0h1m16 0h1m5 0h2m5 0h1m13 0h1m2 0h1m5 0h1m4 0h1m7 0h3m22 0h1m8 0h1m22 0h1m3 0h1m6 0h1m1 0h2m9 0h1m3 0h1m1 0h1m1 0h1m14 0h1m1 0h1m3 0h1m1 0h1m5 0h1m5 0h1m54 0h1m4 0h1m5 0h2m11 0h1m1 0h1m9 0h1m1 0h1m3 0h1m3 0h2m9 0h1m1 0h1m24 0h1m5 0h1m1 0h1m16 0h2m4 0h1m26 0h1m1 0h1m2 0h1m8 0h1m7 0h2m3 0h1m4 0h3m1 0h1m8 0h2"/>
<path class="q14" d="M18 201.5h1m1 0h1m30 0h1m22 0h1m23 0h1m17 0h1m12 0h1m13 0h1m21 0h1m6 0h1m25 0h1m4 0h1m52 0h2m113 0h1m54 0h1m40 0h1m1 0h1M7 586.3h1m14 0h1m4 0h1m2 0h1m28 0h1m2 0h1m2 0h1m10 0h1m8 0h1m23 0h1m4 0h1m16 0h1m1 0h1m2 0h1m5 0h1m3 0h1m5 0h2m3 0h1m1 0h1m3 0h1m7 0h1m5 0h1m10 0h1m12 0h1m21 0h1m8 0h1m10 0h1m5 0h2m7 0h1m3 0h1m3 0h1m4 0h1m18 0h1m3 0h1m1 0h1m7 0h1m2 0h1m3 0h1m8 0h2m21 0h2m13 0h1m7 0h1m4 0h1m14 0h1m7 0h1m3 0h1m11 0h1m11 0h2m10 0h1m2 0h1m1 0h1m22 0h2m22 0h1m1 0h1"/>
<path class="q16" d="M106 201.5h1m146 0h1m95 0h1m68 0h1m65 0h1m6 0h1M9 586.3h1m30 0h1m13 0h2m5 0h1m2 0h1m6 0h1m8 0h1m12 0h1m10 0h1m5 0h1m12 0h1m6 0h1m10 0h1m19 0h1m73 0h1m1 0h1m8 0h1m16 0h1m1 0h1m3 0h2m1 0h1m27 0h2m11 0h1m3 0h1m6 0h1m22 0h1m4 0h1m4 0h1m1 0h1m3 0h1m13 0h1m2 0h1m1 0h1m1 0h1m3 0h2m2 0h1m12 0h1m18 0h1m2 0h1m15 0h2m11 0h1m8 0h1m19 0h1m6 0h1m5 0h1"/>
<path class="q18" d="M10 586.3h1m21 0h1m24 0h1m26 0h1m13 0h1m18 0h1m25 0h1m21 0h1m1 0h1m4 0h1m14 0h1m1 0h1m6 0h2m9 0h1m7 0h2m2 0h1m13 0h1m10 0h1m16 0h1m6 0h1m6 0h1m5 0h1m2 0h1m2 0h1m31 0h1m6 0h1m4 0h1m3 0h1m25 0h1m12 0h1m16 0h1m22 0h1m6 0h1m3 0h2m4 0h2m22 0h1m2 0h1m10 0h1m5 0h1m18 0h1m1 0h1"/>
<path class="q20" d="M313 201.5h1M20 586.3h1m57 0h1m17 0h1m11 0h1m39 0h1m6 0h1m19 0h1m38 0h1m23 0h1m16 0h1m1 0h1m20 0h1m19 0h1m17 0h1m39 0h1m21 0h1m2 0h1m3 0h1m34 0h1m14 0h1m2 0h1m27 0h1m3 0h1"/>
<path class="q22" d="M39 586.3h1m81 0h1m12 0h1m19 0h1m51 0h1m3 0h1m62 0h1m3 0h1m1 0h1m2 0h2m1 0h1m2 0h1m2 0h1m10 0h1m69 0h1m2 0h1m14 0h1m5 0h1m20 0h1m15 0h1m15 0h1m1 0h1m35 0h1m1 0h1"/>
<path class="q24" d="M17 586.3h1m89 0h1m54 0h1m35 0h1m1 0h1m63 0h1m15 0h1m14 0h1m1 0h1m20 0h1m45 0h2m3 0h1m70 0h1m35 0h1"/>
<path class="q26" d="M137 586.3h1m6 0h1m11 0h1m47 0h1m120 0h1m20 0h1m8 0h1m27 0h1m52 0h1m62 0h1"/>
<path class="q28" d="M160 586.3h1m149 0h1m42 0h1"/>
<path class="q30" d="M135 586.3h1m156 0h1m75 0h1m105 0h1"/>
</g>
<g stroke-width="5.3">
<path class="q2" d="M83 537.65h1m30 0h1m17 0h1m26 0h1m160 0h1m5 0h1m10 0h1m39 0h1m60 0h1m5 0h1m5 0h1"/>
<path class="q4" d="M18 537.65h1m37 0h1m52 0h1m37 0h1m13 0h1m23 0h1m65 0h2m6 0h2m49 0h1m8 0h1m12 0h1m74 0h1m44 0h1m13 0h1m7 0h1m10 0h1m12 0h1"/>
<path class="q6" d="M67 537.65h1m9 0h1m20 0h1m6 0h1m6 0h1m8 0h1m3 0h1m15 0h1m1 0h1m4 0h1m1 0h1m2 0h1m14 0h1m33 0h1m8 0h1m2 0h1m3 0h1m6 0h1m7 0h1m7 0h1m15 0h1m3 0h3m16 0h1m43 0h1m2 0h1m10 0h1m15 0h2m33 0h1m11 0h1m4 0h1m1 0h1m15 0h1m24 0h1m1 0h1m6 0h1m4 0h1m11 0h1m5 0h1"/>
<path class="q8" d="M5 537.65h1m10 0h1m7 0h1m6 0h1m1 0h1m5 0h1m19 0h1m22 0h1m17 0h1m2 0h1m3 0h1m34 0h1m2 0h1m3 0h1m12 0h1m1 0h2m17 0h1m5 0h1m10 0h1m2 0h1m22 0h1m19 0h1m8 0h1m16 0h1m24 0h1m7 0h1m1 0h2m2 0h1m4 0h1m16 0h2m21 0h1m14 0h1m3 0h1m19 0h1m7 0h1m1 0h1m9 0h1m10 0h1m7 0h1m2 0h1m2 0h2m17 0h1m8 0h1m1 0h1m1 0h2m5 0h1m11 0h1m1 0h1m3 0h1"/>
<path class="q10" d="M0 537.65h2m17 0h2m11 0h1m22 0h1m13 0h1m10 0h1m5 0h1m10 0h1m8 0h1m12 0h2m3 0h1m12 0h1m1 0h1m26 0h1m3 0h1m1 0h2m6 0h2m13 0h1m27 0h1m26 0h1m15 0h2m2 0h1m4 0h1m3 0h1m3 0h2m18 0h1m14 0h1m6 0h1m3 0h1m9 0h1m13 0h1m4 0h1m4 0h1m1 0h1m2 0h1m11 0h1m2 0h1m1 0h1m1 0h1m2 0h1m1 0h1m9 0h1m13 0h1m5 0h1m5 0h2m9 0h1m6 0h2m12 0h1m6 0h1m8 0h1m1 0h1m11 0h1m3 0h1"/>
<path class="q12" d="M2 537.65h1m7 0h1m1 0h1m9 0h2m3 0h1m10 0h1m5 0h1m9 0h1m21 0h1m15 0h2m2 0h1m5 0h1m7 0h1m2 0h1m12 0h1m1 0h1m1 0h1m4 0h2m23 0h1m6 0h1m1 0h1m5 0h3m6 0h1m1 0h1m22 0h2m20 0h1m2 0h1m8 0h1m1 0h1m2 0h1m9 0h1m5 0h1m4 0h1m6 0h1m21 0h1m3 0h1m1 0h1m9 0h1m8 0h1m4 0h1m2 0h1m9 0h1m2 0h1m1 0h1m2 0h1m1 0h2m4 0h1m4 0h1m13 0h1m1 0h1m7 0h1m7 0h1m1 0h1m1 0h1m10 0h1m4 0h1m5 0h1m4 0h1m6 0h1m2 0h1m9 0h1m2 0h1m6 0h2m4 0h1m24 0h1m9 0h1"/>
<path class="q14" d="M3 537.65h1m2 0h1m4 0h1m3 0h1m5 0h1m3 0h2m7 0h1m1 0h2m2 0h1m1 0h1m2 0h1m3 0h1m13 0h1m2 0h1m7 0h1m13 0h1m15 0h1m41 0h1m4 0h1m3 0h1m32 0h1m3 0h1m8 0h1m2 0h1m1 0h3m4 0h1m5 0h1m2 0h1m5 0h1m9 0h1m1 0h1m1 0h1m4 0h1m6 0h1m1 0h1m8 0h1m5 0h1m1 0h1m3 0h1m3 0h1m5 0h1m12 0h1m8 0h1m2 0h1m4 0h1m3 0h1m8 0h1m4 0h1m4 0h1m7 0h1m1 0h1m13 0h1m4 0h1m3 0h2m4 0h1m2 0h1m10 0h1m3 0h1m1 0h1m12 0h1m10 0h1m7 0h1m4 0h1m5 0h2m10 0h1m9 0h1m15 0h1m8 0h1"/>
<path class="q16" d="M7 537.65h1m1 0h1m19 0h2m4 0h1m5 0h1m5 0h1m3 0h2m4 0h1m4 0h1m12 0h1m9 0h1m3 0h1m1 0h1m2 0h1m4 0h1m1 0h1m6 0h1m2 0h1m3 0h3m5 0h1m10 0h1m5 0h1m22 0h1m7 0h1m7 0h1m18 0h1m16 0h2m18 0h1m1 0h1m1 0h1m9 0h1m24 0h1m14 0h1m1 0h1m23 0h1m6 0h1m13 0h1m6 0h1m15 0h3m38 0h1m3 0h1m6 0h1m1 0h1m5 0h1m1 0h1m11 0h1m35 0h1m22 0h1m6 0h1"/>
<path class="q18" d="M8 537.65h1m19 0h1m14 0h1m2 0h1m3 0h1m9 0h1m11 0h1m5 0h2m7 0h1m7 0h1m26 0h1m4 0h1m26 0h1m1 0h3m19 0h1m8 0h1m6 0h1m1 0h1m15 0h1m14 0h1m1 0h1m2 0h1m45 0h1m3 0h1m9 0h1m8 0h1m4 0h1m35 0h1m24 0h1m2 0h1m17 0h1m29 0h1m46 0h1m18 0h1m3 0h1m6 0h1"/>
<path class="q20" d="M14 537.65h1m33 0h1m4 0h1m7 0h1m9 0h1m61 0h1m10 0h1m7 0h1m40 0h1m23 0h1m2 0h2m14 0h1m7 0h1m41 0h1m8 0h2m87 0h1m6 0h1m35 0h1m2 0h1m22 0h1m3 0h1m4 0h1m14 0h1m5 0h1m3 0h1"/>
<path class="q22" d="M4 537.65h1m12 0h1m46 0h1m3 0h1m1 0h1m13 0h1m89 0h1m7 0h1m7 0h2m7 0h1m5 0h1m18 0h1m5 0h1m57 0h1m10 0h1m45 0h1m26 0h1m8 0h1m28 0h1m6 0h1m64 0h1"/>
<path class="q24" d="M13 537.65h1m44 0h1m6 0h1m24 0h1m38 0h1m8 0h1m58 0h1m95 0h1m72 0h1"/>
<path class="q26" d="M73 537.65h1m7 0h1m186 0h1m16 0h1m61 0h1"/>
<path class="q28" d="M131 537.65h1m158 0h1m22 0h1"/>
<path class="q30" d="M118 537.65h1m175 0h1"/>
</g>
<g stroke-width="5.4">
<path class="q2" d="M2 358.3h1m4 0h2m1 0h1m5 0h5m2 0h2m2 0h1m3 0h1m7 0h1m1 0h1m4 0h2m4 0h1m2 0h2m1 0h2m1 0h1m5 0h1m1 0h1m5 0h1m1 0h2m3 0h1m2 0h1m5 0h1m5 0h1m4 0h1m4 0h1m5 0h1m2 0h2m3 0h1m1 0h1m9 0h1m10 0h1m3 0h1m4 0h1m11 0h1m4 0h1m1 0h3m1 0h2m9 0h1m1 0h2m2 0h2m1 0h2m6 0h2m1 0h1m2 0h1m4 0h2m1 0h1m1 0h1m2 0h2m5 0h1m4 0h2m1 0h2m2 0h3m2 0h1m5 0h2m1 0h1m2 0h3m3 0h1m1 0h1m3 0h1m1 0h2m1 0h1m2 0h1m1 0h2m1 0h2m5 0h1m2 0h1m2 0h1m1 0h1m4 0h1m5 0h1m7 0h1m4 0h1m2 0h1m4 0h3m2 0h2m3 0h1m2 0h1m1 0h3m4 0h1m1 0h1m2 0h2m1 0h1m3 0h1m6 0h1m4 0h2m4 0h2m1 0h1m2 0h1m3 0h1m4 0h1m5 0h1m3 0h2m1 0h1m2 0h1m10 0h1m1 0h2m1 0h1m6 0h1m3 0h1m10 0h1m8 0h1m2 0h3m3 0h1m3 0h1m1 0h1m4 0h3m2 0h2m7 0h1m2 0h1M2 471.7h1m3 0h1m1 0h2m2 0h1m3 0h1m1 0h1m2 0h1m1 0h1m1 0h4m2 0h1m3 0h1m1 0h1m2 0h1m2 0h1m4 0h1m9 0h1m3 0h1m2 0h4m1 0h1m2 0h1m2 0h1m1 0h1m8 0h1m9 0h2m1 0h1m2 0h2m1 0h3m8 0h1m11 0h1m1 0h2m2 0h3m2 0h1m3 0h2m3 0h1m3 0h1m2 0h3m8 0h3m2 0h5m4 0h2m3 0h1m1 0h1m1 0h2m1 0h1m1 0h1m1 0h1m1 0h2m4 0h3m1 0h1m11 0h1m3 0h2m2 0h1m3 0h1m3 0h2m8 0h2m6 0h1m2 0h1m2 0h1m1 0h1m1 0h2m2 0h1m4 0h1m5 0h3m1 0h1m4 0h1m2 0h1m2 0h3m6 0h1m3 0h1m3 0h2m1 0h3m4 0h1m16 0h2m2 0h1m3 0h1m2 0h2m3 0h1m2 0h2m2 0h1m4 0h7m2 0h1m11 0h1m2 0h2m3 0h2m1 0h1m5 0h1m2 0h1m4 0h1m2 0h1m1 0h1m5 0h1m2 0h6m6 0h1m3 0h1m1 0h1m3 0h1m11 0h3m2 0h4m2 0h2m6 0h1m1 0h1m3 0h1m2 0h3m6 0h2"/>
<path class="q4" d="M3 358.3h1m11 0h1m13 0h1m18 0h1m1 0h1m11 0h1m3 0h1m4 0h3m2 0h1m7 0h1m3 0h1m5 0h1m11 0h1m12 0h1m5 0h1m11 0h1m1 0h1m14 0h1m6 0h1m23 0h1m9 0h1m5 0h1m24 0h1m2 0h1m28 0h1m16 0h1m14 0h1m15 0h1m17 0h1m2 0h1m15 0h1m7 0h1m5 0h1m11 0h2m24 0h1m4 0h1m9 0h1m7 0h2m3 0h1m5 0h1m4 0h1m7 0h1m12 0h1m11 0h1m5 0h1m5 0h1m9 0h1m1 0h1m2 0h1M3 471.7h1m3 0h1m9 0h1m6 0h1m5 0h1m3 0h1m3 0h1m5 0h1m1 0h2m8 0h1m4 0h1m2 0h1m4 0h1m1 0h2m1 0h1m4 0h2m5 0h1m6 0h2m1 0h1m5 0h1m6 0h3m1 0h1m1 0h1m2 0h2m1 0h1m2 0h1m5 0h1m2 0h1m4 0h1m4 0h1m2 0h2m14 0h1m7 0h2m5 0h1m1 0h2m3 0h2m8 0h1m8 0h2m3 0h1m1 0h2m2 0h1m1 0h1m1 0h1m3 0h2m6 0h1m1 0h1m2 0h1m3 0h3m1 0h2m4 0h2m5 0h1m3 0h1m1 0h1m4 0h2m1 0h2m1 0h1m3 0h1m1 0h1m5 0h1m4 0h2m1 0h2m7 0h2m5 0h1m4 0h1m3 0h1m1 0h2m3 0h3m2 0h1m2 0h2m1 0h2m19 0h1m5 0h1m1 0h1m12 0h3m1 0h2m10 0h1m3 0h1m2 0h1m5 0h1m7 0h1m5 0h1m12 0h1m9 0h1m1 0h1m1 0h1m2 0h2m6 0h1m16 0h1m1 0h2m1 0h1m2 0h1m2 0h2m4 0h1m3 0h1"/>
<path class="q6" d="M35 358.3h1m15 0h1m62 0h1m21 0h1m237 0h1m17 0h1m43 0h1m43 0h1M15 471.7h1m4 0h1m18 0h1m9 0h1m5 0h1m19 0h1m9 0h1m34 0h1m7 0h1m21 0h1m9 0h1m67 0h1m2 0h1m2 0h1m11 0h1m36 0h1m4 0h1m12 0h1m5 0h1m2 0h2m23 0h1m5 0h1m6 0h1m11 0h1m3 0h1m16 0h1m5 0h1m14 0h1m6 0h1m15 0h2m6 0h1m13 0h1m2 0h1m4 0h1m19 0h1m18 0h1"/>
<path class="q8" d="M30 358.3h1m144 0h1m259 0h1M5 471.7h1m5 0h1m69 0h1m9 0h1m35 0h1m11 0h1m2 0h1m9 0h1m67 0h1m3 0h1m74 0h1m5 0h1m38 0h1m45 0h1m31 0h1m37 0h1"/>
<path class="q10" d="M438 358.3h1M112 471.7h1m151 0h1m192 0h1m37 0h1"/>
</g>
<g stroke-width="5.7">
<path class="q2" d="M182 673.65h1m106 0h2m119 0h1m84 0h1"/>
<path class="q4" d="M6 673.65h1m15 0h1m92 0h1m12 0h1m24 0h2m18 0h1m12 0h1m1 0h1m10 0h1m68 0h1m32 0h1m72 0h1m1 0h1m40 0h1m3 0h2m15 0h1m17 0h1m28 0h1"/>
<path class="q6" d="M8 673.65h1m2 0h1m13 0h1m1 0h1m5 0h1m5 0h1m2 0h1m7 0h1m24 0h1m5 0h1m16 0h1m6 0h1m4 0h1m20 0h1m6 0h3m19 0h1m3 0h1m19 0h1m39 0h1m10 0h1m12 0h1m3 0h1m3 0h1m3 0h1m12 0h1m9 0h1m2 0h1m4 0h1m3 0h1m9 0h1m8 0h1m4 0h1m2 0h1m9 0h1m20 0h1m49 0h1m4 0h1m2 0h2m2 0h1m2 0h1m21 0h1m1 0h1m6 0h1m8 0h2m8 0h1m13 0h1m11 0h1m2 0h1"/>
<path class="q8" d="M5 673.65h1m23 0h1m5 0h3m20 0h1m4 0h1m27 0h1m44 0h1m11 0h1m6 0h1m2 0h1m7 0h1m1 0h2m2 0h1m34 0h3m4 0h1m2 0h1m46 0h1m14 0h1m12 0h2m2 0h1m5 0h1m4 0h1m2 0h1m4 0h1m13 0h3m11 0h1m4 0h1m2 0h2m1 0h1m2 0h1m4 0h1m2 0h1m5 0h1m11 0h1m2 0h1m5 0h2m12 0h2m15 0h2m8 0h1m5 0h1m7 0h1m2 0h2m5 0h1m2 0h1m8 0h1m1 0h2m3 0h1m7 0h1m7 0h1"/>
<path class="q10" d="M1 673.65h1m10 0h1m2 0h1m5 0h1m25 0h1m1 0h1m2 0h1m13 0h1m9 0h1m17 0h4m4 0h2m12 0h1m5 0h1m4 0h1m1 0h1m2 0h2m1 0h1m1 0h1m4 0h2m1 0h2m2 0h1m1 0h1m25 0h3m18 0h1m2 0h1m4 0h1m3 0h1m4 0h2m6 0h1m3 0h1m8 0h1m8 0h1m8 0h1m11 0h1m2 0h1m1 0h2m2 0h2m7 0h1m2 0h1m6 0h1m2 0h1m2 0h1m2 0h2m7 0h2m4 0h1m2 0h1m11 0h1m5 0h1m21 0h1m4 0h1m5 0h2m4 0h1m3 0h1m8 0h1m6 0h1m1 0h1m4 0h1m7 0h2m4 0h1m7 0h1m6 0h1m1 0h2m5 0h2m1 0h1m18 0h1m7 0h1m12 0h1m1 0h1m10 0h1"/>
<path class="q12" d="M9 673.65h2m7 0h1m1 0h1m11 0h1m8 0h1m3 0h1m2 0h1m4 0h1m8 0h1m2 0h1m4 0h1m16 0h2m1 0h1m16 0h1m5 0h1m7 0h1m22 0h1m5 0h1m1 0h1m6 0h1m1 0h1m3 0h1m14 0h1m6 0h1m7 0h1m16 0h2m7 0h1m4 0h1m1 0h1m4 0h1m7 0h1m4 0h1m3 0h1m10 0h1m3 0h1m33 0h1m6 0h1m13 0h1m4 0h1m2 0h1m8 0h1m11 0h1m5 0h1m2 0h1m1 0h1m3 0h1m3 0h1m1 0h1m6 0h1m9 0h2m5 0h1m6 0h2m17 0h1m7 0h2m15 0h1m2 0h1m4 0h1m13 0h1m13 0h1m1 0h1m5 0h2m7 0h1"/>
<path class="q14" d="M2 673.65h3m11 0h2m10 0h1m5 0h1m8 0h2m14 0h1m7 0h3m1 0h1m2 0h1m17 0h1m16 0h1m4 0h1m2 0h2m7 0h1m3 0h1m3 0h1m12 0h1m9 0h1m5 0h1m12 0h1m13 0h1m11 0h1m19 0h1m6 0h1m2 0h1m7 0h1m3 0h1m8 0h1m8 0h1m7 0h1m3 0h1m2 0h2m1 0h1m1 0h1m2 0h1m12 0h1m24 0h1m10 0h2m2 0h1m11 0h1m24 0h1m4 0h1m14 0h1m1 0h1m1 0h1m4 0h1m11 0h1m8 0h2m4 0h1m3 0h1m19 0h1m6 0h1m7 0h1m7 0h1m1 0h1"/>
<path class="q16" d="M23 673.65h1m6 0h2m14 0h1m4 0h1m2 0h4m2 0h1m21 0h1m3 0h1m12 0h1m11 0h1m29 0h1m28 0h1m4 0h1m17 0h1m3 0h1m2 0h1m10 0h1m7 0h2m4 0h1m4 0h1m6 0h1m5 0h1m37 0h1m26 0h2m16 0h1m9 0h1m4 0h2m3 0h2m8 0h1m27 0h2m4 0h1m5 0h1m12 0h1m20 0h1m10 0h1m12 0h1m6 0h1m1 0h2m9 0h1m2 0h1m9 0h1m3 0h1"/>
<path class="q18" d="M26 673.65h1m13 0h1m20 0h1m10 0h1m6 0h1m5 0h1m15 0h1m10 0h1m6 0h2m35 0h1m5 0h1m11 0h1m6 0h1m1 0h1m1 0h1m19 0h1m28 0h1m12 0h1m1 0h1m7 0h2m8 0h1m20 0h1m27 0h1m7 0h1m2 0h1m12 0h1m4 0h1m21 0h1m1 0h1m9 0h1m1 0h1m70 0h1m22 0h1m20 0h1"/>
<path class="q20" d="M19 673.65h1m44 0h1m8 0h1m15 0h1m10 0h1m3 0h1m3 0h1m15 0h2m41 0h1m23 0h1m2 0h1m8 0h2m13 0h1m20 0h1m15 0h1m3 0h1m51 0h1m77 0h1m42 0h1"/>
<path class="q22" d="M0 673.65h1m6 0h1m5 0h1m10 0h1m13 0h1m41 0h1m3 0h1m8 0h1m12 0h1m16 0h1m47 0h1m20 0h1m3 0h1m45 0h1m20 0h1m95 0h1m119 0h1"/>
<path class="q24" d="M14 673.65h1m62 0h2m110 0h1m41 0h1m112 0h1m18 0h1"/>
<path class="q26" d="M83 673.65h1m154 0h1"/>
<path class="q28" d="M493 673.65h1"/>
<path class="q30" d="M466 673.65h1"/>
</g>
<g stroke-width="5.9">
<path class="q2" d="M4 343.55h1m6 0h2m7 0h1m10 0h1m12 0h1m1 0h1m4 0h1m2 0h1m9 0h2m2 0h2m1 0h1m3 0h1m12 0h1m5 0h2m1 0h2m11 0h1m4 0h1m5 0h2m2 0h1m2 0h1m5 0h1m2 0h1m3 0h2m4 0h1m5 0h1m12 0h2m1 0h1m5 0h1m2 0h1m17 0h1m3 0h1m5 0h1m5 0h1m1 0h1m7 0h1m7 0h1m6 0h1m7 0h3m7 0h1m5 0h1m13 0h1m1 0h1m11 0h1m21 0h1m9 0h1m28 0h1m2 0h2m12 0h1m1 0h1m4 0h1m2 0h1m16 0h1m5 0h1m4 0h1m8 0h1m12 0h1m1 0h1m8 0h1m4 0h1m14 0h1m2 0h1m5 0h1m4 0h1m5 0h1m15 0h1m4 0h1"/>
<path class="q4" d="M9 343.55h2m3 0h1m61 0h1m14 0h1m127 0h1m28 0h1m13 0h1m42 0h2m3 0h1m20 0h1m67 0h1m4 0h1m18 0h1m9 0h1m21 0h1m23 0h1"/>
<path class="q6" d="M491 343.55h1"/>
</g>
<g stroke-width="6">
<path class="q2" d="M1 453h2m2 0h1m1 0h2m3 0h2m3 0h1m6 0h2m1 0h1m5 0h1m2 0h3m4 0h2m3 0h1m8 0h3m1 0h1m2 0h2m2 0h1m2 0h4m3 0h2m2 0h4m1 0h1m5 0h1m3 0h1m4 0h1m3 0h3m2 0h1m1 0h1m4 0h1m4 0h7m1 0h2m2 0h3m7 0h1m1 0h2m3 0h1m5 0h3m3 0h1m2 0h1m1 0h1m7 0h3m3 0h1m4 0h1m1 0h2m1 0h1m3 0h1m7 0h1m1 0h1m2 0h1m1 0h1m1 0h3m1 0h2m1 0h2m1 0h1m7 0h1m2 0h2m1 0h1m1 0h1m3 0h2m4 0h1m3 0h1m1 0h1m1 0h1m5 0h2m2 0h1m2 0h1m1 0h1m1 0h2m3 0h1m11 0h1m4 0h2m4 0h2m4 0h1m1 0h1m1 0h2m2 0h1m2 0h2m2 0h1m1 0h3m4 0h6m2 0h2m2 0h1m2 0h1m2 0h2m1 0h1m5 0h1m1 0h1m1 0h1m3 0h1m5 0h2m3 0h1m1 0h1m4 0h2m1 0h2m1 0h2m3 0h1m6 0h1m2 0h4m3 0h3m5 0h2m2 0h1m1 0h1m9 0h3m1 0h1m2 0h1m3 0h1m1 0h2m1 0h1m5 0h1m2 0h1m1 0h2m2 0h1m4 0h1m3 0h1m3 0h1m4 0h1m1 0h2m2 0h1m5 0h1M9 895h1m37 0h1m2 0h1m46 0h1m19 0h1m27 0h1m4 0h1m11 0h1m84 0h1m30 0h1m95 0h1m7 0h1m10 0h1m7 0h1m4 0h1m9 0h1m58 0h1"/>
<path class="q4" d="M10 453h1m3 0h1m6 0h2m5 0h1m12 0h1m5 0h1m2 0h1m2 0h2m7 0h1m6 0h2m4 0h3m3 0h1m4 0h1m3 0h1m1 0h1m1 0h1m17 0h1m1 0h1m2 0h1m21 0h1m15 0h1m9 0h1m2 0h1m15 0h3m2 0h1m4 0h1m3 0h1m1 0h1m5 0h1m19 0h1m2 0h1m13 0h1m5 0h1m3 0h1m1 0h1m23 0h1m5 0h1m10 0h1m13 0h1m1 0h1m6 0h1m3 0h1m5 0h1m17 0h1m22 0h1m9 0h1m2 0h1m16 0h1m24 0h1m17 0h1m4 0h1m7 0h1m4 0h1m2 0h1m7 0h1m19 0h1m2 0h1m1 0h1M7 895h1m9 0h1m1 0h1m18 0h1m2 0h1m7 0h1m3 0h1m5 0h1m13 0h1m3 0h1m26 0h1m8 0h1m25 0h1m17 0h1m10 0h1m8 0h1m1 0h1m4 0h1m2 0h1m24 0h1m8 0h1m3 0h1m22 0h1m7 0h1m6 0h1m4 0h2m10 0h1m3 0h1m31 0h1m3 0h1m10 0h1m23 0h1m9 0h1m2 0h1m19 0h1m6 0h1m48 0h1m6 0h1m2 0h1m15 0h1m1 0h1m1 0h1m1 0h2m5 0h1m9 0h1"/>
<path class="q6" d="M26 453h1m62 0h1m1 0h1m4 0h1m46 0h1m107 0h1m26 0h1m9 0h1m43 0h1m65 0h1m19 0h1m40 0h1m38 0h1M2 895h1m1 0h1m1 0h1m3 0h1m2 0h1m13 0h1m4 0h1m1 0h1m7 0h1m3 0h1m1 0h1m3 0h1m22 0h1m2 0h1m2 0h1m7 0h2m4 0h2m4 0h1m1 0h1m10 0h3m1 0h2m4 0h1m10 0h1m8 0h1m1 0h1m7 0h1m3 0h1m1 0h1m8 0h1m4 0h1m3 0h1m31 0h1m7 0h1m9 0h1m3 0h1m1 0h1m6 0h1m7 0h3m3 0h1m26 0h1m25 0h1m4 0h1m1 0h1m7 0h1m20 0h2m16 0h1m13 0h1m7 0h2m4 0h2m2 0h1m2 0h2m8 0h1m2 0h1m2 0h1m43 0h1m2 0h1m7 0h1m2 0h1m1 0h1m8 0h1m1 0h1m2 0h2m2 0h1"/>
<path class="q8" d="M0 895h1m10 0h2m1 0h1m5 0h1m7 0h1m1 0h2m1 0h1m3 0h1m1 0h1m15 0h1m10 0h1m5 0h1m1 0h1m5 0h1m2 0h1m2 0h1m5 0h1m1 0h1m3 0h1m7 0h3m2 0h1m22 0h1m2 0h1m4 0h1m8 0h1m7 0h1m1 0h1m1 0h1m3 0h1m7 0h1m15 0h3m6 0h1m3 0h1m11 0h1m7 0h1m6 0h1m3 0h1m7 0h1m2 0h1m5 0h1m21 0h3m4 0h1m6 0h1m2 0h2m4 0h1m1 0h1m1 0h1m7 0h1m4 0h1m3 0h2m1 0h2m1 0h1m9 0h1m1 0h2m3 0h1m4 0h1m2 0h2m6 0h1m5 0h1m5 0h1m5 0h1m1 0h1m1 0h1m24 0h1m13 0h1m6 0h1m21 0h2m7 0h1m6 0h1m35 0h1"/>
<path class="q10" d="M5 895h1m9 0h2m4 0h1m3 0h1m14 0h1m2 0h2m9 0h1m5 0h1m2 0h1m7 0h1m7 0h1m5 0h1m13 0h2m11 0h1m13 0h1m1 0h1m1 0h1m10 0h1m5 0h3m16 0h1m5 0h1m3 0h1m8 0h2m10 0h2m7 0h1m6 0h1m5 0h1m2 0h1m4 0h1m1 0h1m8 0h1m6 0h1m7 0h1m6 0h1m1 0h1m3 0h1m3 0h1m6 0h1m5 0h1m2 0h1m2 0h1m5 0h1m9 0h1m4 0h1m1 0h1m38 0h2m1 0h1m4 0h2m6 0h1m15 0h1m3 0h1m4 0h1m6 0h1m23 0h1m3 0h3m12 0h1m9 0h2m5 0h1m2 0h1m16 0h1m1 0h1m7 0h1m5 0h1m1 0h1"/>
<path class="q12" d="M22 895h1m3 0h1m8 0h2m14 0h1m12 0h1m22 0h1m17 0h1m4 0h1m11 0h2m3 0h1m1 0h1m22 0h2m10 0h2m5 0h1m9 0h1m1 0h1m12 0h1m5 0h1m2 0h1m3 0h1m7 0h1m15 0h1m3 0h1m2 0h1m1 0h1m1 0h1m9 0h1m2 0h3m5 0h1m5 0h3m11 0h1m1 0h1m2 0h1m9 0h1m24 0h2m1 0h2m10 0h1m1 0h1m4 0h1m8 0h1m4 0h1m2 0h1m1 0h1m5 0h1m13 0h1m15 0h2m4 0h2m5 0h1m6 0h1m7 0h1m1 0h1m2 0h3m2 0h2m7 0h1m8 0h1m5 0h1m1 0h2m1 0h1m10 0h1m4 0h2m5 0h1m5 0h1"/>
<path class="q14" d="M1 895h1m1 0h1m4 0h1m9 0h1m5 0h1m20 0h1m10 0h1m5 0h1m21 0h1m8 0h1m26 0h1m12 0h1m4 0h1m16 0h2m32 0h2m4 0h1m43 0h1m21 0h1m2 0h1m2 0h1m26 0h1m1 0h1m6 0h2m12 0h1m15 0h1m4 0h2m13 0h1m16 0h2m6 0h1m2 0h1m7 0h1m6 0h1m8 0h1m15 0h1m2 0h1m9 0h1m10 0h1m15 0h1"/>
<path class="q16" d="M23 895h1m34 0h1m8 0h2m13 0h1m8 0h1m10 0h1m18 0h1m3 0h1m6 0h1m3 0h1m33 0h1m2 0h1m14 0h1m12 0h1m1 0h1m3 0h1m6 0h1m15 0h1m5 0h1m42 0h1m13 0h1m8 0h1m3 0h1m4 0h1m18 0h1m1 0h1m2 0h1m7 0h1m4 0h1m24 0h1m37 0h2m6 0h1m13 0h1m4 0h1m4 0h1m2 0h1m8 0h1m9 0h1m24 0h1"/>
<path class="q18" d="M29 895h1m27 0h1m12 0h1m5 0h1m32 0h1m21 0h1m11 0h1m50 0h1m16 0h1m3 0h1m4 0h1m2 0h1m74 0h1m59 0h1m21 0h1m39 0h1m5 0h1m12 0h1m10 0h1m43 0h1"/>
<path class="q20" d="M61 895h1m118 0h1m1 0h1m16 0h1m8 0h1m17 0h1m173 0h1m13 0h1m16 0h1m64 0h1"/>
<path class="q22" d="M65 895h1m3 0h1m18 0h1"/>
<path class="q24" d="M327 895h1"/>
<path class="q26" d="M140 895h1m166 0h1"/>
</g>
<g stroke-width="6.5">
<path class="q2" d="M0 721.75h1m5 0h2m5 0h3m2 0h8m1 0h1m1 0h1m1 0h1m2 0h1m3 0h2m1 0h1m4 0h1m3 0h2m1 0h1m3 0h2m1 0h1m1 0h1m1 0h4m1 0h1m1 0h1m16 0h1m1 0h1m2 0h1m2 0h1m1 0h1m1 0h1m1 0h1m2 0h1m2 0h1m1 0h2m1 0h2m2 0h5m4 0h1m6 0h1m1 0h2m5 0h1m6 0h3m1 0h1m8 0h1m1 0h1m1 0h2m2 0h2m2 0h1m2 0h1m1 0h1m1 0h1m1 0h1m2 0h2m3 0h1m1 0h2m3 0h1m2 0h1m3 0h1m2 0h1m1 0h1m2 0h1m3 0h2m1 0h3m4 0h1m3 0h1m2 0h2m3 0h2m2 0h2m1 0h5m2 0h1m2 0h1m4 0h1m2 0h1m1 0h1m9 0h1m2 0h2m1 0h1m2 0h1m6 0h1m1 0h2m5 0h1m1 0h2m2 0h1m4 0h1m1 0h2m1 0h4m4 0h1m1 0h1m5 0h3m6 0h2m4 0h2m6 0h2m2 0h1m2 0h1m1 0h1m2 0h1m1 0h2m11 0h1m1 0h2m1 0h1m3 0h1m1 0h1m5 0h2m1 0h1m1 0h1m5 0h3m1 0h1m5 0h1m3 0h1m1 0h1m5 0h1m3 0h1m2 0h1m1 0h2m1 0h1m2 0h1m1 0h1m1 0h1m1 0h1m3 0h1m1 0h1m1 0h1m4 0h2m2 0h2m4 0h1m2 0h2m3 0h1m4 0h2m2 0h3m1 0h1"/>
<path class="q4" d="M5 721.75h1m11 0h1m12 0h1m1 0h1m11 0h1m3 0h2m2 0h1m3 0h1m2 0h1m3 0h1m6 0h1m5 0h2m16 0h1m12 0h1m16 0h2m4 0h1m6 0h1m10 0h1m3 0h1m3 0h1m3 0h1m11 0h1m5 0h1m6 0h1m2 0h1m13 0h2m5 0h1m14 0h2m3 0h1m2 0h2m11 0h1m5 0h2m1 0h1m4 0h1m7 0h2m8 0h1m6 0h1m1 0h1m6 0h1m17 0h1m4 0h1m11 0h2m16 0h1m5 0h1m8 0h2m10 0h3m1 0h1m1 0h1m10 0h1m16 0h1m2 0h1m3 0h1m4 0h2m3 0h1m4 0h1m6 0h1m7 0h1m12 0h1m3 0h1m1 0h1m10 0h2m2 0h1"/>
<path class="q6" d="M72 721.75h1m11 0h1m6 0h1m7 0h1m1 0h1m21 0h1m3 0h1m1 0h1m2 0h1m13 0h1m22 0h1m26 0h2m2 0h1m10 0h1m14 0h1m15 0h1m14 0h1m16 0h1m6 0h1m5 0h1m12 0h1m5 0h1m32 0h1m1 0h1m9 0h1m24 0h1m3 0h1m23 0h1m12 0h1m13 0h1m17 0h1m1 0h1m4 0h1m27 0h1m7 0h1"/>
<path class="q8" d="M85 721.75h1m90 0h1m18 0h1m19 0h1m105 0h1m157 0h1m17 0h1"/>
<path class="q10" d="M86 721.75h1m285 0h1"/>
</g>
<g stroke-width="6.6">
<path class="q2" d="M1 477.7h1m3 0h2m2 0h1m1 0h2m1 0h2m2 0h4m1 0h1m4 0h1m1 0h1m1 0h3m2 0h1m2 0h3m11 0h1m7 0h2m1 0h2m3 0h4m1 0h1m2 0h2m3 0h1m2 0h2m1 0h1m3 0h1m1 0h4m1 0h2m2 0h1m4 0h2m2 0h1m3 0h1m2 0h1m7 0h2m2 0h4m2 0h1m3 0h2m2 0h2m5 0h1m1 0h3m1 0h2m2 0h1m1 0h2m6 0h1m4 0h4m2 0h1m3 0h3m1 0h1m1 0h3m2 0h1m1 0h2m3 0h1m3 0h1m1 0h4m1 0h1m6 0h1m1 0h1m2 0h1m1 0h1m1 0h1m9 0h1m3 0h3m1 0h1m1 0h1m5 0h2m4 0h1m6 0h1m2 0h1m1 0h8m4 0h4m1 0h1m5 0h3m1 0h1m4 0h1m2 0h3m2 0h2m3 0h1m2 0h2m2 0h2m1 0h1m4 0h1m10 0h1m9 0h2m3 0h2m2 0h2m2 0h1m8 0h1m2 0h1m3 0h1m1 0h1m2 0h1m1 0h2m1 0h2m1 0h3m3 0h2m3 0h2m2 0h1m2 0h2m1 0h1m1 0h2m1 0h1m2 0h2m1 0h1m5 0h1m11 0h3m7 0h4m4 0h1m2 0h1m4 0h1m2 0h2m1 0h2m4 0h1m4 0h1m1 0h2m2 0h1"/>
<path class="q4" d="M7 477.7h1m2 0h1m13 0h2m23 0h2m7 0h2m4 0h1m38 0h1m2 0h1m5 0h1m17 0h1m13 0h1m5 0h1m13 0h1m5 0h2m10 0h1m8 0h1m1 0h1m11 0h1m2 0h1m11 0h1m1 0h1m4 0h1m2 0h1m1 0h1m1 0h1m7 0h1m3 0h1m14 0h1m43 0h4m7 0h1m4 0h1m1 0h1m11 0h1m2 0h1m1 0h1m10 0h1m2 0h1m21 0h1m1 0h1m6 0h1m2 0h1m1 0h1m5 0h1m8 0h1m2 0h1m44 0h2m20 0h1m9 0h1m6 0h1m4 0h1"/>
<path class="q6" d="M16 477.7h1m10 0h1m66 0h1m44 0h1m27 0h1m4 0h1m101 0h1m11 0h1m8 0h1m3 0h1m43 0h1m40 0h1"/>
<path class="q8" d="M51 477.7h1m293 0h1"/>
</g>
<g stroke-width="7">
<path class="q2" d="M0 888.5h1m1 0h1m2 0h1m19 0h1m10 0h1m4 0h1m3 0h1m45 0h1m2 0h1m2 0h2m1 0h2m1 0h1m1 0h1m1 0h1m16 0h2m1 0h1m3 0h1m2 0h1m4 0h1m3 0h1m1 0h1m5 0h1m5 0h2m16 0h1m7 0h1m4 0h1m12 0h2m24 0h1m13 0h1m4 0h2m5 0h1m4 0h3m2 0h1m2 0h1m2 0h3m8 0h1m2 0h1m8 0h1m28 0h1m5 0h2m5 0h1m2 0h1m2 0h1m3 0h1m4 0h1m6 0h1m14 0h1m13 0h1m20 0h1m13 0h1m7 0h1m4 0h1m12 0h2m30 0h1m3 0h1m7 0h1m3 0h1"/>
<path class="q4" d="M1 888.5h1m2 0h1m1 0h1m8 0h1m3 0h1m9 0h1m1 0h1m8 0h1m17 0h1m2 0h2m3 0h1m5 0h1m12 0h1m23 0h1m2 0h1m1 0h1m3 0h1m1 0h1m2 0h1m5 0h2m7 0h1m5 0h1m1 0h1m3 0h1m1 0h2m5 0h1m3 0h1m18 0h1m4 0h1m5 0h1m15 0h1m6 0h2m5 0h1m6 0h1m4 0h1m3 0h1m4 0h1m9 0h1m1 0h2m17 0h1m2 0h1m6 0h1m7 0h1m1 0h1m3 0h1m3 0h2m1 0h1m2 0h1m7 0h2m3 0h1m1 0h1m4 0h1m13 0h1m8 0h2m3 0h1m5 0h1m2 0h1m3 0h1m3 0h1m2 0h1m3 0h1m7 0h1m6 0h4m2 0h1m7 0h2m4 0h1m1 0h1m2 0h1m1 0h2m10 0h1m5 0h1m1 0h1m6 0h1m2 0h1m1 0h1m3 0h1m1 0h3m5 0h1m3 0h1m6 0h1m7 0h1m7 0h2"/>
<path class="q6" d="M3 888.5h1m8 0h1m3 0h3m1 0h1m3 0h1m3 0h1m9 0h2m2 0h2m4 0h2m10 0h1m2 0h2m5 0h1m3 0h1m2 0h1m2 0h1m6 0h1m1 0h1m12 0h1m3 0h1m1 0h1m7 0h2m8 0h1m8 0h1m4 0h1m6 0h2m6 0h1m4 0h3m3 0h3m2 0h1m1 0h1m2 0h2m3 0h1m2 0h1m11 0h1m1 0h3m2 0h4m1 0h1m2 0h1m16 0h1m3 0h2m2 0h2m2 0h1m20 0h1m5 0h1m8 0h1m2 0h1m2 0h1m3 0h1m11 0h1m1 0h1m6 0h1m3 0h6m2 0h1m3 0h1m6 0h2m7 0h1m6 0h1m1 0h1m9 0h1m3 0h1m6 0h1m10 0h1m1 0h1m4 0h1m4 0h1m1 0h2m12 0h1m3 0h1m12 0h1m8 0h1m14 0h1m4 0h1m1 0h1m10 0h1m4 0h1m1 0h1m2 0h1m3 0h1m2 0h1m7 0h2m5 0h1"/>
<path class="q8" d="M7 888.5h1m1 0h1m1 0h1m10 0h1m14 0h1m12 0h1m2 0h2m10 0h1m5 0h1m4 0h1m1 0h1m9 0h1m4 0h1m2 0h1m2 0h1m10 0h1m2 0h1m1 0h1m3 0h1m1 0h2m9 0h1m4 0h1m4 0h1m13 0h1m17 0h1m10 0h1m5 0h1m2 0h1m2 0h1m15 0h1m1 0h1m3 0h1m4 0h2m8 0h1m8 0h1m6 0h2m10 0h1m5 0h1m4 0h1m3 0h1m6 0h1m2 0h1m8 0h2m3 0h1m3 0h1m20 0h1m5 0h1m2 0h2m5 0h1m21 0h1m3 0h1m10 0h1m3 0h2m6 0h1m1 0h1m6 0h2m2 0h1m2 0h1m6 0h1m7 0h1m3 0h2m2 0h1m7 0h2m2 0h1m1 0h1m3 0h1m3 0h1m5 0h1m16 0h1m11 0h1"/>
<path class="q10" d="M8 888.5h1m5 0h1m11 0h2m2 0h1m2 0h2m9 0h1m1 0h1m4 0h2m16 0h1m5 0h1m5 0h1m1 0h1m11 0h1m68 0h2m3 0h2m1 0h1m5 0h1m7 0h1m2 0h1m17 0h1m2 0h1m10 0h1m4 0h1m2 0h1m15 0h1m2 0h1m3 0h1m28 0h1m8 0h1m3 0h1m7 0h1m5 0h1m1 0h1m9 0h1m4 0h1m21 0h1m7 0h1m4 0h1m4 0h1m7 0h1m2 0h1m1 0h1m9 0h1m1 0h1m12 0h1m1 0h1m13 0h1m12 0h1m4 0h1m32 0h1m5 0h1m6 0h1m1 0h2m11 0h1"/>
<path class="q12" d="M21 888.5h1m1 0h1m31 0h1m12 0h1m17 0h1m17 0h1m6 0h1m21 0h1m7 0h1m7 0h1m40 0h1m1 0h1m25 0h1m12 0h1m6 0h1m25 0h1m9 0h1m13 0h1m2 0h1m41 0h1m16 0h1m3 0h1m4 0h1m7 0h1m18 0h1m22 0h1m3 0h1m15 0h1m34 0h3m1 0h1m2 0h1m17 0h1m1 0h1"/>
<path class="q14" d="M10 888.5h1m2 0h1m18 0h1m14 0h1m8 0h2m1 0h1m7 0h1m11 0h1m2 0h1m7 0h1m45 0h1m77 0h1m5 0h1m21 0h1m6 0h1m88 0h1m2 0h1m30 0h1m2 0h1m64 0h1m54 0h1"/>
<path class="q16" d="M84 888.5h1m7 0h1m172 0h1m6 0h1m144 0h1m27 0h1m11 0h1m21 0h1"/>
<path class="q18" d="M180 888.5h1m108 0h1m146 0h1"/>
<path class="q20" d="M451 888.5h1"/>
<path class="q22" d="M73 888.5h1m287 0h1"/>
</g>
<g stroke-width="7.6">
<path class="q2" d="M0 571.8h2m7 0h1m1 0h1m4 0h2m2 0h1m9 0h1m5 0h6m3 0h4m1 0h1m5 0h1m8 0h1m3 0h3m1 0h1m2 0h1m2 0h2m1 0h1m2 0h2m3 0h3m1 0h1m3 0h1m3 0h2m1 0h1m2 0h1m2 0h1m9 0h1m9 0h1m1 0h1m2 0h2m5 0h2m3 0h2m1 0h1m4 0h3m4 0h2m5 0h1m2 0h1m3 0h1m1 0h2m3 0h1m1 0h2m3 0h2m2 0h3m6 0h2m4 0h2m2 0h1m5 0h3m1 0h1m5 0h1m1 0h1m4 0h3m7 0h1m3 0h2m1 0h1m5 0h1m2 0h2m1 0h1m2 0h1m15 0h1m6 0h1m4 0h2m14 0h1m4 0h1m11 0h2m1 0h1m2 0h3m7 0h2m2 0h1m2 0h1m1 0h1m5 0h2m4 0h1m3 0h2m3 0h2m6 0h1m8 0h1m1 0h1m4 0h1m2 0h1m2 0h2m1 0h1m1 0h1m1 0h1m3 0h1m2 0h1m5 0h1m1 0h1m7 0h1m2 0h2m6 0h1m1 0h1m1 0h3m1 0h1m6 0h9m6 0h2m7 0h2m5 0h1m2 0h1m1 0h1"/>
<path class="q4" d="M2 571.8h1m2 0h1m1 0h1m2 0h1m3 0h2m3 0h1m2 0h2m4 0h1m2 0h1m1 0h1m15 0h1m2 0h1m6 0h1m4 0h1m1 0h2m6 0h1m8 0h2m2 0h1m7 0h1m1 0h1m6 0h1m1 0h2m5 0h1m8 0h2m10 0h1m5 0h1m1 0h1m11 0h1m11 0h4m2 0h1m8 0h2m17 0h1m5 0h1m2 0h1m2 0h2m9 0h1m2 0h1m1 0h2m3 0h2m8 0h1m13 0h1m4 0h1m11 0h2m3 0h1m3 0h1m2 0h1m12 0h1m8 0h1m1 0h1m6 0h1m1 0h1m1 0h3m11 0h1m4 0h3m1 0h1m3 0h2m1 0h1m2 0h1m3 0h1m10 0h1m5 0h1m6 0h2m4 0h3m8 0h1m1 0h1m2 0h1m5 0h1m1 0h1m2 0h1m9 0h1m1 0h1m1 0h2m6 0h1m6 0h1m3 0h1m8 0h1m1 0h1m1 0h1m10 0h1m6 0h1m2 0h1m1 0h1m4 0h1m2 0h1m4 0h1"/>
<path class="q6" d="M6 571.8h1m5 0h1m13 0h1m36 0h1m13 0h1m23 0h1m8 0h1m19 0h1m24 0h1m4 0h1m1 0h1m52 0h1m37 0h1m36 0h1m9 0h2m18 0h1m8 0h1m2 0h1m12 0h1m6 0h1m3 0h2m21 0h1m34 0h1m68 0h1"/>
<path class="q8" d="M4 571.8h1m95 0h1m124 0h1m69 0h1m67 0h1m60 0h1"/>
</g>
<g stroke-width="7.8">
<path class="q2" d="M2 734.9h1m2 0h1m7 0h1m1 0h3m3 0h1m1 0h3m9 0h1m3 0h1m2 0h1m1 0h1m2 0h3m1 0h1m1 0h1m1 0h2m1 0h2m1 0h1m5 0h1m4 0h2m2 0h1m2 0h1m1 0h1m2 0h1m1 0h1m1 0h1m1 0h1m5 0h1m3 0h1m1 0h1m1 0h2m2 0h2m1 0h2m2 0h2m1 0h2m6 0h3m4 0h1m2 0h1m2 0h1m6 0h2m6 0h2m4 0h1m5 0h1m3 0h1m7 0h2m3 0h2m6 0h1m1 0h2m3 0h3m6 0h1m4 0h2m2 0h1m1 0h5m2 0h1m8 0h1m4 0h1m6 0h2m4 0h1m18 0h1m4 0h6m2 0h2m5 0h3m3 0h4m1 0h5m2 0h2m6 0h2m1 0h2m8 0h1m2 0h1m4 0h1m2 0h1m1 0h2m2 0h1m1 0h1m7 0h1m6 0h1m1 0h1m2 0h5m1 0h1m2 0h2m2 0h1m4 0h1m9 0h1m2 0h1m3 0h1m2 0h1m7 0h2m1 0h2m2 0h1m2 0h2m2 0h3m3 0h1m1 0h1m1 0h1m2 0h2m2 0h1m2 0h2m2 0h1m5 0h1m2 0h1m2 0h1m4 0h1m1 0h1m2 0h1m2 0h1m1 0h1m2 0h1m1 0h1m2 0h1m2 0h1m3 0h1"/>
<path class="q4" d="M3 734.9h1m10 0h1m4 0h1m9 0h4m5 0h1m1 0h1m34 0h1m2 0h1m38 0h1m2 0h2m3 0h1m8 0h2m1 0h2m2 0h1m11 0h1m5 0h1m4 0h1m16 0h1m13 0h1m7 0h1m1 0h1m4 0h1m18 0h1m3 0h1m9 0h2m16 0h1m8 0h1m1 0h1m15 0h1m7 0h1m18 0h2m20 0h1m4 0h1m7 0h1m5 0h1m3 0h1m24 0h2m5 0h1m1 0h1m3 0h2m1 0h1m8 0h1m3 0h1m9 0h1m13 0h1m12 0h1m6 0h1m22 0h1m4 0h1m11 0h1"/>
<path class="q6" d="M0 734.9h1m33 0h1m94 0h1m45 0h1m16 0h1m8 0h1m4 0h1m4 0h1m2 0h2m11 0h1m101 0h1m15 0h1m62 0h1m35 0h1"/>
<path class="q8" d="M406 734.9h1"/>
</g>
<g stroke-width="8">
<path class="q2" d="M4 195h1m6 0h1m2 0h1m6 0h1m1 0h1m5 0h2m1 0h1m1 0h1m2 0h1m1 0h1m1 0h2m1 0h1m2 0h1m5 0h1m2 0h2m5 0h1m4 0h1m1 0h2m3 0h1m1 0h1m3 0h1m4 0h1m1 0h1m4 0h1m2 0h3m7 0h1m1 0h1m19 0h4m1 0h1m1 0h1m1 0h1m3 0h1m4 0h1m3 0h1m1 0h1m2 0h1m1 0h2m1 0h1m4 0h1m1 0h2m1 0h1m6 0h1m1 0h1m2 0h1m1 0h1m4 0h1m4 0h1m12 0h1m1 0h1m3 0h1m4 0h1m5 0h1m2 0h1m1 0h3m2 0h1m2 0h1m1 0h1m1 0h1m2 0h2m3 0h3m2 0h2m1 0h2m7 0h1m1 0h1m2 0h1m15 0h2m1 0h1m3 0h1m6 0h3m2 0h1m2 0h3m6 0h1m2 0h2m8 0h1m3 0h2m1 0h1m1 0h2m2 0h1m4 0h1m4 0h1m2 0h2m1 0h1m2 0h1m1 0h1m5 0h2m4 0h1m8 0h1m1 0h2m2 0h1m1 0h1m1 0h3m1 0h1m3 0h1m7 0h1m1 0h2m5 0h1m1 0h3m1 0h1m1 0h1m3 0h1m4 0h1m3 0h1m2 0h3m4 0h1m2 0h3m1 0h2m3 0h1m5 0h1m1 0h1m3 0h1m8 0h1m3 0h2m2 0h1M165 714.5h1m218 0h1m38 0h1m10 0h1"/>
<path class="q4" d="M13 195h1m14 0h1m4 0h1m11 0h1m27 0h2m17 0h1m10 0h1m3 0h1m1 0h1m9 0h1m12 0h1m18 0h1m1 0h1m9 0h1m12 0h1m33 0h1m3 0h1m20 0h1m10 0h1m1 0h1m21 0h1m18 0h1m17 0h1m8 0h1m8 0h1m3 0h1m13 0h1m9 0h1m19 0h2m5 0h1m38 0h2m16 0h1m12 0h2m21 0h1m3 0h1m16 0h1M24 714.5h1m102 0h1m32 0h3m1 0h1m76 0h1m22 0h1m11 0h1m56 0h1m90 0h1m45 0h1"/>
<path class="q6" d="M1 195h1m25 0h1m37 0h1m50 0h2m31 0h1m109 0h1M25 714.5h3m68 0h1m9 0h1m1 0h1m27 0h1m32 0h1m2 0h1m63 0h1m19 0h1m14 0h1m5 0h1m2 0h1m19 0h1m26 0h1m1 0h2m22 0h1m20 0h1m12 0h1m48 0h1m10 0h1m29 0h1"/>
<path class="q8" d="M99 195h1m62 0h1m122 0h1M2 714.5h1m29 0h1m11 0h1m28 0h1m4 0h3m1 0h1m26 0h1m10 0h1m8 0h1m13 0h1m1 0h2m2 0h1m18 0h1m17 0h1m2 0h1m9 0h1m31 0h1m6 0h1m1 0h1m43 0h1m8 0h1m43 0h1m4 0h1m24 0h1m9 0h1m5 0h1m15 0h1m1 0h2m38 0h1m7 0h1m5 0h1m1 0h1m13 0h1m12 0h1m3 0h1"/>
<path class="q10" d="M0 714.5h1m2 0h2m2 0h1m1 0h3m9 0h1m1 0h1m6 0h2m2 0h2m4 0h2m7 0h2m5 0h1m2 0h1m1 0h2m2 0h1m1 0h1m6 0h1m1 0h1m4 0h1m1 0h2m22 0h1m2 0h1m19 0h1m1 0h3m2 0h1m2 0h1m9 0h1m7 0h1m16 0h1m1 0h1m15 0h1m2 0h1m7 0h1m14 0h1m37 0h1m1 0h1m8 0h1m19 0h1m3 0h1m17 0h1m3 0h4m14 0h1m11 0h2m2 0h3m5 0h1m1 0h1m4 0h1m4 0h1m1 0h1m1 0h1m2 0h1m24 0h1m13 0h1m1 0h1m12 0h1m5 0h1m1 0h1m1 0h2m7 0h1m19 0h1m4 0h1m13 0h1"/>
<path class="q12" d="M15 714.5h1m32 0h1m5 0h1m17 0h1m4 0h1m7 0h1m3 0h1m1 0h1m5 0h1m1 0h1m14 0h1m6 0h2m3 0h1m11 0h1m8 0h1m33 0h3m3 0h1m2 0h1m15 0h2m10 0h1m1 0h2m2 0h2m2 0h1m6 0h1m6 0h1m2 0h1m2 0h1m9 0h1m13 0h1m5 0h1m7 0h1m12 0h1m3 0h1m3 0h1m3 0h1m1 0h1m8 0h1m18 0h1m19 0h1m11 0h1m4 0h1m9 0h1m16 0h1m14 0h1m12 0h1m9 0h1m8 0h2m10 0h1m7 0h1m5 0h1m16 0h1m2 0h1"/>
<path class="q14" d="M16 714.5h1m3 0h1m12 0h1m3 0h2m8 0h1m5 0h1m1 0h1m2 0h1m1 0h1m10 0h1m15 0h2m9 0h1m3 0h1m8 0h3m5 0h1m5 0h1m18 0h1m6 0h1m5 0h1m8 0h2m2 0h2m12 0h1m6 0h2m22 0h1m1 0h1m8 0h1m2 0h2m2 0h2m4 0h1m15 0h1m10 0h1m2 0h1m13 0h1m7 0h1m2 0h1m1 0h1m5 0h1m1 0h1m1 0h1m2 0h1m30 0h1m2 0h1m3 0h1m4 0h1m1 0h1m16 0h1m7 0h1m5 0h1m18 0h1m4 0h1m5 0h1m1 0h1m13 0h1m6 0h1m5 0h1m5 0h1m11 0h1m6 0h1m10 0h1m1 0h1m8 0h1"/>
<path class="q16" d="M14 714.5h1m27 0h1m23 0h1m3 0h1m4 0h1m10 0h1m3 0h1m2 0h1m11 0h1m10 0h1m6 0h2m27 0h1m6 0h1m18 0h1m1 0h1m4 0h1m8 0h2m6 0h1m2 0h1m2 0h1m3 0h1m30 0h1m9 0h1m7 0h1m3 0h1m23 0h1m7 0h1m3 0h1m21 0h4m4 0h1m2 0h1m1 0h1m1 0h2m19 0h1m2 0h1m2 0h2m9 0h1m5 0h1m6 0h1m4 0h1m1 0h1m11 0h1m16 0h1m30 0h1m1 0h1m4 0h1m1 0h1m9 0h1m3 0h1m3 0h1m1 0h2"/>
<path class="q18" d="M5 714.5h1m39 0h1m11 0h1m6 0h1m3 0h1m26 0h1m22 0h1m16 0h1m6 0h1m10 0h1m9 0h1m10 0h1m13 0h1m9 0h1m2 0h1m9 0h1m11 0h1m8 0h1m16 0h1m1 0h1m2 0h1m5 0h1m24 0h1m22 0h1m42 0h1m5 0h1m23 0h1m21 0h1m3 0h1m5 0h1m5 0h1m1 0h2m3 0h1m15 0h1m17 0h1m13 0h1m6 0h1m8 0h1m2 0h1m2 0h1"/>
<path class="q20" d="M1 714.5h1m6 0h1m3 0h1m4 0h1m11 0h1m6 0h1m26 0h1m28 0h1m11 0h1m10 0h1m1 0h1m10 0h1m25 0h1m1 0h1m16 0h1m35 0h2m2 0h1m8 0h1m4 0h1m16 0h1m2 0h1m2 0h1m16 0h1m6 0h2m11 0h1m7 0h1m25 0h1m6 0h1m6 0h1m28 0h1m4 0h1m25 0h1m1 0h2m11 0h1m7 0h1m11 0h1m15 0h1m4 0h1"/>
<path class="q22" d="M22 714.5h1m16 0h1m3 0h1m7 0h2m78 0h1m9 0h1m6 0h1m6 0h1m20 0h1m39 0h1m20 0h1m24 0h1m16 0h1m2 0h1m7 0h1m14 0h1m6 0h1m7 0h1m25 0h1m43 0h1m2 0h1m12 0h1m4 0h1m16 0h1m25 0h1m4 0h1m16 0h1m15 0h1m6 0h1"/>
<path class="q24" d="M19 714.5h1m26 0h1m22 0h1m24 0h1m8 0h1m35 0h1m39 0h1m23 0h1m10 0h1m31 0h1m5 0h1m17 0h1m27 0h1m56 0h1m24 0h1m51 0h1m28 0h1m32 0h1m2 0h1"/>
<path class="q26" d="M6 714.5h1m6 0h1m4 0h1m244 0h1m9 0h1m7 0h1m36 0h1m147 0h2m21 0h1"/>
<path class="q28" d="M100 714.5h2m95 0h1m2 0h1m118 0h1m92 0h1m14 0h1m17 0h1"/>
<path class="q30" d="M360 714.5h1m25 0h1m4 0h2"/>
</g>
<g stroke-width="8.1">
<path class="q2" d="M5 336.55h1m1 0h1m1 0h1m7 0h1m4 0h1m1 0h1m10 0h2m1 0h1m1 0h1m5 0h1m9 0h1m4 0h1m2 0h1m7 0h1m5 0h2m4 0h1m9 0h1m2 0h2m4 0h3m10 0h1m2 0h2m4 0h1m1 0h1m3 0h1m20 0h2m1 0h1m5 0h2m4 0h1m5 0h1m4 0h1m1 0h1m1 0h1m4 0h1m13 0h1m8 0h1m1 0h1m3 0h1m1 0h2m6 0h2m2 0h2m6 0h1m5 0h2m5 0h2m1 0h1m3 0h2m4 0h2m8 0h1m8 0h1m2 0h2m6 0h1m1 0h1m4 0h1m5 0h1m1 0h2m1 0h1m13 0h1m2 0h2m7 0h2m12 0h1m10 0h1m3 0h1m4 0h1m2 0h1m1 0h1m1 0h1m1 0h1m2 0h2m1 0h2m2 0h2m4 0h1m2 0h3m1 0h3m5 0h1m7 0h1m3 0h1m1 0h1m4 0h1m10 0h1m10 0h1m8 0h2m2 0h1m6 0h1m6 0h2m5 0h2m6 0h1"/>
<path class="q4" d="M4 336.55h1m9 0h1m4 0h1m5 0h1m4 0h4m3 0h1m3 0h1m8 0h1m4 0h1m3 0h2m6 0h1m5 0h1m1 0h3m2 0h1m5 0h2m1 0h1m2 0h2m7 0h1m5 0h1m3 0h1m2 0h1m2 0h2m5 0h1m10 0h1m2 0h1m6 0h1m2 0h1m5 0h1m4 0h1m3 0h1m2 0h1m4 0h2m2 0h1m3 0h1m1 0h1m1 0h2m5 0h1m4 0h2m1 0h1m3 0h3m3 0h1m5 0h2m4 0h1m2 0h1m1 0h1m3 0h1m2 0h1m2 0h2m4 0h1m1 0h1m5 0h2m4 0h3m4 0h2m5 0h3m1 0h1m4 0h1m1 0h1m1 0h1m2 0h1m3 0h2m6 0h2m7 0h1m1 0h1m7 0h1m1 0h1m4 0h3m5 0h3m8 0h3m2 0h1m1 0h2m14 0h1m2 0h1m1 0h1m2 0h1m9 0h1m5 0h1m4 0h3m1 0h1m4 0h1m13 0h1m1 0h1m9 0h1m2 0h1m3 0h1m3 0h1m3 0h1m6 0h1m3 0h1m4 0h2m3 0h1m4 0h3m2 0h2m5 0h5m3 0h2m1 0h2m2 0h1"/>
<path class="q6" d="M0 336.55h1m1 0h2m2 0h1m11 0h1m4 0h1m3 0h3m4 0h1m16 0h1m1 0h1m3 0h1m4 0h2m1 0h1m3 0h1m1 0h1m2 0h1m6 0h1m6 0h1m20 0h1m13 0h1m6 0h1m2 0h1m2 0h2m3 0h2m1 0h1m5 0h2m4 0h1m1 0h1m17 0h1m16 0h1m3 0h1m1 0h2m6 0h1m1 0h1m1 0h1m25 0h1m4 0h1m3 0h2m5 0h1m6 0h1m5 0h2m4 0h1m2 0h1m3 0h1m4 0h1m3 0h1m3 0h2m1 0h1m4 0h1m1 0h1m1 0h2m22 0h1m5 0h1m1 0h2m2 0h1m4 0h2m1 0h1m6 0h3m3 0h1m2 0h1m6 0h1m4 0h1m5 0h1m7 0h1m8 0h1m10 0h2m4 0h1m1 0h1m2 0h1m1 0h1m1 0h1m8 0h2m1 0h1m7 0h2m3 0h1m1 0h1m3 0h1m2 0h1m7 0h1m1 0h1m8 0h1m13 0h1m5 0h1"/>
<path class="q8" d="M13 336.55h1m1 0h2m4 0h1m4 0h1m12 0h1m2 0h1m1 0h2m1 0h2m17 0h1m23 0h1m5 0h1m2 0h2m1 0h1m3 0h1m19 0h1m1 0h1m3 0h1m7 0h1m6 0h1m1 0h1m10 0h1m3 0h1m9 0h1m14 0h1m4 0h1m18 0h1m3 0h1m3 0h1m39 0h1m6 0h1m22 0h1m19 0h1m9 0h1m5 0h1m31 0h2m5 0h1m11 0h1m30 0h1m17 0h1m2 0h1m2 0h1m14 0h1m5 0h1m13 0h1m5 0h1m2 0h1"/>
<path class="q10" d="M20 336.55h1m31 0h1m1 0h1m3 0h1m32 0h1m3 0h1m25 0h1m12 0h1m8 0h1m41 0h1m6 0h1m46 0h1m37 0h1m35 0h1m1 0h1m38 0h1m3 0h1m3 0h1m51 0h1m13 0h1m28 0h1m41 0h1"/>
<path class="q12" d="M82 336.55h1m63 0h1m21 0h1m37 0h1m17 0h1m9 0h1m46 0h1m37 0h2m1 0h1m12 0h1m15 0h1m1 0h1m85 0h1m3 0h1m3 0h1m1 0h1"/>
<path class="q14" d="M1 336.55h1m10 0h1m301 0h1"/>
</g>
<g stroke-width="8.2">
<path class="q2" d="M193 579.7h1m87 0h1m36 0h1m28 0h1M26 614.7h1m85 0h1m71 0h1m25 0h1m18 0h1m3 0h1m8 0h1m17 0h1m5 0h1m23 0h1m4 0h1m30 0h1m25 0h1m65 0h1m21 0h1m8 0h1m3 0h1m5 0h1m13 0h1m6 0h1"/>
<path class="q4" d="M64 579.7h1m48 0h1m51 0h1m6 0h1m12 0h1m23 0h1m54 0h1m18 0h1m25 0h1m16 0h1m9 0h1m2 0h1m112 0h1m9 0h1M7 614.7h1m7 0h1m1 0h2m1 0h1m4 0h1m46 0h1m47 0h1m5 0h1m14 0h1m24 0h1m12 0h1m5 0h1m4 0h1m6 0h1m18 0h1m2 0h1m18 0h1m6 0h1m5 0h1m11 0h1m1 0h1m6 0h1m68 0h1m15 0h1m3 0h1m2 0h1m17 0h1m27 0h1m20 0h2m12 0h1m11 0h1m2 0h2m7 0h1m9 0h1m12 0h1"/>
<path class="q6" d="M0 579.7h1m43 0h1m13 0h1m4 0h1m51 0h1m6 0h1m10 0h1m26 0h1m16 0h1m28 0h1m4 0h1m30 0h1m1 0h1m22 0h2m1 0h1m14 0h1m80 0h1m5 0h1m22 0h2m23 0h1m18 0h1m46 0h1M27 614.7h2m9 0h1m12 0h1m5 0h1m8 0h1m11 0h1m4 0h1m3 0h1m9 0h1m5 0h1m1 0h1m5 0h1m4 0h1m11 0h1m11 0h1m4 0h1m13 0h1m9 0h1m2 0h1m2 0h1m5 0h1m10 0h1m7 0h1m1 0h1m18 0h1m8 0h2m2 0h1m1 0h2m10 0h3m5 0h2m4 0h1m29 0h1m5 0h1m2 0h1m11 0h1m3 0h1m10 0h1m2 0h1m11 0h1m2 0h2m3 0h1m36 0h1m9 0h2m7 0h1m1 0h1m2 0h1m2 0h1m3 0h1m1 0h1m2 0h1m2 0h1m18 0h1m36 0h2m2 0h1"/>
<path class="q8" d="M6 579.7h1m2 0h1m7 0h1m13 0h1m16 0h1m6 0h1m1 0h1m2 0h1m6 0h1m2 0h1m8 0h1m5 0h1m22 0h1m25 0h1m6 0h1m1 0h2m9 0h1m2 0h1m12 0h1m3 0h1m4 0h1m1 0h1m21 0h1m1 0h1m16 0h1m9 0h1m21 0h1m4 0h1m9 0h1m2 0h2m6 0h1m1 0h1m5 0h1m6 0h1m1 0h1m5 0h1m2 0h1m3 0h1m39 0h1m7 0h1m6 0h1m7 0h1m6 0h1m1 0h1m4 0h1m12 0h1m4 0h1m16 0h1m9 0h1m24 0h1m12 0h1m17 0h1m9 0h1M1 614.7h1m1 0h1m4 0h1m15 0h1m5 0h2m4 0h1m3 0h1m15 0h1m1 0h2m4 0h1m2 0h1m13 0h1m12 0h2m5 0h1m11 0h1m8 0h2m1 0h1m5 0h1m6 0h1m5 0h1m3 0h1m24 0h1m15 0h1m1 0h1m1 0h1m1 0h2m1 0h1m5 0h1m3 0h1m9 0h1m5 0h1m1 0h1m5 0h1m8 0h1m2 0h1m16 0h1m7 0h1m1 0h1m1 0h1m1 0h2m1 0h1m1 0h2m9 0h1m1 0h1m10 0h2m4 0h1m7 0h2m2 0h1m9 0h1m4 0h1m21 0h1m3 0h1m9 0h1m10 0h1m15 0h1m1 0h1m1 0h1m6 0h1m1 0h1m8 0h2m10 0h1m2 0h1m1 0h1m3 0h1m4 0h1m6 0h1m2 0h1m11 0h1"/>
<path class="q10" d="M2 579.7h2m4 0h1m5 0h2m16 0h1m1 0h1m7 0h2m2 0h1m6 0h1m2 0h1m14 0h1m1 0h1m2 0h1m3 0h3m7 0h1m3 0h2m16 0h1m3 0h2m6 0h3m1 0h1m1 0h1m4 0h1m19 0h2m5 0h1m5 0h1m4 0h1m13 0h1m2 0h1m4 0h1m3 0h1m16 0h1m22 0h2m8 0h1m10 0h1m23 0h1m5 0h1m8 0h3m6 0h1m3 0h3m4 0h1m8 0h2m3 0h1m1 0h1m1 0h1m7 0h1m7 0h1m1 0h1m1 0h1m23 0h1m12 0h1m6 0h1m7 0h1m7 0h3m1 0h1m4 0h1m1 0h1m18 0h1m8 0h1m10 0h1m3 0h1m8 0h2m12 0h2M2 614.7h1m1 0h2m4 0h1m1 0h2m2 0h1m2 0h1m12 0h1m1 0h1m20 0h1m6 0h1m6 0h1m12 0h1m3 0h1m1 0h1m2 0h1m7 0h1m9 0h1m4 0h2m5 0h1m8 0h1m1 0h1m9 0h1m7 0h1m5 0h1m3 0h1m1 0h1m1 0h1m2 0h2m2 0h1m11 0h1m3 0h1m18 0h1m16 0h1m1 0h1m17 0h1m11 0h1m14 0h1m11 0h1m1 0h2m3 0h1m7 0h1m1 0h1m6 0h2m3 0h1m8 0h1m6 0h1m1 0h1m4 0h3m5 0h1m1 0h1m4 0h1m5 0h1m14 0h1m1 0h1m1 0h1m3 0h1m12 0h1m3 0h1m7 0h1m4 0h1m5 0h1m1 0h1m12 0h2m4 0h1m5 0h1m8 0h2m4 0h1m6 0h1m1 0h1m6 0h1m20 0h3m3 0h1"/>
<path class="q12" d="M1 579.7h1m2 0h1m5 0h1m1 0h2m2 0h1m4 0h1m4 0h1m13 0h1m25 0h1m5 0h1m1 0h1m2 0h1m6 0h1m1 0h3m3 0h1m3 0h2m1 0h1m1 0h2m3 0h1m2 0h3m8 0h1m17 0h1m7 0h1m1 0h2m3 0h1m10 0h1m1 0h2m18 0h1m7 0h1m12 0h2m3 0h1m1 0h1m21 0h1m8 0h3m14 0h1m2 0h2m4 0h1m2 0h1m1 0h1m2 0h1m7 0h1m4 0h2m10 0h1m6 0h1m3 0h3m14 0h1m1 0h1m5 0h3m3 0h1m9 0h1m19 0h1m1 0h1m5 0h1m13 0h1m8 0h1m3 0h1m3 0h1m17 0h1m1 0h1m8 0h1m18 0h1m10 0h1m2 0h1m6 0h2M6 614.7h1m2 0h1m19 0h1m7 0h1m3 0h1m2 0h1m8 0h2m5 0h1m10 0h1m3 0h2m8 0h1m3 0h1m2 0h1m11 0h1m1 0h1m3 0h1m8 0h1m4 0h1m4 0h1m16 0h1m11 0h1m11 0h1m9 0h1m18 0h1m3 0h1m3 0h1m3 0h1m1 0h1m3 0h1m2 0h1m14 0h1m4 0h1m5 0h1m11 0h1m8 0h2m5 0h1m2 0h1m30 0h1m15 0h1m5 0h1m7 0h1m15 0h1m5 0h1m5 0h1m1 0h1m6 0h2m4 0h1m5 0h1m2 0h1m1 0h1m24 0h1m7 0h2m6 0h1m4 0h1m3 0h1m1 0h1m7 0h1m1 0h1m9 0h1m2 0h1m10 0h1m2 0h1m3 0h1m3 0h3"/>
<path class="q14" d="M7 579.7h1m11 0h1m2 0h1m1 0h1m2 0h1m10 0h1m8 0h1m1 0h2m1 0h1m12 0h1m2 0h1m6 0h1m2 0h1m12 0h1m8 0h1m2 0h2m13 0h2m9 0h1m1 0h1m7 0h1m11 0h1m17 0h1m18 0h2m1 0h1m4 0h2m3 0h1m11 0h1m3 0h1m2 0h1m6 0h1m7 0h1m7 0h1m8 0h2m3 0h1m3 0h1m16 0h1m7 0h1m2 0h1m1 0h1m4 0h1m8 0h1m1 0h1m13 0h1m2 0h2m5 0h1m12 0h1m3 0h1m13 0h1m1 0h1m10 0h1m12 0h1m3 0h1m6 0h1m4 0h1m18 0h1m1 0h1m19 0h1m12 0h1m14 0h1m2 0h1m1 0h1m18 0h1m1 0h1M0 614.7h1m13 0h1m6 0h3m18 0h1m2 0h1m1 0h1m4 0h1m21 0h1m4 0h2m12 0h1m2 0h1m5 0h1m14 0h1m15 0h2m1 0h1m2 0h1m13 0h3m5 0h1m1 0h1m10 0h1m3 0h1m26 0h1m9 0h1m11 0h1m24 0h1m1 0h1m41 0h1m6 0h1m5 0h1m2 0h1m1 0h3m6 0h1m1 0h1m13 0h1m8 0h1m4 0h1m4 0h1m3 0h1m4 0h1m9 0h1m11 0h1m3 0h2m2 0h1m7 0h1m41 0h1m34 0h1m3 0h1m1 0h1m7 0h1"/>
<path class="q16" d="M5 579.7h1m12 0h1m6 0h1m10 0h1m14 0h1m2 0h1m4 0h1m2 0h1m6 0h1m13 0h1m5 0h1m15 0h1m17 0h1m3 0h1m9 0h1m4 0h1m2 0h1m4 0h1m24 0h1m2 0h1m1 0h1m2 0h2m17 0h1m1 0h1m20 0h2m4 0h1m1 0h1m7 0h1m8 0h2m4 0h1m37 0h1m25 0h1m2 0h1m6 0h1m20 0h1m9 0h1m8 0h2m11 0h1m5 0h1m3 0h1m8 0h2m2 0h1m9 0h1m14 0h1m4 0h1m12 0h1m10 0h2m4 0h1m15 0h2m5 0h2m1 0h1m3 0h1M11 614.7h1m23 0h1m3 0h1m9 0h1m11 0h1m6 0h1m15 0h1m13 0h1m1 0h1m6 0h1m10 0h1m18 0h1m11 0h1m1 0h2m4 0h1m19 0h1m4 0h1m5 0h1m12 0h1m12 0h1m13 0h1m10 0h1m7 0h1m5 0h1m10 0h1m14 0h1m3 0h1m4 0h1m5 0h1m5 0h1m1 0h1m30 0h1m6 0h1m24 0h1m5 0h1m8 0h1m15 0h1m4 0h1m18 0h1m7 0h1m33 0h1m8 0h1m2 0h2m1 0h1"/>
<path class="q18" d="M11 579.7h1m16 0h1m10 0h1m74 0h1m32 0h1m15 0h1m7 0h1m10 0h1m17 0h1m9 0h1m4 0h1m2 0h1m2 0h1m2 0h1m3 0h2m8 0h1m16 0h1m7 0h1m11 0h1m26 0h1m24 0h1m32 0h1m8 0h1m20 0h1m21 0h1m14 0h1m1 0h2m3 0h1m6 0h1m22 0h1m3 0h1m10 0h1m13 0h1M33 614.7h1m12 0h1m16 0h1m1 0h1m4 0h1m37 0h1m56 0h1m28 0h1m14 0h1m12 0h1m63 0h1m34 0h1m23 0h1m23 0h1m9 0h1m5 0h1m20 0h1m61 0h1m7 0h1"/>
<path class="q20" d="M23 579.7h1m5 0h1m3 0h1m3 0h1m3 0h1m19 0h1m45 0h1m28 0h1m21 0h1m17 0h1m42 0h1m10 0h1m17 0h1m89 0h1m10 0h1m4 0h1m13 0h1m5 0h1m2 0h1m8 0h1m10 0h1m39 0h2m1 0h1m2 0h1m6 0h1m4 0h1m13 0h1M48 614.7h1m1 0h1m26 0h1m12 0h1m52 0h1m3 0h1m28 0h1m110 0h1m209 0h1"/>
<path class="q22" d="M20 579.7h1m119 0h1m18 0h1m1 0h1m30 0h1m65 0h1m39 0h1m23 0h1m56 0h1m28 0h1m37 0h1m1 0h1m2 0h1m2 0h1m20 0h1m15 0h1M43 614.7h1m29 0h1m53 0h1m7 0h1m50 0h1"/>
<path class="q24" d="M93 579.7h1m104 0h1m24 0h1m13 0h1m39 0h1m74 0h1m6 0h1m3 0h1m3 0h1m17 0h1m5 0h1m18 0h1m2 0h1m10 0h1m17 0h1m10 0h1m18 0h1M212 614.7h1m170 0h1m2 0h1m79 0h1"/>
<path class="q26" d="M30 579.7h1m67 0h1m53 0h1m81 0h1m179 0h1m44 0h1m27 0h1M436 614.7h1"/>
<path class="q28" d="M121 579.7h1m10 0h1m210 0h1M498 614.7h1"/>
<path class="q30" d="M35 579.7h1m9 0h1m419 0h1"/>
</g>
<g stroke-width="9">
<path class="q2" d="M2 636h1m1 0h1m1 0h1m1 0h1m5 0h1m2 0h2m4 0h1m9 0h3m2 0h1m1 0h1m3 0h1m8 0h1m1 0h1m3 0h1m2 0h1m4 0h1m2 0h1m1 0h2m3 0h1m1 0h2m2 0h3m1 0h2m1 0h1m8 0h3m1 0h1m3 0h2m2 0h1m7 0h2m8 0h1m3 0h1m4 0h3m5 0h2m7 0h2m1 0h1m6 0h3m1 0h1m3 0h1m2 0h2m2 0h2m4 0h2m1 0h2m8 0h2m1 0h2m4 0h1m1 0h1m3 0h1m2 0h1m2 0h2m4 0h2m1 0h1m3 0h2m4 0h3m1 0h2m1 0h1m1 0h1m3 0h1m2 0h1m3 0h1m1 0h2m2 0h1m1 0h1m2 0h1m4 0h1m2 0h1m6 0h1m1 0h1m1 0h1m4 0h1m7 0h1m8 0h1m2 0h1m1 0h3m2 0h1m2 0h2m1 0h1m4 0h1m1 0h1m2 0h2m3 0h1m6 0h1m5 0h1m1 0h2m1 0h1m1 0h1m5 0h3m6 0h1m10 0h1m8 0h1m4 0h1m1 0h1m4 0h1m2 0h1m1 0h1m3 0h1m3 0h1m4 0h1m3 0h2m1 0h1m7 0h1m1 0h2m2 0h2m1 0h1m2 0h2m2 0h4m2 0h2m3 0h1m2 0h5m4 0h2m3 0h1m1 0h1m3 0h1m3 0h2"/>
<path class="q4" d="M1 636h1m25 0h1m1 0h1m1 0h2m6 0h1m14 0h1m1 0h1m7 0h1m9 0h1m1 0h1m9 0h1m7 0h1m14 0h2m1 0h1m10 0h2m1 0h1m5 0h1m4 0h1m22 0h1m1 0h1m20 0h2m3 0h1m3 0h1m3 0h1m7 0h1m14 0h1m15 0h1m2 0h1m10 0h1m10 0h1m3 0h1m9 0h1m4 0h1m3 0h1m2 0h1m8 0h1m1 0h2m13 0h1m6 0h1m2 0h1m7 0h2m1 0h1m6 0h1m2 0h1m6 0h1m2 0h2m11 0h1m7 0h3m1 0h1m1 0h1m17 0h1m1 0h1m7 0h1m15 0h1m11 0h1m10 0h1m18 0h2m2 0h1m7 0h2m3 0h1m1 0h1m3 0h3"/>
<path class="q6" d="M95 636h1m26 0h1m20 0h1m26 0h1m3 0h1m22 0h1m8 0h1m4 0h1m108 0h1m14 0h1m8 0h1m19 0h1m17 0h1m2 0h1m34 0h1m4 0h1m67 0h1"/>
<path class="q8" d="M348 636h1"/>
<path class="q12" d="M71 636h1"/>
</g>
<g stroke-width="9.5">
<path class="q2" d="M14 645.25h1m5 0h1m3 0h1m3 0h1m7 0h1m14 0h1m1 0h1m3 0h1m13 0h1m1 0h1m3 0h2m2 0h1m14 0h1m2 0h1m5 0h1m4 0h2m12 0h1m1 0h1m3 0h1m5 0h1m1 0h1m3 0h1m1 0h2m10 0h1m9 0h1m3 0h2m7 0h1m2 0h1m1 0h1m3 0h1m5 0h1m14 0h1m4 0h1m9 0h1m11 0h1m9 0h1m4 0h1m15 0h1m10 0h2m11 0h1m11 0h4m5 0h2m14 0h1m2 0h2m16 0h1m7 0h1m6 0h1m2 0h1m8 0h2m17 0h2m11 0h1m6 0h2m6 0h1m8 0h1m7 0h2m9 0h1m10 0h1m1 0h1m1 0h1m16 0h1m2 0h2m5 0h1m5 0h1"/>
<path class="q4" d="M139 645.25h1m59 0h1m15 0h1m85 0h1m24 0h1m3 0h1m74 0h1m43 0h1m22 0h1"/>
</g>
</g>
<g stroke-width="1.4">
<path class="q2" d="M318 424.7h1"/>
<path class="q4" d="M315 424.7h1"/>
<path class="q8" d="M319 424.7h1"/>
<path class="q10" d="M316 424.7h1m3 0h1m43 0h1"/>
<path class="q12" d="M105 169.5h1"/>
<path class="q14" d="M101 169.5h1M317 424.7h1"/>
<path class="q16" d="M99 169.5h1m4 0h1"/>
<path class="q18" d="M91 169.5h1m2 0h1m1 0h1M366 424.7h1"/>
<path class="q22" d="M93 169.5h1m8 0h1M367 424.7h1"/>
<path class="q24" d="M92 169.5h1m2 0h1"/>
<path class="q26" d="M98 169.5h1m1 0h1m2 0h1M365 424.7h1"/>
<path class="q28" d="M97 169.5h1m8 0h1"/>
</g>
<g stroke-width="1.5">
<path class="q0" d="M302 380.75h1"/>
<path class="q2" d="M40 172.55h1M307 380.75h1"/>
<path class="q4" d="M43 172.55h1M300 380.75h1M306 442.25h1"/>
<path class="q6" d="M81 261.15h1M295 172.55h1M305 380.75h1m19 0h1M341 430.25h1"/>
<path class="q8" d="M41 172.55h1M88 261.15h1M293 172.55h1M316 380.75h2m9 0h1"/>
<path class="q10" d="M52 172.55h1m4 0h1M62 261.15h1m27 0h1M290 172.55h2M303 380.75h1m4 0h2m1 0h2m1 0h1m11 0h1"/>
<path class="q12" d="M44 172.55h1m1 0h1m4 0h1m4 0h1M63 261.15h1m16 0h1M289 172.55h1M310 380.75h1m9 0h4m4 0h1M367 432.75h1M293 442.25h2m3 0h1"/>
<path class="q14" d="M39 172.55h1m8 0h3m2 0h1m4 0h1M72 261.15h2m4 0h1m17 0h2M292 172.55h1M304 380.75h1m1 0h1m6 0h1m1 0h1m2 0h2M342 430.25h1M307 442.25h1m1 0h1"/>
<path class="q16" d="M61 261.15h1m2 0h2m3 0h1m12 0h1m4 0h1m10 0h1M324 380.75h1M364 432.75h2M288 442.25h2m11 0h1m1 0h1m13 0h2"/>
<path class="q18" d="M42 172.55h1m2 0h1m1 0h1m6 0h1m4 0h2M66 261.15h1m7 0h2m16 0h1m2 0h1M294 172.55h1M343 430.25h1M369 432.75h1M286 442.25h1m17 0h2m9 0h2m2 0h1"/>
<path class="q20" d="M70 261.15h1m5 0h1m6 0h3m5 0h1m1 0h1M296 172.55h1M301 380.75h1M340 430.25h1m4 0h1M368 432.75h1M285 442.25h1m1 0h1m7 0h1m18 0h1"/>
<path class="q22" d="M67 261.15h1m9 0h1m1 0h1m9 0h1M310 442.25h1m2 0h1"/>
<path class="q24" d="M55 172.55h1M68 261.15h1m30 0h1M344 430.25h1M296 442.25h1m3 0h1m1 0h1m5 0h1m2 0h1"/>
<path class="q26" d="M366 432.75h1m3 0h1M291 442.25h2"/>
<path class="q28" d="M94 261.15h1"/>
<path class="q30" d="M71 261.15h1m14 0h1M290 442.25h1m6 0h1m1 0h1m12 0h1"/>
</g>
<g stroke-width="1.6">
<path class="q0" d="M351 662.3h1m12 0h1m23 0h1m7 0h1m5 0h1m13 0h1m4 0h1m22 0h1m3 0h1m17 0h1m1 0h2m10 0h1m12 0h1M0 351.4h3m2 0h7m1 0h3m1 0h1m1 0h2m1 0h3m1 0h1m1 0h7m1 0h2m2 0h4m1 0h1m2 0h1m4 0h3m5 0h1m1 0h12m1 0h2m1 0h2m3 0h4m1 0h3m3 0h1m1 0h1m1 0h1m1 0h2m1 0h3m3 0h1m2 0h7m2 0h1m1 0h1m2 0h3m1 0h2m2 0h2m4 0h1m2 0h1m1 0h1m2 0h2m1 0h1m1 0h3"/>
<path class="q2" d="M352 662.3h1m3 0h1m19 0h1m7 0h1m9 0h1m4 0h2m7 0h1m5 0h1m10 0h3m4 0h1m1 0h1m2 0h1m3 0h1m4 0h2m3 0h1m1 0h1m4 0h1m8 0h1m5 0h1m1 0h2m4 0h2m1 0h1m1 0h1m2 0h1m2 0h1m1 0h5M294 158.8h1m1 0h1m40 0h1M3 351.4h2m11 0h1m1 0h1m2 0h1m3 0h1m1 0h1m7 0h1m2 0h2m4 0h1m1 0h2m1 0h4m3 0h5m1 0h1m15 0h1m2 0h3m4 0h1m3 0h3m1 0h1m1 0h1m1 0h1m2 0h1m3 0h3m1 0h1m8 0h2m3 0h1m4 0h1m2 0h1m3 0h3m2 0h2m1 0h1m2 0h1m4 0h1"/>
<path class="q4" d="M43 158.8h1M347 662.3h1m6 0h1m4 0h1m5 0h1m1 0h1m4 0h4m9 0h1m4 0h1m1 0h2m7 0h1m1 0h1m11 0h1m2 0h3m7 0h1m2 0h1m1 0h1m6 0h1m4 0h1m3 0h2m1 0h1m1 0h2m3 0h2m4 0h1m5 0h1m2 0h1m2 0h2m11 0h2M306 158.8h1m23 0h1m4 0h1M12 351.4h1m62 0h1m36 0h1m10 0h1m10 0h1m12 0h1m3 0h1"/>
<path class="q6" d="M60 158.8h1M330 662.3h1m22 0h1m1 0h1m2 0h1m10 0h2m10 0h1m1 0h1m2 0h2m1 0h1m15 0h1m1 0h1m1 0h2m2 0h1m3 0h1m4 0h1m1 0h1m10 0h1m6 0h2m13 0h1m3 0h1m8 0h1m1 0h1m12 0h1m1 0h1M336 158.8h1m3 0h1M364 517.8h1M140 351.4h1"/>
<path class="q8" d="M45 158.8h1M102 257.8h1M346 662.3h1m14 0h1m1 0h1m2 0h1m4 0h1m6 0h1m12 0h1m3 0h1m1 0h1m8 0h1m4 0h2m10 0h1m5 0h1m6 0h1m19 0h1m6 0h1M304 158.8h1m26 0h2m6 0h1M126 351.4h1"/>
<path class="q10" d="M41 158.8h1m7 0h1m2 0h1m6 0h1M303 662.3h1m12 0h3m2 0h1m2 0h1m3 0h1m11 0h1m1 0h1m7 0h1m6 0h1m2 0h1m16 0h1m1 0h1m18 0h1m39 0h2m22 0h1m20 0h1m15 0h1M289 158.8h1m7 0h2m1 0h1m1 0h1m30 0h2m3 0h1m2 0h1M300 374.4h1m35 0h1"/>
<path class="q12" d="M50 158.8h1m2 0h1M100 257.8h1M320 662.3h1m1 0h1m21 0h1m59 0h1m59 0h1m23 0h1M329 158.8h1M294 517.8h1"/>
<path class="q14" d="M44 158.8h1m2 0h1M85 257.8h1m6 0h1M43 374.4h1m9 0h1m1 0h1m16 0h1M168 662.3h1m66 0h1m17 0h1m44 0h1m7 0h1m3 0h1m8 0h1m5 0h1m9 0h2m25 0h1m17 0h1m1 0h1m47 0h1m48 0h1M291 158.8h1m9 0h1M289 374.4h1m6 0h1M359 517.8h1m3 0h1"/>
<path class="q16" d="M58 158.8h1M78 257.8h2m7 0h1m5 0h1m4 0h1M57 374.4h1m1 0h1m9 0h1M124 662.3h1m106 0h1m11 0h1m57 0h2m1 0h1m2 0h1m4 0h1m2 0h1m33 0h1m18 0h1M340 374.4h2M289 517.8h1m2 0h1"/>
<path class="q18" d="M46 158.8h1m4 0h1m3 0h2M74 257.8h2m7 0h1m6 0h2m2 0h1m2 0h1m1 0h1M41 374.4h2m4 0h1m1 0h2m27 0h1M118 662.3h1m51 0h1m36 0h1m59 0h1m31 0h1m5 0h1m17 0h1m13 0h2m6 0h1M299 158.8h1m42 0h1M302 374.4h1m32 0h1M362 517.8h1"/>
<path class="q20" d="M42 158.8h1M76 257.8h1m3 0h1m1 0h1m1 0h1m1 0h1m8 0h1M39 374.4h1m11 0h1m4 0h1m17 0h2m3 0h1M64 662.3h1m11 0h1m144 0h1m30 0h1m24 0h1m3 0h1m26 0h2m1 0h1m1 0h2m12 0h1m1 0h1m3 0h2m13 0h1M295 158.8h1M299 374.4h1m38 0h2M360 517.8h2"/>
<path class="q22" d="M57 158.8h1M77 257.8h1m10 0h2M54 374.4h1m3 0h1m14 0h1m2 0h1M65 662.3h1m29 0h1m2 0h1m118 0h1m22 0h1m9 0h1m75 0h1m4 0h2m6 0h1M293 158.8h1M291 374.4h2m5 0h1M291 517.8h1"/>
<path class="q24" d="M54 158.8h1M81 257.8h1M45 374.4h1m2 0h1m28 0h1m3 0h1M83 662.3h1m2 0h1m6 0h1m8 0h1m3 0h1m15 0h1m29 0h1m8 0h1m9 0h1m6 0h1m21 0h1m22 0h1m18 0h1m2 0h1m15 0h1m2 0h2m6 0h1m27 0h1M290 158.8h1m12 0h1m1 0h1M290 517.8h1"/>
<path class="q26" d="M48 158.8h1M101 257.8h1M38 374.4h1m7 0h1M67 662.3h1m2 0h2m9 0h1m18 0h1m11 0h1m15 0h1m11 0h1m7 0h2m10 0h1m3 0h1m14 0h1m19 0h1m25 0h1m28 0h1m36 0h1m49 0h1M294 374.4h2m1 0h1m44 0h1"/>
<path class="q28" d="M96 257.8h1M52 374.4h1M62 662.3h1m15 0h1m29 0h1m7 0h1m4 0h1m7 0h2m8 0h1m23 0h1m16 0h1m15 0h2m5 0h1m8 0h2m5 0h2m20 0h1m50 0h1m1 0h1m1 0h1m46 0h1M292 158.8h1M343 374.4h1"/>
<path class="q30" d="M40 374.4h1m3 0h1m15 0h1m9 0h2m8 0h1M61 662.3h1m1 0h1m2 0h1m1 0h2m2 0h4m1 0h1m1 0h2m1 0h1m1 0h2m1 0h6m1 0h1m1 0h2m1 0h1m1 0h1m1 0h3m1 0h1m1 0h3m1 0h3m1 0h1m1 0h2m2 0h1m1 0h3m3 0h8m2 0h7m2 0h2m1 0h7m2 0h1m2 0h3m1 0h1m2 0h6m3 0h15m2 0h1m2 0h2m1 0h3m1 0h4m2 0h3m1 0h1m3 0h1m1 0h1m1 0h5m1 0h3m1 0h4m4 0h1m1 0h4m1 0h1m3 0h6m1 0h2m2 0h1m1 0h4m1 0h4m1 0h3m1 0h9m2 0h1m1 0h1m1 0h1M290 374.4h1m2 0h1m7 0h1m35 0h1M293 517.8h1"/>
</g>
<g stroke-width="1.7">
<path class="q4" d="M422 243.35h1"/>
<path class="q6" d="M391 243.35h1"/>
<path class="q8" d="M450 243.35h1"/>
<path class="q10" d="M376 243.35h1m68 0h1"/>
<path class="q12" d="M369 243.35h1m36 0h1m3 0h1m9 0h1m4 0h1m3 0h1m23 0h1m33 0h1"/>
<path class="q14" d="M359 243.35h1m3 0h1m1 0h1m1 0h2m2 0h1m3 0h1m11 0h1m19 0h1m13 0h1m4 0h1m1 0h1m3 0h1m2 0h1m12 0h1m24 0h1m11 0h2m1 0h1m10 0h1"/>
<path class="q16" d="M355 243.35h1m22 0h1m2 0h1m11 0h1m15 0h1m3 0h1m5 0h1m4 0h1m11 0h1m9 0h1m4 0h1m4 0h1m12 0h1m5 0h2"/>
<path class="q18" d="M353 243.35h1m2 0h2m4 0h1m10 0h1m5 0h1m2 0h1m1 0h2m8 0h1m1 0h1m1 0h1m1 0h1m10 0h1m3 0h1m7 0h1m7 0h1m7 0h1m3 0h1m3 0h1m11 0h1m7 0h1m11 0h1m10 0h1m3 0h1m1 0h1m1 0h1"/>
<path class="q20" d="M358 243.35h1m13 0h1m7 0h1m11 0h1m9 0h1m11 0h1m3 0h1m11 0h1m7 0h1m1 0h1m3 0h1m7 0h1m1 0h1m6 0h1m4 0h1m3 0h1m3 0h1m3 0h1m1 0h1m1 0h2m5 0h1m2 0h1"/>
<path class="q22" d="M364 243.35h1m1 0h1m7 0h1m2 0h1m17 0h1m7 0h1m1 0h1m6 0h1m3 0h2m9 0h1m9 0h1m3 0h1m21 0h1m1 0h1m25 0h1m1 0h1"/>
<path class="q24" d="M389 243.35h2m6 0h1m1 0h1m4 0h1m29 0h1m7 0h1m6 0h1m12 0h1m5 0h1m2 0h2m22 0h1"/>
<path class="q26" d="M360 243.35h2m8 0h1m17 0h1m19 0h1m24 0h1m23 0h2m18 0h1m3 0h1m2 0h1"/>
<path class="q28" d="M386 243.35h1m77 0h1"/>
<path class="q30" d="M354 243.35h1m28 0h1m17 0h1m53 0h1m4 0h1m36 0h1"/>
</g>
<g stroke-width="1.8">
<path class="q2" d="M57 166.4h1M170 606.2h1m2 0h1"/>
<path class="q4" d="M52 163.4h1M56 166.4h1M166 606.2h1m14 0h1"/>
<path class="q6" d="M75 163.4h1M54 166.4h1m4 0h1M117 606.2h1m36 0h1m2 0h1m13 0h1m6 0h1"/>
<path class="q8" d="M64 606.2h1m68 0h1m29 0h1m10 0h1m1 0h1m2 0h2M298 166.4h1m5 0h1"/>
<path class="q10" d="M50 163.4h1m14 0h1m4 0h1M44 166.4h1M73 606.2h1m7 0h1m26 0h1m49 0h1m16 0h1M305 166.4h1"/>
<path class="q12" d="M77 163.4h1M55 166.4h1M135 606.2h2m9 0h1m4 0h2m2 0h2m2 0h1m2 0h1m4 0h1m1 0h1"/>
<path class="q14" d="M54 163.4h1m4 0h2m17 0h1M60 166.4h1M67 606.2h1m3 0h2m3 0h1m36 0h1m1 0h1m2 0h1m19 0h1m5 0h1m8 0h1m6 0h1M295 166.4h1m6 0h1"/>
<path class="q16" d="M51 163.4h1m16 0h1m2 0h2m3 0h1M63 606.2h1m11 0h1m1 0h1m31 0h3m8 0h1m22 0h1m17 0h1m2 0h1m7 0h1M301 166.4h1m1 0h1"/>
<path class="q18" d="M64 163.4h1m8 0h2M43 166.4h1m8 0h1m5 0h1M61 606.2h1m6 0h1m9 0h1m18 0h1m6 0h1m11 0h1m17 0h1m4 0h1m1 0h1m3 0h1m1 0h1m20 0h1M293 166.4h1m6 0h1m5 0h1"/>
<path class="q20" d="M55 163.4h3m5 0h1m2 0h1M62 606.2h1m6 0h1m35 0h1m1 0h1m4 0h1m9 0h2m3 0h1m1 0h2m1 0h1m7 0h1m7 0h1m16 0h1M289 166.4h1m1 0h1m7 0h1m7 0h1"/>
<path class="q22" d="M69 163.4h1M45 166.4h1M89 606.2h1m9 0h1m19 0h1m8 0h1m20 0h2m26 0h1M297 166.4h1"/>
<path class="q24" d="M53 163.4h1m7 0h2M47 166.4h1M70 606.2h1m3 0h1m11 0h1m16 0h1m2 0h1m30 0h1M290 166.4h1m1 0h1"/>
<path class="q26" d="M58 163.4h1m8 0h1M46 166.4h1m1 0h4M84 606.2h1m36 0h1m3 0h1"/>
<path class="q28" d="M66 606.2h1m13 0h1m13 0h2m30 0h1m15 0h1M296 166.4h1"/>
<path class="q30" d="M42 166.4h1m10 0h1M65 606.2h1m13 0h1m2 0h2m1 0h1m1 0h2m1 0h4m2 0h1m1 0h1m1 0h3m11 0h1m9 0h1m6 0h1M294 166.4h1"/>
</g>
<g stroke-width="2">
<path class="q0" d="M324 193.2h1m41 0h1m6 0h1m9 0h2m1 0h1m16 0h1m6 0h1m5 0h1"/>
<path class="q2" d="M65 193.2h1M352 193.2h1m3 0h1m11 0h1m8 0h1m15 0h1m4 0h1m7 0h1m1 0h1m11 0h1"/>
<path class="q4" d="M77 193.2h1m9 0h1m7 0h1M303 193.2h1m3 0h1m10 0h1m4 0h1m10 0h1m23 0h1m4 0h2m10 0h2m2 0h1m9 0h2m5 0h1m2 0h1m4 0h1m2 0h1m3 0h1m2 0h1m4 0h1m1 0h1m1 0h1"/>
<path class="q6" d="M75 193.2h1m4 0h1m1 0h1m2 0h1m12 0h1m15 0h1M39 899h1M304 193.2h1m5 0h1m10 0h1m26 0h1m1 0h1m8 0h2m4 0h1m1 0h1m1 0h3m8 0h1m10 0h1m5 0h1m3 0h1m3 0h1m3 0h1m2 0h1m9 0h1M305 489h1"/>
<path class="q8" d="M47 193.2h1m1 0h1m3 0h1m2 0h2m1 0h1m4 0h1m6 0h1m1 0h1m9 0h2m18 0h1m1 0h1M296 193.2h1m1 0h1m2 0h1m9 0h1m2 0h1m11 0h1m6 0h1m1 0h1m1 0h1m1 0h1m1 0h1m1 0h1m1 0h1m7 0h2m2 0h1m4 0h1m9 0h1m5 0h1m3 0h1m2 0h1m1 0h2m5 0h2m6 0h1m12 0h1m1 0h2M304 260.8h1"/>
<path class="q10" d="M58 193.2h1m9 0h1m1 0h1m3 0h1m1 0h1m13 0h1m1 0h1m14 0h2m2 0h1M87 899h1M295 193.2h1m4 0h1m16 0h1m4 0h1m4 0h1m3 0h1m4 0h1m3 0h1m1 0h1m1 0h1m4 0h1m11 0h1m12 0h1m6 0h1m10 0h1m7 0h1m12 0h1M306 260.8h1m3 0h1"/>
<path class="q12" d="M50 193.2h2m2 0h1m7 0h1m9 0h1m6 0h1m9 0h1m9 0h1m2 0h1m1 0h1m8 0h1M58 252.4h1M70 899h1M294 193.2h1m13 0h1m4 0h1m2 0h1m2 0h1m5 0h1m3 0h1m2 0h1m13 0h1m8 0h1M299 260.8h2m1 0h1m5 0h1M307 489h1M293 899h1m23 0h1"/>
<path class="q14" d="M48 193.2h1m6 0h1m11 0h1m1 0h1m16 0h1m4 0h1m1 0h1m2 0h1m12 0h1M44 899h1m35 0h1m5 0h1M297 193.2h1m7 0h1m6 0h1m17 0h1M303 260.8h1m1 0h1m3 0h1M292 487h1M302 489h2M283 899h1m2 0h1m28 0h1m4 0h1"/>
<path class="q16" d="M63 193.2h1m17 0h1m6 0h1m8 0h1m14 0h1M37 899h1m39 0h1m7 0h1m2 0h1M309 193.2h1m5 0h1m12 0h1M298 260.8h1M287 899h1m13 0h1m11 0h2"/>
<path class="q18" d="M61 193.2h1m4 0h1m11 0h1m21 0h2m8 0h1M43 252.4h1M45 899h1m35 0h1m1 0h1M299 193.2h1m20 0h1m17 0h1m8 0h1M294 487h1M300 489h2m6 0h1M285 899h1m19 0h1m13 0h1m2 0h1"/>
<path class="q20" d="M52 193.2h1m41 0h1m11 0h1M46 252.4h1M40 899h1m1 0h2m2 0h1m1 0h1m1 0h1m28 0h1m4 0h1M302 193.2h1m48 0h1M307 260.8h1M291 487h1M284 899h1m6 0h1m12 0h1"/>
<path class="q22" d="M44 252.4h1m2 0h1m3 0h1m1 0h1M41 899h1m5 0h1m28 0h1m1 0h1M306 193.2h1M290 487h1m2 0h1m1 0h1M304 489h1M292 899h1m9 0h2m2 0h2"/>
<path class="q24" d="M60 193.2h1M54 252.4h1m1 0h1M38 899h1m34 0h1M306 489h1M295 899h1m12 0h1m9 0h1m2 0h1"/>
<path class="q26" d="M49 252.4h1m5 0h1M71 899h1m2 0h1m7 0h1M282 899h1m6 0h1"/>
<path class="q28" d="M57 252.4h1M49 899h1m19 0h1m5 0h1M290 899h1"/>
<path class="q30" d="M42 252.4h1m2 0h1m2 0h1m1 0h1m1 0h1M51 899h1m20 0h1M301 260.8h1M288 899h1m5 0h1m21 0h1"/>
</g>
<g stroke-width="2.1">
<path class="q10" d="M14 243.35h1M77 429.85h1"/>
<path class="q12" d="M28 243.35h1m10 0h1m2 0h1M83 429.85h1"/>
<path class="q14" d="M7 243.35h4m15 0h1m11 0h1M41 429.85h1m3 0h1"/>
<path class="q16" d="M5 243.35h1m12 0h1m14 0h1m14 0h1M80 429.85h1M319 243.35h1m6 0h1"/>
<path class="q18" d="M0 243.35h1m14 0h2m4 0h1m8 0h1m9 0h1M42 429.85h1m35 0h1"/>
<path class="q20" d="M2 243.35h1m9 0h1m6 0h1m3 0h1m7 0h1m4 0h2m6 0h1M76 429.85h1m2 0h1m1 0h1M290 243.35h1m20 0h1m2 0h1m6 0h2"/>
<path class="q22" d="M25 243.35h1m6 0h1m2 0h1m14 0h1M289 243.35h1m20 0h1m6 0h1"/>
<path class="q24" d="M4 243.35h1m8 0h1m6 0h1m6 0h1m1 0h1m13 0h1m1 0h1m1 0h1m1 0h1M39 429.85h1m3 0h2m37 0h1M286 243.35h1m1 0h1m26 0h1m4 0h1m7 0h1"/>
<path class="q26" d="M6 243.35h1m10 0h1m4 0h1m1 0h1M287 243.35h1m69 0h1"/>
<path class="q28" d="M34 243.35h1m11 0h1M40 429.85h1M313 243.35h1"/>
<path class="q30" d="M1 243.35h1m1 0h1m7 0h1m29 0h1m9 0h1M283 243.35h3m5 0h1m17 0h1m2 0h1m3 0h1m1 0h1m4 0h3m1 0h1m27 0h2m1 0h2"/>
</g>
<g stroke-width="2.2">
<path class="q0" d="M65 180.9h1m5 0h1M55 186.9h1m13 0h1M348 186.9h1"/>
<path class="q2" d="M57 186.9h1m5 0h1m8 0h1m12 0h1M298 186.9h1m7 0h1m3 0h1m9 0h1"/>
<path class="q4" d="M74 180.9h2m5 0h1m14 0h2M47 186.9h2m2 0h1m2 0h1m9 0h2m5 0h1m8 0h1m7 0h1M309 180.9h1m10 0h2M316 186.9h1m4 0h1m7 0h1m13 0h1"/>
<path class="q6" d="M70 180.9h1m8 0h1m4 0h1m1 0h1m1 0h1m2 0h1m3 0h1M50 186.9h1m9 0h2m8 0h1m10 0h3m2 0h2M308 180.9h1m6 0h1m1 0h1m4 0h1m3 0h1M305 186.9h1m6 0h3m8 0h1m2 0h1m7 0h1m9 0h2"/>
<path class="q8" d="M60 180.9h1m3 0h1m11 0h1m1 0h1m10 0h1m8 0h2M52 186.9h1m3 0h1m1 0h2m14 0h2m1 0h1m1 0h1m9 0h1M98 426.4h1M95 437.7h1M307 180.9h1m2 0h2m2 0h1m8 0h1M300 186.9h1m24 0h1m13 0h1m1 0h1m5 0h1m2 0h2"/>
<path class="q10" d="M59 180.9h1m1 0h1m4 0h2m12 0h1m6 0h1m2 0h1m1 0h1M49 186.9h1m16 0h1m6 0h1m16 0h1M97 426.4h1M312 180.9h2m11 0h1M301 186.9h1m5 0h1m14 0h1m1 0h1m15 0h1m5 0h1m2 0h1"/>
<path class="q12" d="M50 180.9h1m22 0h1m3 0h1m4 0h1M46 186.9h1m6 0h1m8 0h1m4 0h1m16 0h1M38 426.4h1m44 0h1m12 0h1M50 488.9h1m2 0h1m3 0h1M299 180.9h1m4 0h1m11 0h1M296 186.9h2m1 0h1m3 0h2m6 0h1m3 0h1m11 0h1m2 0h4"/>
<path class="q14" d="M56 180.9h1m6 0h1m4 0h1m3 0h1m10 0h1m1 0h1m14 0h2M68 186.9h1M79 426.4h1M98 437.7h1M306 180.9h1M302 186.9h1m14 0h1m1 0h1m15 0h1m2 0h1m3 0h1"/>
<path class="q16" d="M62 180.9h1m39 0h1M78 186.9h1M39 426.4h1m41 0h1M55 488.9h2M308 186.9h2"/>
<path class="q18" d="M46 180.9h1m46 0h1M76 186.9h1M78 426.4h1M101 437.7h2M297 180.9h1m20 0h1m5 0h1M318 186.9h1"/>
<path class="q20" d="M48 180.9h2m44 0h1M37 426.4h1m42 0h1m14 0h1M336 186.9h2"/>
<path class="q22" d="M69 180.9h1M41 426.4h1M298 180.9h1m3 0h1m16 0h1M328 186.9h1"/>
<path class="q24" d="M82 426.4h1M99 437.7h2M54 488.9h1"/>
<path class="q26" d="M47 180.9h1M51 488.9h2M301 180.9h1"/>
<path class="q28" d="M51 180.9h1M40 426.4h1M97 437.7h1M305 180.9h1"/>
<path class="q30" d="M45 180.9h1m6 0h4m1 0h2M96 437.7h1M296 180.9h1m3 0h1m2 0h1"/>
</g>
<g stroke-width="2.3">
<path class="q10" d="M89 504.65h1m9 0h1m2 0h1"/>
<path class="q12" d="M88 504.65h1m6 0h1"/>
<path class="q14" d="M86 504.65h1m3 0h2m1 0h1"/>
<path class="q16" d="M87 504.65h1"/>
<path class="q18" d="M94 504.65h1m1 0h1m1 0h1m2 0h1m3 0h1"/>
<path class="q20" d="M92 504.65h1m10 0h1"/>
<path class="q24" d="M104 504.65h1"/>
<path class="q26" d="M100 504.65h1"/>
<path class="q30" d="M97 504.65h1"/>
</g>
<g stroke-width="2.4">
<path class="q2" d="M306 163.2h1"/>
<path class="q4" d="M104 666.8h1m8 0h1m8 0h1M328 163.2h1m8 0h1"/>
<path class="q6" d="M100 666.8h1M322 163.2h1m18 0h1m6 0h1m2 0h1"/>
<path class="q8" d="M118 666.8h1M283 163.2h1m3 0h1m9 0h1m3 0h1m6 0h1m8 0h1m8 0h2m7 0h1m7 0h2m5 0h1"/>
<path class="q10" d="M96 666.8h1m1 0h1m6 0h1m3 0h1M290 163.2h3m3 0h1m8 0h1m4 0h1m3 0h2m5 0h1m2 0h1m5 0h1m2 0h1m5 0h1m7 0h1"/>
<path class="q12" d="M102 666.8h1m5 0h1m11 0h2M289 163.2h1m5 0h1m6 0h1m15 0h1m4 0h1m7 0h1m10 0h1"/>
<path class="q14" d="M54 260.8h1M106 666.8h1m7 0h1m1 0h2m1 0h1m3 0h1M282 163.2h1m2 0h1m13 0h2m2 0h1m7 0h1m33 0h1m3 0h1"/>
<path class="q16" d="M48 260.8h1m6 0h1M94 666.8h2m3 0h1m1 0h1m1 0h1m6 0h3m2 0h1M284 163.2h1m3 0h1m18 0h1m4 0h1m7 0h1m17 0h1"/>
<path class="q18" d="M107 666.8h1m16 0h1M293 163.2h1m4 0h1m5 0h1m8 0h1m5 0h1m9 0h1m4 0h1m5 0h1m5 0h1"/>
<path class="q20" d="M286 163.2h1m7 0h1m14 0h1m6 0h1m15 0h1m3 0h1"/>
<path class="q24" d="M97 666.8h1M325 163.2h1"/>
<path class="q28" d="M51 260.8h1m4 0h1m1 0h1"/>
<path class="q30" d="M46 260.8h2m1 0h2m1 0h2m3 0h1m1 0h2"/>
</g>
<g stroke-width="2.6">
<path class="q2" d="M288 426.7h1"/>
<path class="q6" d="M294 426.7h1"/>
<path class="q8" d="M35 420.6h1M286 426.7h1"/>
<path class="q10" d="M71 420.6h1m1 0h2M290 420.6h1"/>
<path class="q12" d="M34 420.6h1m47 0h2M289 420.6h1M290 426.7h1"/>
<path class="q14" d="M72 420.6h1m4 0h1M342 420.6h1"/>
<path class="q16" d="M41 420.6h1m27 0h1m11 0h1M289 426.7h1m1 0h1"/>
<path class="q18" d="M36 420.6h1m33 0h1M343 420.6h1M293 426.7h1"/>
<path class="q20" d="M339 420.6h2M292 426.7h1"/>
<path class="q22" d="M75 420.6h1M288 420.6h1m5 0h1M287 426.7h1"/>
<path class="q24" d="M37 420.6h1m1 0h1m36 0h1M296 420.6h1"/>
<path class="q26" d="M80 420.6h1M291 420.6h2m2 0h1m41 0h2m2 0h1"/>
<path class="q28" d="M293 420.6h1"/>
<path class="q30" d="M38 420.6h1m1 0h1m37 0h2M287 420.6h1"/>
</g>
<g stroke-width="2.8">
<path class="q8" d="M285 609.2h1"/>
<path class="q10" d="M289 609.2h1m66 0h2"/>
<path class="q12" d="M286 609.2h1"/>
<path class="q16" d="M355 609.2h1"/>
<path class="q18" d="M358 609.2h1"/>
<path class="q22" d="M354 609.2h1"/>
<path class="q24" d="M291 609.2h1"/>
<path class="q28" d="M284 609.2h1"/>
<path class="q30" d="M287 609.2h2m1 0h1"/>
</g>
<g stroke-width="2.9">
<path class="q0" d="M324 151.75h1m22 0h1M377 151.75h2m3 0h1m27 0h1m1 0h1m1 0h1m2 0h1m6 0h1m1 0h1m4 0h1m2 0h1m4 0h1m4 0h1m1 0h1m3 0h1m1 0h1m3 0h2m1 0h1m8 0h1m3 0h1m18 0h1m3 0h1"/>
<path class="q2" d="M373 151.75h2m6 0h1m2 0h1m1 0h1m3 0h2m3 0h1m2 0h1m2 0h3m1 0h4m6 0h2m4 0h1m3 0h1m1 0h1m1 0h1m2 0h1m7 0h1m1 0h1m2 0h1m1 0h2m2 0h1m2 0h1m3 0h1m3 0h1m3 0h1m4 0h1m4 0h1m1 0h1m1 0h1m4 0h1m1 0h1m1 0h2m5 0h2"/>
<path class="q4" d="M100 151.75h1M305 151.75h1m60 0h1M371 151.75h1m4 0h1m3 0h1m2 0h1m1 0h1m6 0h3m1 0h1m2 0h2m10 0h1m6 0h1m4 0h1m4 0h1m1 0h1m4 0h1m13 0h1m3 0h1m1 0h1m5 0h1m2 0h2m3 0h1m4 0h1m7 0h1m1 0h1m1 0h1m5 0h3m4 0h1"/>
<path class="q6" d="M310 151.75h1M315 438.05h1m30 0h1M372 151.75h1m15 0h2m7 0h1m21 0h1m2 0h1m10 0h1m2 0h3m2 0h1m1 0h1m16 0h1m2 0h1m6 0h1m2 0h1m1 0h1m3 0h1m3 0h1m4 0h1"/>
<path class="q8" d="M62 151.75h1m28 0h3m1 0h1m2 0h1M301 151.75h1m2 0h1m1 0h1m1 0h1m12 0h1m3 0h1m4 0h1M375 151.75h1m3 0h1m7 0h1m21 0h1m3 0h1m6 0h1m46 0h1m9 0h1m20 0h1"/>
<path class="q10" d="M58 151.75h1m2 0h1m2 0h1m19 0h1m12 0h1M296 151.75h1m25 0h1m3 0h1M336 438.05h1m2 0h1m1 0h1M404 151.75h1m76 0h1"/>
<path class="q12" d="M60 151.75h1m2 0h1m26 0h1M303 151.75h1m3 0h1m1 0h1m3 0h1m5 0h2m10 0h1m14 0h1m1 0h1M335 438.05h1m1 0h1"/>
<path class="q14" d="M79 151.75h1m16 0h1M312 151.75h1m1 0h2m1 0h1m9 0h1m36 0h1M313 438.05h1m5 0h1m23 0h2"/>
<path class="q16" d="M81 151.75h1m17 0h1M302 151.75h1m8 0h1m17 0h1m12 0h1M316 438.05h1m15 0h3m7 0h1m2 0h1"/>
<path class="q18" d="M78 151.75h1M300 151.75h1m22 0h1"/>
<path class="q20" d="M72 151.75h1m2 0h1m4 0h1m1 0h1m3 0h1M318 151.75h1m19 0h1M314 438.05h1m23 0h1m27 0h1"/>
<path class="q22" d="M45 151.75h1m8 0h1m19 0h1M298 151.75h1m44 0h1m19 0h1M317 438.05h1"/>
<path class="q24" d="M49 151.75h1m9 0h1m11 0h1m4 0h1m12 0h1m4 0h1M344 151.75h2M318 438.05h1m21 0h1m19 0h1m4 0h1"/>
<path class="q26" d="M40 151.75h1m16 0h1m15 0h1m9 0h1m4 0h1M295 151.75h1"/>
<path class="q28" d="M38 151.75h1m2 0h1m45 0h1M286 151.75h1m41 0h1m4 0h1m6 0h1m24 0h1"/>
<path class="q30" d="M39 151.75h1m2 0h3m1 0h3m1 0h4m1 0h2m20 0h1m7 0h1M287 151.75h8m2 0h1m1 0h1m16 0h1m15 0h1m1 0h4m1 0h1m1 0h1M361 438.05h4"/>
</g>
<g stroke-width="3">
<path class="q0" d="M92 177.2h1M360 177.2h1"/>
<path class="q2" d="M80 177.2h1m5 0h1M358 177.2h1"/>
<path class="q4" d="M79 177.2h1m11 0h1m10 0h1M352 177.2h1m3 0h1m7 0h1m2 0h1m3 0h1m10 0h1"/>
<path class="q6" d="M355 177.2h1m1 0h1m3 0h2m9 0h2m1 0h3"/>
<path class="q8" d="M90 177.2h1M300 177.2h1m18 0h1m7 0h1m12 0h1m3 0h2m7 0h2m8 0h1m5 0h1m4 0h1m3 0h1m1 0h1"/>
<path class="q10" d="M66 177.2h1m3 0h1m11 0h1m2 0h1m10 0h2m1 0h2M298 177.2h1m25 0h1m1 0h1m10 0h1m1 0h1m2 0h1m16 0h1m5 0h1m15 0h1"/>
<path class="q12" d="M52 177.2h1m21 0h2m1 0h1m3 0h1m6 0h1m4 0h1M294 177.2h2m24 0h1m13 0h2m7 0h1m5 0h1m20 0h1m8 0h1M303 252.5h1m8 0h1"/>
<path class="q14" d="M53 177.2h2m3 0h1m1 0h1m8 0h1m3 0h1m2 0h1m1 0h1m16 0h1m2 0h1M297 177.2h1m4 0h1m14 0h1m7 0h1m5 0h2m35 0h1"/>
<path class="q16" d="M57 177.2h1m1 0h1m11 0h1m15 0h1m6 0h1M296 177.2h1m21 0h1m2 0h1m14 0h1m1 0h1m2 0h1m4 0h1m1 0h1M314 252.5h1m1 0h1"/>
<path class="q18" d="M56 177.2h1m15 0h1m11 0h1m16 0h1M293 177.2h1m34 0h1m37 0h1M304 252.5h1m2 0h1"/>
<path class="q20" d="M55 177.2h1m27 0h1m5 0h1M291 177.2h2m8 0h1m9 0h1m2 0h1m15 0h1m16 0h1m3 0h1M305 252.5h1"/>
<path class="q22" d="M61 177.2h1m5 0h1M299 177.2h1m15 0h1m6 0h1m6 0h1m3 0h1m16 0h1M310 252.5h1m4 0h1"/>
<path class="q24" d="M62 177.2h2M305 177.2h1m1 0h1m2 0h1m12 0h1M306 252.5h1m2 0h1m1 0h1"/>
<path class="q26" d="M64 177.2h1m3 0h1M316 177.2h1"/>
<path class="q28" d="M312 177.2h1"/>
<path class="q30" d="M65 177.2h1M303 177.2h2m1 0h1m1 0h2m3 0h1M308 252.5h1m4 0h1"/>
</g>
<g stroke-width="3.3">
<path class="q0" d="M19 234.65h1m3 0h1"/>
<path class="q2" d="M29 234.65h1"/>
<path class="q4" d="M68 234.65h1M2 234.65h1m2 0h1m6 0h1"/>
<path class="q6" d="M1 234.65h1m4 0h1m2 0h1m5 0h1m9 0h2m5 0h1"/>
<path class="q8" d="M299 234.65h1m1 0h1m1 0h1M10 234.65h1m3 0h1m2 0h2m2 0h1m5 0h1m2 0h2"/>
<path class="q10" d="M70 234.65h1M297 234.65h1m4 0h1m25 0h1M3 234.65h1m4 0h1m2 0h1m1 0h1m2 0h1m3 0h1m3 0h1m8 0h1"/>
<path class="q12" d="M62 234.65h1M292 234.65h1m12 0h1m7 0h1M0 234.65h1m6 0h1m14 0h1m11 0h1"/>
<path class="q14" d="M37 234.65h2m28 0h1m4 0h1m4 0h1m4 0h1M285 234.65h1m18 0h1m4 0h1m2 0h1m13 0h1M28 234.65h1"/>
<path class="q16" d="M51 234.65h1M284 234.65h1m1 0h1m11 0h1m7 0h1m4 0h1m4 0h1M4 234.65h1"/>
<path class="q18" d="M45 234.65h1m4 0h1m8 0h1m3 0h1m5 0h1m4 0h1M283 234.65h1m6 0h1m5 0h1m3 0h1m7 0h1m1 0h1m13 0h1m2 0h1"/>
<path class="q20" d="M39 234.65h3m1 0h2m7 0h1m1 0h1"/>
<path class="q22" d="M60 234.65h2m16 0h1m2 0h1M295 234.65h1m11 0h1m6 0h1m3 0h1m6 0h1"/>
<path class="q24" d="M80 234.65h1M293 234.65h1m28 0h1"/>
<path class="q26" d="M53 234.65h1m2 0h2m6 0h2m9 0h1M287 234.65h1m29 0h1"/>
<path class="q28" d="M48 234.65h1m22 0h1M291 234.65h1m23 0h1m3 0h1m1 0h1"/>
<path class="q30" d="M42 234.65h1m6 0h1m5 0h1m2 0h1m7 0h1m6 0h1m2 0h1m2 0h1M288 234.65h2m4 0h1m25 0h1m2 0h1"/>
</g>
<g stroke-width="3.4">
<path class="q0" d="M217 353.9h1m17 0h1"/>
<path class="q2" d="M326 353.9h1m14 0h1m7 0h1M210 353.9h1m2 0h3m16 0h1m8 0h1m3 0h1m9 0h1m15 0h1"/>
<path class="q4" d="M324 353.9h1m4 0h1m5 0h1m4 0h1m1 0h1m3 0h1m21 0h1M207 353.9h2m2 0h1m4 0h1m5 0h2m3 0h1m1 0h1m26 0h1m1 0h1m9 0h1m6 0h1m1 0h1"/>
<path class="q6" d="M98 353.9h1M334 353.9h1m8 0h1m3 0h1m2 0h1m13 0h1M206 353.9h1m2 0h1m8 0h1m5 0h1m14 0h1m4 0h1m3 0h1m3 0h1m1 0h1m2 0h1m8 0h2m2 0h1m3 0h1"/>
<path class="q8" d="M317 353.9h1m4 0h1m5 0h1m2 0h1m1 0h1m10 0h1m6 0h1m13 0h1M219 353.9h3m9 0h1m6 0h1m7 0h1m2 0h2m14 0h1m3 0h1m2 0h1"/>
<path class="q10" d="M102 353.9h1M315 353.9h2m3 0h2m15 0h1m25 0h1m2 0h1M212 353.9h1m12 0h1m2 0h1m4 0h1m3 0h1m4 0h1m8 0h1m9 0h2m1 0h1m11 0h1"/>
<path class="q12" d="M325 353.9h1m1 0h1m2 0h1m1 0h1m5 0h1m6 0h1M226 353.9h1m3 0h1m3 0h1m1 0h1m23 0h1m2 0h1"/>
<path class="q14" d="M103 353.9h1m1 0h1M336 353.9h1m2 0h1m8 0h1m13 0h1M243 353.9h1m3 0h1m11 0h1"/>
<path class="q16" d="M99 353.9h1M318 353.9h1m4 0h1m43 0h1M253 353.9h1m19 0h1"/>
<path class="q18" d="M101 353.9h1M240 353.9h1"/>
<path class="q20" d="M100 353.9h1m3 0h1M314 353.9h1m4 0h1"/>
</g>
<g stroke-width="3.5">
<path class="q12" d="M51 264.75h1"/>
<path class="q16" d="M49 264.75h1"/>
<path class="q20" d="M46 264.75h1"/>
<path class="q22" d="M45 264.75h1m2 0h1m1 0h1"/>
<path class="q30" d="M47 264.75h1"/>
</g>
<g stroke-width="3.7">
<path class="q2" d="M42 223.35h1m1 0h1"/>
<path class="q4" d="M203 223.35h1m1 0h1m20 0h1m6 0h1m8 0h1m38 0h1m27 0h1m124 0h1m3 0h1m58 0h1"/>
<path class="q6" d="M28 223.35h1m17 0h1m1 0h1m4 0h1m46 0h1m2 0h1m109 0h1m14 0h2m2 0h1m14 0h1m5 0h1m1 0h1m10 0h1m24 0h1m21 0h1m6 0h1m22 0h1m7 0h1m31 0h1m36 0h1m10 0h1m13 0h1m12 0h1m2 0h1m13 0h1"/>
<path class="q8" d="M1 223.35h1m8 0h1m2 0h1m26 0h1m8 0h1m11 0h1m10 0h1m129 0h1m1 0h1m7 0h1m1 0h2m7 0h1m1 0h1m11 0h1m1 0h1m1 0h1m12 0h1m4 0h3m3 0h1m6 0h1m13 0h1m10 0h1m14 0h1m3 0h1m1 0h1m27 0h1m19 0h1m23 0h1m15 0h1m12 0h1m17 0h1m2 0h1m6 0h1m8 0h1m7 0h2m29 0h2m2 0h1"/>
<path class="q10" d="M15 223.35h1m8 0h1m7 0h1m6 0h1m15 0h1m4 0h1m2 0h1m20 0h1m13 0h1m31 0h1m21 0h1m1 0h1m54 0h1m1 0h1m4 0h1m5 0h1m1 0h1m2 0h1m6 0h2m13 0h1m6 0h1m5 0h1m7 0h2m1 0h1m2 0h1m24 0h1m3 0h4m5 0h1m14 0h1m28 0h1m2 0h1m13 0h1m1 0h2m2 0h1m3 0h1m11 0h1m7 0h1m8 0h2m2 0h1m6 0h1m22 0h1m3 0h1m7 0h1m11 0h2m4 0h1m6 0h1"/>
<path class="q12" d="M6 223.35h1m23 0h1m7 0h1m4 0h1m13 0h1m1 0h1m4 0h1m4 0h3m13 0h1m8 0h1m2 0h1m7 0h1m11 0h1m10 0h1m22 0h1m10 0h3m28 0h1m13 0h1m2 0h1m6 0h1m2 0h2m21 0h3m5 0h1m6 0h1m4 0h2m3 0h1m5 0h1m12 0h1m8 0h1m2 0h1m11 0h1m3 0h1m7 0h1m1 0h1m1 0h2m4 0h2m1 0h1m5 0h1m1 0h1m7 0h2m2 0h1m7 0h1m2 0h3m6 0h1m10 0h3m2 0h1m9 0h2m3 0h1m2 0h1m2 0h1m21 0h1m3 0h1m11 0h1m2 0h1m14 0h2m9 0h2m5 0h1m1 0h1"/>
<path class="q14" d="M5 223.35h1m2 0h1m9 0h1m2 0h1m3 0h1m3 0h1m5 0h2m13 0h2m2 0h1m10 0h1m1 0h1m6 0h2m1 0h1m1 0h1m6 0h1m6 0h1m7 0h1m2 0h1m9 0h1m18 0h1m2 0h1m2 0h1m4 0h1m3 0h1m19 0h1m3 0h1m2 0h1m9 0h1m8 0h1m2 0h1m10 0h1m10 0h1m11 0h1m8 0h1m9 0h1m16 0h1m9 0h3m2 0h1m2 0h1m2 0h1m4 0h1m25 0h1m12 0h1m4 0h2m23 0h1m8 0h1m7 0h2m3 0h1m10 0h1m8 0h1m3 0h1m2 0h1m14 0h2m21 0h1m9 0h1m6 0h1m7 0h1m15 0h2m1 0h1"/>
<path class="q16" d="M2 223.35h1m4 0h1m3 0h2m20 0h1m7 0h1m10 0h1m3 0h1m26 0h1m3 0h2m19 0h1m7 0h1m15 0h1m1 0h1m21 0h1m17 0h1m5 0h1m17 0h1m7 0h1m23 0h1m5 0h1m9 0h1m5 0h1m16 0h1m14 0h1m5 0h1m9 0h1m1 0h1m21 0h1m15 0h1m14 0h1m7 0h1m8 0h1m18 0h1m4 0h1m1 0h1m10 0h1m2 0h1m4 0h1m5 0h1m5 0h2m1 0h1m8 0h2m1 0h1m1 0h1m15 0h2m3 0h1m8 0h1m17 0h1m3 0h1"/>
<path class="q18" d="M4 223.35h1m9 0h1m7 0h2m2 0h1m4 0h1m2 0h1m38 0h1m4 0h1m2 0h2m6 0h2m5 0h1m9 0h2m3 0h1m7 0h1m2 0h1m1 0h1m4 0h1m1 0h1m10 0h1m2 0h1m7 0h1m3 0h2m6 0h1m10 0h1m41 0h1m38 0h1m34 0h1m1 0h1m3 0h1m5 0h1m12 0h1m13 0h1m3 0h1m3 0h1m1 0h1m3 0h1m4 0h1m3 0h1m19 0h1m24 0h2m15 0h1m5 0h1m5 0h1m4 0h1m16 0h1m2 0h1m1 0h1m15 0h1m10 0h1m5 0h1"/>
<path class="q20" d="M0 223.35h1m2 0h1m12 0h2m2 0h1m16 0h1m42 0h1m11 0h1m6 0h1m12 0h1m22 0h1m1 0h1m17 0h1m11 0h1m9 0h1m5 0h1m8 0h1m45 0h1m9 0h1m26 0h1m13 0h1m13 0h1m22 0h1m3 0h1m17 0h1m8 0h1m85 0h1m40 0h1m7 0h1"/>
<path class="q22" d="M19 223.35h1m25 0h1m16 0h1m5 0h1m7 0h1m14 0h1m3 0h1m6 0h1m15 0h1m22 0h1m5 0h1m1 0h1m9 0h1m22 0h1m1 0h1m4 0h1m5 0h1m5 0h1m78 0h1m40 0h1m25 0h1m11 0h2m4 0h1m27 0h2m6 0h1m19 0h1m57 0h1"/>
<path class="q24" d="M27 223.35h1m19 0h1m10 0h1m54 0h1m7 0h1m1 0h1m19 0h1m25 0h1m1 0h1m1 0h1m17 0h1m118 0h1m11 0h1m47 0h1m2 0h1m112 0h1"/>
<path class="q26" d="M9 223.35h1m100 0h1m15 0h2m33 0h1m17 0h1m1 0h1m14 0h1m2 0h2m94 0h1m86 0h1m3 0h1m37 0h1m11 0h1m20 0h1m10 0h1"/>
<path class="q28" d="M66 223.35h1m71 0h1m7 0h1m3 0h1m35 0h1m1 0h1m1 0h1m92 0h1m193 0h1"/>
<path class="q30" d="M109 223.35h1m5 0h1m4 0h1m4 0h1m14 0h1m19 0h1m5 0h1m3 0h1m7 0h1m8 0h1m161 0h1m133 0h1"/>
</g>
<g stroke-width="5.3">
<path class="q20" d="M47 537.65h1"/>
<path class="q22" d="M45 537.65h1"/>
<path class="q26" d="M43 537.65h2"/>
<path class="q30" d="M42 537.65h1m3 0h1"/>
</g>
<g stroke-width="5.7">
<path class="q0" d="M275 673.65h1m187 0h1m13 0h1"/>
<path class="q2" d="M233 673.65h1m92 0h1m15 0h1m37 0h1m3 0h1m34 0h1m11 0h1"/>
<path class="q4" d="M10 673.65h1m12 0h1m3 0h1m25 0h1m57 0h1m51 0h1m71 0h1m37 0h2m2 0h1m4 0h1m9 0h1m38 0h1m40 0h1m17 0h1m2 0h2m5 0h1m7 0h2m11 0h1m21 0h1m15 0h1m8 0h1"/>
<path class="q6" d="M7 673.65h1m3 0h1m62 0h1m25 0h2m24 0h1m22 0h1m73 0h1m14 0h1m9 0h1m5 0h1m4 0h1m2 0h1m1 0h1m2 0h1m25 0h1m13 0h1m3 0h1m28 0h1m5 0h1m8 0h1m7 0h1m5 0h1m11 0h2m4 0h1m9 0h1m9 0h1m2 0h1m4 0h1m4 0h1m1 0h1m11 0h1m9 0h1m2 0h1m6 0h1m1 0h1m19 0h1m10 0h1"/>
<path class="q8" d="M6 673.65h1m31 0h1m4 0h1m17 0h1m10 0h1m13 0h1m8 0h1m9 0h1m9 0h1m9 0h1m17 0h1m10 0h1m5 0h1m23 0h1m2 0h1m10 0h1m25 0h1m3 0h1m3 0h1m3 0h1m2 0h2m2 0h1m1 0h1m3 0h1m5 0h1m1 0h1m3 0h1m18 0h1m16 0h1m6 0h2m12 0h1m5 0h1m8 0h1m5 0h1m4 0h1m2 0h1m3 0h2m4 0h1m2 0h1m10 0h1m2 0h3m29 0h1m4 0h1m4 0h1m11 0h1m19 0h1m2 0h1m12 0h1m14 0h1m3 0h1m9 0h1m1 0h1"/>
<path class="q10" d="M12 673.65h1m13 0h1m4 0h1m4 0h1m14 0h1m6 0h1m5 0h1m10 0h1m3 0h1m3 0h1m8 0h1m13 0h1m20 0h1m3 0h1m7 0h1m8 0h1m1 0h1m4 0h1m16 0h1m18 0h2m13 0h1m1 0h1m4 0h1m11 0h1m1 0h1m1 0h2m16 0h1m4 0h1m5 0h1m1 0h1m4 0h1m2 0h2m1 0h1m4 0h1m1 0h2m10 0h1m3 0h2m4 0h1m11 0h1m1 0h2m1 0h1m1 0h1m7 0h1m4 0h1m1 0h1m2 0h1m18 0h1m20 0h2m10 0h1m1 0h2m2 0h2m8 0h1m6 0h1m4 0h1m8 0h1m3 0h1m7 0h2m5 0h2m3 0h1m23 0h1m9 0h1m1 0h1m4 0h2m3 0h1m1 0h1"/>
<path class="q12" d="M1 673.65h1m1 0h1m1 0h1m11 0h2m1 0h1m4 0h1m7 0h1m3 0h1m1 0h1m22 0h1m15 0h1m19 0h2m4 0h1m5 0h1m2 0h1m8 0h1m19 0h1m3 0h2m9 0h1m6 0h1m6 0h1m10 0h1m3 0h1m2 0h1m9 0h1m4 0h1m10 0h1m1 0h1m16 0h1m7 0h1m8 0h1m31 0h1m1 0h2m1 0h1m12 0h1m1 0h1m5 0h2m11 0h1m5 0h1m12 0h1m3 0h1m2 0h1m17 0h1m12 0h1m3 0h1m4 0h1m10 0h1m1 0h2m1 0h1m8 0h1m4 0h1m4 0h3m10 0h1m3 0h1m16 0h1m9 0h1m3 0h2m8 0h1m3 0h1m2 0h3m3 0h1m2 0h1"/>
<path class="q14" d="M8 673.65h1m10 0h1m28 0h1m3 0h1m12 0h2m1 0h3m5 0h1m8 0h1m1 0h1m9 0h1m16 0h1m1 0h1m1 0h1m1 0h1m7 0h1m1 0h1m1 0h1m1 0h1m1 0h2m2 0h1m10 0h1m1 0h1m4 0h1m2 0h1m6 0h3m5 0h1m1 0h1m4 0h1m9 0h1m1 0h1m11 0h1m4 0h1m6 0h1m30 0h1m2 0h1m2 0h1m6 0h1m17 0h1m2 0h1m6 0h1m4 0h1m5 0h1m3 0h1m1 0h1m12 0h1m13 0h1m2 0h1m10 0h1m11 0h2m4 0h1m17 0h1m12 0h1m15 0h1m12 0h1m4 0h2m3 0h1m11 0h1m5 0h1m2 0h1m1 0h1m1 0h1m3 0h1m3 0h1m9 0h1m1 0h1m16 0h1"/>
<path class="q16" d="M13 673.65h1m2 0h1m5 0h1m1 0h1m3 0h1m11 0h1m9 0h1m5 0h1m6 0h1m16 0h3m8 0h1m2 0h1m7 0h1m4 0h2m10 0h1m18 0h1m6 0h1m6 0h1m9 0h1m2 0h1m1 0h1m5 0h1m1 0h1m4 0h1m4 0h1m19 0h1m15 0h1m4 0h1m10 0h1m34 0h1m26 0h1m13 0h1m2 0h1m8 0h1m3 0h1m13 0h1m10 0h1m3 0h2m5 0h1m20 0h1m42 0h1m22 0h1m16 0h1m5 0h1m2 0h1"/>
<path class="q18" d="M2 673.65h1m26 0h1m12 0h1m3 0h1m24 0h1m12 0h1m3 0h1m1 0h1m18 0h1m2 0h1m22 0h1m64 0h1m9 0h2m2 0h1m3 0h1m1 0h1m25 0h1m23 0h1m16 0h1m1 0h1m8 0h1m21 0h1m15 0h1m13 0h1m2 0h1m14 0h1m1 0h1m82 0h1m11 0h1m7 0h1"/>
<path class="q20" d="M30 673.65h1m1 0h1m1 0h1m14 0h1m5 0h1m1 0h1m2 0h1m6 0h1m5 0h1m19 0h1m23 0h1m5 0h2m4 0h1m29 0h1m6 0h1m7 0h1m2 0h1m1 0h1m1 0h1m8 0h1m6 0h1m3 0h1m7 0h1m21 0h1m9 0h1m88 0h1m33 0h1m8 0h1m67 0h2m18 0h1"/>
<path class="q22" d="M9 673.65h1m4 0h1m29 0h1m32 0h1m18 0h1m44 0h1m14 0h1m45 0h2m12 0h1m5 0h1m21 0h1m21 0h1m168 0h1"/>
<path class="q24" d="M4 673.65h1m10 0h1m25 0h1m3 0h1m1 0h1m6 0h1m48 0h1m17 0h1m11 0h1m54 0h1m134 0h1"/>
<path class="q26" d="M21 673.65h1m67 0h1m313 0h1"/>
<path class="q28" d="M0 673.65h1m34 0h1m158 0h1"/>
<path class="q30" d="M59 673.65h1m84 0h1m51 0h1"/>
</g>
<g stroke-width="5.9">
<path class="q0" d="M55 343.55h1"/>
<path class="q2" d="M40 343.55h1m32 0h1M301 343.55h1m39 0h1m1 0h1"/>
<path class="q4" d="M42 343.55h1m13 0h1m17 0h1m13 0h1M299 343.55h1m39 0h1m6 0h1M498 343.55h1"/>
<path class="q6" d="M53 343.55h1m13 0h1m2 0h1M291 343.55h1m5 0h1m2 0h1m37 0h1m1 0h1m1 0h1m1 0h1M496 343.55h1m2 0h1"/>
<path class="q8" d="M41 343.55h1m9 0h1m19 0h1M298 343.55h1m46 0h1M489 343.55h1m1 0h1"/>
<path class="q10" d="M54 343.55h1m17 0h1"/>
<path class="q12" d="M48 343.55h1m1 0h1m18 0h1m14 0h1m1 0h2M294 343.55h1m7 0h1M497 343.55h1"/>
<path class="q14" d="M52 343.55h1m4 0h1m10 0h1m11 0h2m1 0h1M292 343.55h2"/>
<path class="q16" d="M49 343.55h1m25 0h1m9 0h1m3 0h2M295 343.55h1M490 343.55h1"/>
<path class="q18" d="M76 343.55h2m1 0h1m2 0h1M492 343.55h2m1 0h1"/>
<path class="q20" d="M46 343.55h1M494 343.55h1"/>
<path class="q24" d="M78 343.55h1"/>
<path class="q26" d="M45 343.55h1M296 343.55h1"/>
<path class="q30" d="M43 343.55h2m2 0h1"/>
</g>
<g stroke-width="6">
<path class="q0" d="M94 453h1M325 453h1m123 0h1m8 0h1M290 895h1m2 0h1m4 0h28"/>
<path class="q2" d="M52 453h1m6 0h1m19 0h1m7 0h2m1 0h2M301 453h1m22 0h1m7 0h1m118 0h1m17 0h1m18 0h1m3 0h1M291 895h1m2 0h1"/>
<path class="q4" d="M50 453h1m16 0h1m4 0h1m4 0h1m24 0h1m2 0h1M313 453h1m8 0h1m10 0h1m1 0h1m4 0h2m124 0h1m3 0h1m6 0h1m3 0h1m1 0h1m5 0h2m4 0h1M288 895h1m3 0h1m2 0h3m31 0h1"/>
<path class="q6" d="M47 453h1m6 0h1m1 0h1m4 0h1m16 0h1m1 0h1m4 0h1m3 0h1m5 0h1m2 0h3m5 0h1M297 453h2m8 0h2m11 0h1m6 0h1m6 0h1m1 0h2m4 0h1m105 0h1m3 0h2m1 0h2m3 0h2m1 0h2m3 0h1m10 0h2m1 0h1m2 0h1m1 0h1m5 0h1m2 0h1M326 895h1m3 0h1m1 0h1"/>
<path class="q8" d="M49 453h1m20 0h1m2 0h1m2 0h1m9 0h1m5 0h2m7 0h1m2 0h1M299 453h2m1 0h1m1 0h3m2 0h2m1 0h1m4 0h1m3 0h1m6 0h1m1 0h2m6 0h2m4 0h1m1 0h1m107 0h1m7 0h1m4 0h1m3 0h6m14 0h1m2 0h1m3 0h1M333 895h1"/>
<path class="q10" d="M46 453h1m1 0h1m2 0h1m1 0h1m3 0h2m1 0h1m1 0h1m6 0h1m1 0h1m9 0h1m1 0h1m19 0h1M303 453h1m7 0h1m11 0h1m126 0h1m6 0h1m7 0h1m12 0h1m5 0h1m1 0h1m12 0h1M328 895h1m5 0h1m16 0h1"/>
<path class="q12" d="M55 453h1m10 0h1m1 0h1m5 0h1m22 0h1M39 895h1M314 453h1m3 0h1m24 0h1m1 0h1m151 0h1M289 895h1m41 0h1m8 0h1m5 0h1"/>
<path class="q14" d="M64 453h2m18 0h1m11 0h1M315 453h2m2 0h1m6 0h1m2 0h1M327 895h1"/>
<path class="q16" d="M37 895h1M347 453h1m111 0h1M339 895h1"/>
<path class="q18" d="M75 453h1m6 0h1M40 895h1M347 895h1"/>
<path class="q20" d="M38 895h1m5 0h1M335 895h1m2 0h1m9 0h1"/>
<path class="q22" d="M42 895h1m2 0h1M341 895h1"/>
<path class="q24" d="M345 895h1"/>
<path class="q26" d="M63 453h1M337 895h1m6 0h1m4 0h1"/>
<path class="q28" d="M350 895h1"/>
<path class="q30" d="M41 895h1m1 0h1M336 895h1m5 0h2"/>
</g>
<g stroke-width="8.2">
<path class="q0" d="M62 614.7h2m2 0h2m2 0h1m26 0h1m10 0h1m1 0h10m1 0h2m1 0h1m1 0h2"/>
<path class="q2" d="M59 614.7h1m1 0h1m2 0h2m2 0h2m1 0h1m3 0h1m4 0h1m21 0h2m5 0h1m19 0h1m21 0h1"/>
<path class="q4" d="M21 614.7h1m52 0h1m11 0h1m3 0h1m5 0h1m7 0h4m12 0h1m4 0h1m8 0h1m12 0h1m9 0h1m14 0h1m37 0h1m21 0h1m26 0h1M367 614.7h1"/>
<path class="q6" d="M8 614.7h1m22 0h1m1 0h1m1 0h1m19 0h1m20 0h1m1 0h1m3 0h1m8 0h1m2 0h2m2 0h2m23 0h1m4 0h1m2 0h2m2 0h1m1 0h3m8 0h3m2 0h2m1 0h1m6 0h1m10 0h1m12 0h1m3 0h1m8 0h1m16 0h1m31 0h1m26 0h1"/>
<path class="q8" d="M7 614.7h1m3 0h1m7 0h1m6 0h1m1 0h3m7 0h1m1 0h1m4 0h1m2 0h1m24 0h1m19 0h1m7 0h1m41 0h4m5 0h1m6 0h1m1 0h2m19 0h1m2 0h1m12 0h2m14 0h1m23 0h1m6 0h1m7 0h1m9 0h1m11 0h1M368 614.7h3"/>
<path class="q10" d="M0 614.7h1m1 0h2m1 0h1m12 0h1m27 0h1m4 0h1m8 0h1m11 0h1m6 0h1m5 0h1m1 0h1m12 0h1m41 0h1m12 0h1m2 0h1m5 0h1m1 0h3m9 0h1m15 0h1m9 0h1m1 0h2m14 0h1m4 0h2m11 0h1m6 0h1m2 0h1m1 0h1m7 0h1m5 0h1m6 0h1M357 614.7h1m14 0h2"/>
<path class="q12" d="M14 614.7h1m1 0h1m5 0h2m15 0h1m9 0h1m4 0h1m22 0h1m3 0h1m1 0h1m8 0h1m37 0h1m5 0h1m3 0h1m19 0h1m12 0h1m1 0h1m5 0h1m8 0h1m2 0h1m11 0h1m7 0h1m11 0h1m11 0h1m3 0h1m1 0h2m1 0h1m4 0h1m3 0h3m4 0h1M358 614.7h1m3 0h2"/>
<path class="q14" d="M4 614.7h1m15 0h1m3 0h1m12 0h1m3 0h1m1 0h2m8 0h1m2 0h1m27 0h1m3 0h1m44 0h1m7 0h1m34 0h2m11 0h1m2 0h1m2 0h1m1 0h1m4 0h1m5 0h1m6 0h1m2 0h1m4 0h1m15 0h1m8 0h1m9 0h1m6 0h1m3 0h1m1 0h1M374 614.7h1"/>
<path class="q16" d="M10 614.7h1m4 0h1m18 0h1m15 0h1m6 0h1m113 0h1m7 0h1m3 0h2m16 0h1m1 0h1m7 0h1m7 0h1m9 0h1m3 0h1m2 0h1m5 0h1m21 0h1m2 0h1m9 0h1M360 614.7h1"/>
<path class="q18" d="M6 614.7h1m2 0h1m2 0h2m11 0h1m26 0h1m5 0h1m30 0h1m80 0h1m41 0h1m11 0h1m5 0h2m2 0h1m33 0h1m1 0h1M355 614.7h2m18 0h1"/>
<path class="q20" d="M1 614.7h1m15 0h1m147 0h1m3 0h1m16 0h1m9 0h1m12 0h1m11 0h1m4 0h1m8 0h1m18 0h1m17 0h1"/>
<path class="q22" d="M27 614.7h1m8 0h1m10 0h1m132 0h1m7 0h1m31 0h1m53 0h1M361 614.7h1m4 0h1m4 0h1m4 0h1"/>
<path class="q24" d="M42 614.7h1M354 614.7h1m9 0h2"/>
<path class="q26" d="M261 614.7h1"/>
<path class="q30" d="M32 614.7h1m183 0h1M359 614.7h1"/>
</g>
</g>
</g>
<path stroke="#fff" stroke-opacity="0.09" stroke-width="1" fill="none" shape-rendering="crispEdges" d="M255.5 127.6v805.0M260.5 127.6v805.0M265.5 127.6v805.0M270.5 127.6v805.0M314.5 127.6v805.0M319.5 127.6v805.0M324.5 127.6v805.0M329.5 127.6v805.0M334.5 127.6v805.0M374.5 127.6v805.0M379.5 127.6v805.0M384.5 127.6v805.0M389.5 127.6v805.0M394.5 127.6v805.0M433.5 127.6v805.0M438.5 127.6v805.0M443.5 127.6v805.0M448.5 127.6v805.0M453.5 127.6v805.0M493.5 127.6v805.0M498.5 127.6v805.0M503.5 127.6v805.0M508.5 127.6v805.0M513.5 127.6v805.0M557.5 127.6v805.0M562.5 127.6v805.0M567.5 127.6v805.0M572.5 127.6v805.0M577.5 127.6v805.0M617.5 127.6v805.0M622.5 127.6v805.0M627.5 127.6v805.0M632.5 127.6v805.0M637.5 127.6v805.0M676.5 127.6v805.0M681.5 127.6v805.0M686.5 127.6v805.0M691.5 127.6v805.0M696.5 127.6v805.0M736.5 127.6v805.0M741.5 127.6v805.0M746.5 127.6v805.0M751.5 127.6v805.0M756.5 127.6v805.0M795.5 127.6v805.0M800.5 127.6v805.0M805.5 127.6v805.0M810.5 127.6v805.0M815.5 127.6v805.0M860.5 127.6v805.0M865.5 127.6v805.0M870.5 127.6v805.0M875.5 127.6v805.0M880.5 127.6v805.0M919.5 127.6v805.0M924.5 127.6v805.0M929.5 127.6v805.0M934.5 127.6v805.0M939.5 127.6v805.0M979.5 127.6v805.0M984.5 127.6v805.0M989.5 127.6v805.0M994.5 127.6v805.0M999.5 127.6v805.0M1038.5 127.6v805.0M1043.5 127.6v805.0M1048.5 127.6v805.0M1053.5 127.6v805.0M1058.5 127.6v805.0M1103.5 127.6v805.0M1108.5 127.6v805.0M1113.5 127.6v805.0M1118.5 127.6v805.0M1123.5 127.6v805.0M1162.5 127.6v805.0M1167.5 127.6v805.0M1172.5 127.6v805.0M1177.5 127.6v805.0M1182.5 127.6v805.0M1222.5 127.6v805.0M1227.5 127.6v805.0M1232.5 127.6v805.0M1237.5 127.6v805.0M1242.5 127.6v805.0M1281.5 127.6v805.0M1286.5 127.6v805.0M1291.5 127.6v805.0M1296.5 127.6v805.0M1301.5 127.6v805.0M1346.5 127.6v805.0M1351.5 127.6v805.0M1356.5 127.6v805.0M1361.5 127.6v805.0M1366.5 127.6v805.0M1405.5 127.6v805.0M1410.5 127.6v805.0M1415.5 127.6v805.0M1420.5 127.6v805.0M1425.5 127.6v805.0M1465.5 127.6v805.0M1470.5 127.6v805.0M1475.5 127.6v805.0M1480.5 127.6v805.0M1485.5 127.6v805.0"/>
<path stroke="#fff" stroke-opacity="0.04" stroke-width="1" fill="none" shape-rendering="crispEdges" d="M275.5 127.6v805.0M280.5 127.6v805.0M304.5 127.6v805.0M309.5 127.6v805.0M339.5 127.6v805.0M364.5 127.6v805.0M369.5 127.6v805.0M399.5 127.6v805.0M404.5 127.6v805.0M423.5 127.6v805.0M428.5 127.6v805.0M458.5 127.6v805.0M463.5 127.6v805.0M483.5 127.6v805.0M488.5 127.6v805.0M518.5 127.6v805.0M523.5 127.6v805.0M547.5 127.6v805.0M552.5 127.6v805.0M582.5 127.6v805.0M607.5 127.6v805.0M612.5 127.6v805.0M642.5 127.6v805.0M647.5 127.6v805.0M666.5 127.6v805.0M671.5 127.6v805.0M701.5 127.6v805.0M706.5 127.6v805.0M726.5 127.6v805.0M731.5 127.6v805.0M761.5 127.6v805.0M766.5 127.6v805.0M790.5 127.6v805.0M820.5 127.6v805.0M825.5 127.6v805.0M850.5 127.6v805.0M855.5 127.6v805.0M885.5 127.6v805.0M890.5 127.6v805.0M909.5 127.6v805.0M914.5 127.6v805.0M944.5 127.6v805.0M949.5 127.6v805.0M969.5 127.6v805.0M974.5 127.6v805.0M1004.5 127.6v805.0M1009.5 127.6v805.0M1033.5 127.6v805.0M1063.5 127.6v805.0M1068.5 127.6v805.0M1093.5 127.6v805.0M1098.5 127.6v805.0M1128.5 127.6v805.0M1133.5 127.6v805.0M1152.5 127.6v805.0M1157.5 127.6v805.0M1187.5 127.6v805.0M1192.5 127.6v805.0M1212.5 127.6v805.0M1217.5 127.6v805.0M1247.5 127.6v805.0M1252.5 127.6v805.0M1276.5 127.6v805.0M1306.5 127.6v805.0M1311.5 127.6v805.0M1336.5 127.6v805.0M1341.5 127.6v805.0M1371.5 127.6v805.0M1395.5 127.6v805.0M1400.5 127.6v805.0M1430.5 127.6v805.0M1435.5 127.6v805.0M1455.5 127.6v805.0M1460.5 127.6v805.0"/>
</g>
<g fill="none" stroke="#fff" stroke-width="4">
<rect x="338.8" y="139" width="177.6" height="778.7"/>
<rect x="946" y="139" width="177.5" height="778.7"/>
</g>
<text x="526.8" y="908.5" textLength="237" lengthAdjust="spacingAndGlyphs" style="fill:#fff">Onset response</text>
<text x="1136.3" y="908.5" textLength="239" lengthAdjust="spacingAndGlyphs" style="fill:#fff">Offset response</text>
<rect x="249.9" y="127.6" width="1239.7" height="805.0" fill="none" stroke="#000" stroke-width="1.6"/>
<g stroke="#000" stroke-width="1.6">
<line x1="242.9" x2="249.9" y1="187.0" y2="187.0"/>
<line x1="242.9" x2="249.9" y1="294.5" y2="294.5"/>
<line x1="242.9" x2="249.9" y1="402.0" y2="402.0"/>
<line x1="242.9" x2="249.9" y1="509.5" y2="509.5"/>
<line x1="242.9" x2="249.9" y1="617.0" y2="617.0"/>
<line x1="242.9" x2="249.9" y1="724.5" y2="724.5"/>
<line x1="242.9" x2="249.9" y1="832.0" y2="832.0"/>
<line x1="249.9" x2="249.9" y1="932.6" y2="939.4"/>
<line x1="498.2" x2="498.2" y1="932.6" y2="939.4"/>
<line x1="746.5" x2="746.5" y1="932.6" y2="939.4"/>
<line x1="994.8" x2="994.8" y1="932.6" y2="939.4"/>
<line x1="1243.1" x2="1243.1" y1="932.6" y2="939.4"/>
</g>
<text x="233.4" y="197.7" text-anchor="end" textLength="92.4" lengthAdjust="spacingAndGlyphs">48000</text>
<text x="233.4" y="305.2" text-anchor="end" textLength="92.4" lengthAdjust="spacingAndGlyphs">46000</text>
<text x="233.4" y="412.7" text-anchor="end" textLength="92.4" lengthAdjust="spacingAndGlyphs">44000</text>
<text x="233.4" y="520.2" text-anchor="end" textLength="92.4" lengthAdjust="spacingAndGlyphs">42000</text>
<text x="233.4" y="627.7" text-anchor="end" textLength="92.4" lengthAdjust="spacingAndGlyphs">40000</text>
<text x="233.4" y="735.2" text-anchor="end" textLength="92.4" lengthAdjust="spacingAndGlyphs">38000</text>
<text x="233.4" y="842.7" text-anchor="end" textLength="92.4" lengthAdjust="spacingAndGlyphs">36000</text>
<text x="250.8" y="974.4" text-anchor="middle" textLength="47" lengthAdjust="spacingAndGlyphs">0.0</text>
<text x="499.1" y="974.4" text-anchor="middle" textLength="47" lengthAdjust="spacingAndGlyphs">0.1</text>
<text x="747.4" y="974.4" text-anchor="middle" textLength="47" lengthAdjust="spacingAndGlyphs">0.2</text>
<text x="995.7" y="974.4" text-anchor="middle" textLength="47" lengthAdjust="spacingAndGlyphs">0.3</text>
<text x="1244.0" y="974.4" text-anchor="middle" textLength="47" lengthAdjust="spacingAndGlyphs">0.4</text>
<text x="653.6" y="1018.6" textLength="472" lengthAdjust="spacingAndGlyphs">time_relative_to_stimulus_onset</text>
<text transform="translate(120,577.2) rotate(-90)" textLength="99.4" lengthAdjust="spacingAndGlyphs">unit_id</text>
<defs><linearGradient id="mg" x1="0" y1="1" x2="0" y2="0">
<stop offset="0.000" stop-color="#000004"/>
<stop offset="0.025" stop-color="#02020d"/>
<stop offset="0.050" stop-color="#06051a"/>
<stop offset="0.075" stop-color="#0d0a29"/>
<stop offset="0.100" stop-color="#140e36"/>
<stop offset="0.125" stop-color="#1d1147"/>
<stop offset="0.150" stop-color="#251255"/>
<stop offset="0.175" stop-color="#2f1163"/>
<stop offset="0.200" stop-color="#3b0f70"/>
<stop offset="0.225" stop-color="#451077"/>
<stop offset="0.250" stop-color="#51127c"/>
<stop offset="0.275" stop-color="#5a167e"/>
<stop offset="0.300" stop-color="#641a80"/>
<stop offset="0.325" stop-color="#6e1e81"/>
<stop offset="0.350" stop-color="#782281"/>
<stop offset="0.375" stop-color="#832681"/>
<stop offset="0.400" stop-color="#8c2981"/>
<stop offset="0.425" stop-color="#962c80"/>
<stop offset="0.450" stop-color="#a1307e"/>
<stop offset="0.475" stop-color="#ab337c"/>
<stop offset="0.500" stop-color="#b73779"/>
<stop offset="0.525" stop-color="#c03a76"/>
<stop offset="0.550" stop-color="#ca3e72"/>
<stop offset="0.575" stop-color="#d5446d"/>
<stop offset="0.600" stop-color="#de4968"/>
<stop offset="0.625" stop-color="#e75263"/>
<stop offset="0.650" stop-color="#ed5a5f"/>
<stop offset="0.675" stop-color="#f2645c"/>
<stop offset="0.700" stop-color="#f7705c"/>
<stop offset="0.725" stop-color="#f97b5d"/>
<stop offset="0.750" stop-color="#fc8961"/>
<stop offset="0.775" stop-color="#fd9467"/>
<stop offset="0.800" stop-color="#fe9f6d"/>
<stop offset="0.825" stop-color="#feac76"/>
<stop offset="0.850" stop-color="#feb77e"/>
<stop offset="0.875" stop-color="#fec488"/>
<stop offset="0.900" stop-color="#fecf92"/>
<stop offset="0.925" stop-color="#fdda9c"/>
<stop offset="0.950" stop-color="#fde7a9"/>
<stop offset="0.975" stop-color="#fcf2b4"/>
<stop offset="1.000" stop-color="#fcfdbf"/>
</linearGradient></defs>
<rect x="1566.4" y="166.4" width="38.9" height="766.1" fill="url(#mg)"/>
<path d="M1566.4 166.9L1585.8 127.4L1605.3 166.9Z" fill="#fcfdbf"/>
<path d="M1566.4 932.5L1566.4 166.4L1585.8 127.4L1605.3 166.4L1605.3 932.5Z" fill="none" stroke="#000" stroke-width="1.2" stroke-linejoin="miter"/>
<g stroke="#000" stroke-width="1.6">
<line x1="1605.3" x2="1611.8" y1="932.5" y2="932.5"/>
<line x1="1605.3" x2="1611.8" y1="779.3" y2="779.3"/>
<line x1="1605.3" x2="1611.8" y1="626.1" y2="626.1"/>
<line x1="1605.3" x2="1611.8" y1="472.8" y2="472.8"/>
<line x1="1605.3" x2="1611.8" y1="319.6" y2="319.6"/>
<line x1="1605.3" x2="1611.8" y1="166.4" y2="166.4"/>
</g>
<text x="1617.2" y="943.3" textLength="66.6" lengthAdjust="spacingAndGlyphs">0.00</text>
<text x="1617.2" y="790.1" textLength="66.6" lengthAdjust="spacingAndGlyphs">0.02</text>
<text x="1617.2" y="636.9" textLength="66.6" lengthAdjust="spacingAndGlyphs">0.04</text>
<text x="1617.2" y="483.6" textLength="66.6" lengthAdjust="spacingAndGlyphs">0.06</text>
<text x="1617.2" y="330.4" textLength="66.6" lengthAdjust="spacingAndGlyphs">0.08</text>
<text x="1617.2" y="177.2" textLength="66.6" lengthAdjust="spacingAndGlyphs">0.10</text>
<text transform="translate(1706.4,421.8) rotate(90)" textLength="198.6" lengthAdjust="spacingAndGlyphs">spike_counts</text>
</svg></body></html>
